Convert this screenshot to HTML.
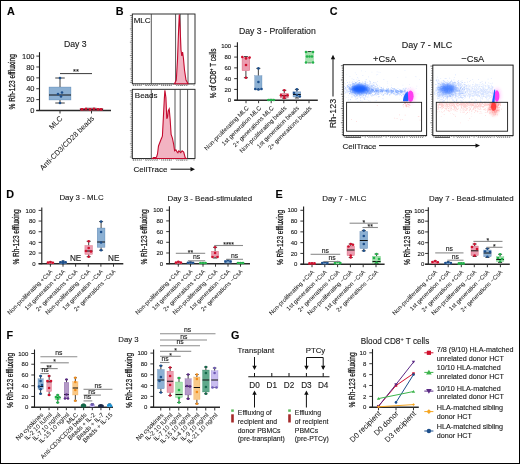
<!DOCTYPE html>
<html><head><meta charset="utf-8"><style>
html,body{margin:0;padding:0;background:#fff;}
svg{display:block;}
svg text{font-family:"Liberation Sans", sans-serif;opacity:0.99;stroke:#161616;stroke-width:0.12px;}
.vl{stroke-width:0.28px;}
.rl{stroke-width:0.04px;}
</style></head><body>
<svg width="520" height="464" viewBox="0 0 520 464">
<rect x="0" y="0" width="520" height="464" fill="#fff"/>
<text x="7" y="14.5" font-size="10.8" text-anchor="start" font-weight="bold" fill="#000" >A</text>
<text x="115.8" y="15" font-size="10.8" text-anchor="start" font-weight="bold" fill="#000" >B</text>
<text x="329.7" y="15" font-size="10.8" text-anchor="start" font-weight="bold" fill="#000" >C</text>
<text x="6.2" y="197.8" font-size="10.8" text-anchor="start" font-weight="bold" fill="#000" >D</text>
<text x="275.6" y="198.3" font-size="10.8" text-anchor="start" font-weight="bold" fill="#000" >E</text>
<text x="6.5" y="339" font-size="10.8" text-anchor="start" font-weight="bold" fill="#000" >F</text>
<text x="231" y="339" font-size="10.8" text-anchor="start" font-weight="bold" fill="#000" >G</text>
<text x="64" y="46.8" font-size="8.7" text-anchor="start" font-weight="normal" fill="#161616" >Day 3</text>
<line x1="39.5" y1="52.2" x2="39.5" y2="111.0" stroke="#1a1a1a" stroke-width="1.1" />
<line x1="36.3" y1="110.5" x2="111" y2="110.5" stroke="#2a2a2a" stroke-width="1.4" />
<line x1="36.3" y1="110.5" x2="39.5" y2="110.5" stroke="#222" stroke-width="0.9" />
<text transform="translate(34.5,113.2) scale(1.0,1)" font-size="7.5" text-anchor="end" fill="#161616">0</text>
<line x1="36.3" y1="99.62" x2="39.5" y2="99.62" stroke="#222" stroke-width="0.9" />
<text transform="translate(34.5,102.32000000000001) scale(1.0,1)" font-size="7.5" text-anchor="end" fill="#161616">20</text>
<line x1="36.3" y1="88.74" x2="39.5" y2="88.74" stroke="#222" stroke-width="0.9" />
<text transform="translate(34.5,91.44) scale(1.0,1)" font-size="7.5" text-anchor="end" fill="#161616">40</text>
<line x1="36.3" y1="77.86" x2="39.5" y2="77.86" stroke="#222" stroke-width="0.9" />
<text transform="translate(34.5,80.56) scale(1.0,1)" font-size="7.5" text-anchor="end" fill="#161616">60</text>
<line x1="36.3" y1="66.97999999999999" x2="39.5" y2="66.97999999999999" stroke="#222" stroke-width="0.9" />
<text transform="translate(34.5,69.67999999999999) scale(1.0,1)" font-size="7.5" text-anchor="end" fill="#161616">80</text>
<line x1="36.3" y1="56.1" x2="39.5" y2="56.1" stroke="#222" stroke-width="0.9" />
<text transform="translate(34.5,58.800000000000004) scale(1.0,1)" font-size="7.5" text-anchor="end" fill="#161616">100</text>
<text class="vl" transform="translate(15.2,81.8) rotate(-90) scale(0.745,1)" font-size="8.8" text-anchor="middle" fill="#161616">% Rh-123 effluxing</text>
<line x1="60" y1="110.5" x2="60" y2="113.5" stroke="#333" stroke-width="1.0" />
<line x1="91.5" y1="110.5" x2="91.5" y2="113.5" stroke="#333" stroke-width="1.0" />
<line x1="60.0" y1="78" x2="60.0" y2="87" stroke="#2a2a2a" stroke-width="0.9" />
<line x1="60.0" y1="100" x2="60.0" y2="103" stroke="#2a2a2a" stroke-width="0.9" />
<line x1="55.25" y1="78" x2="64.75" y2="78" stroke="#2a2a2a" stroke-width="0.9" />
<line x1="55.25" y1="103" x2="64.75" y2="103" stroke="#2a2a2a" stroke-width="0.9" />
<rect x="49" y="87" width="22" height="13" fill="#8cb0d3" stroke="#1d4f8c" stroke-width="0.35" stroke-opacity="0.6"/>
<line x1="49" y1="95" x2="71" y2="95" stroke="#111" stroke-width="1" />
<circle cx="60" cy="78" r="1.3" fill="#1d4f8c"/>
<circle cx="58" cy="94" r="1.3" fill="#1d4f8c"/>
<circle cx="62" cy="92.5" r="1.3" fill="#1d4f8c"/>
<circle cx="61" cy="96.5" r="1.3" fill="#1d4f8c"/>
<circle cx="60" cy="103" r="1.3" fill="#1d4f8c"/>
<rect x="80" y="108.4" width="23" height="2.2" fill="#1a1a1a" stroke="none" stroke-width="1" />
<line x1="91.5" y1="108.3" x2="91.5" y2="108.3" stroke="#2a2a2a" stroke-width="0.9" />
<line x1="91.5" y1="110.3" x2="91.5" y2="110.3" stroke="#2a2a2a" stroke-width="0.9" />
<line x1="86.5" y1="108.3" x2="96.5" y2="108.3" stroke="#2a2a2a" stroke-width="0.9" />
<line x1="86.5" y1="110.3" x2="96.5" y2="110.3" stroke="#2a2a2a" stroke-width="0.9" />
<rect x="80" y="108.3" width="23" height="2.0" fill="#ea9cb0" stroke="#d0102e" stroke-width="0.35" stroke-opacity="0.6"/>
<line x1="80" y1="109.4" x2="103" y2="109.4" stroke="#111" stroke-width="1" />
<circle cx="82" cy="109.3" r="1.3" fill="#d0102e"/>
<circle cx="86" cy="108.8" r="1.3" fill="#d0102e"/>
<circle cx="90" cy="109.4" r="1.3" fill="#d0102e"/>
<circle cx="94" cy="108.8" r="1.3" fill="#d0102e"/>
<circle cx="98" cy="109.3" r="1.3" fill="#d0102e"/>
<circle cx="101" cy="109.4" r="1.3" fill="#d0102e"/>
<line x1="60" y1="73.6" x2="92" y2="73.6" stroke="#222" stroke-width="0.9" />
<text x="76.0" y="74.0" font-size="7.5" text-anchor="middle" font-weight="normal" fill="#161616" >**</text>
<text class="rl" transform="translate(63,119) rotate(-45) scale(1.0,1)" font-size="7.4" text-anchor="end" fill="#161616">MLC</text>
<text class="rl" transform="translate(94.5,119) rotate(-45) scale(1.0,1)" font-size="7.4" text-anchor="end" fill="#161616">Anti-CD3/CD28 beads</text>
<rect x="132.3" y="14" width="62.69999999999999" height="69.8" fill="none" stroke="#1a1a1a" stroke-width="0.9" />
<line x1="151.3" y1="14" x2="151.3" y2="83.8" stroke="#3a3a3a" stroke-width="0.85" />
<line x1="175.6" y1="14" x2="175.6" y2="83.8" stroke="#3a3a3a" stroke-width="0.85" />
<line x1="180.2" y1="14" x2="180.2" y2="83.8" stroke="#3a3a3a" stroke-width="0.85" />
<line x1="188" y1="14" x2="188" y2="83.8" stroke="#3a3a3a" stroke-width="0.85" />
<line x1="129.9" y1="15.5" x2="132.3" y2="15.5" stroke="#333" stroke-width="0.6" />
<line x1="130.70000000000002" y1="17.408571428571427" x2="132.3" y2="17.408571428571427" stroke="#333" stroke-width="0.6" />
<line x1="130.70000000000002" y1="19.31714285714286" x2="132.3" y2="19.31714285714286" stroke="#333" stroke-width="0.6" />
<line x1="130.70000000000002" y1="21.225714285714286" x2="132.3" y2="21.225714285714286" stroke="#333" stroke-width="0.6" />
<line x1="130.70000000000002" y1="23.134285714285713" x2="132.3" y2="23.134285714285713" stroke="#333" stroke-width="0.6" />
<line x1="130.70000000000002" y1="25.042857142857144" x2="132.3" y2="25.042857142857144" stroke="#333" stroke-width="0.6" />
<line x1="130.70000000000002" y1="26.951428571428572" x2="132.3" y2="26.951428571428572" stroke="#333" stroke-width="0.6" />
<line x1="129.9" y1="28.86" x2="132.3" y2="28.86" stroke="#333" stroke-width="0.6" />
<line x1="130.70000000000002" y1="30.768571428571427" x2="132.3" y2="30.768571428571427" stroke="#333" stroke-width="0.6" />
<line x1="130.70000000000002" y1="32.677142857142854" x2="132.3" y2="32.677142857142854" stroke="#333" stroke-width="0.6" />
<line x1="130.70000000000002" y1="34.58571428571429" x2="132.3" y2="34.58571428571429" stroke="#333" stroke-width="0.6" />
<line x1="130.70000000000002" y1="36.49428571428571" x2="132.3" y2="36.49428571428571" stroke="#333" stroke-width="0.6" />
<line x1="130.70000000000002" y1="38.402857142857144" x2="132.3" y2="38.402857142857144" stroke="#333" stroke-width="0.6" />
<line x1="130.70000000000002" y1="40.31142857142857" x2="132.3" y2="40.31142857142857" stroke="#333" stroke-width="0.6" />
<line x1="129.9" y1="42.22" x2="132.3" y2="42.22" stroke="#333" stroke-width="0.6" />
<line x1="130.70000000000002" y1="44.12857142857143" x2="132.3" y2="44.12857142857143" stroke="#333" stroke-width="0.6" />
<line x1="130.70000000000002" y1="46.037142857142854" x2="132.3" y2="46.037142857142854" stroke="#333" stroke-width="0.6" />
<line x1="130.70000000000002" y1="47.94571428571428" x2="132.3" y2="47.94571428571428" stroke="#333" stroke-width="0.6" />
<line x1="130.70000000000002" y1="49.85428571428571" x2="132.3" y2="49.85428571428571" stroke="#333" stroke-width="0.6" />
<line x1="130.70000000000002" y1="51.76285714285714" x2="132.3" y2="51.76285714285714" stroke="#333" stroke-width="0.6" />
<line x1="130.70000000000002" y1="53.67142857142857" x2="132.3" y2="53.67142857142857" stroke="#333" stroke-width="0.6" />
<line x1="129.9" y1="55.58" x2="132.3" y2="55.58" stroke="#333" stroke-width="0.6" />
<line x1="130.70000000000002" y1="57.488571428571426" x2="132.3" y2="57.488571428571426" stroke="#333" stroke-width="0.6" />
<line x1="130.70000000000002" y1="59.39714285714285" x2="132.3" y2="59.39714285714285" stroke="#333" stroke-width="0.6" />
<line x1="130.70000000000002" y1="61.30571428571428" x2="132.3" y2="61.30571428571428" stroke="#333" stroke-width="0.6" />
<line x1="130.70000000000002" y1="63.214285714285715" x2="132.3" y2="63.214285714285715" stroke="#333" stroke-width="0.6" />
<line x1="130.70000000000002" y1="65.12285714285714" x2="132.3" y2="65.12285714285714" stroke="#333" stroke-width="0.6" />
<line x1="130.70000000000002" y1="67.03142857142856" x2="132.3" y2="67.03142857142856" stroke="#333" stroke-width="0.6" />
<line x1="129.9" y1="68.94" x2="132.3" y2="68.94" stroke="#333" stroke-width="0.6" />
<line x1="130.70000000000002" y1="70.84857142857143" x2="132.3" y2="70.84857142857143" stroke="#333" stroke-width="0.6" />
<line x1="130.70000000000002" y1="72.75714285714287" x2="132.3" y2="72.75714285714287" stroke="#333" stroke-width="0.6" />
<line x1="130.70000000000002" y1="74.66571428571427" x2="132.3" y2="74.66571428571427" stroke="#333" stroke-width="0.6" />
<line x1="130.70000000000002" y1="76.57428571428571" x2="132.3" y2="76.57428571428571" stroke="#333" stroke-width="0.6" />
<line x1="130.70000000000002" y1="78.48285714285714" x2="132.3" y2="78.48285714285714" stroke="#333" stroke-width="0.6" />
<line x1="130.70000000000002" y1="80.39142857142856" x2="132.3" y2="80.39142857142856" stroke="#333" stroke-width="0.6" />
<line x1="129.9" y1="82.3" x2="132.3" y2="82.3" stroke="#333" stroke-width="0.6" />
<line x1="133.3" y1="83.8" x2="133.3" y2="86.0" stroke="#444" stroke-width="0.5" />
<line x1="135.32333333333335" y1="83.8" x2="135.32333333333335" y2="85.0" stroke="#444" stroke-width="0.5" />
<line x1="137.34666666666666" y1="83.8" x2="137.34666666666666" y2="85.0" stroke="#444" stroke-width="0.5" />
<line x1="139.37" y1="83.8" x2="139.37" y2="85.0" stroke="#444" stroke-width="0.5" />
<line x1="141.39333333333335" y1="83.8" x2="141.39333333333335" y2="85.0" stroke="#444" stroke-width="0.5" />
<line x1="143.41666666666669" y1="83.8" x2="143.41666666666669" y2="85.0" stroke="#444" stroke-width="0.5" />
<line x1="145.44" y1="83.8" x2="145.44" y2="86.0" stroke="#444" stroke-width="0.5" />
<line x1="147.46333333333334" y1="83.8" x2="147.46333333333334" y2="85.0" stroke="#444" stroke-width="0.5" />
<line x1="149.48666666666668" y1="83.8" x2="149.48666666666668" y2="85.0" stroke="#444" stroke-width="0.5" />
<line x1="151.51000000000002" y1="83.8" x2="151.51000000000002" y2="85.0" stroke="#444" stroke-width="0.5" />
<line x1="153.53333333333333" y1="83.8" x2="153.53333333333333" y2="85.0" stroke="#444" stroke-width="0.5" />
<line x1="155.55666666666667" y1="83.8" x2="155.55666666666667" y2="85.0" stroke="#444" stroke-width="0.5" />
<line x1="157.58" y1="83.8" x2="157.58" y2="86.0" stroke="#444" stroke-width="0.5" />
<line x1="159.60333333333335" y1="83.8" x2="159.60333333333335" y2="85.0" stroke="#444" stroke-width="0.5" />
<line x1="161.62666666666667" y1="83.8" x2="161.62666666666667" y2="85.0" stroke="#444" stroke-width="0.5" />
<line x1="163.65" y1="83.8" x2="163.65" y2="85.0" stroke="#444" stroke-width="0.5" />
<line x1="165.67333333333335" y1="83.8" x2="165.67333333333335" y2="85.0" stroke="#444" stroke-width="0.5" />
<line x1="167.69666666666666" y1="83.8" x2="167.69666666666666" y2="85.0" stroke="#444" stroke-width="0.5" />
<line x1="169.72" y1="83.8" x2="169.72" y2="86.0" stroke="#444" stroke-width="0.5" />
<line x1="171.74333333333334" y1="83.8" x2="171.74333333333334" y2="85.0" stroke="#444" stroke-width="0.5" />
<line x1="173.76666666666668" y1="83.8" x2="173.76666666666668" y2="85.0" stroke="#444" stroke-width="0.5" />
<line x1="175.79000000000002" y1="83.8" x2="175.79000000000002" y2="85.0" stroke="#444" stroke-width="0.5" />
<line x1="177.81333333333333" y1="83.8" x2="177.81333333333333" y2="85.0" stroke="#444" stroke-width="0.5" />
<line x1="179.83666666666667" y1="83.8" x2="179.83666666666667" y2="85.0" stroke="#444" stroke-width="0.5" />
<line x1="181.86" y1="83.8" x2="181.86" y2="86.0" stroke="#444" stroke-width="0.5" />
<line x1="183.88333333333333" y1="83.8" x2="183.88333333333333" y2="85.0" stroke="#444" stroke-width="0.5" />
<line x1="185.90666666666667" y1="83.8" x2="185.90666666666667" y2="85.0" stroke="#444" stroke-width="0.5" />
<line x1="187.93" y1="83.8" x2="187.93" y2="85.0" stroke="#444" stroke-width="0.5" />
<line x1="189.95333333333332" y1="83.8" x2="189.95333333333332" y2="85.0" stroke="#444" stroke-width="0.5" />
<line x1="191.97666666666666" y1="83.8" x2="191.97666666666666" y2="85.0" stroke="#444" stroke-width="0.5" />
<line x1="194.0" y1="83.8" x2="194.0" y2="86.0" stroke="#444" stroke-width="0.5" />
<line x1="132.92700000000002" y1="85.39999999999999" x2="141.705" y2="85.39999999999999" stroke="#777" stroke-width="1.0" stroke-dasharray="1.2,0.7"/>
<line x1="146.094" y1="85.39999999999999" x2="156.75300000000001" y2="85.39999999999999" stroke="#777" stroke-width="1.0" stroke-dasharray="1.2,0.7"/>
<line x1="161.142" y1="85.39999999999999" x2="172.428" y2="85.39999999999999" stroke="#777" stroke-width="1.0" stroke-dasharray="1.2,0.7"/>
<line x1="176.19" y1="85.39999999999999" x2="188.103" y2="85.39999999999999" stroke="#777" stroke-width="1.0" stroke-dasharray="1.2,0.7"/>
<path d="M174.5,83.8 L176.3,80 L177.5,60 L178.6,30 L179.3,14.5 L180.2,30 L181.0,50 L181.8,56 L182.6,52 L183.4,58 L184.5,70 L186,80 L188,83.8 Z" fill="#f2b3c2" stroke="#c40a2e" stroke-width="1.1"/>
<text x="133.7" y="23.3" font-size="8.0" text-anchor="start" font-weight="normal" fill="#111" >MLC</text>
<rect x="132.3" y="89.3" width="62.69999999999999" height="69.2" fill="none" stroke="#1a1a1a" stroke-width="0.9" />
<line x1="151.3" y1="89.3" x2="151.3" y2="158.5" stroke="#3a3a3a" stroke-width="0.85" />
<line x1="175" y1="89.3" x2="175" y2="158.5" stroke="#3a3a3a" stroke-width="0.85" />
<line x1="180.2" y1="89.3" x2="180.2" y2="158.5" stroke="#3a3a3a" stroke-width="0.85" />
<line x1="187.6" y1="89.3" x2="187.6" y2="158.5" stroke="#3a3a3a" stroke-width="0.85" />
<line x1="129.9" y1="90.8" x2="132.3" y2="90.8" stroke="#333" stroke-width="0.6" />
<line x1="130.70000000000002" y1="92.69142857142857" x2="132.3" y2="92.69142857142857" stroke="#333" stroke-width="0.6" />
<line x1="130.70000000000002" y1="94.58285714285714" x2="132.3" y2="94.58285714285714" stroke="#333" stroke-width="0.6" />
<line x1="130.70000000000002" y1="96.47428571428571" x2="132.3" y2="96.47428571428571" stroke="#333" stroke-width="0.6" />
<line x1="130.70000000000002" y1="98.36571428571429" x2="132.3" y2="98.36571428571429" stroke="#333" stroke-width="0.6" />
<line x1="130.70000000000002" y1="100.25714285714285" x2="132.3" y2="100.25714285714285" stroke="#333" stroke-width="0.6" />
<line x1="130.70000000000002" y1="102.14857142857143" x2="132.3" y2="102.14857142857143" stroke="#333" stroke-width="0.6" />
<line x1="129.9" y1="104.03999999999999" x2="132.3" y2="104.03999999999999" stroke="#333" stroke-width="0.6" />
<line x1="130.70000000000002" y1="105.93142857142857" x2="132.3" y2="105.93142857142857" stroke="#333" stroke-width="0.6" />
<line x1="130.70000000000002" y1="107.82285714285715" x2="132.3" y2="107.82285714285715" stroke="#333" stroke-width="0.6" />
<line x1="130.70000000000002" y1="109.71428571428571" x2="132.3" y2="109.71428571428571" stroke="#333" stroke-width="0.6" />
<line x1="130.70000000000002" y1="111.60571428571428" x2="132.3" y2="111.60571428571428" stroke="#333" stroke-width="0.6" />
<line x1="130.70000000000002" y1="113.49714285714286" x2="132.3" y2="113.49714285714286" stroke="#333" stroke-width="0.6" />
<line x1="130.70000000000002" y1="115.38857142857142" x2="132.3" y2="115.38857142857142" stroke="#333" stroke-width="0.6" />
<line x1="129.9" y1="117.28" x2="132.3" y2="117.28" stroke="#333" stroke-width="0.6" />
<line x1="130.70000000000002" y1="119.17142857142856" x2="132.3" y2="119.17142857142856" stroke="#333" stroke-width="0.6" />
<line x1="130.70000000000002" y1="121.06285714285714" x2="132.3" y2="121.06285714285714" stroke="#333" stroke-width="0.6" />
<line x1="130.70000000000002" y1="122.95428571428572" x2="132.3" y2="122.95428571428572" stroke="#333" stroke-width="0.6" />
<line x1="130.70000000000002" y1="124.84571428571428" x2="132.3" y2="124.84571428571428" stroke="#333" stroke-width="0.6" />
<line x1="130.70000000000002" y1="126.73714285714286" x2="132.3" y2="126.73714285714286" stroke="#333" stroke-width="0.6" />
<line x1="130.70000000000002" y1="128.62857142857143" x2="132.3" y2="128.62857142857143" stroke="#333" stroke-width="0.6" />
<line x1="129.9" y1="130.51999999999998" x2="132.3" y2="130.51999999999998" stroke="#333" stroke-width="0.6" />
<line x1="130.70000000000002" y1="132.4114285714286" x2="132.3" y2="132.4114285714286" stroke="#333" stroke-width="0.6" />
<line x1="130.70000000000002" y1="134.30285714285714" x2="132.3" y2="134.30285714285714" stroke="#333" stroke-width="0.6" />
<line x1="130.70000000000002" y1="136.1942857142857" x2="132.3" y2="136.1942857142857" stroke="#333" stroke-width="0.6" />
<line x1="130.70000000000002" y1="138.0857142857143" x2="132.3" y2="138.0857142857143" stroke="#333" stroke-width="0.6" />
<line x1="130.70000000000002" y1="139.97714285714287" x2="132.3" y2="139.97714285714287" stroke="#333" stroke-width="0.6" />
<line x1="130.70000000000002" y1="141.86857142857144" x2="132.3" y2="141.86857142857144" stroke="#333" stroke-width="0.6" />
<line x1="129.9" y1="143.76" x2="132.3" y2="143.76" stroke="#333" stroke-width="0.6" />
<line x1="130.70000000000002" y1="145.65142857142857" x2="132.3" y2="145.65142857142857" stroke="#333" stroke-width="0.6" />
<line x1="130.70000000000002" y1="147.54285714285714" x2="132.3" y2="147.54285714285714" stroke="#333" stroke-width="0.6" />
<line x1="130.70000000000002" y1="149.43428571428572" x2="132.3" y2="149.43428571428572" stroke="#333" stroke-width="0.6" />
<line x1="130.70000000000002" y1="151.3257142857143" x2="132.3" y2="151.3257142857143" stroke="#333" stroke-width="0.6" />
<line x1="130.70000000000002" y1="153.21714285714285" x2="132.3" y2="153.21714285714285" stroke="#333" stroke-width="0.6" />
<line x1="130.70000000000002" y1="155.10857142857145" x2="132.3" y2="155.10857142857145" stroke="#333" stroke-width="0.6" />
<line x1="129.9" y1="157.0" x2="132.3" y2="157.0" stroke="#333" stroke-width="0.6" />
<line x1="133.3" y1="158.5" x2="133.3" y2="160.7" stroke="#444" stroke-width="0.5" />
<line x1="135.32333333333335" y1="158.5" x2="135.32333333333335" y2="159.7" stroke="#444" stroke-width="0.5" />
<line x1="137.34666666666666" y1="158.5" x2="137.34666666666666" y2="159.7" stroke="#444" stroke-width="0.5" />
<line x1="139.37" y1="158.5" x2="139.37" y2="159.7" stroke="#444" stroke-width="0.5" />
<line x1="141.39333333333335" y1="158.5" x2="141.39333333333335" y2="159.7" stroke="#444" stroke-width="0.5" />
<line x1="143.41666666666669" y1="158.5" x2="143.41666666666669" y2="159.7" stroke="#444" stroke-width="0.5" />
<line x1="145.44" y1="158.5" x2="145.44" y2="160.7" stroke="#444" stroke-width="0.5" />
<line x1="147.46333333333334" y1="158.5" x2="147.46333333333334" y2="159.7" stroke="#444" stroke-width="0.5" />
<line x1="149.48666666666668" y1="158.5" x2="149.48666666666668" y2="159.7" stroke="#444" stroke-width="0.5" />
<line x1="151.51000000000002" y1="158.5" x2="151.51000000000002" y2="159.7" stroke="#444" stroke-width="0.5" />
<line x1="153.53333333333333" y1="158.5" x2="153.53333333333333" y2="159.7" stroke="#444" stroke-width="0.5" />
<line x1="155.55666666666667" y1="158.5" x2="155.55666666666667" y2="159.7" stroke="#444" stroke-width="0.5" />
<line x1="157.58" y1="158.5" x2="157.58" y2="160.7" stroke="#444" stroke-width="0.5" />
<line x1="159.60333333333335" y1="158.5" x2="159.60333333333335" y2="159.7" stroke="#444" stroke-width="0.5" />
<line x1="161.62666666666667" y1="158.5" x2="161.62666666666667" y2="159.7" stroke="#444" stroke-width="0.5" />
<line x1="163.65" y1="158.5" x2="163.65" y2="159.7" stroke="#444" stroke-width="0.5" />
<line x1="165.67333333333335" y1="158.5" x2="165.67333333333335" y2="159.7" stroke="#444" stroke-width="0.5" />
<line x1="167.69666666666666" y1="158.5" x2="167.69666666666666" y2="159.7" stroke="#444" stroke-width="0.5" />
<line x1="169.72" y1="158.5" x2="169.72" y2="160.7" stroke="#444" stroke-width="0.5" />
<line x1="171.74333333333334" y1="158.5" x2="171.74333333333334" y2="159.7" stroke="#444" stroke-width="0.5" />
<line x1="173.76666666666668" y1="158.5" x2="173.76666666666668" y2="159.7" stroke="#444" stroke-width="0.5" />
<line x1="175.79000000000002" y1="158.5" x2="175.79000000000002" y2="159.7" stroke="#444" stroke-width="0.5" />
<line x1="177.81333333333333" y1="158.5" x2="177.81333333333333" y2="159.7" stroke="#444" stroke-width="0.5" />
<line x1="179.83666666666667" y1="158.5" x2="179.83666666666667" y2="159.7" stroke="#444" stroke-width="0.5" />
<line x1="181.86" y1="158.5" x2="181.86" y2="160.7" stroke="#444" stroke-width="0.5" />
<line x1="183.88333333333333" y1="158.5" x2="183.88333333333333" y2="159.7" stroke="#444" stroke-width="0.5" />
<line x1="185.90666666666667" y1="158.5" x2="185.90666666666667" y2="159.7" stroke="#444" stroke-width="0.5" />
<line x1="187.93" y1="158.5" x2="187.93" y2="159.7" stroke="#444" stroke-width="0.5" />
<line x1="189.95333333333332" y1="158.5" x2="189.95333333333332" y2="159.7" stroke="#444" stroke-width="0.5" />
<line x1="191.97666666666666" y1="158.5" x2="191.97666666666666" y2="159.7" stroke="#444" stroke-width="0.5" />
<line x1="194.0" y1="158.5" x2="194.0" y2="160.7" stroke="#444" stroke-width="0.5" />
<line x1="132.92700000000002" y1="160.1" x2="141.705" y2="160.1" stroke="#777" stroke-width="1.0" stroke-dasharray="1.2,0.7"/>
<line x1="146.094" y1="160.1" x2="156.75300000000001" y2="160.1" stroke="#777" stroke-width="1.0" stroke-dasharray="1.2,0.7"/>
<line x1="161.142" y1="160.1" x2="172.428" y2="160.1" stroke="#777" stroke-width="1.0" stroke-dasharray="1.2,0.7"/>
<line x1="176.19" y1="160.1" x2="188.103" y2="160.1" stroke="#777" stroke-width="1.0" stroke-dasharray="1.2,0.7"/>
<path d="M152.5,158.5 L153.6,157.6 L156.5,157.2 L157.5,154 L158.5,146 L160.8,140 L162.4,136.2 L163.3,118.8 L164.3,99.4 L164.9,90.2 L165.9,97.5 L166.8,118.8 L167.6,116.8 L168.2,111 L169.2,109 L170.1,118.8 L171.1,134.3 L172.4,138.2 L173.6,144 L174.6,150.8 L175.9,149.8 L176.9,151.7 L177.9,152.7 L178.8,150.8 L180.8,152.7 L182.1,150.8 L183.7,152.1 L185.2,157.6 L186.2,158.5 Z" fill="#f2b3c2" stroke="#c40a2e" stroke-width="1.1"/>
<text x="134.8" y="97.8" font-size="8.0" text-anchor="start" font-weight="normal" fill="#111" >Beads</text>
<text x="133.5" y="171.5" font-size="8.0" text-anchor="start" font-weight="normal" fill="#111" >CellTrace</text>
<line x1="170.6" y1="169.2" x2="192" y2="169.2" stroke="#111" stroke-width="1" />
<path d="M195,169.2 L190.5,167 L190.5,171.4 Z" fill="#111"/>
<text x="239" y="34.4" font-size="8.7" text-anchor="start" font-weight="normal" fill="#161616" >Day 3 - Proliferation</text>
<line x1="237.4" y1="42.2" x2="237.4" y2="100.7" stroke="#1a1a1a" stroke-width="1.1" />
<line x1="234.20000000000002" y1="100.2" x2="317.8" y2="100.2" stroke="#2a2a2a" stroke-width="1.4" />
<line x1="234.20000000000002" y1="100.2" x2="237.4" y2="100.2" stroke="#222" stroke-width="0.9" />
<text transform="translate(231.20000000000002,102.36) scale(1.0,1)" font-size="6.0" text-anchor="end" fill="#161616">0</text>
<line x1="234.20000000000002" y1="89.42" x2="237.4" y2="89.42" stroke="#222" stroke-width="0.9" />
<text transform="translate(231.20000000000002,91.58) scale(1.0,1)" font-size="6.0" text-anchor="end" fill="#161616">20</text>
<line x1="234.20000000000002" y1="78.64" x2="237.4" y2="78.64" stroke="#222" stroke-width="0.9" />
<text transform="translate(231.20000000000002,80.8) scale(1.0,1)" font-size="6.0" text-anchor="end" fill="#161616">40</text>
<line x1="234.20000000000002" y1="67.86" x2="237.4" y2="67.86" stroke="#222" stroke-width="0.9" />
<text transform="translate(231.20000000000002,70.02) scale(1.0,1)" font-size="6.0" text-anchor="end" fill="#161616">60</text>
<line x1="234.20000000000002" y1="57.080000000000005" x2="237.4" y2="57.080000000000005" stroke="#222" stroke-width="0.9" />
<text transform="translate(231.20000000000002,59.24000000000001) scale(1.0,1)" font-size="6.0" text-anchor="end" fill="#161616">80</text>
<line x1="234.20000000000002" y1="46.3" x2="237.4" y2="46.3" stroke="#222" stroke-width="0.9" />
<text transform="translate(231.20000000000002,48.459999999999994) scale(1.0,1)" font-size="6.0" text-anchor="end" fill="#161616">100</text>
<text class="vl" transform="translate(215.5,73.4) rotate(-90) scale(0.745,1)" font-size="8.6" text-anchor="middle" fill="#161616">% of CD8<tspan font-size="5.5" dy="-3">+</tspan><tspan dy="3"> T cells</tspan></text>
<line x1="246" y1="100.2" x2="246" y2="103.2" stroke="#333" stroke-width="1.0" />
<line x1="258.6" y1="100.2" x2="258.6" y2="103.2" stroke="#333" stroke-width="1.0" />
<line x1="271.2" y1="100.2" x2="271.2" y2="103.2" stroke="#333" stroke-width="1.0" />
<line x1="283.8" y1="100.2" x2="283.8" y2="103.2" stroke="#333" stroke-width="1.0" />
<line x1="296.4" y1="100.2" x2="296.4" y2="103.2" stroke="#333" stroke-width="1.0" />
<line x1="309" y1="100.2" x2="309" y2="103.2" stroke="#333" stroke-width="1.0" />
<line x1="245.9" y1="56.6" x2="245.9" y2="57.3" stroke="#2a2a2a" stroke-width="0.9" />
<line x1="245.9" y1="70.7" x2="245.9" y2="77.7" stroke="#2a2a2a" stroke-width="0.9" />
<line x1="243.9" y1="56.6" x2="247.9" y2="56.6" stroke="#2a2a2a" stroke-width="0.9" />
<line x1="243.9" y1="77.7" x2="247.9" y2="77.7" stroke="#2a2a2a" stroke-width="0.9" />
<rect x="242" y="57.3" width="7.800000000000011" height="13.400000000000006" fill="#ea9cb0" stroke="#d0102e" stroke-width="0.35" stroke-opacity="0.6"/>
<circle cx="242.3" cy="57" r="1.3" fill="#d0102e"/>
<circle cx="249.6" cy="57.6" r="1.3" fill="#d0102e"/>
<circle cx="246" cy="58.4" r="1.3" fill="#d0102e"/>
<circle cx="246" cy="65" r="1.3" fill="#d0102e"/>
<circle cx="246" cy="77.7" r="1.3" fill="#d0102e"/>
<line x1="258.35" y1="68.4" x2="258.35" y2="75.7" stroke="#2a2a2a" stroke-width="0.9" />
<line x1="258.35" y1="89.3" x2="258.35" y2="89.6" stroke="#2a2a2a" stroke-width="0.9" />
<line x1="256.35" y1="68.4" x2="260.35" y2="68.4" stroke="#2a2a2a" stroke-width="0.9" />
<line x1="256.35" y1="89.6" x2="260.35" y2="89.6" stroke="#2a2a2a" stroke-width="0.9" />
<rect x="254.7" y="75.7" width="7.300000000000011" height="13.599999999999994" fill="#8cb0d3" stroke="#1d4f8c" stroke-width="0.35" stroke-opacity="0.6"/>
<circle cx="258.4" cy="68.4" r="1.3" fill="#1d4f8c"/>
<circle cx="258.4" cy="82" r="1.3" fill="#1d4f8c"/>
<circle cx="255.3" cy="89" r="1.3" fill="#1d4f8c"/>
<circle cx="258.4" cy="89.4" r="1.3" fill="#1d4f8c"/>
<circle cx="261.5" cy="89" r="1.3" fill="#1d4f8c"/>
<line x1="271.20000000000005" y1="99.4" x2="271.20000000000005" y2="99.4" stroke="#2a2a2a" stroke-width="0.9" />
<line x1="271.20000000000005" y1="100.2" x2="271.20000000000005" y2="100.2" stroke="#2a2a2a" stroke-width="0.9" />
<line x1="269.20000000000005" y1="99.4" x2="273.20000000000005" y2="99.4" stroke="#2a2a2a" stroke-width="0.9" />
<line x1="269.20000000000005" y1="100.2" x2="273.20000000000005" y2="100.2" stroke="#2a2a2a" stroke-width="0.9" />
<rect x="267.3" y="99.4" width="7.800000000000011" height="0.7999999999999972" fill="#a6e2ae" stroke="#22b24a" stroke-width="0.35" stroke-opacity="0.6"/>
<circle cx="268.5" cy="100" r="1.3" fill="#22b24a"/>
<circle cx="271" cy="100" r="1.3" fill="#22b24a"/>
<circle cx="273.8" cy="100" r="1.3" fill="#22b24a"/>
<line x1="284.3" y1="90.3" x2="284.3" y2="93.3" stroke="#2a2a2a" stroke-width="0.9" />
<line x1="284.3" y1="98" x2="284.3" y2="98.3" stroke="#2a2a2a" stroke-width="0.9" />
<line x1="282.3" y1="90.3" x2="286.3" y2="90.3" stroke="#2a2a2a" stroke-width="0.9" />
<line x1="282.3" y1="98.3" x2="286.3" y2="98.3" stroke="#2a2a2a" stroke-width="0.9" />
<rect x="280.3" y="93.3" width="8.0" height="4.700000000000003" fill="#ea9cb0" stroke="#d0102e" stroke-width="0.35" stroke-opacity="0.6"/>
<line x1="280.3" y1="95.7" x2="288.3" y2="95.7" stroke="#111" stroke-width="1" />
<circle cx="284.3" cy="90.3" r="1.3" fill="#d0102e"/>
<circle cx="281" cy="95.2" r="1.3" fill="#d0102e"/>
<circle cx="284.3" cy="96" r="1.3" fill="#d0102e"/>
<circle cx="287.5" cy="95.2" r="1.3" fill="#d0102e"/>
<circle cx="284.3" cy="98" r="1.3" fill="#d0102e"/>
<line x1="296.9" y1="89.4" x2="296.9" y2="91.8" stroke="#2a2a2a" stroke-width="0.9" />
<line x1="296.9" y1="97" x2="296.9" y2="98" stroke="#2a2a2a" stroke-width="0.9" />
<line x1="294.9" y1="89.4" x2="298.9" y2="89.4" stroke="#2a2a2a" stroke-width="0.9" />
<line x1="294.9" y1="98" x2="298.9" y2="98" stroke="#2a2a2a" stroke-width="0.9" />
<rect x="293" y="91.8" width="7.800000000000011" height="5.200000000000003" fill="#8cb0d3" stroke="#1d4f8c" stroke-width="0.35" stroke-opacity="0.6"/>
<line x1="293" y1="94.5" x2="300.8" y2="94.5" stroke="#111" stroke-width="1" />
<circle cx="296.9" cy="89.4" r="1.3" fill="#1d4f8c"/>
<circle cx="294" cy="93" r="1.3" fill="#1d4f8c"/>
<circle cx="296.9" cy="95" r="1.3" fill="#1d4f8c"/>
<circle cx="299.8" cy="96.5" r="1.3" fill="#1d4f8c"/>
<line x1="309.55" y1="51.5" x2="309.55" y2="52" stroke="#2a2a2a" stroke-width="0.9" />
<line x1="309.55" y1="62.5" x2="309.55" y2="62.8" stroke="#2a2a2a" stroke-width="0.9" />
<line x1="307.55" y1="51.5" x2="311.55" y2="51.5" stroke="#2a2a2a" stroke-width="0.9" />
<line x1="307.55" y1="62.8" x2="311.55" y2="62.8" stroke="#2a2a2a" stroke-width="0.9" />
<rect x="305.6" y="52" width="7.899999999999977" height="10.5" fill="#a6e2ae" stroke="#22b24a" stroke-width="0.35" stroke-opacity="0.6"/>
<circle cx="306" cy="52" r="1.3" fill="#22b24a"/>
<circle cx="313" cy="52" r="1.3" fill="#22b24a"/>
<circle cx="309.5" cy="56.5" r="1.3" fill="#22b24a"/>
<circle cx="306" cy="62.5" r="1.3" fill="#22b24a"/>
<circle cx="313" cy="62.5" r="1.3" fill="#22b24a"/>
<circle cx="307" cy="56.5" r="1.3" fill="#22b24a"/>
<circle cx="312" cy="56.5" r="1.3" fill="#22b24a"/>
<text class="rl" transform="translate(249,108.5) rotate(-45) scale(1.0,1)" font-size="6.1" text-anchor="end" fill="#161616">Non-proliferating MLC</text>
<text class="rl" transform="translate(261.6,108.5) rotate(-45) scale(1.0,1)" font-size="6.1" text-anchor="end" fill="#161616">1st generation MLC</text>
<text class="rl" transform="translate(274.2,108.5) rotate(-45) scale(1.0,1)" font-size="6.1" text-anchor="end" fill="#161616">2+ generations MLC</text>
<text class="rl" transform="translate(286.8,108.5) rotate(-45) scale(1.0,1)" font-size="6.1" text-anchor="end" fill="#161616">Non-proliferating beads</text>
<text class="rl" transform="translate(299.4,108.5) rotate(-45) scale(1.0,1)" font-size="6.1" text-anchor="end" fill="#161616">1st generation beads</text>
<text class="rl" transform="translate(312,108.5) rotate(-45) scale(1.0,1)" font-size="6.1" text-anchor="end" fill="#161616">2+ generations beads</text>
<text x="401.8" y="48.3" font-size="9.0" text-anchor="start" font-weight="normal" fill="#161616" >Day 7 - MLC</text>
<text x="384.6" y="61.5" font-size="9.3" text-anchor="middle" font-weight="normal" fill="#161616" >+CsA</text>
<text x="472.8" y="61.5" font-size="9.3" text-anchor="middle" font-weight="normal" fill="#161616" >−CsA</text>
<defs><filter id="bl1" x="-50%" y="-50%" width="200%" height="200%"><feGaussianBlur stdDeviation="1.6"/></filter><filter id="bl2" x="-50%" y="-50%" width="200%" height="200%"><feGaussianBlur stdDeviation="0.7"/></filter></defs>
<rect x="343.3" y="64.7" width="83.30000000000001" height="70.89999999999999" fill="none" stroke="#1a1a1a" stroke-width="1.0" />
<line x1="340.90000000000003" y1="65.7" x2="343.3" y2="65.7" stroke="#333" stroke-width="0.65" />
<line x1="341.8" y1="68.07586206896552" x2="343.3" y2="68.07586206896552" stroke="#333" stroke-width="0.65" />
<line x1="341.8" y1="70.45172413793104" x2="343.3" y2="70.45172413793104" stroke="#333" stroke-width="0.65" />
<line x1="341.8" y1="72.82758620689656" x2="343.3" y2="72.82758620689656" stroke="#333" stroke-width="0.65" />
<line x1="341.8" y1="75.20344827586207" x2="343.3" y2="75.20344827586207" stroke="#333" stroke-width="0.65" />
<line x1="341.8" y1="77.57931034482759" x2="343.3" y2="77.57931034482759" stroke="#333" stroke-width="0.65" />
<line x1="340.90000000000003" y1="79.95517241379311" x2="343.3" y2="79.95517241379311" stroke="#333" stroke-width="0.65" />
<line x1="341.8" y1="82.33103448275862" x2="343.3" y2="82.33103448275862" stroke="#333" stroke-width="0.65" />
<line x1="341.8" y1="84.70689655172414" x2="343.3" y2="84.70689655172414" stroke="#333" stroke-width="0.65" />
<line x1="341.8" y1="87.08275862068966" x2="343.3" y2="87.08275862068966" stroke="#333" stroke-width="0.65" />
<line x1="341.8" y1="89.45862068965516" x2="343.3" y2="89.45862068965516" stroke="#333" stroke-width="0.65" />
<line x1="341.8" y1="91.83448275862068" x2="343.3" y2="91.83448275862068" stroke="#333" stroke-width="0.65" />
<line x1="340.90000000000003" y1="94.21034482758621" x2="343.3" y2="94.21034482758621" stroke="#333" stroke-width="0.65" />
<line x1="341.8" y1="96.58620689655173" x2="343.3" y2="96.58620689655173" stroke="#333" stroke-width="0.65" />
<line x1="341.8" y1="98.96206896551723" x2="343.3" y2="98.96206896551723" stroke="#333" stroke-width="0.65" />
<line x1="341.8" y1="101.33793103448275" x2="343.3" y2="101.33793103448275" stroke="#333" stroke-width="0.65" />
<line x1="341.8" y1="103.71379310344827" x2="343.3" y2="103.71379310344827" stroke="#333" stroke-width="0.65" />
<line x1="341.8" y1="106.08965517241379" x2="343.3" y2="106.08965517241379" stroke="#333" stroke-width="0.65" />
<line x1="340.90000000000003" y1="108.4655172413793" x2="343.3" y2="108.4655172413793" stroke="#333" stroke-width="0.65" />
<line x1="341.8" y1="110.84137931034482" x2="343.3" y2="110.84137931034482" stroke="#333" stroke-width="0.65" />
<line x1="341.8" y1="113.21724137931034" x2="343.3" y2="113.21724137931034" stroke="#333" stroke-width="0.65" />
<line x1="341.8" y1="115.59310344827585" x2="343.3" y2="115.59310344827585" stroke="#333" stroke-width="0.65" />
<line x1="341.8" y1="117.96896551724137" x2="343.3" y2="117.96896551724137" stroke="#333" stroke-width="0.65" />
<line x1="341.8" y1="120.34482758620689" x2="343.3" y2="120.34482758620689" stroke="#333" stroke-width="0.65" />
<line x1="340.90000000000003" y1="122.72068965517241" x2="343.3" y2="122.72068965517241" stroke="#333" stroke-width="0.65" />
<line x1="341.8" y1="125.09655172413792" x2="343.3" y2="125.09655172413792" stroke="#333" stroke-width="0.65" />
<line x1="341.8" y1="127.47241379310344" x2="343.3" y2="127.47241379310344" stroke="#333" stroke-width="0.65" />
<line x1="341.8" y1="129.84827586206896" x2="343.3" y2="129.84827586206896" stroke="#333" stroke-width="0.65" />
<line x1="341.8" y1="132.22413793103448" x2="343.3" y2="132.22413793103448" stroke="#333" stroke-width="0.65" />
<line x1="341.8" y1="134.6" x2="343.3" y2="134.6" stroke="#333" stroke-width="0.65" />
<line x1="344.3" y1="135.6" x2="344.3" y2="137.79999999999998" stroke="#444" stroke-width="0.55" />
<line x1="346.62285714285713" y1="135.6" x2="346.62285714285713" y2="136.9" stroke="#444" stroke-width="0.55" />
<line x1="348.9457142857143" y1="135.6" x2="348.9457142857143" y2="136.9" stroke="#444" stroke-width="0.55" />
<line x1="351.2685714285714" y1="135.6" x2="351.2685714285714" y2="136.9" stroke="#444" stroke-width="0.55" />
<line x1="353.5914285714286" y1="135.6" x2="353.5914285714286" y2="136.9" stroke="#444" stroke-width="0.55" />
<line x1="355.9142857142857" y1="135.6" x2="355.9142857142857" y2="136.9" stroke="#444" stroke-width="0.55" />
<line x1="358.2371428571429" y1="135.6" x2="358.2371428571429" y2="136.9" stroke="#444" stroke-width="0.55" />
<line x1="360.56" y1="135.6" x2="360.56" y2="136.9" stroke="#444" stroke-width="0.55" />
<line x1="362.8828571428572" y1="135.6" x2="362.8828571428572" y2="136.9" stroke="#444" stroke-width="0.55" />
<line x1="365.2057142857143" y1="135.6" x2="365.2057142857143" y2="137.79999999999998" stroke="#444" stroke-width="0.55" />
<line x1="367.52857142857147" y1="135.6" x2="367.52857142857147" y2="136.9" stroke="#444" stroke-width="0.55" />
<line x1="369.8514285714286" y1="135.6" x2="369.8514285714286" y2="136.9" stroke="#444" stroke-width="0.55" />
<line x1="372.1742857142857" y1="135.6" x2="372.1742857142857" y2="136.9" stroke="#444" stroke-width="0.55" />
<line x1="374.4971428571429" y1="135.6" x2="374.4971428571429" y2="136.9" stroke="#444" stroke-width="0.55" />
<line x1="376.82000000000005" y1="135.6" x2="376.82000000000005" y2="136.9" stroke="#444" stroke-width="0.55" />
<line x1="379.14285714285717" y1="135.6" x2="379.14285714285717" y2="136.9" stroke="#444" stroke-width="0.55" />
<line x1="381.4657142857143" y1="135.6" x2="381.4657142857143" y2="136.9" stroke="#444" stroke-width="0.55" />
<line x1="383.78857142857146" y1="135.6" x2="383.78857142857146" y2="136.9" stroke="#444" stroke-width="0.55" />
<line x1="386.1114285714286" y1="135.6" x2="386.1114285714286" y2="137.79999999999998" stroke="#444" stroke-width="0.55" />
<line x1="388.43428571428575" y1="135.6" x2="388.43428571428575" y2="136.9" stroke="#444" stroke-width="0.55" />
<line x1="390.75714285714287" y1="135.6" x2="390.75714285714287" y2="136.9" stroke="#444" stroke-width="0.55" />
<line x1="393.08000000000004" y1="135.6" x2="393.08000000000004" y2="136.9" stroke="#444" stroke-width="0.55" />
<line x1="395.40285714285716" y1="135.6" x2="395.40285714285716" y2="136.9" stroke="#444" stroke-width="0.55" />
<line x1="397.7257142857143" y1="135.6" x2="397.7257142857143" y2="136.9" stroke="#444" stroke-width="0.55" />
<line x1="400.04857142857145" y1="135.6" x2="400.04857142857145" y2="136.9" stroke="#444" stroke-width="0.55" />
<line x1="402.37142857142857" y1="135.6" x2="402.37142857142857" y2="136.9" stroke="#444" stroke-width="0.55" />
<line x1="404.69428571428574" y1="135.6" x2="404.69428571428574" y2="136.9" stroke="#444" stroke-width="0.55" />
<line x1="407.01714285714286" y1="135.6" x2="407.01714285714286" y2="137.79999999999998" stroke="#444" stroke-width="0.55" />
<line x1="409.34000000000003" y1="135.6" x2="409.34000000000003" y2="136.9" stroke="#444" stroke-width="0.55" />
<line x1="411.66285714285715" y1="135.6" x2="411.66285714285715" y2="136.9" stroke="#444" stroke-width="0.55" />
<line x1="413.9857142857143" y1="135.6" x2="413.9857142857143" y2="136.9" stroke="#444" stroke-width="0.55" />
<line x1="416.30857142857144" y1="135.6" x2="416.30857142857144" y2="136.9" stroke="#444" stroke-width="0.55" />
<line x1="418.6314285714286" y1="135.6" x2="418.6314285714286" y2="136.9" stroke="#444" stroke-width="0.55" />
<line x1="420.95428571428573" y1="135.6" x2="420.95428571428573" y2="136.9" stroke="#444" stroke-width="0.55" />
<line x1="423.27714285714285" y1="135.6" x2="423.27714285714285" y2="136.9" stroke="#444" stroke-width="0.55" />
<line x1="425.6" y1="135.6" x2="425.6" y2="136.9" stroke="#444" stroke-width="0.55" />
<line x1="345.3" y1="137.29999999999998" x2="361.127" y2="137.29999999999998" stroke="#333" stroke-width="1.0" />
<line x1="368.29" y1="137.29999999999998" x2="382.451" y2="137.29999999999998" stroke="#777" stroke-width="0.9" stroke-dasharray="1.2,0.8"/>
<line x1="389.94800000000004" y1="137.29999999999998" x2="404.942" y2="137.29999999999998" stroke="#777" stroke-width="0.9" stroke-dasharray="1.2,0.8"/>
<line x1="409.94000000000005" y1="137.29999999999998" x2="424.101" y2="137.29999999999998" stroke="#777" stroke-width="0.9" stroke-dasharray="1.2,0.8"/>
<ellipse cx="359.5" cy="89" rx="8.5" ry="4.3" fill="#1c64ff" filter="url(#bl1)"/>
<path d="M352.4,90.1h0.7v0.7h-0.7zM366.2,87.5h0.7v0.7h-0.7zM351.8,88.8h0.7v0.7h-0.7zM363.0,92.2h0.7v0.7h-0.7zM352.5,85.3h0.7v0.7h-0.7zM364.4,90.4h0.7v0.7h-0.7zM369.5,91.8h0.7v0.7h-0.7zM359.4,88.2h0.7v0.7h-0.7zM375.9,88.2h0.7v0.7h-0.7zM355.1,85.7h0.7v0.7h-0.7zM360.6,89.4h0.7v0.7h-0.7zM357.9,88.8h0.7v0.7h-0.7zM361.7,91.0h0.7v0.7h-0.7zM366.8,89.6h0.7v0.7h-0.7zM348.9,91.0h0.7v0.7h-0.7zM351.2,88.5h0.7v0.7h-0.7zM350.9,89.0h0.7v0.7h-0.7zM355.2,89.6h0.7v0.7h-0.7zM380.5,88.9h0.7v0.7h-0.7zM365.2,85.2h0.7v0.7h-0.7zM358.2,90.9h0.7v0.7h-0.7zM359.4,90.1h0.7v0.7h-0.7zM360.6,86.1h0.7v0.7h-0.7zM363.5,86.6h0.7v0.7h-0.7zM371.6,87.5h0.7v0.7h-0.7zM364.3,89.0h0.7v0.7h-0.7zM365.9,87.3h0.7v0.7h-0.7zM366.2,88.6h0.7v0.7h-0.7zM367.8,90.8h0.7v0.7h-0.7zM360.9,86.7h0.7v0.7h-0.7zM364.8,90.4h0.7v0.7h-0.7zM370.2,87.9h0.7v0.7h-0.7zM363.4,90.5h0.7v0.7h-0.7zM361.8,89.6h0.7v0.7h-0.7zM361.1,87.3h0.7v0.7h-0.7zM353.7,87.9h0.7v0.7h-0.7zM363.7,93.4h0.7v0.7h-0.7zM366.1,92.1h0.7v0.7h-0.7zM364.8,91.0h0.7v0.7h-0.7zM361.1,91.2h0.7v0.7h-0.7zM371.0,88.0h0.7v0.7h-0.7zM355.7,94.7h0.7v0.7h-0.7zM361.5,91.8h0.7v0.7h-0.7zM365.4,85.7h0.7v0.7h-0.7zM375.1,94.1h0.7v0.7h-0.7zM361.1,91.2h0.7v0.7h-0.7zM360.8,86.4h0.7v0.7h-0.7zM359.3,90.1h0.7v0.7h-0.7zM366.9,91.1h0.7v0.7h-0.7zM360.4,92.9h0.7v0.7h-0.7zM355.3,91.3h0.7v0.7h-0.7zM366.9,88.2h0.7v0.7h-0.7zM348.9,86.4h0.7v0.7h-0.7zM361.5,90.5h0.7v0.7h-0.7zM369.6,86.1h0.7v0.7h-0.7zM360.0,90.9h0.7v0.7h-0.7zM359.0,82.1h0.7v0.7h-0.7zM365.0,95.7h0.7v0.7h-0.7zM366.2,86.3h0.7v0.7h-0.7zM357.4,89.6h0.7v0.7h-0.7zM375.4,90.8h0.7v0.7h-0.7zM360.7,93.5h0.7v0.7h-0.7zM359.5,94.4h0.7v0.7h-0.7zM355.8,87.6h0.7v0.7h-0.7zM364.5,93.1h0.7v0.7h-0.7zM364.1,89.9h0.7v0.7h-0.7zM348.7,86.9h0.7v0.7h-0.7zM356.2,87.5h0.7v0.7h-0.7zM363.6,88.0h0.7v0.7h-0.7zM364.9,89.2h0.7v0.7h-0.7zM357.9,89.3h0.7v0.7h-0.7zM362.7,91.5h0.7v0.7h-0.7zM357.0,88.3h0.7v0.7h-0.7zM351.5,93.7h0.7v0.7h-0.7zM369.0,88.5h0.7v0.7h-0.7zM357.0,85.4h0.7v0.7h-0.7zM361.1,89.6h0.7v0.7h-0.7zM373.5,89.7h0.7v0.7h-0.7zM355.2,81.9h0.7v0.7h-0.7zM368.7,89.5h0.7v0.7h-0.7zM350.0,89.5h0.7v0.7h-0.7zM350.0,99.1h0.7v0.7h-0.7zM366.9,90.7h0.7v0.7h-0.7zM358.9,82.8h0.7v0.7h-0.7zM359.2,84.5h0.7v0.7h-0.7zM363.7,82.8h0.7v0.7h-0.7zM354.4,92.5h0.7v0.7h-0.7zM370.2,85.6h0.7v0.7h-0.7zM350.5,91.6h0.7v0.7h-0.7zM365.3,86.1h0.7v0.7h-0.7zM355.7,87.0h0.7v0.7h-0.7zM352.6,87.0h0.7v0.7h-0.7zM367.8,91.0h0.7v0.7h-0.7zM372.8,88.7h0.7v0.7h-0.7zM359.2,86.2h0.7v0.7h-0.7zM359.2,85.2h0.7v0.7h-0.7zM349.0,91.0h0.7v0.7h-0.7zM368.9,91.4h0.7v0.7h-0.7zM368.3,89.7h0.7v0.7h-0.7zM355.5,89.3h0.7v0.7h-0.7zM357.7,85.8h0.7v0.7h-0.7zM349.5,84.7h0.7v0.7h-0.7zM360.0,89.4h0.7v0.7h-0.7zM357.1,93.1h0.7v0.7h-0.7zM361.1,90.7h0.7v0.7h-0.7zM367.6,86.6h0.7v0.7h-0.7zM347.8,91.2h0.7v0.7h-0.7zM355.7,92.8h0.7v0.7h-0.7zM362.1,91.9h0.7v0.7h-0.7zM364.7,83.0h0.7v0.7h-0.7zM364.5,87.0h0.7v0.7h-0.7zM355.3,87.7h0.7v0.7h-0.7zM364.8,91.6h0.7v0.7h-0.7zM366.3,84.2h0.7v0.7h-0.7zM356.3,82.1h0.7v0.7h-0.7zM359.4,90.7h0.7v0.7h-0.7zM355.3,89.7h0.7v0.7h-0.7zM361.4,91.9h0.7v0.7h-0.7zM354.9,86.6h0.7v0.7h-0.7zM355.3,94.1h0.7v0.7h-0.7zM366.8,88.6h0.7v0.7h-0.7zM361.4,89.3h0.7v0.7h-0.7zM361.3,88.4h0.7v0.7h-0.7zM357.9,85.4h0.7v0.7h-0.7zM356.0,93.8h0.7v0.7h-0.7zM363.3,89.2h0.7v0.7h-0.7zM358.7,89.2h0.7v0.7h-0.7zM362.2,87.1h0.7v0.7h-0.7zM361.2,89.7h0.7v0.7h-0.7zM355.4,86.7h0.7v0.7h-0.7zM353.8,85.9h0.7v0.7h-0.7zM365.5,82.2h0.7v0.7h-0.7zM358.3,87.2h0.7v0.7h-0.7zM356.2,89.3h0.7v0.7h-0.7zM367.0,89.2h0.7v0.7h-0.7zM359.1,87.2h0.7v0.7h-0.7zM359.2,91.6h0.7v0.7h-0.7zM357.6,85.7h0.7v0.7h-0.7zM352.2,85.8h0.7v0.7h-0.7zM351.4,92.2h0.7v0.7h-0.7zM362.2,88.3h0.7v0.7h-0.7zM369.0,87.1h0.7v0.7h-0.7zM364.7,91.3h0.7v0.7h-0.7zM350.4,84.5h0.7v0.7h-0.7zM354.2,91.6h0.7v0.7h-0.7zM368.0,85.4h0.7v0.7h-0.7zM366.5,87.9h0.7v0.7h-0.7zM357.6,87.4h0.7v0.7h-0.7zM358.0,83.7h0.7v0.7h-0.7zM353.8,85.4h0.7v0.7h-0.7zM363.0,95.1h0.7v0.7h-0.7zM376.9,88.0h0.7v0.7h-0.7zM349.3,87.8h0.7v0.7h-0.7zM354.2,94.8h0.7v0.7h-0.7zM363.5,86.9h0.7v0.7h-0.7zM365.8,90.6h0.7v0.7h-0.7zM349.9,87.5h0.7v0.7h-0.7zM358.5,89.1h0.7v0.7h-0.7zM360.8,88.0h0.7v0.7h-0.7zM361.2,87.3h0.7v0.7h-0.7zM354.4,93.4h0.7v0.7h-0.7zM362.2,90.3h0.7v0.7h-0.7zM350.1,88.5h0.7v0.7h-0.7zM365.1,85.3h0.7v0.7h-0.7zM366.8,87.9h0.7v0.7h-0.7zM362.5,88.6h0.7v0.7h-0.7zM361.4,92.5h0.7v0.7h-0.7zM357.5,93.5h0.7v0.7h-0.7zM355.2,86.3h0.7v0.7h-0.7zM364.4,85.9h0.7v0.7h-0.7zM357.7,91.6h0.7v0.7h-0.7zM367.5,83.9h0.7v0.7h-0.7zM363.1,94.5h0.7v0.7h-0.7zM367.4,88.3h0.7v0.7h-0.7zM356.3,88.1h0.7v0.7h-0.7zM352.9,88.2h0.7v0.7h-0.7zM358.8,88.6h0.7v0.7h-0.7zM367.3,88.3h0.7v0.7h-0.7zM351.0,92.0h0.7v0.7h-0.7zM353.3,87.7h0.7v0.7h-0.7zM359.2,88.0h0.7v0.7h-0.7zM353.8,88.3h0.7v0.7h-0.7zM373.5,87.2h0.7v0.7h-0.7zM359.2,92.3h0.7v0.7h-0.7zM364.6,91.2h0.7v0.7h-0.7zM365.3,83.3h0.7v0.7h-0.7zM354.6,89.4h0.7v0.7h-0.7zM363.1,92.8h0.7v0.7h-0.7zM362.9,88.3h0.7v0.7h-0.7zM360.2,88.4h0.7v0.7h-0.7zM361.5,91.0h0.7v0.7h-0.7zM357.9,86.6h0.7v0.7h-0.7zM354.7,92.2h0.7v0.7h-0.7zM367.9,91.9h0.7v0.7h-0.7zM365.3,91.4h0.7v0.7h-0.7zM360.0,90.9h0.7v0.7h-0.7zM353.5,88.4h0.7v0.7h-0.7zM355.5,91.1h0.7v0.7h-0.7zM356.4,88.7h0.7v0.7h-0.7zM362.5,92.9h0.7v0.7h-0.7zM355.1,86.3h0.7v0.7h-0.7zM365.1,85.8h0.7v0.7h-0.7zM362.8,87.3h0.7v0.7h-0.7zM359.3,83.7h0.7v0.7h-0.7zM364.4,87.5h0.7v0.7h-0.7zM354.4,95.0h0.7v0.7h-0.7zM364.4,99.2h0.7v0.7h-0.7zM362.5,88.0h0.7v0.7h-0.7zM360.7,93.7h0.7v0.7h-0.7zM359.8,90.3h0.7v0.7h-0.7zM363.2,86.4h0.7v0.7h-0.7zM360.8,87.5h0.7v0.7h-0.7zM352.3,91.5h0.7v0.7h-0.7zM364.1,89.2h0.7v0.7h-0.7zM354.4,83.2h0.7v0.7h-0.7zM363.0,88.7h0.7v0.7h-0.7zM349.6,88.8h0.7v0.7h-0.7zM350.6,88.9h0.7v0.7h-0.7zM360.9,90.0h0.7v0.7h-0.7zM361.3,89.5h0.7v0.7h-0.7zM352.9,87.9h0.7v0.7h-0.7zM356.8,88.3h0.7v0.7h-0.7zM361.7,90.8h0.7v0.7h-0.7zM370.1,81.6h0.7v0.7h-0.7zM362.5,88.4h0.7v0.7h-0.7zM374.1,91.7h0.7v0.7h-0.7zM349.8,90.2h0.7v0.7h-0.7zM356.8,91.9h0.7v0.7h-0.7zM353.5,88.7h0.7v0.7h-0.7zM359.2,88.7h0.7v0.7h-0.7zM356.4,83.7h0.7v0.7h-0.7zM362.9,91.9h0.7v0.7h-0.7zM359.6,86.1h0.7v0.7h-0.7zM361.3,90.6h0.7v0.7h-0.7zM358.9,89.0h0.7v0.7h-0.7zM368.7,85.8h0.7v0.7h-0.7zM356.5,83.5h0.7v0.7h-0.7zM355.7,86.9h0.7v0.7h-0.7zM354.0,87.0h0.7v0.7h-0.7zM371.1,88.4h0.7v0.7h-0.7zM359.3,95.4h0.7v0.7h-0.7zM359.6,84.0h0.7v0.7h-0.7zM362.5,86.3h0.7v0.7h-0.7zM370.2,85.4h0.7v0.7h-0.7zM356.4,84.3h0.7v0.7h-0.7zM360.6,86.1h0.7v0.7h-0.7zM359.6,87.9h0.7v0.7h-0.7zM356.2,91.7h0.7v0.7h-0.7zM365.8,89.2h0.7v0.7h-0.7zM354.4,85.9h0.7v0.7h-0.7zM361.7,95.9h0.7v0.7h-0.7zM357.2,86.7h0.7v0.7h-0.7zM355.7,85.8h0.7v0.7h-0.7zM354.0,88.4h0.7v0.7h-0.7zM368.9,89.0h0.7v0.7h-0.7zM356.8,84.3h0.7v0.7h-0.7zM361.3,88.9h0.7v0.7h-0.7zM352.4,85.8h0.7v0.7h-0.7zM359.7,91.9h0.7v0.7h-0.7zM363.9,89.6h0.7v0.7h-0.7zM358.0,89.9h0.7v0.7h-0.7zM359.9,95.3h0.7v0.7h-0.7zM353.0,87.9h0.7v0.7h-0.7zM367.9,88.2h0.7v0.7h-0.7zM368.8,88.9h0.7v0.7h-0.7zM360.9,87.9h0.7v0.7h-0.7zM351.4,86.2h0.7v0.7h-0.7zM373.7,90.9h0.7v0.7h-0.7zM363.8,91.8h0.7v0.7h-0.7zM363.5,92.0h0.7v0.7h-0.7zM358.4,88.4h0.7v0.7h-0.7zM366.1,88.0h0.7v0.7h-0.7zM351.7,88.3h0.7v0.7h-0.7zM356.6,90.8h0.7v0.7h-0.7zM355.5,85.9h0.7v0.7h-0.7zM357.9,93.5h0.7v0.7h-0.7zM359.7,89.5h0.7v0.7h-0.7zM360.1,89.9h0.7v0.7h-0.7zM365.8,93.0h0.7v0.7h-0.7zM349.8,92.9h0.7v0.7h-0.7zM360.0,88.1h0.7v0.7h-0.7zM374.9,88.5h0.7v0.7h-0.7zM372.1,91.8h0.7v0.7h-0.7zM353.6,90.4h0.7v0.7h-0.7zM364.6,88.6h0.7v0.7h-0.7zM345.6,88.0h0.7v0.7h-0.7zM358.8,85.8h0.7v0.7h-0.7zM371.3,88.3h0.7v0.7h-0.7zM357.6,88.1h0.7v0.7h-0.7zM355.1,86.7h0.7v0.7h-0.7zM360.6,89.9h0.7v0.7h-0.7zM356.9,88.7h0.7v0.7h-0.7zM351.4,90.5h0.7v0.7h-0.7zM355.4,89.6h0.7v0.7h-0.7zM354.4,87.5h0.7v0.7h-0.7zM361.3,85.5h0.7v0.7h-0.7zM375.3,88.9h0.7v0.7h-0.7zM359.5,86.9h0.7v0.7h-0.7zM369.9,93.0h0.7v0.7h-0.7zM361.9,85.0h0.7v0.7h-0.7zM356.9,90.8h0.7v0.7h-0.7zM356.8,85.6h0.7v0.7h-0.7zM352.6,86.8h0.7v0.7h-0.7zM360.1,87.1h0.7v0.7h-0.7zM360.1,97.1h0.7v0.7h-0.7zM371.0,86.0h0.7v0.7h-0.7zM362.1,89.3h0.7v0.7h-0.7zM359.1,92.0h0.7v0.7h-0.7zM357.9,88.1h0.7v0.7h-0.7zM357.7,88.7h0.7v0.7h-0.7zM368.0,91.3h0.7v0.7h-0.7zM351.7,87.7h0.7v0.7h-0.7zM355.1,91.4h0.7v0.7h-0.7zM361.4,91.6h0.7v0.7h-0.7zM359.6,83.5h0.7v0.7h-0.7zM362.8,89.7h0.7v0.7h-0.7zM363.1,85.2h0.7v0.7h-0.7zM360.5,87.0h0.7v0.7h-0.7zM355.7,90.0h0.7v0.7h-0.7zM362.2,86.4h0.7v0.7h-0.7zM349.4,81.8h0.7v0.7h-0.7zM356.4,92.3h0.7v0.7h-0.7zM359.7,82.5h0.7v0.7h-0.7zM354.7,90.2h0.7v0.7h-0.7zM370.4,92.4h0.7v0.7h-0.7zM362.3,89.6h0.7v0.7h-0.7zM353.4,87.7h0.7v0.7h-0.7zM357.9,86.8h0.7v0.7h-0.7zM360.4,87.9h0.7v0.7h-0.7zM362.1,93.2h0.7v0.7h-0.7zM364.6,90.2h0.7v0.7h-0.7zM358.5,84.6h0.7v0.7h-0.7zM359.3,90.6h0.7v0.7h-0.7zM353.7,92.6h0.7v0.7h-0.7zM357.9,90.1h0.7v0.7h-0.7zM358.0,85.4h0.7v0.7h-0.7zM372.8,85.6h0.7v0.7h-0.7zM365.7,87.4h0.7v0.7h-0.7zM361.7,86.7h0.7v0.7h-0.7zM357.4,91.7h0.7v0.7h-0.7zM372.1,86.5h0.7v0.7h-0.7zM360.1,91.7h0.7v0.7h-0.7zM356.1,91.1h0.7v0.7h-0.7zM355.1,90.8h0.7v0.7h-0.7zM362.7,92.5h0.7v0.7h-0.7zM362.3,85.5h0.7v0.7h-0.7zM364.1,85.8h0.7v0.7h-0.7zM364.7,93.4h0.7v0.7h-0.7zM363.7,87.4h0.7v0.7h-0.7zM367.4,89.5h0.7v0.7h-0.7zM352.3,88.0h0.7v0.7h-0.7zM368.8,88.1h0.7v0.7h-0.7zM360.8,88.0h0.7v0.7h-0.7zM349.5,87.5h0.7v0.7h-0.7zM362.2,89.6h0.7v0.7h-0.7zM358.9,82.8h0.7v0.7h-0.7zM367.6,91.1h0.7v0.7h-0.7zM366.3,92.8h0.7v0.7h-0.7zM357.2,87.2h0.7v0.7h-0.7zM361.9,93.9h0.7v0.7h-0.7zM349.5,88.3h0.7v0.7h-0.7zM355.6,90.6h0.7v0.7h-0.7zM369.1,88.1h0.7v0.7h-0.7zM352.3,89.1h0.7v0.7h-0.7zM358.2,84.5h0.7v0.7h-0.7zM365.5,87.5h0.7v0.7h-0.7zM364.2,85.2h0.7v0.7h-0.7zM366.8,84.8h0.7v0.7h-0.7zM366.5,83.7h0.7v0.7h-0.7zM368.6,87.9h0.7v0.7h-0.7zM350.4,88.3h0.7v0.7h-0.7zM362.1,86.1h0.7v0.7h-0.7zM356.9,89.8h0.7v0.7h-0.7zM359.0,80.1h0.7v0.7h-0.7zM357.3,90.2h0.7v0.7h-0.7zM361.8,91.9h0.7v0.7h-0.7zM355.7,96.4h0.7v0.7h-0.7zM365.0,89.9h0.7v0.7h-0.7zM366.7,91.8h0.7v0.7h-0.7zM360.6,87.2h0.7v0.7h-0.7zM366.3,90.2h0.7v0.7h-0.7zM348.3,85.8h0.7v0.7h-0.7zM362.9,89.3h0.7v0.7h-0.7zM361.7,90.9h0.7v0.7h-0.7zM360.9,93.6h0.7v0.7h-0.7zM356.3,87.8h0.7v0.7h-0.7zM362.0,91.2h0.7v0.7h-0.7zM364.9,93.3h0.7v0.7h-0.7zM357.0,92.4h0.7v0.7h-0.7zM362.9,86.0h0.7v0.7h-0.7zM359.1,95.0h0.7v0.7h-0.7zM364.9,87.6h0.7v0.7h-0.7zM345.1,86.9h0.7v0.7h-0.7zM355.6,89.2h0.7v0.7h-0.7zM374.3,91.2h0.7v0.7h-0.7zM361.9,86.3h0.7v0.7h-0.7zM352.6,88.4h0.7v0.7h-0.7zM357.1,97.7h0.7v0.7h-0.7zM357.5,87.2h0.7v0.7h-0.7zM367.0,89.2h0.7v0.7h-0.7zM352.3,92.7h0.7v0.7h-0.7zM358.1,85.1h0.7v0.7h-0.7zM362.0,90.4h0.7v0.7h-0.7zM357.9,91.0h0.7v0.7h-0.7zM365.1,86.4h0.7v0.7h-0.7zM347.2,82.1h0.7v0.7h-0.7zM359.2,92.6h0.7v0.7h-0.7zM366.2,93.0h0.7v0.7h-0.7zM371.5,89.0h0.7v0.7h-0.7zM366.5,84.6h0.7v0.7h-0.7zM364.3,90.1h0.7v0.7h-0.7zM359.4,87.7h0.7v0.7h-0.7zM353.1,89.4h0.7v0.7h-0.7zM367.9,87.9h0.7v0.7h-0.7zM363.3,87.1h0.7v0.7h-0.7zM361.6,86.1h0.7v0.7h-0.7zM362.3,88.4h0.7v0.7h-0.7zM362.0,87.2h0.7v0.7h-0.7zM352.7,88.0h0.7v0.7h-0.7zM366.4,93.6h0.7v0.7h-0.7zM358.0,91.3h0.7v0.7h-0.7zM364.7,90.1h0.7v0.7h-0.7zM350.4,89.9h0.7v0.7h-0.7zM354.0,92.4h0.7v0.7h-0.7zM364.9,90.8h0.7v0.7h-0.7zM344.3,90.8h0.7v0.7h-0.7zM364.3,85.3h0.7v0.7h-0.7zM366.0,89.2h0.7v0.7h-0.7zM358.9,86.9h0.7v0.7h-0.7zM353.7,87.7h0.7v0.7h-0.7zM379.1,89.6h0.7v0.7h-0.7zM361.3,87.1h0.7v0.7h-0.7zM356.2,87.4h0.7v0.7h-0.7zM354.5,91.5h0.7v0.7h-0.7zM358.3,91.5h0.7v0.7h-0.7zM352.8,91.7h0.7v0.7h-0.7zM359.8,90.9h0.7v0.7h-0.7zM359.4,86.4h0.7v0.7h-0.7zM367.5,87.7h0.7v0.7h-0.7zM359.1,86.4h0.7v0.7h-0.7zM361.3,87.9h0.7v0.7h-0.7zM361.7,90.0h0.7v0.7h-0.7zM355.7,84.9h0.7v0.7h-0.7zM362.7,91.7h0.7v0.7h-0.7zM364.3,85.7h0.7v0.7h-0.7zM363.8,90.1h0.7v0.7h-0.7zM361.8,90.2h0.7v0.7h-0.7zM358.0,89.6h0.7v0.7h-0.7zM365.7,87.5h0.7v0.7h-0.7zM351.1,88.7h0.7v0.7h-0.7zM361.2,83.6h0.7v0.7h-0.7zM355.8,90.7h0.7v0.7h-0.7zM359.1,89.3h0.7v0.7h-0.7zM352.2,91.6h0.7v0.7h-0.7zM370.9,88.4h0.7v0.7h-0.7zM355.5,85.6h0.7v0.7h-0.7zM365.5,89.3h0.7v0.7h-0.7zM355.1,92.5h0.7v0.7h-0.7zM364.7,90.7h0.7v0.7h-0.7zM349.1,88.7h0.7v0.7h-0.7zM363.9,85.4h0.7v0.7h-0.7zM365.8,93.1h0.7v0.7h-0.7zM366.4,86.9h0.7v0.7h-0.7zM355.6,91.7h0.7v0.7h-0.7zM366.2,92.6h0.7v0.7h-0.7zM367.4,88.7h0.7v0.7h-0.7zM357.5,83.6h0.7v0.7h-0.7zM364.9,95.6h0.7v0.7h-0.7zM357.1,87.6h0.7v0.7h-0.7zM364.0,90.1h0.7v0.7h-0.7zM351.5,86.9h0.7v0.7h-0.7zM353.2,94.9h0.7v0.7h-0.7zM355.6,91.5h0.7v0.7h-0.7zM371.9,94.5h0.7v0.7h-0.7zM368.8,93.7h0.7v0.7h-0.7zM352.3,88.0h0.7v0.7h-0.7zM355.5,88.2h0.7v0.7h-0.7zM376.3,84.1h0.7v0.7h-0.7zM363.5,85.4h0.7v0.7h-0.7zM368.3,92.8h0.7v0.7h-0.7zM356.8,95.0h0.7v0.7h-0.7zM360.5,92.8h0.7v0.7h-0.7zM361.9,87.4h0.7v0.7h-0.7zM357.6,88.7h0.7v0.7h-0.7zM363.8,89.4h0.7v0.7h-0.7zM374.6,88.4h0.7v0.7h-0.7zM357.1,86.9h0.7v0.7h-0.7zM355.2,84.8h0.7v0.7h-0.7zM353.9,91.6h0.7v0.7h-0.7zM360.4,88.5h0.7v0.7h-0.7zM362.2,92.1h0.7v0.7h-0.7zM363.8,91.2h0.7v0.7h-0.7zM356.5,88.2h0.7v0.7h-0.7zM355.2,88.7h0.7v0.7h-0.7zM354.9,87.9h0.7v0.7h-0.7zM358.9,88.4h0.7v0.7h-0.7zM358.3,87.6h0.7v0.7h-0.7zM368.1,88.0h0.7v0.7h-0.7zM353.7,89.6h0.7v0.7h-0.7zM353.2,85.9h0.7v0.7h-0.7zM360.5,84.2h0.7v0.7h-0.7zM366.4,84.2h0.7v0.7h-0.7zM354.4,90.7h0.7v0.7h-0.7zM347.7,86.5h0.7v0.7h-0.7zM352.5,88.4h0.7v0.7h-0.7zM347.8,91.6h0.7v0.7h-0.7zM359.1,89.9h0.7v0.7h-0.7zM358.0,82.8h0.7v0.7h-0.7zM359.1,85.1h0.7v0.7h-0.7zM360.1,86.5h0.7v0.7h-0.7zM358.0,88.4h0.7v0.7h-0.7zM364.8,91.2h0.7v0.7h-0.7zM353.8,89.0h0.7v0.7h-0.7zM369.0,90.4h0.7v0.7h-0.7zM355.5,88.6h0.7v0.7h-0.7zM357.8,91.7h0.7v0.7h-0.7zM360.2,90.1h0.7v0.7h-0.7zM373.7,85.0h0.7v0.7h-0.7zM353.7,84.0h0.7v0.7h-0.7zM350.1,91.5h0.7v0.7h-0.7zM361.8,93.7h0.7v0.7h-0.7zM347.8,86.4h0.7v0.7h-0.7zM369.0,92.0h0.7v0.7h-0.7zM365.5,91.5h0.7v0.7h-0.7zM360.2,89.0h0.7v0.7h-0.7zM360.2,91.4h0.7v0.7h-0.7zM359.0,89.9h0.7v0.7h-0.7zM369.0,85.7h0.7v0.7h-0.7zM355.3,90.6h0.7v0.7h-0.7zM358.4,88.5h0.7v0.7h-0.7zM373.0,90.2h0.7v0.7h-0.7zM357.4,92.2h0.7v0.7h-0.7zM375.6,85.8h0.7v0.7h-0.7zM355.8,89.3h0.7v0.7h-0.7zM356.1,95.3h0.7v0.7h-0.7zM363.3,87.8h0.7v0.7h-0.7zM363.0,86.7h0.7v0.7h-0.7zM356.2,89.3h0.7v0.7h-0.7zM374.8,82.5h0.7v0.7h-0.7zM362.6,92.9h0.7v0.7h-0.7zM364.6,94.6h0.7v0.7h-0.7zM362.8,89.4h0.7v0.7h-0.7zM359.2,86.5h0.7v0.7h-0.7zM370.1,85.6h0.7v0.7h-0.7zM359.2,87.5h0.7v0.7h-0.7zM355.1,82.6h0.7v0.7h-0.7zM357.6,89.4h0.7v0.7h-0.7zM360.9,91.4h0.7v0.7h-0.7zM359.0,87.1h0.7v0.7h-0.7zM361.9,90.9h0.7v0.7h-0.7zM354.4,84.6h0.7v0.7h-0.7zM353.6,92.1h0.7v0.7h-0.7zM366.2,86.4h0.7v0.7h-0.7zM360.7,91.4h0.7v0.7h-0.7zM368.2,87.1h0.7v0.7h-0.7zM358.5,93.1h0.7v0.7h-0.7zM374.9,93.4h0.7v0.7h-0.7zM352.9,90.3h0.7v0.7h-0.7zM358.1,88.8h0.7v0.7h-0.7zM355.9,87.6h0.7v0.7h-0.7zM359.9,94.2h0.7v0.7h-0.7zM364.3,90.2h0.7v0.7h-0.7zM360.2,86.8h0.7v0.7h-0.7zM358.6,92.6h0.7v0.7h-0.7zM365.1,94.7h0.7v0.7h-0.7zM361.6,88.9h0.7v0.7h-0.7zM350.0,90.2h0.7v0.7h-0.7zM349.3,93.4h0.7v0.7h-0.7zM356.1,89.0h0.7v0.7h-0.7zM351.6,87.6h0.7v0.7h-0.7zM354.2,92.3h0.7v0.7h-0.7zM361.5,85.6h0.7v0.7h-0.7zM348.0,88.8h0.7v0.7h-0.7zM357.0,85.8h0.7v0.7h-0.7zM363.7,88.5h0.7v0.7h-0.7zM360.7,87.3h0.7v0.7h-0.7zM356.5,87.7h0.7v0.7h-0.7zM350.1,90.8h0.7v0.7h-0.7zM362.5,84.0h0.7v0.7h-0.7zM360.6,92.3h0.7v0.7h-0.7zM361.5,92.8h0.7v0.7h-0.7zM358.3,89.0h0.7v0.7h-0.7zM351.9,86.4h0.7v0.7h-0.7zM348.7,86.4h0.7v0.7h-0.7zM361.5,90.5h0.7v0.7h-0.7zM367.2,89.4h0.7v0.7h-0.7zM353.9,90.3h0.7v0.7h-0.7zM359.1,94.2h0.7v0.7h-0.7zM372.1,91.8h0.7v0.7h-0.7zM353.0,87.5h0.7v0.7h-0.7zM361.2,86.9h0.7v0.7h-0.7zM363.2,91.0h0.7v0.7h-0.7zM365.2,89.7h0.7v0.7h-0.7zM354.5,86.6h0.7v0.7h-0.7zM359.2,92.8h0.7v0.7h-0.7zM369.8,91.8h0.7v0.7h-0.7zM362.2,91.0h0.7v0.7h-0.7zM365.1,92.7h0.7v0.7h-0.7zM365.3,84.5h0.7v0.7h-0.7zM365.9,90.1h0.7v0.7h-0.7zM357.1,90.5h0.7v0.7h-0.7zM361.8,88.8h0.7v0.7h-0.7zM349.5,89.3h0.7v0.7h-0.7zM363.5,88.9h0.7v0.7h-0.7zM350.2,90.3h0.7v0.7h-0.7zM364.5,89.5h0.7v0.7h-0.7zM362.6,88.0h0.7v0.7h-0.7zM355.9,90.5h0.7v0.7h-0.7zM357.8,89.5h0.7v0.7h-0.7zM380.2,91.1h0.7v0.7h-0.7zM360.8,84.3h0.7v0.7h-0.7zM360.6,91.2h0.7v0.7h-0.7zM355.6,88.3h0.7v0.7h-0.7zM346.0,90.6h0.7v0.7h-0.7zM356.3,91.0h0.7v0.7h-0.7zM368.5,88.5h0.7v0.7h-0.7zM366.1,89.7h0.7v0.7h-0.7zM358.7,88.2h0.7v0.7h-0.7zM354.7,92.7h0.7v0.7h-0.7zM365.5,86.1h0.7v0.7h-0.7zM365.2,86.9h0.7v0.7h-0.7zM350.7,92.5h0.7v0.7h-0.7zM352.1,92.4h0.7v0.7h-0.7zM361.2,91.6h0.7v0.7h-0.7zM363.2,92.3h0.7v0.7h-0.7zM362.2,90.7h0.7v0.7h-0.7zM361.5,92.2h0.7v0.7h-0.7zM357.6,91.9h0.7v0.7h-0.7zM369.3,88.8h0.7v0.7h-0.7zM362.7,87.5h0.7v0.7h-0.7zM358.2,89.8h0.7v0.7h-0.7zM357.9,86.4h0.7v0.7h-0.7zM359.8,89.6h0.7v0.7h-0.7zM362.0,91.1h0.7v0.7h-0.7zM349.0,93.1h0.7v0.7h-0.7zM358.9,86.8h0.7v0.7h-0.7zM357.7,90.3h0.7v0.7h-0.7zM365.4,87.9h0.7v0.7h-0.7zM361.0,84.4h0.7v0.7h-0.7zM361.1,88.7h0.7v0.7h-0.7zM357.3,91.6h0.7v0.7h-0.7zM371.1,92.0h0.7v0.7h-0.7zM355.2,93.4h0.7v0.7h-0.7zM357.9,88.9h0.7v0.7h-0.7zM356.4,90.3h0.7v0.7h-0.7zM363.4,89.4h0.7v0.7h-0.7zM358.7,88.6h0.7v0.7h-0.7zM357.5,91.8h0.7v0.7h-0.7zM356.8,88.6h0.7v0.7h-0.7zM358.7,86.8h0.7v0.7h-0.7zM358.6,84.8h0.7v0.7h-0.7zM362.5,90.6h0.7v0.7h-0.7zM358.1,93.5h0.7v0.7h-0.7zM354.9,90.6h0.7v0.7h-0.7zM363.0,87.5h0.7v0.7h-0.7zM358.5,91.6h0.7v0.7h-0.7zM360.4,89.8h0.7v0.7h-0.7zM368.6,89.6h0.7v0.7h-0.7zM349.7,86.9h0.7v0.7h-0.7zM365.2,88.6h0.7v0.7h-0.7zM353.3,83.3h0.7v0.7h-0.7zM362.0,93.3h0.7v0.7h-0.7zM352.3,82.7h0.7v0.7h-0.7zM363.1,87.4h0.7v0.7h-0.7zM358.2,88.1h0.7v0.7h-0.7zM354.4,90.3h0.7v0.7h-0.7zM365.7,90.1h0.7v0.7h-0.7zM356.6,92.0h0.7v0.7h-0.7zM359.3,90.7h0.7v0.7h-0.7zM354.2,90.9h0.7v0.7h-0.7zM364.6,92.7h0.7v0.7h-0.7zM360.2,90.3h0.7v0.7h-0.7zM356.5,91.5h0.7v0.7h-0.7zM364.8,92.1h0.7v0.7h-0.7zM357.6,85.5h0.7v0.7h-0.7zM359.6,88.4h0.7v0.7h-0.7zM355.4,90.7h0.7v0.7h-0.7zM365.8,90.1h0.7v0.7h-0.7zM366.8,90.1h0.7v0.7h-0.7zM354.0,87.3h0.7v0.7h-0.7zM357.8,91.0h0.7v0.7h-0.7zM365.7,89.4h0.7v0.7h-0.7zM366.2,86.6h0.7v0.7h-0.7zM359.3,93.3h0.7v0.7h-0.7zM362.7,92.0h0.7v0.7h-0.7zM348.4,84.2h0.7v0.7h-0.7zM354.7,91.9h0.7v0.7h-0.7zM370.0,87.2h0.7v0.7h-0.7zM354.0,86.1h0.7v0.7h-0.7zM354.6,90.6h0.7v0.7h-0.7zM358.1,94.4h0.7v0.7h-0.7zM364.4,87.0h0.7v0.7h-0.7zM361.5,88.6h0.7v0.7h-0.7zM364.8,91.6h0.7v0.7h-0.7zM357.9,91.6h0.7v0.7h-0.7zM363.5,88.8h0.7v0.7h-0.7zM361.6,91.0h0.7v0.7h-0.7zM358.1,87.1h0.7v0.7h-0.7zM367.8,89.0h0.7v0.7h-0.7zM356.4,90.3h0.7v0.7h-0.7zM351.0,89.2h0.7v0.7h-0.7zM351.7,87.8h0.7v0.7h-0.7zM349.1,87.0h0.7v0.7h-0.7zM365.5,88.5h0.7v0.7h-0.7zM352.6,94.0h0.7v0.7h-0.7zM356.2,93.2h0.7v0.7h-0.7zM356.8,84.8h0.7v0.7h-0.7zM371.3,87.8h0.7v0.7h-0.7zM364.7,92.4h0.7v0.7h-0.7zM352.0,89.2h0.7v0.7h-0.7zM356.5,90.7h0.7v0.7h-0.7zM360.0,85.4h0.7v0.7h-0.7zM360.4,91.2h0.7v0.7h-0.7zM358.2,90.6h0.7v0.7h-0.7zM356.8,88.9h0.7v0.7h-0.7zM362.2,89.4h0.7v0.7h-0.7zM367.8,91.7h0.7v0.7h-0.7zM365.2,91.1h0.7v0.7h-0.7zM361.0,85.7h0.7v0.7h-0.7zM366.5,94.0h0.7v0.7h-0.7zM361.4,88.3h0.7v0.7h-0.7zM359.8,92.5h0.7v0.7h-0.7zM361.8,86.2h0.7v0.7h-0.7zM359.0,86.8h0.7v0.7h-0.7zM358.8,86.5h0.7v0.7h-0.7zM354.7,93.2h0.7v0.7h-0.7zM366.4,84.5h0.7v0.7h-0.7zM354.1,87.8h0.7v0.7h-0.7zM357.7,85.1h0.7v0.7h-0.7zM365.4,84.4h0.7v0.7h-0.7zM364.3,91.0h0.7v0.7h-0.7zM357.8,87.2h0.7v0.7h-0.7zM360.4,89.4h0.7v0.7h-0.7zM347.3,85.5h0.7v0.7h-0.7zM363.3,88.7h0.7v0.7h-0.7zM357.5,86.2h0.7v0.7h-0.7zM355.8,86.9h0.7v0.7h-0.7zM377.0,85.5h0.7v0.7h-0.7zM369.3,90.4h0.7v0.7h-0.7zM361.3,89.6h0.7v0.7h-0.7zM357.7,93.6h0.7v0.7h-0.7zM363.1,88.9h0.7v0.7h-0.7zM359.3,89.6h0.7v0.7h-0.7zM353.1,88.1h0.7v0.7h-0.7zM356.3,90.8h0.7v0.7h-0.7zM363.7,83.7h0.7v0.7h-0.7zM358.7,91.8h0.7v0.7h-0.7zM352.2,85.7h0.7v0.7h-0.7zM366.1,88.7h0.7v0.7h-0.7zM357.3,85.6h0.7v0.7h-0.7zM361.1,87.4h0.7v0.7h-0.7zM361.3,90.2h0.7v0.7h-0.7zM364.3,88.1h0.7v0.7h-0.7zM356.9,89.1h0.7v0.7h-0.7zM359.5,89.5h0.7v0.7h-0.7zM356.8,88.4h0.7v0.7h-0.7zM356.5,87.4h0.7v0.7h-0.7zM361.0,92.3h0.7v0.7h-0.7zM356.8,90.7h0.7v0.7h-0.7zM362.1,89.3h0.7v0.7h-0.7zM364.2,87.4h0.7v0.7h-0.7zM363.5,89.9h0.7v0.7h-0.7zM363.7,94.6h0.7v0.7h-0.7zM353.6,89.3h0.7v0.7h-0.7zM362.2,86.3h0.7v0.7h-0.7zM367.3,90.3h0.7v0.7h-0.7zM355.2,85.6h0.7v0.7h-0.7zM357.5,95.8h0.7v0.7h-0.7zM373.1,82.0h0.7v0.7h-0.7zM349.0,90.9h0.7v0.7h-0.7zM359.4,87.2h0.7v0.7h-0.7zM363.7,89.3h0.7v0.7h-0.7zM361.8,89.8h0.7v0.7h-0.7zM353.4,92.8h0.7v0.7h-0.7zM357.3,92.2h0.7v0.7h-0.7zM364.2,89.1h0.7v0.7h-0.7zM360.9,88.9h0.7v0.7h-0.7zM348.9,88.1h0.7v0.7h-0.7zM362.7,84.4h0.7v0.7h-0.7zM351.0,92.1h0.7v0.7h-0.7zM365.0,84.6h0.7v0.7h-0.7zM362.8,88.9h0.7v0.7h-0.7zM366.0,88.1h0.7v0.7h-0.7zM358.7,86.9h0.7v0.7h-0.7zM361.1,88.7h0.7v0.7h-0.7zM356.1,88.0h0.7v0.7h-0.7zM355.5,90.8h0.7v0.7h-0.7zM353.8,84.6h0.7v0.7h-0.7zM354.2,92.1h0.7v0.7h-0.7zM356.9,90.9h0.7v0.7h-0.7zM364.5,87.6h0.7v0.7h-0.7zM364.6,90.5h0.7v0.7h-0.7zM359.8,87.0h0.7v0.7h-0.7zM359.7,85.4h0.7v0.7h-0.7zM358.4,87.4h0.7v0.7h-0.7zM362.7,90.0h0.7v0.7h-0.7zM356.1,91.5h0.7v0.7h-0.7zM367.3,89.2h0.7v0.7h-0.7zM355.5,90.5h0.7v0.7h-0.7zM345.1,87.3h0.7v0.7h-0.7zM363.6,94.7h0.7v0.7h-0.7zM355.5,93.4h0.7v0.7h-0.7zM374.3,94.4h0.7v0.7h-0.7zM345.6,92.2h0.7v0.7h-0.7zM361.2,91.9h0.7v0.7h-0.7zM358.9,87.3h0.7v0.7h-0.7zM358.6,93.3h0.7v0.7h-0.7zM365.2,88.2h0.7v0.7h-0.7zM362.4,91.5h0.7v0.7h-0.7zM363.5,88.9h0.7v0.7h-0.7zM356.0,86.9h0.7v0.7h-0.7zM357.4,87.4h0.7v0.7h-0.7zM350.3,85.0h0.7v0.7h-0.7zM365.4,85.8h0.7v0.7h-0.7zM352.0,88.9h0.7v0.7h-0.7zM368.9,92.6h0.7v0.7h-0.7zM357.5,86.0h0.7v0.7h-0.7zM356.7,86.4h0.7v0.7h-0.7zM356.6,90.4h0.7v0.7h-0.7zM353.5,86.8h0.7v0.7h-0.7zM358.4,88.9h0.7v0.7h-0.7zM355.3,86.7h0.7v0.7h-0.7zM353.1,86.8h0.7v0.7h-0.7zM363.2,88.3h0.7v0.7h-0.7zM359.6,86.5h0.7v0.7h-0.7zM358.4,80.3h0.7v0.7h-0.7zM349.8,92.4h0.7v0.7h-0.7zM373.2,95.3h0.7v0.7h-0.7zM355.5,89.1h0.7v0.7h-0.7zM364.8,85.5h0.7v0.7h-0.7zM370.8,86.9h0.7v0.7h-0.7zM362.2,85.7h0.7v0.7h-0.7zM362.3,89.0h0.7v0.7h-0.7zM366.7,85.7h0.7v0.7h-0.7zM359.9,94.3h0.7v0.7h-0.7zM352.6,90.0h0.7v0.7h-0.7zM362.7,87.6h0.7v0.7h-0.7zM358.4,93.1h0.7v0.7h-0.7zM367.1,90.6h0.7v0.7h-0.7zM361.7,85.7h0.7v0.7h-0.7zM360.6,94.2h0.7v0.7h-0.7zM366.5,85.1h0.7v0.7h-0.7zM347.2,87.1h0.7v0.7h-0.7zM361.0,87.4h0.7v0.7h-0.7zM358.1,90.0h0.7v0.7h-0.7zM365.6,89.6h0.7v0.7h-0.7zM367.8,84.9h0.7v0.7h-0.7zM362.9,90.2h0.7v0.7h-0.7zM350.8,92.6h0.7v0.7h-0.7zM350.1,84.8h0.7v0.7h-0.7zM376.6,92.8h0.7v0.7h-0.7zM362.3,92.9h0.7v0.7h-0.7zM367.1,85.7h0.7v0.7h-0.7zM363.0,93.1h0.7v0.7h-0.7zM359.0,89.2h0.7v0.7h-0.7zM357.1,91.1h0.7v0.7h-0.7zM356.6,87.3h0.7v0.7h-0.7zM352.4,86.3h0.7v0.7h-0.7zM361.4,90.4h0.7v0.7h-0.7zM357.6,86.0h0.7v0.7h-0.7zM362.1,90.0h0.7v0.7h-0.7zM367.9,87.6h0.7v0.7h-0.7zM357.4,90.5h0.7v0.7h-0.7zM369.5,88.9h0.7v0.7h-0.7zM359.5,86.3h0.7v0.7h-0.7zM357.7,91.8h0.7v0.7h-0.7zM365.3,92.3h0.7v0.7h-0.7zM349.8,91.4h0.7v0.7h-0.7zM354.2,90.7h0.7v0.7h-0.7zM345.2,88.7h0.7v0.7h-0.7zM354.5,92.7h0.7v0.7h-0.7zM360.8,92.8h0.7v0.7h-0.7zM357.3,94.7h0.7v0.7h-0.7zM357.2,94.5h0.7v0.7h-0.7zM357.0,86.1h0.7v0.7h-0.7zM365.6,87.8h0.7v0.7h-0.7zM359.6,85.1h0.7v0.7h-0.7zM357.9,89.3h0.7v0.7h-0.7zM355.6,90.1h0.7v0.7h-0.7zM345.6,91.6h0.7v0.7h-0.7zM357.5,93.3h0.7v0.7h-0.7zM357.8,87.1h0.7v0.7h-0.7zM357.2,89.8h0.7v0.7h-0.7zM363.7,87.7h0.7v0.7h-0.7zM355.0,90.3h0.7v0.7h-0.7zM365.2,83.9h0.7v0.7h-0.7zM353.4,87.0h0.7v0.7h-0.7zM370.7,92.6h0.7v0.7h-0.7zM365.0,90.5h0.7v0.7h-0.7zM353.0,92.3h0.7v0.7h-0.7zM357.2,86.7h0.7v0.7h-0.7zM372.1,84.8h0.7v0.7h-0.7zM368.7,89.6h0.7v0.7h-0.7zM354.2,89.5h0.7v0.7h-0.7zM354.7,89.6h0.7v0.7h-0.7zM356.0,85.5h0.7v0.7h-0.7zM376.7,87.5h0.7v0.7h-0.7zM366.2,88.9h0.7v0.7h-0.7zM364.3,85.3h0.7v0.7h-0.7zM353.5,79.4h0.7v0.7h-0.7zM366.3,90.3h0.7v0.7h-0.7zM352.6,91.5h0.7v0.7h-0.7zM363.7,97.6h0.7v0.7h-0.7zM361.5,91.7h0.7v0.7h-0.7zM363.9,91.3h0.7v0.7h-0.7zM359.9,87.8h0.7v0.7h-0.7zM364.5,92.6h0.7v0.7h-0.7zM352.7,85.7h0.7v0.7h-0.7zM359.8,94.3h0.7v0.7h-0.7zM358.7,84.0h0.7v0.7h-0.7zM365.1,91.2h0.7v0.7h-0.7zM372.2,89.6h0.7v0.7h-0.7zM372.4,86.9h0.7v0.7h-0.7zM365.7,89.4h0.7v0.7h-0.7zM352.5,88.2h0.7v0.7h-0.7zM368.4,92.3h0.7v0.7h-0.7zM357.7,92.3h0.7v0.7h-0.7zM365.7,91.6h0.7v0.7h-0.7zM361.8,89.9h0.7v0.7h-0.7zM354.8,88.8h0.7v0.7h-0.7zM360.8,86.8h0.7v0.7h-0.7zM358.2,89.5h0.7v0.7h-0.7zM361.4,92.1h0.7v0.7h-0.7zM353.6,87.9h0.7v0.7h-0.7zM361.7,87.9h0.7v0.7h-0.7zM362.1,87.6h0.7v0.7h-0.7zM367.4,88.3h0.7v0.7h-0.7zM352.9,91.2h0.7v0.7h-0.7zM370.5,83.4h0.7v0.7h-0.7zM359.2,89.2h0.7v0.7h-0.7zM366.5,93.4h0.7v0.7h-0.7zM359.0,84.4h0.7v0.7h-0.7zM364.2,92.0h0.7v0.7h-0.7zM362.9,89.3h0.7v0.7h-0.7zM354.9,96.2h0.7v0.7h-0.7zM352.5,84.6h0.7v0.7h-0.7zM366.2,89.9h0.7v0.7h-0.7zM364.2,90.1h0.7v0.7h-0.7zM370.6,93.2h0.7v0.7h-0.7zM356.6,92.0h0.7v0.7h-0.7zM352.7,84.0h0.7v0.7h-0.7zM367.6,87.8h0.7v0.7h-0.7zM346.6,89.0h0.7v0.7h-0.7zM355.9,90.5h0.7v0.7h-0.7zM359.7,86.8h0.7v0.7h-0.7zM355.6,91.3h0.7v0.7h-0.7zM354.2,89.4h0.7v0.7h-0.7zM353.8,90.3h0.7v0.7h-0.7zM371.2,90.7h0.7v0.7h-0.7zM367.0,90.3h0.7v0.7h-0.7zM354.0,88.1h0.7v0.7h-0.7zM360.5,90.3h0.7v0.7h-0.7zM356.3,90.8h0.7v0.7h-0.7zM355.5,89.2h0.7v0.7h-0.7zM360.0,85.6h0.7v0.7h-0.7zM366.3,89.2h0.7v0.7h-0.7zM360.7,88.9h0.7v0.7h-0.7zM346.9,84.9h0.7v0.7h-0.7zM354.4,91.9h0.7v0.7h-0.7zM356.4,90.8h0.7v0.7h-0.7zM353.6,86.5h0.7v0.7h-0.7zM357.1,92.1h0.7v0.7h-0.7zM349.7,88.5h0.7v0.7h-0.7zM362.6,89.4h0.7v0.7h-0.7zM359.9,91.3h0.7v0.7h-0.7zM361.8,86.1h0.7v0.7h-0.7zM364.0,86.7h0.7v0.7h-0.7zM357.9,93.3h0.7v0.7h-0.7zM375.3,93.3h0.7v0.7h-0.7zM362.7,86.7h0.7v0.7h-0.7zM355.3,93.9h0.7v0.7h-0.7zM362.1,85.0h0.7v0.7h-0.7zM369.9,90.7h0.7v0.7h-0.7zM368.3,90.2h0.7v0.7h-0.7zM346.6,86.9h0.7v0.7h-0.7zM359.2,88.5h0.7v0.7h-0.7zM369.5,87.1h0.7v0.7h-0.7zM359.4,88.9h0.7v0.7h-0.7zM359.5,86.0h0.7v0.7h-0.7zM352.4,81.5h0.7v0.7h-0.7zM362.1,88.4h0.7v0.7h-0.7zM361.3,85.9h0.7v0.7h-0.7zM360.1,86.2h0.7v0.7h-0.7zM353.7,90.0h0.7v0.7h-0.7zM364.0,90.7h0.7v0.7h-0.7zM359.8,87.9h0.7v0.7h-0.7zM368.8,92.7h0.7v0.7h-0.7zM356.1,85.8h0.7v0.7h-0.7zM362.4,90.0h0.7v0.7h-0.7zM354.3,95.7h0.7v0.7h-0.7zM347.0,86.6h0.7v0.7h-0.7zM361.6,91.9h0.7v0.7h-0.7zM348.5,87.7h0.7v0.7h-0.7zM369.0,93.1h0.7v0.7h-0.7zM358.5,89.1h0.7v0.7h-0.7zM354.5,90.2h0.7v0.7h-0.7zM353.5,83.1h0.7v0.7h-0.7zM350.5,89.2h0.7v0.7h-0.7zM351.8,92.3h0.7v0.7h-0.7zM368.1,91.9h0.7v0.7h-0.7zM364.1,92.3h0.7v0.7h-0.7zM361.7,91.6h0.7v0.7h-0.7zM363.0,91.3h0.7v0.7h-0.7zM353.7,87.1h0.7v0.7h-0.7zM353.8,91.4h0.7v0.7h-0.7zM363.2,86.7h0.7v0.7h-0.7zM353.9,87.3h0.7v0.7h-0.7zM365.5,88.7h0.7v0.7h-0.7zM358.5,87.0h0.7v0.7h-0.7zM359.3,93.7h0.7v0.7h-0.7zM355.7,88.0h0.7v0.7h-0.7zM370.6,91.1h0.7v0.7h-0.7zM352.9,92.2h0.7v0.7h-0.7zM352.2,90.6h0.7v0.7h-0.7zM344.3,86.1h0.7v0.7h-0.7zM365.8,87.3h0.7v0.7h-0.7zM355.5,89.2h0.7v0.7h-0.7zM360.1,87.7h0.7v0.7h-0.7zM355.8,94.3h0.7v0.7h-0.7zM369.4,90.0h0.7v0.7h-0.7zM352.9,87.5h0.7v0.7h-0.7zM358.2,90.4h0.7v0.7h-0.7zM370.0,87.5h0.7v0.7h-0.7zM361.0,87.8h0.7v0.7h-0.7zM360.9,87.0h0.7v0.7h-0.7zM362.4,92.4h0.7v0.7h-0.7zM357.6,88.1h0.7v0.7h-0.7zM360.8,85.2h0.7v0.7h-0.7zM371.4,85.1h0.7v0.7h-0.7zM357.8,86.4h0.7v0.7h-0.7zM369.4,87.6h0.7v0.7h-0.7zM356.9,94.5h0.7v0.7h-0.7zM359.3,86.7h0.7v0.7h-0.7zM360.0,89.6h0.7v0.7h-0.7zM355.4,88.5h0.7v0.7h-0.7zM358.7,91.1h0.7v0.7h-0.7zM364.8,91.5h0.7v0.7h-0.7zM359.3,91.4h0.7v0.7h-0.7zM358.7,92.4h0.7v0.7h-0.7zM362.6,87.8h0.7v0.7h-0.7zM367.7,84.6h0.7v0.7h-0.7zM354.0,86.7h0.7v0.7h-0.7zM359.2,85.4h0.7v0.7h-0.7zM352.5,83.5h0.7v0.7h-0.7zM360.8,86.8h0.7v0.7h-0.7zM373.7,91.3h0.7v0.7h-0.7zM352.9,92.9h0.7v0.7h-0.7zM360.7,92.2h0.7v0.7h-0.7zM353.1,92.4h0.7v0.7h-0.7zM366.9,87.8h0.7v0.7h-0.7zM354.7,87.9h0.7v0.7h-0.7zM361.7,96.1h0.7v0.7h-0.7zM371.3,93.4h0.7v0.7h-0.7zM358.7,88.1h0.7v0.7h-0.7zM362.3,88.2h0.7v0.7h-0.7zM357.1,88.4h0.7v0.7h-0.7zM365.3,88.8h0.7v0.7h-0.7zM361.5,88.3h0.7v0.7h-0.7zM358.8,88.1h0.7v0.7h-0.7zM367.9,89.7h0.7v0.7h-0.7zM369.4,88.5h0.7v0.7h-0.7zM366.7,85.0h0.7v0.7h-0.7zM357.5,88.8h0.7v0.7h-0.7zM356.1,88.7h0.7v0.7h-0.7zM354.3,88.5h0.7v0.7h-0.7zM355.9,89.0h0.7v0.7h-0.7zM358.2,86.1h0.7v0.7h-0.7zM357.5,89.1h0.7v0.7h-0.7zM352.1,89.3h0.7v0.7h-0.7zM367.8,88.4h0.7v0.7h-0.7zM363.5,90.8h0.7v0.7h-0.7zM355.1,92.9h0.7v0.7h-0.7zM375.7,86.0h0.7v0.7h-0.7zM373.4,87.0h0.7v0.7h-0.7zM369.1,83.7h0.7v0.7h-0.7zM367.1,89.4h0.7v0.7h-0.7zM352.1,86.6h0.7v0.7h-0.7zM353.5,86.4h0.7v0.7h-0.7zM362.4,88.5h0.7v0.7h-0.7zM344.4,88.1h0.7v0.7h-0.7zM363.0,89.3h0.7v0.7h-0.7zM370.6,83.7h0.7v0.7h-0.7zM361.6,89.1h0.7v0.7h-0.7zM364.5,85.1h0.7v0.7h-0.7zM351.9,88.5h0.7v0.7h-0.7zM360.5,83.7h0.7v0.7h-0.7zM362.3,89.0h0.7v0.7h-0.7zM364.6,81.4h0.7v0.7h-0.7zM363.2,86.4h0.7v0.7h-0.7zM357.1,91.3h0.7v0.7h-0.7zM370.6,89.5h0.7v0.7h-0.7zM359.4,92.8h0.7v0.7h-0.7zM354.5,88.6h0.7v0.7h-0.7zM356.9,86.2h0.7v0.7h-0.7zM361.3,95.0h0.7v0.7h-0.7zM361.6,90.5h0.7v0.7h-0.7zM359.8,92.3h0.7v0.7h-0.7z" fill="#1c64ff" fill-opacity="0.35"/>
<path d="M362.9,85.1h0.7v0.7h-0.7zM362.1,96.8h0.7v0.7h-0.7zM360.2,95.6h0.7v0.7h-0.7zM360.4,99.7h0.7v0.7h-0.7zM363.9,92.8h0.7v0.7h-0.7zM358.2,93.7h0.7v0.7h-0.7zM358.8,82.1h0.7v0.7h-0.7zM364.1,83.5h0.7v0.7h-0.7zM376.0,93.5h0.7v0.7h-0.7zM361.2,93.0h0.7v0.7h-0.7zM354.5,92.9h0.7v0.7h-0.7zM386.9,81.4h0.7v0.7h-0.7zM356.9,91.3h0.7v0.7h-0.7zM365.3,81.0h0.7v0.7h-0.7zM351.7,97.0h0.7v0.7h-0.7zM355.0,92.3h0.7v0.7h-0.7zM347.3,85.0h0.7v0.7h-0.7zM372.7,90.0h0.7v0.7h-0.7zM358.3,90.8h0.7v0.7h-0.7zM365.8,88.1h0.7v0.7h-0.7zM366.7,99.4h0.7v0.7h-0.7zM383.4,86.7h0.7v0.7h-0.7zM348.4,99.2h0.7v0.7h-0.7zM371.0,95.7h0.7v0.7h-0.7zM367.2,88.4h0.7v0.7h-0.7zM370.9,95.2h0.7v0.7h-0.7zM372.9,84.1h0.7v0.7h-0.7zM371.4,87.8h0.7v0.7h-0.7zM357.5,91.3h0.7v0.7h-0.7zM357.6,101.2h0.7v0.7h-0.7zM366.8,90.9h0.7v0.7h-0.7zM359.2,90.8h0.7v0.7h-0.7zM358.8,92.5h0.7v0.7h-0.7zM369.8,93.8h0.7v0.7h-0.7zM348.5,87.9h0.7v0.7h-0.7zM361.9,83.4h0.7v0.7h-0.7zM364.9,88.8h0.7v0.7h-0.7zM361.7,91.5h0.7v0.7h-0.7zM354.8,97.4h0.7v0.7h-0.7zM371.5,86.8h0.7v0.7h-0.7zM365.8,93.3h0.7v0.7h-0.7zM353.4,87.8h0.7v0.7h-0.7zM368.1,76.6h0.7v0.7h-0.7zM347.8,91.2h0.7v0.7h-0.7zM367.3,84.9h0.7v0.7h-0.7zM369.7,100.7h0.7v0.7h-0.7zM363.2,89.3h0.7v0.7h-0.7zM361.8,84.5h0.7v0.7h-0.7zM366.6,90.5h0.7v0.7h-0.7zM368.6,96.7h0.7v0.7h-0.7zM361.5,90.5h0.7v0.7h-0.7zM364.4,98.3h0.7v0.7h-0.7zM346.5,89.5h0.7v0.7h-0.7zM354.8,90.2h0.7v0.7h-0.7zM369.5,89.9h0.7v0.7h-0.7zM368.5,90.5h0.7v0.7h-0.7zM353.9,86.2h0.7v0.7h-0.7zM347.2,90.7h0.7v0.7h-0.7zM357.2,93.8h0.7v0.7h-0.7zM370.8,85.1h0.7v0.7h-0.7zM350.2,92.6h0.7v0.7h-0.7zM352.3,90.6h0.7v0.7h-0.7zM367.2,87.6h0.7v0.7h-0.7zM379.0,85.7h0.7v0.7h-0.7zM365.4,87.5h0.7v0.7h-0.7zM359.5,92.5h0.7v0.7h-0.7zM359.8,85.9h0.7v0.7h-0.7zM355.9,88.0h0.7v0.7h-0.7zM368.7,88.2h0.7v0.7h-0.7zM373.5,93.9h0.7v0.7h-0.7zM353.7,94.7h0.7v0.7h-0.7zM351.3,89.1h0.7v0.7h-0.7zM372.7,89.6h0.7v0.7h-0.7zM359.4,96.0h0.7v0.7h-0.7zM353.5,85.4h0.7v0.7h-0.7zM370.9,92.6h0.7v0.7h-0.7zM346.8,90.3h0.7v0.7h-0.7zM369.0,88.7h0.7v0.7h-0.7zM357.1,90.2h0.7v0.7h-0.7zM363.3,86.0h0.7v0.7h-0.7zM369.5,81.6h0.7v0.7h-0.7zM360.4,100.3h0.7v0.7h-0.7zM350.5,89.4h0.7v0.7h-0.7zM349.5,89.9h0.7v0.7h-0.7zM356.2,98.8h0.7v0.7h-0.7zM351.8,89.4h0.7v0.7h-0.7zM363.3,92.8h0.7v0.7h-0.7zM370.1,81.7h0.7v0.7h-0.7zM383.1,88.0h0.7v0.7h-0.7zM353.9,81.3h0.7v0.7h-0.7zM356.7,80.7h0.7v0.7h-0.7zM363.0,86.5h0.7v0.7h-0.7zM364.4,85.6h0.7v0.7h-0.7zM361.8,100.7h0.7v0.7h-0.7zM372.9,90.4h0.7v0.7h-0.7zM351.2,96.9h0.7v0.7h-0.7zM344.1,82.5h0.7v0.7h-0.7zM374.1,86.5h0.7v0.7h-0.7zM374.6,92.4h0.7v0.7h-0.7zM382.9,98.5h0.7v0.7h-0.7zM367.0,86.4h0.7v0.7h-0.7zM367.0,96.6h0.7v0.7h-0.7zM362.5,75.0h0.7v0.7h-0.7zM357.3,87.7h0.7v0.7h-0.7zM360.5,87.8h0.7v0.7h-0.7zM372.5,83.2h0.7v0.7h-0.7zM365.5,79.6h0.7v0.7h-0.7zM353.5,85.0h0.7v0.7h-0.7zM354.0,92.6h0.7v0.7h-0.7zM366.9,89.9h0.7v0.7h-0.7zM363.0,86.0h0.7v0.7h-0.7zM351.2,82.4h0.7v0.7h-0.7zM356.9,83.8h0.7v0.7h-0.7zM357.8,93.2h0.7v0.7h-0.7zM366.5,96.2h0.7v0.7h-0.7zM351.7,78.5h0.7v0.7h-0.7zM349.9,99.5h0.7v0.7h-0.7zM368.0,87.3h0.7v0.7h-0.7zM374.3,87.4h0.7v0.7h-0.7zM377.8,87.5h0.7v0.7h-0.7zM357.0,93.0h0.7v0.7h-0.7zM349.5,88.7h0.7v0.7h-0.7zM380.4,91.7h0.7v0.7h-0.7zM350.0,88.2h0.7v0.7h-0.7zM360.7,85.7h0.7v0.7h-0.7zM365.1,95.8h0.7v0.7h-0.7zM361.5,93.9h0.7v0.7h-0.7zM364.0,90.2h0.7v0.7h-0.7zM353.5,94.3h0.7v0.7h-0.7zM374.6,87.2h0.7v0.7h-0.7zM352.2,92.1h0.7v0.7h-0.7zM362.0,95.1h0.7v0.7h-0.7zM365.9,88.9h0.7v0.7h-0.7zM347.1,92.6h0.7v0.7h-0.7zM362.0,83.2h0.7v0.7h-0.7zM346.1,80.4h0.7v0.7h-0.7zM367.2,87.3h0.7v0.7h-0.7zM354.6,88.9h0.7v0.7h-0.7zM361.3,87.8h0.7v0.7h-0.7zM368.4,94.6h0.7v0.7h-0.7zM358.7,97.4h0.7v0.7h-0.7zM359.7,85.2h0.7v0.7h-0.7zM362.5,82.3h0.7v0.7h-0.7zM358.0,84.2h0.7v0.7h-0.7zM356.7,90.5h0.7v0.7h-0.7zM363.6,88.4h0.7v0.7h-0.7zM368.1,91.2h0.7v0.7h-0.7zM357.3,84.5h0.7v0.7h-0.7zM368.3,93.3h0.7v0.7h-0.7zM346.2,85.8h0.7v0.7h-0.7zM349.1,93.6h0.7v0.7h-0.7zM355.2,83.2h0.7v0.7h-0.7zM376.1,91.8h0.7v0.7h-0.7zM363.3,90.7h0.7v0.7h-0.7zM359.2,89.7h0.7v0.7h-0.7zM369.9,91.7h0.7v0.7h-0.7zM356.4,90.0h0.7v0.7h-0.7zM379.7,86.7h0.7v0.7h-0.7zM347.7,90.1h0.7v0.7h-0.7zM349.5,102.6h0.7v0.7h-0.7zM367.2,92.4h0.7v0.7h-0.7zM364.6,99.4h0.7v0.7h-0.7zM350.7,89.2h0.7v0.7h-0.7zM344.2,95.7h0.7v0.7h-0.7zM360.2,98.3h0.7v0.7h-0.7zM358.2,84.2h0.7v0.7h-0.7zM353.9,93.5h0.7v0.7h-0.7zM352.7,90.8h0.7v0.7h-0.7zM353.7,85.9h0.7v0.7h-0.7zM355.3,97.6h0.7v0.7h-0.7zM350.1,91.1h0.7v0.7h-0.7zM369.0,85.7h0.7v0.7h-0.7zM345.8,97.0h0.7v0.7h-0.7zM378.4,88.2h0.7v0.7h-0.7zM348.9,93.8h0.7v0.7h-0.7zM360.5,85.3h0.7v0.7h-0.7zM357.0,77.4h0.7v0.7h-0.7zM352.7,83.3h0.7v0.7h-0.7zM347.6,92.4h0.7v0.7h-0.7zM363.6,98.0h0.7v0.7h-0.7zM352.4,96.1h0.7v0.7h-0.7zM371.3,90.0h0.7v0.7h-0.7zM361.8,85.6h0.7v0.7h-0.7zM355.7,87.2h0.7v0.7h-0.7zM368.3,99.9h0.7v0.7h-0.7zM373.3,91.9h0.7v0.7h-0.7zM369.3,80.9h0.7v0.7h-0.7zM350.6,93.7h0.7v0.7h-0.7zM357.0,81.3h0.7v0.7h-0.7zM360.7,82.9h0.7v0.7h-0.7zM360.8,97.3h0.7v0.7h-0.7zM349.4,87.1h0.7v0.7h-0.7zM366.4,89.3h0.7v0.7h-0.7zM362.7,85.2h0.7v0.7h-0.7zM357.4,77.4h0.7v0.7h-0.7zM359.0,95.9h0.7v0.7h-0.7zM349.5,88.5h0.7v0.7h-0.7zM368.0,95.6h0.7v0.7h-0.7zM372.6,84.9h0.7v0.7h-0.7zM356.6,98.3h0.7v0.7h-0.7zM356.1,90.8h0.7v0.7h-0.7zM352.3,86.1h0.7v0.7h-0.7zM350.9,96.2h0.7v0.7h-0.7zM368.5,91.4h0.7v0.7h-0.7zM355.5,82.3h0.7v0.7h-0.7zM365.6,85.2h0.7v0.7h-0.7zM359.6,94.2h0.7v0.7h-0.7zM358.8,89.2h0.7v0.7h-0.7zM350.7,94.7h0.7v0.7h-0.7zM366.1,93.0h0.7v0.7h-0.7zM377.2,81.1h0.7v0.7h-0.7zM361.0,92.6h0.7v0.7h-0.7zM364.1,90.9h0.7v0.7h-0.7zM365.5,81.6h0.7v0.7h-0.7zM360.0,95.3h0.7v0.7h-0.7zM360.2,88.4h0.7v0.7h-0.7zM369.3,80.5h0.7v0.7h-0.7zM364.8,97.1h0.7v0.7h-0.7zM358.2,85.2h0.7v0.7h-0.7zM366.1,87.1h0.7v0.7h-0.7zM352.4,90.2h0.7v0.7h-0.7zM343.9,92.8h0.7v0.7h-0.7zM348.6,86.6h0.7v0.7h-0.7zM368.1,89.2h0.7v0.7h-0.7zM363.4,96.4h0.7v0.7h-0.7zM376.1,100.0h0.7v0.7h-0.7zM355.2,94.0h0.7v0.7h-0.7zM344.0,93.4h0.7v0.7h-0.7zM374.0,85.7h0.7v0.7h-0.7zM365.4,93.6h0.7v0.7h-0.7zM359.1,86.1h0.7v0.7h-0.7zM376.0,82.7h0.7v0.7h-0.7zM362.4,94.2h0.7v0.7h-0.7zM363.1,97.4h0.7v0.7h-0.7zM375.8,91.7h0.7v0.7h-0.7zM378.7,93.2h0.7v0.7h-0.7zM348.3,87.7h0.7v0.7h-0.7zM363.5,90.3h0.7v0.7h-0.7zM344.9,83.6h0.7v0.7h-0.7zM365.3,90.4h0.7v0.7h-0.7zM376.3,90.5h0.7v0.7h-0.7zM364.6,93.1h0.7v0.7h-0.7zM353.3,82.8h0.7v0.7h-0.7zM356.1,94.5h0.7v0.7h-0.7zM357.9,95.7h0.7v0.7h-0.7zM355.2,93.2h0.7v0.7h-0.7zM361.1,93.7h0.7v0.7h-0.7zM360.9,90.4h0.7v0.7h-0.7zM356.0,95.7h0.7v0.7h-0.7zM360.4,91.9h0.7v0.7h-0.7zM367.4,84.9h0.7v0.7h-0.7zM352.4,89.2h0.7v0.7h-0.7zM373.7,84.0h0.7v0.7h-0.7zM350.5,84.4h0.7v0.7h-0.7zM356.8,84.0h0.7v0.7h-0.7zM352.5,92.1h0.7v0.7h-0.7zM349.8,89.4h0.7v0.7h-0.7zM348.9,88.4h0.7v0.7h-0.7zM366.1,79.2h0.7v0.7h-0.7zM361.3,90.5h0.7v0.7h-0.7zM360.2,90.7h0.7v0.7h-0.7zM365.0,82.8h0.7v0.7h-0.7zM359.6,92.7h0.7v0.7h-0.7zM373.9,82.5h0.7v0.7h-0.7zM354.8,82.5h0.7v0.7h-0.7zM360.6,84.0h0.7v0.7h-0.7zM350.9,93.3h0.7v0.7h-0.7zM383.5,79.0h0.7v0.7h-0.7zM377.5,84.8h0.7v0.7h-0.7zM367.7,91.2h0.7v0.7h-0.7zM373.3,88.4h0.7v0.7h-0.7zM352.4,89.1h0.7v0.7h-0.7zM368.8,84.9h0.7v0.7h-0.7zM365.0,89.4h0.7v0.7h-0.7zM362.6,89.5h0.7v0.7h-0.7zM366.9,93.5h0.7v0.7h-0.7zM357.9,87.6h0.7v0.7h-0.7zM345.4,92.8h0.7v0.7h-0.7zM349.9,85.9h0.7v0.7h-0.7zM366.2,94.4h0.7v0.7h-0.7zM373.1,85.1h0.7v0.7h-0.7zM363.3,94.8h0.7v0.7h-0.7zM352.3,88.3h0.7v0.7h-0.7zM348.5,86.2h0.7v0.7h-0.7zM368.0,89.9h0.7v0.7h-0.7zM357.2,86.6h0.7v0.7h-0.7zM376.2,93.2h0.7v0.7h-0.7zM348.3,100.4h0.7v0.7h-0.7zM356.7,88.7h0.7v0.7h-0.7zM355.9,86.5h0.7v0.7h-0.7zM367.3,82.1h0.7v0.7h-0.7zM361.2,87.8h0.7v0.7h-0.7zM378.5,91.4h0.7v0.7h-0.7zM365.3,92.1h0.7v0.7h-0.7zM366.9,90.1h0.7v0.7h-0.7zM357.6,93.0h0.7v0.7h-0.7zM364.0,86.7h0.7v0.7h-0.7zM351.9,84.3h0.7v0.7h-0.7zM363.7,88.9h0.7v0.7h-0.7zM351.9,87.6h0.7v0.7h-0.7zM364.4,86.1h0.7v0.7h-0.7zM359.6,86.4h0.7v0.7h-0.7zM361.5,93.5h0.7v0.7h-0.7zM374.0,85.8h0.7v0.7h-0.7zM366.9,90.8h0.7v0.7h-0.7zM361.7,93.6h0.7v0.7h-0.7zM369.7,83.1h0.7v0.7h-0.7zM375.8,88.6h0.7v0.7h-0.7zM354.2,86.0h0.7v0.7h-0.7zM358.6,83.8h0.7v0.7h-0.7zM371.9,91.6h0.7v0.7h-0.7zM351.8,93.6h0.7v0.7h-0.7zM363.3,89.9h0.7v0.7h-0.7zM370.6,89.0h0.7v0.7h-0.7zM358.3,92.0h0.7v0.7h-0.7zM366.0,94.8h0.7v0.7h-0.7zM344.0,89.5h0.7v0.7h-0.7zM354.2,88.0h0.7v0.7h-0.7zM366.9,97.0h0.7v0.7h-0.7zM378.6,94.2h0.7v0.7h-0.7zM367.3,90.2h0.7v0.7h-0.7zM348.9,83.8h0.7v0.7h-0.7zM362.1,81.5h0.7v0.7h-0.7zM378.7,92.5h0.7v0.7h-0.7zM364.6,91.9h0.7v0.7h-0.7zM363.3,89.8h0.7v0.7h-0.7zM368.0,86.1h0.7v0.7h-0.7zM363.6,90.3h0.7v0.7h-0.7zM368.7,83.9h0.7v0.7h-0.7zM363.4,88.8h0.7v0.7h-0.7zM367.2,92.2h0.7v0.7h-0.7zM362.8,91.8h0.7v0.7h-0.7z" fill="#1c64ff" fill-opacity="0.2"/>
<path d="M371.8,89.7h0.7v0.7h-0.7zM370.7,89.5h0.7v0.7h-0.7zM384.9,90.2h0.7v0.7h-0.7zM386.3,91.8h0.7v0.7h-0.7zM383.7,89.3h0.7v0.7h-0.7zM366.8,91.6h0.7v0.7h-0.7zM388.3,91.7h0.7v0.7h-0.7zM366.1,91.8h0.7v0.7h-0.7zM400.7,90.0h0.7v0.7h-0.7zM385.2,90.0h0.7v0.7h-0.7zM403.1,92.9h0.7v0.7h-0.7zM392.4,92.6h0.7v0.7h-0.7zM378.2,89.6h0.7v0.7h-0.7zM366.9,86.2h0.7v0.7h-0.7zM374.9,89.7h0.7v0.7h-0.7zM395.9,94.4h0.7v0.7h-0.7zM392.0,92.3h0.7v0.7h-0.7zM379.1,90.2h0.7v0.7h-0.7zM399.0,91.6h0.7v0.7h-0.7zM405.0,90.8h0.7v0.7h-0.7zM393.9,92.5h0.7v0.7h-0.7zM387.9,89.7h0.7v0.7h-0.7zM404.0,93.7h0.7v0.7h-0.7zM400.8,90.1h0.7v0.7h-0.7zM406.0,93.3h0.7v0.7h-0.7zM404.1,89.4h0.7v0.7h-0.7zM369.9,88.3h0.7v0.7h-0.7zM369.5,91.7h0.7v0.7h-0.7zM395.7,93.9h0.7v0.7h-0.7zM374.7,91.6h0.7v0.7h-0.7zM376.3,89.6h0.7v0.7h-0.7zM381.2,90.0h0.7v0.7h-0.7zM399.2,93.0h0.7v0.7h-0.7zM378.0,90.6h0.7v0.7h-0.7zM391.8,92.6h0.7v0.7h-0.7zM371.8,93.9h0.7v0.7h-0.7zM385.8,90.9h0.7v0.7h-0.7zM366.0,90.3h0.7v0.7h-0.7zM366.0,89.5h0.7v0.7h-0.7zM405.6,93.1h0.7v0.7h-0.7zM389.3,93.9h0.7v0.7h-0.7zM372.9,91.7h0.7v0.7h-0.7zM382.6,90.2h0.7v0.7h-0.7zM402.9,88.0h0.7v0.7h-0.7zM380.2,90.0h0.7v0.7h-0.7zM375.9,92.3h0.7v0.7h-0.7zM393.9,88.5h0.7v0.7h-0.7zM370.2,91.0h0.7v0.7h-0.7zM395.8,92.6h0.7v0.7h-0.7zM388.4,90.8h0.7v0.7h-0.7zM370.5,92.3h0.7v0.7h-0.7zM371.2,90.8h0.7v0.7h-0.7zM393.5,88.7h0.7v0.7h-0.7zM404.5,90.5h0.7v0.7h-0.7zM367.3,90.7h0.7v0.7h-0.7zM381.7,91.1h0.7v0.7h-0.7zM397.7,90.5h0.7v0.7h-0.7zM399.2,89.3h0.7v0.7h-0.7zM378.2,92.8h0.7v0.7h-0.7zM366.5,92.0h0.7v0.7h-0.7zM372.8,91.6h0.7v0.7h-0.7zM367.5,90.5h0.7v0.7h-0.7zM384.7,92.7h0.7v0.7h-0.7zM397.7,93.3h0.7v0.7h-0.7zM377.1,92.7h0.7v0.7h-0.7zM393.4,93.2h0.7v0.7h-0.7zM400.5,89.2h0.7v0.7h-0.7zM399.5,90.7h0.7v0.7h-0.7zM391.1,92.7h0.7v0.7h-0.7zM395.4,91.1h0.7v0.7h-0.7zM389.1,90.8h0.7v0.7h-0.7zM382.4,90.9h0.7v0.7h-0.7zM374.1,88.7h0.7v0.7h-0.7zM383.8,89.6h0.7v0.7h-0.7zM367.3,92.0h0.7v0.7h-0.7zM391.3,93.1h0.7v0.7h-0.7zM405.5,92.2h0.7v0.7h-0.7zM381.6,89.3h0.7v0.7h-0.7zM383.7,91.5h0.7v0.7h-0.7zM402.2,89.9h0.7v0.7h-0.7zM382.7,89.1h0.7v0.7h-0.7zM377.6,92.0h0.7v0.7h-0.7zM406.0,93.6h0.7v0.7h-0.7zM367.9,90.8h0.7v0.7h-0.7zM391.1,91.8h0.7v0.7h-0.7zM380.3,91.6h0.7v0.7h-0.7zM387.8,91.2h0.7v0.7h-0.7zM375.2,88.5h0.7v0.7h-0.7zM378.0,91.7h0.7v0.7h-0.7zM366.2,89.4h0.7v0.7h-0.7zM400.6,90.6h0.7v0.7h-0.7zM369.7,90.5h0.7v0.7h-0.7zM400.8,91.6h0.7v0.7h-0.7zM391.0,90.5h0.7v0.7h-0.7zM372.3,88.0h0.7v0.7h-0.7zM367.1,91.1h0.7v0.7h-0.7zM402.9,91.1h0.7v0.7h-0.7zM395.7,92.3h0.7v0.7h-0.7zM368.8,93.0h0.7v0.7h-0.7zM382.2,91.5h0.7v0.7h-0.7zM401.3,91.9h0.7v0.7h-0.7zM367.0,89.0h0.7v0.7h-0.7zM387.8,89.5h0.7v0.7h-0.7zM402.0,91.9h0.7v0.7h-0.7zM372.1,90.0h0.7v0.7h-0.7zM402.4,91.1h0.7v0.7h-0.7zM403.6,90.5h0.7v0.7h-0.7zM393.1,90.2h0.7v0.7h-0.7zM401.4,91.8h0.7v0.7h-0.7zM383.6,90.4h0.7v0.7h-0.7zM369.8,85.9h0.7v0.7h-0.7zM399.6,90.2h0.7v0.7h-0.7zM373.5,88.9h0.7v0.7h-0.7zM370.7,89.9h0.7v0.7h-0.7zM394.0,91.4h0.7v0.7h-0.7zM380.1,89.0h0.7v0.7h-0.7zM391.9,90.9h0.7v0.7h-0.7zM369.1,88.2h0.7v0.7h-0.7zM368.4,92.0h0.7v0.7h-0.7zM383.3,94.0h0.7v0.7h-0.7zM389.6,89.9h0.7v0.7h-0.7zM371.0,91.8h0.7v0.7h-0.7zM404.8,91.0h0.7v0.7h-0.7zM392.2,90.6h0.7v0.7h-0.7zM387.6,88.6h0.7v0.7h-0.7zM388.0,89.0h0.7v0.7h-0.7zM400.1,93.5h0.7v0.7h-0.7zM389.8,90.8h0.7v0.7h-0.7zM378.3,89.2h0.7v0.7h-0.7zM389.7,92.1h0.7v0.7h-0.7zM377.4,88.5h0.7v0.7h-0.7zM396.6,94.4h0.7v0.7h-0.7zM391.0,92.2h0.7v0.7h-0.7zM389.5,89.6h0.7v0.7h-0.7zM373.6,90.2h0.7v0.7h-0.7zM396.5,92.2h0.7v0.7h-0.7zM402.3,91.0h0.7v0.7h-0.7zM369.0,92.1h0.7v0.7h-0.7zM369.9,87.8h0.7v0.7h-0.7zM368.0,87.2h0.7v0.7h-0.7zM373.7,90.6h0.7v0.7h-0.7zM400.2,90.2h0.7v0.7h-0.7zM377.5,89.4h0.7v0.7h-0.7zM375.1,90.8h0.7v0.7h-0.7zM380.3,90.2h0.7v0.7h-0.7zM366.6,93.2h0.7v0.7h-0.7zM389.4,91.7h0.7v0.7h-0.7zM371.5,88.8h0.7v0.7h-0.7zM369.1,93.3h0.7v0.7h-0.7zM387.8,92.6h0.7v0.7h-0.7zM366.3,87.8h0.7v0.7h-0.7zM376.2,91.3h0.7v0.7h-0.7zM366.7,88.7h0.7v0.7h-0.7zM404.7,92.6h0.7v0.7h-0.7zM377.7,94.0h0.7v0.7h-0.7zM386.6,89.2h0.7v0.7h-0.7zM369.3,90.6h0.7v0.7h-0.7zM385.8,90.2h0.7v0.7h-0.7zM368.4,91.9h0.7v0.7h-0.7zM370.3,91.4h0.7v0.7h-0.7zM405.6,88.2h0.7v0.7h-0.7zM403.9,89.8h0.7v0.7h-0.7zM394.7,90.0h0.7v0.7h-0.7zM395.6,89.7h0.7v0.7h-0.7zM390.7,92.5h0.7v0.7h-0.7zM379.9,92.7h0.7v0.7h-0.7zM384.1,90.3h0.7v0.7h-0.7zM386.4,88.2h0.7v0.7h-0.7zM396.1,91.8h0.7v0.7h-0.7zM369.9,89.6h0.7v0.7h-0.7zM367.0,92.8h0.7v0.7h-0.7zM375.8,94.7h0.7v0.7h-0.7zM380.9,88.4h0.7v0.7h-0.7zM374.7,91.1h0.7v0.7h-0.7zM395.6,89.6h0.7v0.7h-0.7zM396.8,94.6h0.7v0.7h-0.7zM366.0,89.4h0.7v0.7h-0.7zM400.5,91.3h0.7v0.7h-0.7zM367.6,89.9h0.7v0.7h-0.7zM387.3,94.3h0.7v0.7h-0.7zM390.6,89.2h0.7v0.7h-0.7zM371.9,91.6h0.7v0.7h-0.7zM381.9,90.7h0.7v0.7h-0.7zM368.7,93.2h0.7v0.7h-0.7zM369.7,91.1h0.7v0.7h-0.7zM386.9,93.3h0.7v0.7h-0.7zM366.0,93.8h0.7v0.7h-0.7zM378.5,90.4h0.7v0.7h-0.7zM370.4,92.8h0.7v0.7h-0.7zM371.0,85.8h0.7v0.7h-0.7zM394.6,93.2h0.7v0.7h-0.7zM372.1,86.4h0.7v0.7h-0.7zM369.2,91.0h0.7v0.7h-0.7zM401.3,92.8h0.7v0.7h-0.7zM401.7,90.6h0.7v0.7h-0.7zM377.4,90.8h0.7v0.7h-0.7zM373.3,88.7h0.7v0.7h-0.7zM395.5,88.9h0.7v0.7h-0.7zM380.8,88.7h0.7v0.7h-0.7zM378.1,91.3h0.7v0.7h-0.7zM381.6,89.6h0.7v0.7h-0.7zM376.4,87.9h0.7v0.7h-0.7zM386.2,91.4h0.7v0.7h-0.7zM378.8,91.2h0.7v0.7h-0.7zM377.7,91.4h0.7v0.7h-0.7zM380.4,90.9h0.7v0.7h-0.7zM403.2,91.9h0.7v0.7h-0.7zM376.1,90.2h0.7v0.7h-0.7zM378.1,90.3h0.7v0.7h-0.7zM387.3,92.0h0.7v0.7h-0.7zM398.4,90.6h0.7v0.7h-0.7zM368.7,91.1h0.7v0.7h-0.7zM366.3,90.3h0.7v0.7h-0.7zM393.1,89.9h0.7v0.7h-0.7zM396.2,92.5h0.7v0.7h-0.7zM376.0,91.2h0.7v0.7h-0.7zM395.2,91.2h0.7v0.7h-0.7zM381.4,89.2h0.7v0.7h-0.7zM377.5,87.3h0.7v0.7h-0.7zM374.0,91.1h0.7v0.7h-0.7zM397.1,93.7h0.7v0.7h-0.7zM404.0,90.5h0.7v0.7h-0.7zM403.0,94.5h0.7v0.7h-0.7zM371.8,95.6h0.7v0.7h-0.7zM396.8,92.6h0.7v0.7h-0.7zM381.0,91.9h0.7v0.7h-0.7zM398.4,91.0h0.7v0.7h-0.7zM401.1,90.4h0.7v0.7h-0.7zM399.6,90.9h0.7v0.7h-0.7zM374.9,90.5h0.7v0.7h-0.7zM375.1,86.6h0.7v0.7h-0.7zM387.5,93.3h0.7v0.7h-0.7zM397.5,92.7h0.7v0.7h-0.7zM393.5,91.9h0.7v0.7h-0.7zM377.0,90.7h0.7v0.7h-0.7zM367.1,90.9h0.7v0.7h-0.7zM379.8,88.9h0.7v0.7h-0.7zM386.2,90.5h0.7v0.7h-0.7zM375.1,93.4h0.7v0.7h-0.7zM376.8,90.9h0.7v0.7h-0.7zM383.1,89.8h0.7v0.7h-0.7zM367.1,91.3h0.7v0.7h-0.7zM375.3,90.3h0.7v0.7h-0.7zM366.6,91.1h0.7v0.7h-0.7zM382.6,94.7h0.7v0.7h-0.7zM377.7,91.1h0.7v0.7h-0.7zM381.1,90.4h0.7v0.7h-0.7zM368.6,90.2h0.7v0.7h-0.7zM395.9,89.3h0.7v0.7h-0.7zM377.1,89.9h0.7v0.7h-0.7zM394.4,88.0h0.7v0.7h-0.7zM398.2,91.4h0.7v0.7h-0.7zM401.0,91.2h0.7v0.7h-0.7zM381.8,88.0h0.7v0.7h-0.7zM384.8,88.9h0.7v0.7h-0.7zM397.5,90.4h0.7v0.7h-0.7zM399.3,94.5h0.7v0.7h-0.7zM388.4,92.1h0.7v0.7h-0.7zM387.6,91.6h0.7v0.7h-0.7zM382.4,90.5h0.7v0.7h-0.7zM378.3,91.8h0.7v0.7h-0.7zM386.1,90.6h0.7v0.7h-0.7zM369.9,90.4h0.7v0.7h-0.7zM393.7,89.1h0.7v0.7h-0.7zM375.7,90.8h0.7v0.7h-0.7zM372.7,90.3h0.7v0.7h-0.7zM393.6,93.7h0.7v0.7h-0.7zM374.5,88.3h0.7v0.7h-0.7zM368.0,89.5h0.7v0.7h-0.7zM367.4,87.3h0.7v0.7h-0.7zM402.9,91.2h0.7v0.7h-0.7zM382.6,90.8h0.7v0.7h-0.7zM376.9,93.8h0.7v0.7h-0.7zM402.9,94.1h0.7v0.7h-0.7zM369.3,88.9h0.7v0.7h-0.7zM390.8,91.7h0.7v0.7h-0.7zM368.8,89.3h0.7v0.7h-0.7zM382.3,92.5h0.7v0.7h-0.7zM380.7,87.1h0.7v0.7h-0.7zM402.7,89.1h0.7v0.7h-0.7zM401.6,92.3h0.7v0.7h-0.7zM373.4,89.3h0.7v0.7h-0.7zM381.7,89.2h0.7v0.7h-0.7zM377.3,88.6h0.7v0.7h-0.7zM405.6,91.6h0.7v0.7h-0.7zM368.2,90.6h0.7v0.7h-0.7zM372.1,90.0h0.7v0.7h-0.7zM366.9,86.6h0.7v0.7h-0.7zM373.1,90.6h0.7v0.7h-0.7zM401.1,94.9h0.7v0.7h-0.7zM374.1,94.5h0.7v0.7h-0.7zM404.6,94.7h0.7v0.7h-0.7zM392.8,88.2h0.7v0.7h-0.7zM395.1,91.9h0.7v0.7h-0.7zM383.8,90.6h0.7v0.7h-0.7zM390.4,93.5h0.7v0.7h-0.7zM376.4,89.9h0.7v0.7h-0.7zM404.6,90.9h0.7v0.7h-0.7zM372.2,91.2h0.7v0.7h-0.7zM403.6,96.5h0.7v0.7h-0.7zM402.4,93.7h0.7v0.7h-0.7zM397.6,88.4h0.7v0.7h-0.7zM386.2,93.8h0.7v0.7h-0.7zM398.3,92.9h0.7v0.7h-0.7zM398.3,92.1h0.7v0.7h-0.7zM393.4,91.5h0.7v0.7h-0.7zM382.9,95.4h0.7v0.7h-0.7zM381.2,87.2h0.7v0.7h-0.7zM391.0,89.7h0.7v0.7h-0.7zM378.0,88.2h0.7v0.7h-0.7zM389.4,94.8h0.7v0.7h-0.7zM393.1,93.0h0.7v0.7h-0.7zM396.7,90.2h0.7v0.7h-0.7zM381.4,91.1h0.7v0.7h-0.7zM391.2,90.3h0.7v0.7h-0.7zM366.0,89.9h0.7v0.7h-0.7zM379.2,90.8h0.7v0.7h-0.7zM372.6,91.8h0.7v0.7h-0.7zM380.0,89.3h0.7v0.7h-0.7zM391.0,87.2h0.7v0.7h-0.7zM366.4,92.0h0.7v0.7h-0.7zM393.5,89.4h0.7v0.7h-0.7zM388.3,90.0h0.7v0.7h-0.7zM367.7,91.6h0.7v0.7h-0.7zM390.5,93.9h0.7v0.7h-0.7zM401.8,92.6h0.7v0.7h-0.7zM390.6,88.5h0.7v0.7h-0.7zM404.1,89.6h0.7v0.7h-0.7zM397.2,93.6h0.7v0.7h-0.7zM366.3,90.1h0.7v0.7h-0.7zM388.3,88.6h0.7v0.7h-0.7zM388.2,88.2h0.7v0.7h-0.7zM377.9,94.3h0.7v0.7h-0.7zM388.7,91.2h0.7v0.7h-0.7zM405.3,88.7h0.7v0.7h-0.7zM395.3,89.3h0.7v0.7h-0.7zM405.6,87.8h0.7v0.7h-0.7zM379.2,91.7h0.7v0.7h-0.7zM366.2,89.4h0.7v0.7h-0.7zM405.6,93.4h0.7v0.7h-0.7zM379.1,90.3h0.7v0.7h-0.7zM368.4,93.2h0.7v0.7h-0.7zM375.6,89.8h0.7v0.7h-0.7zM387.6,91.7h0.7v0.7h-0.7zM380.2,91.3h0.7v0.7h-0.7zM404.9,90.1h0.7v0.7h-0.7zM371.6,89.1h0.7v0.7h-0.7zM366.2,89.9h0.7v0.7h-0.7zM375.5,91.8h0.7v0.7h-0.7zM382.9,89.9h0.7v0.7h-0.7zM384.4,90.7h0.7v0.7h-0.7zM367.5,92.6h0.7v0.7h-0.7zM377.3,89.9h0.7v0.7h-0.7zM395.2,94.8h0.7v0.7h-0.7zM392.1,88.1h0.7v0.7h-0.7zM393.9,89.2h0.7v0.7h-0.7zM367.2,92.4h0.7v0.7h-0.7zM398.4,93.8h0.7v0.7h-0.7zM405.5,92.0h0.7v0.7h-0.7zM386.3,89.9h0.7v0.7h-0.7zM388.7,90.3h0.7v0.7h-0.7zM404.5,91.1h0.7v0.7h-0.7zM383.8,90.3h0.7v0.7h-0.7zM378.7,96.0h0.7v0.7h-0.7zM367.6,89.5h0.7v0.7h-0.7zM372.4,89.2h0.7v0.7h-0.7zM375.5,89.3h0.7v0.7h-0.7zM390.5,90.1h0.7v0.7h-0.7zM401.5,95.6h0.7v0.7h-0.7zM402.3,91.4h0.7v0.7h-0.7zM373.7,90.9h0.7v0.7h-0.7zM386.9,90.3h0.7v0.7h-0.7zM367.8,94.0h0.7v0.7h-0.7zM369.4,93.0h0.7v0.7h-0.7zM392.8,91.2h0.7v0.7h-0.7zM396.3,91.4h0.7v0.7h-0.7zM367.4,92.9h0.7v0.7h-0.7zM383.3,88.6h0.7v0.7h-0.7zM381.2,93.7h0.7v0.7h-0.7zM366.8,90.7h0.7v0.7h-0.7zM384.5,93.5h0.7v0.7h-0.7zM369.0,89.0h0.7v0.7h-0.7zM393.0,90.8h0.7v0.7h-0.7zM395.3,89.8h0.7v0.7h-0.7zM386.8,89.0h0.7v0.7h-0.7zM374.5,91.7h0.7v0.7h-0.7zM374.9,91.9h0.7v0.7h-0.7zM395.3,90.2h0.7v0.7h-0.7zM378.0,90.7h0.7v0.7h-0.7zM404.3,91.8h0.7v0.7h-0.7zM394.4,93.9h0.7v0.7h-0.7zM367.4,90.0h0.7v0.7h-0.7zM370.5,92.9h0.7v0.7h-0.7zM388.6,91.9h0.7v0.7h-0.7zM403.9,91.3h0.7v0.7h-0.7zM372.5,91.8h0.7v0.7h-0.7zM370.0,92.5h0.7v0.7h-0.7zM380.1,91.2h0.7v0.7h-0.7zM378.1,92.3h0.7v0.7h-0.7zM397.9,91.0h0.7v0.7h-0.7zM384.8,91.3h0.7v0.7h-0.7zM388.1,91.4h0.7v0.7h-0.7zM400.0,94.4h0.7v0.7h-0.7zM372.9,91.4h0.7v0.7h-0.7zM391.5,92.7h0.7v0.7h-0.7zM373.4,87.8h0.7v0.7h-0.7zM370.3,94.5h0.7v0.7h-0.7zM402.4,90.8h0.7v0.7h-0.7zM385.1,92.7h0.7v0.7h-0.7zM401.7,92.2h0.7v0.7h-0.7zM367.6,90.1h0.7v0.7h-0.7zM400.3,92.1h0.7v0.7h-0.7zM377.5,92.2h0.7v0.7h-0.7zM371.9,91.3h0.7v0.7h-0.7zM380.7,88.7h0.7v0.7h-0.7zM368.4,88.4h0.7v0.7h-0.7zM384.9,92.9h0.7v0.7h-0.7zM397.0,92.1h0.7v0.7h-0.7zM374.0,91.1h0.7v0.7h-0.7zM379.1,89.4h0.7v0.7h-0.7z" fill="#1c64ff" fill-opacity="0.38"/>
<ellipse cx="372" cy="90.4" rx="1.6" ry="1.4" fill="#1c64ff" fill-opacity="0.35" filter="url(#bl2)"/>
<ellipse cx="377" cy="90.6" rx="1.6" ry="1.4" fill="#1c64ff" fill-opacity="0.35" filter="url(#bl2)"/>
<ellipse cx="382" cy="90.8" rx="1.6" ry="1.4" fill="#1c64ff" fill-opacity="0.35" filter="url(#bl2)"/>
<ellipse cx="387" cy="91.0" rx="1.6" ry="1.4" fill="#1c64ff" fill-opacity="0.35" filter="url(#bl2)"/>
<ellipse cx="392" cy="91.2" rx="1.6" ry="1.4" fill="#1c64ff" fill-opacity="0.35" filter="url(#bl2)"/>
<ellipse cx="397" cy="91.4" rx="1.6" ry="1.4" fill="#1c64ff" fill-opacity="0.35" filter="url(#bl2)"/>
<ellipse cx="401" cy="91.6" rx="1.6" ry="1.4" fill="#1c64ff" fill-opacity="0.35" filter="url(#bl2)"/>
<path d="M404.6,70.1h0.7v0.7h-0.7zM387.0,86.6h0.7v0.7h-0.7zM398.9,99.4h0.7v0.7h-0.7zM397.4,76.9h0.7v0.7h-0.7zM360.7,84.9h0.7v0.7h-0.7zM366.8,87.2h0.7v0.7h-0.7zM352.6,91.5h0.7v0.7h-0.7zM376.8,71.5h0.7v0.7h-0.7zM354.9,99.0h0.7v0.7h-0.7zM408.8,97.3h0.7v0.7h-0.7zM374.8,100.5h0.7v0.7h-0.7zM358.6,92.5h0.7v0.7h-0.7zM415.7,76.5h0.7v0.7h-0.7zM346.3,73.9h0.7v0.7h-0.7zM352.2,94.9h0.7v0.7h-0.7zM390.9,84.8h0.7v0.7h-0.7zM354.5,89.9h0.7v0.7h-0.7zM356.1,74.1h0.7v0.7h-0.7zM389.9,89.9h0.7v0.7h-0.7zM405.3,95.6h0.7v0.7h-0.7zM356.2,79.4h0.7v0.7h-0.7zM356.6,85.2h0.7v0.7h-0.7zM348.1,96.9h0.7v0.7h-0.7zM396.4,95.1h0.7v0.7h-0.7zM382.1,98.3h0.7v0.7h-0.7zM407.8,95.7h0.7v0.7h-0.7zM405.6,76.7h0.7v0.7h-0.7zM371.6,71.7h0.7v0.7h-0.7zM402.6,84.7h0.7v0.7h-0.7zM419.0,79.0h0.7v0.7h-0.7zM377.9,96.9h0.7v0.7h-0.7zM417.7,93.5h0.7v0.7h-0.7zM411.3,98.6h0.7v0.7h-0.7zM366.1,89.1h0.7v0.7h-0.7zM350.7,91.0h0.7v0.7h-0.7zM416.5,85.7h0.7v0.7h-0.7zM356.8,87.6h0.7v0.7h-0.7zM350.8,84.3h0.7v0.7h-0.7zM351.9,82.9h0.7v0.7h-0.7zM406.5,92.9h0.7v0.7h-0.7zM409.2,84.2h0.7v0.7h-0.7zM378.6,71.7h0.7v0.7h-0.7zM404.4,87.7h0.7v0.7h-0.7zM376.2,74.5h0.7v0.7h-0.7zM379.9,71.9h0.7v0.7h-0.7zM354.9,72.5h0.7v0.7h-0.7zM377.4,74.3h0.7v0.7h-0.7zM407.2,88.9h0.7v0.7h-0.7zM410.2,87.2h0.7v0.7h-0.7zM357.8,78.6h0.7v0.7h-0.7zM408.1,88.1h0.7v0.7h-0.7zM393.8,89.6h0.7v0.7h-0.7zM349.6,76.2h0.7v0.7h-0.7zM377.9,96.2h0.7v0.7h-0.7zM415.8,88.3h0.7v0.7h-0.7zM365.2,71.4h0.7v0.7h-0.7zM387.4,82.7h0.7v0.7h-0.7zM414.9,76.4h0.7v0.7h-0.7zM361.2,70.5h0.7v0.7h-0.7zM348.1,95.0h0.7v0.7h-0.7z" fill="#1c64ff" fill-opacity="0.15"/>
<ellipse cx="410.5" cy="96" rx="5" ry="7.5" fill="#ff3cf0" fill-opacity="0.22" filter="url(#bl1)"/>
<ellipse cx="410.5" cy="96.2" rx="3.1" ry="5.6" fill="#ff3cf0" filter="url(#bl2)"/>
<path d="M403,101.3 C403,97 405,93 407.8,91.3 L408.3,101.3 Z" fill="#1c64ff" filter="url(#bl2)"/>
<path d="M407.4,102.9h0.7v0.7h-0.7zM409.4,103.7h0.7v0.7h-0.7zM406.6,105.6h0.7v0.7h-0.7zM409.6,102.2h0.7v0.7h-0.7zM405.9,105.5h0.7v0.7h-0.7zM405.6,106.0h0.7v0.7h-0.7zM406.3,106.5h0.7v0.7h-0.7zM404.5,100.7h0.7v0.7h-0.7zM403.4,106.6h0.7v0.7h-0.7zM405.0,102.9h0.7v0.7h-0.7zM405.4,102.5h0.7v0.7h-0.7zM407.0,103.8h0.7v0.7h-0.7zM405.2,102.8h0.7v0.7h-0.7zM409.6,105.0h0.7v0.7h-0.7zM408.8,105.5h0.7v0.7h-0.7zM406.2,104.9h0.7v0.7h-0.7zM410.3,102.3h0.7v0.7h-0.7zM409.6,99.9h0.7v0.7h-0.7zM402.4,101.4h0.7v0.7h-0.7zM404.4,102.1h0.7v0.7h-0.7zM405.5,104.8h0.7v0.7h-0.7zM405.0,103.0h0.7v0.7h-0.7zM403.7,101.2h0.7v0.7h-0.7zM406.2,102.4h0.7v0.7h-0.7zM408.6,103.7h0.7v0.7h-0.7zM402.6,104.7h0.7v0.7h-0.7zM404.0,103.0h0.7v0.7h-0.7zM404.3,102.3h0.7v0.7h-0.7zM405.3,101.8h0.7v0.7h-0.7zM405.0,103.1h0.7v0.7h-0.7zM408.2,104.6h0.7v0.7h-0.7zM410.5,101.1h0.7v0.7h-0.7zM405.7,105.4h0.7v0.7h-0.7zM404.1,103.3h0.7v0.7h-0.7zM408.2,105.9h0.7v0.7h-0.7zM407.9,104.1h0.7v0.7h-0.7zM406.2,104.5h0.7v0.7h-0.7zM406.8,104.1h0.7v0.7h-0.7zM405.2,103.4h0.7v0.7h-0.7zM404.6,101.9h0.7v0.7h-0.7zM404.7,102.3h0.7v0.7h-0.7zM405.1,102.7h0.7v0.7h-0.7zM403.2,104.0h0.7v0.7h-0.7zM407.3,105.9h0.7v0.7h-0.7zM401.4,101.4h0.7v0.7h-0.7zM404.4,102.2h0.7v0.7h-0.7zM406.7,102.3h0.7v0.7h-0.7zM404.9,104.6h0.7v0.7h-0.7zM406.2,101.1h0.7v0.7h-0.7zM408.7,106.9h0.7v0.7h-0.7z" fill="#ff2020" fill-opacity="0.3"/>
<path d="M418.7,116.4h0.7v0.7h-0.7zM419.7,119.8h0.7v0.7h-0.7zM376.9,105.3h0.7v0.7h-0.7zM351.2,119.0h0.7v0.7h-0.7zM400.3,119.6h0.7v0.7h-0.7zM404.8,114.8h0.7v0.7h-0.7zM401.9,119.3h0.7v0.7h-0.7zM394.4,117.8h0.7v0.7h-0.7zM396.7,118.1h0.7v0.7h-0.7zM356.3,121.2h0.7v0.7h-0.7zM399.3,114.6h0.7v0.7h-0.7zM417.9,116.0h0.7v0.7h-0.7z" fill="#ff2020" fill-opacity="0.25"/>
<rect x="346.6" y="102.3" width="75.0" height="28.89999999999999" fill="none" stroke="#1a1a1a" stroke-width="0.9" />
<rect x="432.8" y="65.1" width="80.30000000000001" height="70.5" fill="none" stroke="#1a1a1a" stroke-width="1.0" />
<line x1="430.40000000000003" y1="66.1" x2="432.8" y2="66.1" stroke="#333" stroke-width="0.65" />
<line x1="431.3" y1="68.46206896551723" x2="432.8" y2="68.46206896551723" stroke="#333" stroke-width="0.65" />
<line x1="431.3" y1="70.82413793103447" x2="432.8" y2="70.82413793103447" stroke="#333" stroke-width="0.65" />
<line x1="431.3" y1="73.18620689655172" x2="432.8" y2="73.18620689655172" stroke="#333" stroke-width="0.65" />
<line x1="431.3" y1="75.54827586206896" x2="432.8" y2="75.54827586206896" stroke="#333" stroke-width="0.65" />
<line x1="431.3" y1="77.9103448275862" x2="432.8" y2="77.9103448275862" stroke="#333" stroke-width="0.65" />
<line x1="430.40000000000003" y1="80.27241379310344" x2="432.8" y2="80.27241379310344" stroke="#333" stroke-width="0.65" />
<line x1="431.3" y1="82.63448275862069" x2="432.8" y2="82.63448275862069" stroke="#333" stroke-width="0.65" />
<line x1="431.3" y1="84.99655172413793" x2="432.8" y2="84.99655172413793" stroke="#333" stroke-width="0.65" />
<line x1="431.3" y1="87.35862068965517" x2="432.8" y2="87.35862068965517" stroke="#333" stroke-width="0.65" />
<line x1="431.3" y1="89.72068965517241" x2="432.8" y2="89.72068965517241" stroke="#333" stroke-width="0.65" />
<line x1="431.3" y1="92.08275862068965" x2="432.8" y2="92.08275862068965" stroke="#333" stroke-width="0.65" />
<line x1="430.40000000000003" y1="94.44482758620688" x2="432.8" y2="94.44482758620688" stroke="#333" stroke-width="0.65" />
<line x1="431.3" y1="96.80689655172414" x2="432.8" y2="96.80689655172414" stroke="#333" stroke-width="0.65" />
<line x1="431.3" y1="99.16896551724138" x2="432.8" y2="99.16896551724138" stroke="#333" stroke-width="0.65" />
<line x1="431.3" y1="101.53103448275861" x2="432.8" y2="101.53103448275861" stroke="#333" stroke-width="0.65" />
<line x1="431.3" y1="103.89310344827587" x2="432.8" y2="103.89310344827587" stroke="#333" stroke-width="0.65" />
<line x1="431.3" y1="106.2551724137931" x2="432.8" y2="106.2551724137931" stroke="#333" stroke-width="0.65" />
<line x1="430.40000000000003" y1="108.61724137931034" x2="432.8" y2="108.61724137931034" stroke="#333" stroke-width="0.65" />
<line x1="431.3" y1="110.97931034482758" x2="432.8" y2="110.97931034482758" stroke="#333" stroke-width="0.65" />
<line x1="431.3" y1="113.34137931034482" x2="432.8" y2="113.34137931034482" stroke="#333" stroke-width="0.65" />
<line x1="431.3" y1="115.70344827586206" x2="432.8" y2="115.70344827586206" stroke="#333" stroke-width="0.65" />
<line x1="431.3" y1="118.0655172413793" x2="432.8" y2="118.0655172413793" stroke="#333" stroke-width="0.65" />
<line x1="431.3" y1="120.42758620689655" x2="432.8" y2="120.42758620689655" stroke="#333" stroke-width="0.65" />
<line x1="430.40000000000003" y1="122.78965517241379" x2="432.8" y2="122.78965517241379" stroke="#333" stroke-width="0.65" />
<line x1="431.3" y1="125.15172413793103" x2="432.8" y2="125.15172413793103" stroke="#333" stroke-width="0.65" />
<line x1="431.3" y1="127.51379310344828" x2="432.8" y2="127.51379310344828" stroke="#333" stroke-width="0.65" />
<line x1="431.3" y1="129.87586206896552" x2="432.8" y2="129.87586206896552" stroke="#333" stroke-width="0.65" />
<line x1="431.3" y1="132.23793103448276" x2="432.8" y2="132.23793103448276" stroke="#333" stroke-width="0.65" />
<line x1="431.3" y1="134.6" x2="432.8" y2="134.6" stroke="#333" stroke-width="0.65" />
<line x1="433.8" y1="135.6" x2="433.8" y2="137.79999999999998" stroke="#444" stroke-width="0.55" />
<line x1="436.0371428571429" y1="135.6" x2="436.0371428571429" y2="136.9" stroke="#444" stroke-width="0.55" />
<line x1="438.2742857142857" y1="135.6" x2="438.2742857142857" y2="136.9" stroke="#444" stroke-width="0.55" />
<line x1="440.5114285714286" y1="135.6" x2="440.5114285714286" y2="136.9" stroke="#444" stroke-width="0.55" />
<line x1="442.74857142857144" y1="135.6" x2="442.74857142857144" y2="136.9" stroke="#444" stroke-width="0.55" />
<line x1="444.9857142857143" y1="135.6" x2="444.9857142857143" y2="136.9" stroke="#444" stroke-width="0.55" />
<line x1="447.22285714285715" y1="135.6" x2="447.22285714285715" y2="136.9" stroke="#444" stroke-width="0.55" />
<line x1="449.46000000000004" y1="135.6" x2="449.46000000000004" y2="136.9" stroke="#444" stroke-width="0.55" />
<line x1="451.69714285714286" y1="135.6" x2="451.69714285714286" y2="136.9" stroke="#444" stroke-width="0.55" />
<line x1="453.93428571428575" y1="135.6" x2="453.93428571428575" y2="137.79999999999998" stroke="#444" stroke-width="0.55" />
<line x1="456.1714285714286" y1="135.6" x2="456.1714285714286" y2="136.9" stroke="#444" stroke-width="0.55" />
<line x1="458.40857142857146" y1="135.6" x2="458.40857142857146" y2="136.9" stroke="#444" stroke-width="0.55" />
<line x1="460.6457142857143" y1="135.6" x2="460.6457142857143" y2="136.9" stroke="#444" stroke-width="0.55" />
<line x1="462.8828571428572" y1="135.6" x2="462.8828571428572" y2="136.9" stroke="#444" stroke-width="0.55" />
<line x1="465.12" y1="135.6" x2="465.12" y2="136.9" stroke="#444" stroke-width="0.55" />
<line x1="467.3571428571429" y1="135.6" x2="467.3571428571429" y2="136.9" stroke="#444" stroke-width="0.55" />
<line x1="469.5942857142857" y1="135.6" x2="469.5942857142857" y2="136.9" stroke="#444" stroke-width="0.55" />
<line x1="471.8314285714286" y1="135.6" x2="471.8314285714286" y2="136.9" stroke="#444" stroke-width="0.55" />
<line x1="474.06857142857143" y1="135.6" x2="474.06857142857143" y2="137.79999999999998" stroke="#444" stroke-width="0.55" />
<line x1="476.3057142857143" y1="135.6" x2="476.3057142857143" y2="136.9" stroke="#444" stroke-width="0.55" />
<line x1="478.54285714285714" y1="135.6" x2="478.54285714285714" y2="136.9" stroke="#444" stroke-width="0.55" />
<line x1="480.78000000000003" y1="135.6" x2="480.78000000000003" y2="136.9" stroke="#444" stroke-width="0.55" />
<line x1="483.01714285714286" y1="135.6" x2="483.01714285714286" y2="136.9" stroke="#444" stroke-width="0.55" />
<line x1="485.25428571428574" y1="135.6" x2="485.25428571428574" y2="136.9" stroke="#444" stroke-width="0.55" />
<line x1="487.49142857142857" y1="135.6" x2="487.49142857142857" y2="136.9" stroke="#444" stroke-width="0.55" />
<line x1="489.72857142857146" y1="135.6" x2="489.72857142857146" y2="136.9" stroke="#444" stroke-width="0.55" />
<line x1="491.9657142857143" y1="135.6" x2="491.9657142857143" y2="136.9" stroke="#444" stroke-width="0.55" />
<line x1="494.20285714285717" y1="135.6" x2="494.20285714285717" y2="137.79999999999998" stroke="#444" stroke-width="0.55" />
<line x1="496.44000000000005" y1="135.6" x2="496.44000000000005" y2="136.9" stroke="#444" stroke-width="0.55" />
<line x1="498.6771428571429" y1="135.6" x2="498.6771428571429" y2="136.9" stroke="#444" stroke-width="0.55" />
<line x1="500.9142857142857" y1="135.6" x2="500.9142857142857" y2="136.9" stroke="#444" stroke-width="0.55" />
<line x1="503.1514285714286" y1="135.6" x2="503.1514285714286" y2="136.9" stroke="#444" stroke-width="0.55" />
<line x1="505.3885714285715" y1="135.6" x2="505.3885714285715" y2="136.9" stroke="#444" stroke-width="0.55" />
<line x1="507.6257142857143" y1="135.6" x2="507.6257142857143" y2="136.9" stroke="#444" stroke-width="0.55" />
<line x1="509.86285714285714" y1="135.6" x2="509.86285714285714" y2="136.9" stroke="#444" stroke-width="0.55" />
<line x1="512.1" y1="135.6" x2="512.1" y2="136.9" stroke="#444" stroke-width="0.55" />
<line x1="434.8" y1="137.29999999999998" x2="450.057" y2="137.29999999999998" stroke="#333" stroke-width="1.0" />
<line x1="456.89" y1="137.29999999999998" x2="470.541" y2="137.29999999999998" stroke="#777" stroke-width="0.9" stroke-dasharray="1.2,0.8"/>
<line x1="477.76800000000003" y1="137.29999999999998" x2="492.22200000000004" y2="137.29999999999998" stroke="#777" stroke-width="0.9" stroke-dasharray="1.2,0.8"/>
<line x1="497.04" y1="137.29999999999998" x2="510.69100000000003" y2="137.29999999999998" stroke="#777" stroke-width="0.9" stroke-dasharray="1.2,0.8"/>
<path d="M446.1,106.4h0.7v0.7h-0.7zM446.1,102.8h0.7v0.7h-0.7zM485.9,105.4h0.7v0.7h-0.7zM446.4,108.4h0.7v0.7h-0.7zM465.4,104.3h0.7v0.7h-0.7zM484.2,102.5h0.7v0.7h-0.7zM437.3,111.6h0.7v0.7h-0.7zM461.7,103.8h0.7v0.7h-0.7zM472.1,104.9h0.7v0.7h-0.7zM456.6,103.1h0.7v0.7h-0.7zM461.3,103.9h0.7v0.7h-0.7zM466.7,104.0h0.7v0.7h-0.7zM462.9,109.5h0.7v0.7h-0.7zM470.0,104.9h0.7v0.7h-0.7zM454.8,107.9h0.7v0.7h-0.7zM451.9,104.1h0.7v0.7h-0.7zM467.1,103.4h0.7v0.7h-0.7zM472.6,103.5h0.7v0.7h-0.7zM463.8,103.1h0.7v0.7h-0.7zM449.7,104.9h0.7v0.7h-0.7zM461.1,107.5h0.7v0.7h-0.7zM451.9,105.2h0.7v0.7h-0.7zM471.1,109.9h0.7v0.7h-0.7zM481.2,103.7h0.7v0.7h-0.7zM450.0,107.7h0.7v0.7h-0.7zM455.4,103.3h0.7v0.7h-0.7zM451.0,103.5h0.7v0.7h-0.7zM474.6,106.9h0.7v0.7h-0.7zM451.1,104.6h0.7v0.7h-0.7zM484.9,105.0h0.7v0.7h-0.7zM461.1,107.0h0.7v0.7h-0.7zM465.8,105.7h0.7v0.7h-0.7zM467.1,112.0h0.7v0.7h-0.7zM477.9,106.3h0.7v0.7h-0.7zM442.1,103.2h0.7v0.7h-0.7zM439.9,102.6h0.7v0.7h-0.7zM482.0,102.7h0.7v0.7h-0.7zM446.7,103.5h0.7v0.7h-0.7zM464.2,103.0h0.7v0.7h-0.7zM446.1,103.2h0.7v0.7h-0.7zM437.7,105.9h0.7v0.7h-0.7zM464.0,103.7h0.7v0.7h-0.7zM490.3,107.4h0.7v0.7h-0.7zM469.5,109.1h0.7v0.7h-0.7zM487.1,103.9h0.7v0.7h-0.7zM457.5,105.3h0.7v0.7h-0.7zM463.4,109.9h0.7v0.7h-0.7zM463.6,108.6h0.7v0.7h-0.7zM448.0,110.1h0.7v0.7h-0.7zM452.0,102.9h0.7v0.7h-0.7zM469.3,105.1h0.7v0.7h-0.7zM447.3,104.2h0.7v0.7h-0.7zM464.8,103.7h0.7v0.7h-0.7zM474.9,105.3h0.7v0.7h-0.7zM469.2,102.6h0.7v0.7h-0.7zM455.3,116.3h0.7v0.7h-0.7zM491.8,107.3h0.7v0.7h-0.7zM446.8,103.9h0.7v0.7h-0.7zM441.7,103.7h0.7v0.7h-0.7zM438.9,104.1h0.7v0.7h-0.7zM441.6,105.2h0.7v0.7h-0.7zM451.5,103.2h0.7v0.7h-0.7zM479.2,104.7h0.7v0.7h-0.7zM474.4,103.3h0.7v0.7h-0.7zM491.7,105.8h0.7v0.7h-0.7zM466.6,105.7h0.7v0.7h-0.7zM475.7,106.4h0.7v0.7h-0.7zM450.7,108.8h0.7v0.7h-0.7zM479.9,104.3h0.7v0.7h-0.7zM464.9,103.8h0.7v0.7h-0.7zM447.2,105.7h0.7v0.7h-0.7zM488.9,103.8h0.7v0.7h-0.7zM460.8,106.6h0.7v0.7h-0.7zM461.9,111.8h0.7v0.7h-0.7zM479.3,106.7h0.7v0.7h-0.7zM443.8,102.7h0.7v0.7h-0.7zM473.2,108.1h0.7v0.7h-0.7zM454.4,105.5h0.7v0.7h-0.7zM465.9,105.1h0.7v0.7h-0.7zM479.5,105.8h0.7v0.7h-0.7zM437.4,107.5h0.7v0.7h-0.7zM445.1,103.1h0.7v0.7h-0.7zM477.3,102.6h0.7v0.7h-0.7zM450.6,106.8h0.7v0.7h-0.7zM469.9,108.3h0.7v0.7h-0.7zM460.4,105.2h0.7v0.7h-0.7zM480.1,104.4h0.7v0.7h-0.7zM464.1,103.1h0.7v0.7h-0.7zM450.9,105.5h0.7v0.7h-0.7zM463.4,112.3h0.7v0.7h-0.7zM477.6,105.8h0.7v0.7h-0.7zM443.5,107.4h0.7v0.7h-0.7zM449.2,103.2h0.7v0.7h-0.7zM486.9,103.2h0.7v0.7h-0.7zM490.0,103.0h0.7v0.7h-0.7zM477.4,103.0h0.7v0.7h-0.7zM473.5,109.4h0.7v0.7h-0.7zM440.7,104.5h0.7v0.7h-0.7zM449.8,103.8h0.7v0.7h-0.7zM449.9,109.6h0.7v0.7h-0.7zM465.0,104.3h0.7v0.7h-0.7zM465.9,107.9h0.7v0.7h-0.7zM447.2,105.0h0.7v0.7h-0.7zM465.8,103.6h0.7v0.7h-0.7zM469.8,108.3h0.7v0.7h-0.7zM468.0,104.0h0.7v0.7h-0.7zM472.5,109.3h0.7v0.7h-0.7zM466.2,106.8h0.7v0.7h-0.7zM485.4,110.3h0.7v0.7h-0.7zM479.5,103.2h0.7v0.7h-0.7zM475.0,105.5h0.7v0.7h-0.7zM442.6,103.5h0.7v0.7h-0.7zM473.4,102.6h0.7v0.7h-0.7zM467.2,108.3h0.7v0.7h-0.7zM470.4,105.3h0.7v0.7h-0.7zM453.7,103.8h0.7v0.7h-0.7zM475.3,105.3h0.7v0.7h-0.7zM454.3,104.9h0.7v0.7h-0.7zM461.6,107.9h0.7v0.7h-0.7zM478.6,105.1h0.7v0.7h-0.7zM479.2,104.9h0.7v0.7h-0.7zM490.4,108.8h0.7v0.7h-0.7zM461.7,108.3h0.7v0.7h-0.7zM454.3,104.5h0.7v0.7h-0.7zM482.6,107.2h0.7v0.7h-0.7zM465.6,105.1h0.7v0.7h-0.7zM457.0,105.9h0.7v0.7h-0.7zM463.2,102.7h0.7v0.7h-0.7zM489.3,108.4h0.7v0.7h-0.7zM490.5,109.4h0.7v0.7h-0.7zM480.5,102.7h0.7v0.7h-0.7zM485.4,103.3h0.7v0.7h-0.7zM440.8,105.5h0.7v0.7h-0.7zM474.1,112.0h0.7v0.7h-0.7zM482.3,103.8h0.7v0.7h-0.7zM464.7,104.8h0.7v0.7h-0.7zM442.2,106.1h0.7v0.7h-0.7zM481.9,105.9h0.7v0.7h-0.7zM452.9,103.7h0.7v0.7h-0.7zM451.1,104.5h0.7v0.7h-0.7zM440.2,107.4h0.7v0.7h-0.7zM476.2,105.2h0.7v0.7h-0.7zM460.1,108.7h0.7v0.7h-0.7zM468.3,105.1h0.7v0.7h-0.7zM485.0,104.0h0.7v0.7h-0.7zM467.3,105.7h0.7v0.7h-0.7zM470.0,108.6h0.7v0.7h-0.7zM439.6,104.3h0.7v0.7h-0.7zM488.9,105.3h0.7v0.7h-0.7zM478.9,103.1h0.7v0.7h-0.7zM471.6,105.7h0.7v0.7h-0.7zM451.1,106.7h0.7v0.7h-0.7zM462.9,106.3h0.7v0.7h-0.7zM468.9,103.3h0.7v0.7h-0.7zM445.2,102.5h0.7v0.7h-0.7zM438.5,104.6h0.7v0.7h-0.7zM465.9,102.8h0.7v0.7h-0.7zM486.6,106.8h0.7v0.7h-0.7zM470.5,104.4h0.7v0.7h-0.7zM486.4,105.4h0.7v0.7h-0.7zM456.1,104.3h0.7v0.7h-0.7zM489.4,105.1h0.7v0.7h-0.7zM474.6,105.5h0.7v0.7h-0.7zM445.6,108.6h0.7v0.7h-0.7zM458.2,105.2h0.7v0.7h-0.7zM456.9,105.1h0.7v0.7h-0.7zM445.8,104.0h0.7v0.7h-0.7zM480.8,103.6h0.7v0.7h-0.7zM456.5,103.5h0.7v0.7h-0.7zM490.6,106.8h0.7v0.7h-0.7zM485.4,104.7h0.7v0.7h-0.7zM487.2,110.2h0.7v0.7h-0.7zM488.2,107.3h0.7v0.7h-0.7zM440.8,105.4h0.7v0.7h-0.7zM457.0,105.3h0.7v0.7h-0.7zM437.4,107.7h0.7v0.7h-0.7zM478.5,106.4h0.7v0.7h-0.7zM463.7,104.5h0.7v0.7h-0.7zM483.3,104.1h0.7v0.7h-0.7zM473.7,104.3h0.7v0.7h-0.7zM449.9,105.7h0.7v0.7h-0.7zM489.6,105.4h0.7v0.7h-0.7zM461.7,103.0h0.7v0.7h-0.7zM489.7,106.1h0.7v0.7h-0.7zM456.2,102.7h0.7v0.7h-0.7zM473.9,107.7h0.7v0.7h-0.7zM488.7,105.8h0.7v0.7h-0.7zM476.8,104.3h0.7v0.7h-0.7zM464.2,104.8h0.7v0.7h-0.7zM442.1,108.4h0.7v0.7h-0.7zM439.8,104.1h0.7v0.7h-0.7zM447.0,105.7h0.7v0.7h-0.7zM452.8,103.2h0.7v0.7h-0.7zM465.8,103.1h0.7v0.7h-0.7zM478.7,103.5h0.7v0.7h-0.7zM477.1,104.1h0.7v0.7h-0.7zM441.4,105.6h0.7v0.7h-0.7zM453.3,106.3h0.7v0.7h-0.7zM480.2,107.6h0.7v0.7h-0.7zM457.6,102.7h0.7v0.7h-0.7zM438.5,104.3h0.7v0.7h-0.7zM482.5,106.3h0.7v0.7h-0.7zM442.8,107.3h0.7v0.7h-0.7zM445.5,104.7h0.7v0.7h-0.7zM441.1,111.6h0.7v0.7h-0.7zM492.0,106.4h0.7v0.7h-0.7zM466.9,103.1h0.7v0.7h-0.7zM463.3,108.2h0.7v0.7h-0.7zM446.5,105.4h0.7v0.7h-0.7zM474.3,106.0h0.7v0.7h-0.7zM439.3,103.1h0.7v0.7h-0.7zM479.0,104.5h0.7v0.7h-0.7zM463.4,104.2h0.7v0.7h-0.7zM465.6,109.6h0.7v0.7h-0.7zM453.0,102.7h0.7v0.7h-0.7zM440.3,102.7h0.7v0.7h-0.7zM439.0,110.9h0.7v0.7h-0.7zM466.9,104.5h0.7v0.7h-0.7zM488.8,108.7h0.7v0.7h-0.7zM442.8,104.1h0.7v0.7h-0.7zM461.0,105.8h0.7v0.7h-0.7zM472.9,105.3h0.7v0.7h-0.7zM455.9,104.1h0.7v0.7h-0.7zM463.9,104.9h0.7v0.7h-0.7zM460.5,103.9h0.7v0.7h-0.7zM450.3,102.7h0.7v0.7h-0.7zM476.4,104.9h0.7v0.7h-0.7zM491.7,106.6h0.7v0.7h-0.7zM470.5,103.2h0.7v0.7h-0.7zM490.3,109.7h0.7v0.7h-0.7zM458.3,108.1h0.7v0.7h-0.7zM438.4,106.8h0.7v0.7h-0.7zM462.8,103.2h0.7v0.7h-0.7zM477.3,107.8h0.7v0.7h-0.7zM484.4,108.9h0.7v0.7h-0.7zM441.4,102.8h0.7v0.7h-0.7zM473.3,107.7h0.7v0.7h-0.7zM464.0,105.0h0.7v0.7h-0.7zM465.1,104.7h0.7v0.7h-0.7zM447.9,103.9h0.7v0.7h-0.7zM480.7,103.7h0.7v0.7h-0.7zM470.8,102.6h0.7v0.7h-0.7zM482.7,104.0h0.7v0.7h-0.7zM489.4,104.7h0.7v0.7h-0.7zM447.0,107.2h0.7v0.7h-0.7zM446.1,102.7h0.7v0.7h-0.7zM451.7,103.5h0.7v0.7h-0.7zM439.3,104.8h0.7v0.7h-0.7zM472.5,104.1h0.7v0.7h-0.7zM489.3,105.3h0.7v0.7h-0.7zM460.3,111.8h0.7v0.7h-0.7zM472.7,105.1h0.7v0.7h-0.7zM462.6,102.6h0.7v0.7h-0.7zM453.9,109.4h0.7v0.7h-0.7zM440.8,103.3h0.7v0.7h-0.7zM470.0,109.4h0.7v0.7h-0.7zM443.4,102.6h0.7v0.7h-0.7zM480.9,105.1h0.7v0.7h-0.7zM471.2,103.6h0.7v0.7h-0.7zM457.1,103.8h0.7v0.7h-0.7zM477.3,103.4h0.7v0.7h-0.7zM459.7,103.3h0.7v0.7h-0.7zM483.9,104.6h0.7v0.7h-0.7zM441.5,104.7h0.7v0.7h-0.7zM483.0,106.1h0.7v0.7h-0.7zM448.4,108.0h0.7v0.7h-0.7zM478.3,105.1h0.7v0.7h-0.7zM454.6,102.7h0.7v0.7h-0.7zM489.6,104.9h0.7v0.7h-0.7zM477.4,103.1h0.7v0.7h-0.7zM478.9,102.7h0.7v0.7h-0.7zM484.0,104.2h0.7v0.7h-0.7zM490.4,107.1h0.7v0.7h-0.7zM441.7,105.4h0.7v0.7h-0.7zM477.7,107.2h0.7v0.7h-0.7zM478.8,108.9h0.7v0.7h-0.7zM464.7,107.1h0.7v0.7h-0.7zM461.5,103.2h0.7v0.7h-0.7zM472.0,103.8h0.7v0.7h-0.7zM488.8,107.9h0.7v0.7h-0.7zM451.9,109.4h0.7v0.7h-0.7zM456.0,107.7h0.7v0.7h-0.7zM438.6,107.2h0.7v0.7h-0.7zM489.8,106.0h0.7v0.7h-0.7zM467.7,103.6h0.7v0.7h-0.7zM446.3,109.5h0.7v0.7h-0.7zM473.7,105.2h0.7v0.7h-0.7zM452.1,103.6h0.7v0.7h-0.7zM456.9,103.0h0.7v0.7h-0.7zM454.6,107.8h0.7v0.7h-0.7zM440.0,104.1h0.7v0.7h-0.7zM483.0,109.3h0.7v0.7h-0.7zM480.2,105.6h0.7v0.7h-0.7zM462.4,103.8h0.7v0.7h-0.7zM453.3,103.8h0.7v0.7h-0.7zM437.8,105.0h0.7v0.7h-0.7zM461.8,103.5h0.7v0.7h-0.7zM470.3,102.8h0.7v0.7h-0.7zM470.2,104.0h0.7v0.7h-0.7zM467.8,102.9h0.7v0.7h-0.7zM465.8,103.5h0.7v0.7h-0.7zM445.6,105.3h0.7v0.7h-0.7zM463.6,106.2h0.7v0.7h-0.7zM474.1,106.6h0.7v0.7h-0.7zM452.2,105.0h0.7v0.7h-0.7zM478.0,104.5h0.7v0.7h-0.7zM448.2,108.2h0.7v0.7h-0.7zM481.0,106.3h0.7v0.7h-0.7zM466.2,113.0h0.7v0.7h-0.7zM480.6,109.0h0.7v0.7h-0.7zM456.7,103.1h0.7v0.7h-0.7zM444.1,108.4h0.7v0.7h-0.7zM446.7,107.6h0.7v0.7h-0.7zM458.3,105.9h0.7v0.7h-0.7zM487.7,104.3h0.7v0.7h-0.7zM455.7,107.4h0.7v0.7h-0.7zM454.6,104.4h0.7v0.7h-0.7zM485.0,103.2h0.7v0.7h-0.7zM453.4,114.2h0.7v0.7h-0.7zM457.9,103.1h0.7v0.7h-0.7zM479.6,113.1h0.7v0.7h-0.7zM441.4,105.7h0.7v0.7h-0.7zM463.0,103.1h0.7v0.7h-0.7zM487.5,103.2h0.7v0.7h-0.7zM455.6,103.2h0.7v0.7h-0.7zM441.3,104.0h0.7v0.7h-0.7zM441.8,104.9h0.7v0.7h-0.7zM487.4,112.2h0.7v0.7h-0.7zM466.2,108.6h0.7v0.7h-0.7zM464.9,106.4h0.7v0.7h-0.7zM480.0,106.1h0.7v0.7h-0.7zM446.4,106.6h0.7v0.7h-0.7zM444.9,106.4h0.7v0.7h-0.7zM452.9,104.7h0.7v0.7h-0.7zM489.5,109.3h0.7v0.7h-0.7zM443.6,104.6h0.7v0.7h-0.7zM442.7,105.1h0.7v0.7h-0.7zM469.7,103.9h0.7v0.7h-0.7zM469.2,105.6h0.7v0.7h-0.7zM444.7,104.8h0.7v0.7h-0.7zM475.3,106.4h0.7v0.7h-0.7zM482.0,106.6h0.7v0.7h-0.7zM441.2,106.0h0.7v0.7h-0.7zM488.3,104.3h0.7v0.7h-0.7zM471.2,104.0h0.7v0.7h-0.7zM437.8,106.9h0.7v0.7h-0.7zM465.3,104.6h0.7v0.7h-0.7zM465.0,103.5h0.7v0.7h-0.7zM466.6,103.8h0.7v0.7h-0.7zM454.1,107.9h0.7v0.7h-0.7zM475.6,110.1h0.7v0.7h-0.7zM461.7,105.1h0.7v0.7h-0.7zM446.5,104.0h0.7v0.7h-0.7zM442.2,108.2h0.7v0.7h-0.7zM487.2,103.3h0.7v0.7h-0.7zM441.0,106.7h0.7v0.7h-0.7zM462.1,105.1h0.7v0.7h-0.7zM446.8,103.1h0.7v0.7h-0.7zM467.1,104.0h0.7v0.7h-0.7zM449.1,104.3h0.7v0.7h-0.7zM470.2,102.6h0.7v0.7h-0.7zM475.2,103.5h0.7v0.7h-0.7zM484.8,105.4h0.7v0.7h-0.7zM448.7,110.2h0.7v0.7h-0.7zM454.0,107.2h0.7v0.7h-0.7zM471.4,105.9h0.7v0.7h-0.7zM467.4,102.8h0.7v0.7h-0.7zM441.7,105.6h0.7v0.7h-0.7zM440.2,104.1h0.7v0.7h-0.7zM485.2,103.4h0.7v0.7h-0.7zM489.7,109.1h0.7v0.7h-0.7zM471.3,111.2h0.7v0.7h-0.7zM437.3,105.5h0.7v0.7h-0.7zM454.0,105.2h0.7v0.7h-0.7zM440.7,102.5h0.7v0.7h-0.7zM461.7,103.3h0.7v0.7h-0.7zM463.5,103.6h0.7v0.7h-0.7zM485.7,112.0h0.7v0.7h-0.7zM464.5,103.8h0.7v0.7h-0.7zM478.4,106.2h0.7v0.7h-0.7zM479.8,106.6h0.7v0.7h-0.7zM456.3,108.0h0.7v0.7h-0.7zM446.5,104.3h0.7v0.7h-0.7zM476.5,103.5h0.7v0.7h-0.7zM450.8,110.1h0.7v0.7h-0.7zM469.9,102.6h0.7v0.7h-0.7zM487.0,103.5h0.7v0.7h-0.7zM477.7,108.9h0.7v0.7h-0.7zM475.0,107.4h0.7v0.7h-0.7zM473.3,105.3h0.7v0.7h-0.7zM467.2,112.3h0.7v0.7h-0.7zM453.5,104.6h0.7v0.7h-0.7zM447.5,106.1h0.7v0.7h-0.7zM476.3,102.5h0.7v0.7h-0.7zM472.0,105.4h0.7v0.7h-0.7zM471.1,102.5h0.7v0.7h-0.7zM458.8,104.5h0.7v0.7h-0.7zM443.1,106.8h0.7v0.7h-0.7zM474.9,104.3h0.7v0.7h-0.7zM470.9,102.8h0.7v0.7h-0.7zM470.7,106.3h0.7v0.7h-0.7zM464.9,105.7h0.7v0.7h-0.7zM491.4,105.6h0.7v0.7h-0.7zM481.7,105.7h0.7v0.7h-0.7zM473.7,107.5h0.7v0.7h-0.7zM440.9,116.4h0.7v0.7h-0.7zM448.7,103.4h0.7v0.7h-0.7zM487.8,110.2h0.7v0.7h-0.7zM449.4,111.3h0.7v0.7h-0.7zM476.7,103.3h0.7v0.7h-0.7zM469.3,110.0h0.7v0.7h-0.7zM442.0,108.4h0.7v0.7h-0.7zM490.1,104.0h0.7v0.7h-0.7zM478.4,108.1h0.7v0.7h-0.7zM453.2,105.7h0.7v0.7h-0.7zM480.5,111.1h0.7v0.7h-0.7zM490.7,107.4h0.7v0.7h-0.7zM477.7,105.8h0.7v0.7h-0.7zM489.6,103.0h0.7v0.7h-0.7zM442.5,105.9h0.7v0.7h-0.7zM446.5,102.8h0.7v0.7h-0.7zM454.7,108.0h0.7v0.7h-0.7zM445.2,108.0h0.7v0.7h-0.7zM481.8,105.8h0.7v0.7h-0.7zM443.8,114.2h0.7v0.7h-0.7zM456.8,103.5h0.7v0.7h-0.7zM466.4,102.8h0.7v0.7h-0.7zM485.0,103.4h0.7v0.7h-0.7zM479.6,102.8h0.7v0.7h-0.7zM464.0,106.3h0.7v0.7h-0.7zM488.7,104.1h0.7v0.7h-0.7zM472.2,103.2h0.7v0.7h-0.7zM489.4,104.1h0.7v0.7h-0.7zM462.3,104.7h0.7v0.7h-0.7zM480.4,108.2h0.7v0.7h-0.7zM439.9,104.9h0.7v0.7h-0.7zM448.0,108.3h0.7v0.7h-0.7zM442.0,106.0h0.7v0.7h-0.7zM442.0,104.2h0.7v0.7h-0.7zM455.3,106.5h0.7v0.7h-0.7zM446.4,107.9h0.7v0.7h-0.7zM489.4,105.2h0.7v0.7h-0.7zM471.9,104.4h0.7v0.7h-0.7zM470.9,103.6h0.7v0.7h-0.7zM457.1,105.7h0.7v0.7h-0.7zM470.8,107.2h0.7v0.7h-0.7zM487.3,104.7h0.7v0.7h-0.7zM461.1,103.1h0.7v0.7h-0.7zM441.7,105.3h0.7v0.7h-0.7zM475.4,103.6h0.7v0.7h-0.7zM456.6,111.3h0.7v0.7h-0.7zM443.9,102.9h0.7v0.7h-0.7zM451.8,103.9h0.7v0.7h-0.7zM479.5,102.7h0.7v0.7h-0.7zM476.4,106.8h0.7v0.7h-0.7zM444.1,106.4h0.7v0.7h-0.7zM466.2,105.3h0.7v0.7h-0.7zM461.8,104.4h0.7v0.7h-0.7zM466.9,108.0h0.7v0.7h-0.7zM455.4,110.4h0.7v0.7h-0.7zM456.3,104.2h0.7v0.7h-0.7zM457.2,109.1h0.7v0.7h-0.7zM448.7,104.1h0.7v0.7h-0.7zM483.0,106.6h0.7v0.7h-0.7zM461.1,104.3h0.7v0.7h-0.7zM469.0,106.9h0.7v0.7h-0.7zM451.1,108.2h0.7v0.7h-0.7zM441.6,106.1h0.7v0.7h-0.7zM462.0,102.6h0.7v0.7h-0.7zM455.6,106.0h0.7v0.7h-0.7zM447.9,103.6h0.7v0.7h-0.7zM450.1,103.1h0.7v0.7h-0.7zM451.5,105.8h0.7v0.7h-0.7zM474.8,109.7h0.7v0.7h-0.7zM485.8,104.3h0.7v0.7h-0.7zM454.2,104.5h0.7v0.7h-0.7zM465.0,106.5h0.7v0.7h-0.7zM484.3,109.4h0.7v0.7h-0.7zM438.0,106.2h0.7v0.7h-0.7zM460.6,103.2h0.7v0.7h-0.7zM437.3,103.8h0.7v0.7h-0.7zM485.1,104.3h0.7v0.7h-0.7zM448.6,103.6h0.7v0.7h-0.7zM483.7,104.9h0.7v0.7h-0.7zM443.2,105.3h0.7v0.7h-0.7zM450.5,103.6h0.7v0.7h-0.7zM491.7,104.0h0.7v0.7h-0.7zM456.5,109.2h0.7v0.7h-0.7zM490.8,108.3h0.7v0.7h-0.7zM449.5,103.8h0.7v0.7h-0.7zM439.7,107.2h0.7v0.7h-0.7zM484.5,103.8h0.7v0.7h-0.7zM491.9,103.8h0.7v0.7h-0.7zM491.2,105.4h0.7v0.7h-0.7zM470.7,105.3h0.7v0.7h-0.7zM489.7,103.2h0.7v0.7h-0.7zM480.8,102.9h0.7v0.7h-0.7zM438.3,108.7h0.7v0.7h-0.7zM488.5,104.6h0.7v0.7h-0.7zM466.7,109.4h0.7v0.7h-0.7zM463.9,111.8h0.7v0.7h-0.7zM482.9,104.0h0.7v0.7h-0.7zM458.7,104.1h0.7v0.7h-0.7zM456.2,104.6h0.7v0.7h-0.7zM454.6,106.6h0.7v0.7h-0.7zM437.1,103.7h0.7v0.7h-0.7zM490.3,104.5h0.7v0.7h-0.7zM440.4,106.9h0.7v0.7h-0.7zM451.5,103.0h0.7v0.7h-0.7zM442.2,106.0h0.7v0.7h-0.7zM460.5,104.4h0.7v0.7h-0.7zM457.7,103.5h0.7v0.7h-0.7zM467.6,102.6h0.7v0.7h-0.7zM491.5,106.8h0.7v0.7h-0.7zM451.1,102.5h0.7v0.7h-0.7zM487.3,104.2h0.7v0.7h-0.7zM467.0,106.1h0.7v0.7h-0.7zM485.6,109.3h0.7v0.7h-0.7zM444.1,110.3h0.7v0.7h-0.7zM456.6,109.6h0.7v0.7h-0.7zM480.5,103.5h0.7v0.7h-0.7zM458.3,107.8h0.7v0.7h-0.7zM454.2,105.5h0.7v0.7h-0.7zM489.0,109.2h0.7v0.7h-0.7zM440.8,108.4h0.7v0.7h-0.7zM449.0,105.3h0.7v0.7h-0.7zM438.2,108.2h0.7v0.7h-0.7zM476.2,107.0h0.7v0.7h-0.7zM455.3,109.6h0.7v0.7h-0.7zM442.1,105.4h0.7v0.7h-0.7zM476.8,103.7h0.7v0.7h-0.7zM489.4,107.0h0.7v0.7h-0.7zM471.7,104.6h0.7v0.7h-0.7zM459.4,104.3h0.7v0.7h-0.7zM453.1,109.5h0.7v0.7h-0.7zM491.5,102.6h0.7v0.7h-0.7zM487.1,109.4h0.7v0.7h-0.7zM477.3,111.6h0.7v0.7h-0.7zM477.5,106.1h0.7v0.7h-0.7zM463.9,104.8h0.7v0.7h-0.7zM442.8,105.8h0.7v0.7h-0.7zM450.4,104.9h0.7v0.7h-0.7zM441.5,106.2h0.7v0.7h-0.7zM489.2,103.4h0.7v0.7h-0.7zM471.9,104.7h0.7v0.7h-0.7zM439.7,103.5h0.7v0.7h-0.7zM474.8,106.2h0.7v0.7h-0.7zM464.8,105.7h0.7v0.7h-0.7zM459.6,103.7h0.7v0.7h-0.7zM449.7,103.3h0.7v0.7h-0.7zM480.7,104.0h0.7v0.7h-0.7zM460.8,106.0h0.7v0.7h-0.7zM453.3,102.6h0.7v0.7h-0.7zM467.6,104.4h0.7v0.7h-0.7zM476.3,106.3h0.7v0.7h-0.7zM456.5,108.2h0.7v0.7h-0.7zM471.2,105.4h0.7v0.7h-0.7zM467.8,104.7h0.7v0.7h-0.7zM470.6,103.6h0.7v0.7h-0.7zM466.7,102.8h0.7v0.7h-0.7zM484.6,102.9h0.7v0.7h-0.7zM471.2,105.3h0.7v0.7h-0.7zM449.8,103.8h0.7v0.7h-0.7zM471.4,103.5h0.7v0.7h-0.7zM485.5,103.3h0.7v0.7h-0.7zM485.1,108.1h0.7v0.7h-0.7zM483.7,103.0h0.7v0.7h-0.7zM490.6,106.6h0.7v0.7h-0.7zM488.8,106.3h0.7v0.7h-0.7zM455.8,107.1h0.7v0.7h-0.7zM442.0,104.0h0.7v0.7h-0.7zM471.8,105.2h0.7v0.7h-0.7zM473.0,108.8h0.7v0.7h-0.7zM437.0,109.2h0.7v0.7h-0.7zM448.3,105.8h0.7v0.7h-0.7zM487.3,104.9h0.7v0.7h-0.7zM462.7,103.3h0.7v0.7h-0.7zM456.5,105.0h0.7v0.7h-0.7zM480.9,104.3h0.7v0.7h-0.7zM470.0,109.1h0.7v0.7h-0.7zM473.1,106.4h0.7v0.7h-0.7zM491.2,103.2h0.7v0.7h-0.7zM457.6,105.4h0.7v0.7h-0.7zM469.4,118.3h0.7v0.7h-0.7zM475.3,108.3h0.7v0.7h-0.7zM458.4,103.1h0.7v0.7h-0.7zM452.1,103.3h0.7v0.7h-0.7zM475.2,105.4h0.7v0.7h-0.7zM441.8,106.2h0.7v0.7h-0.7zM491.4,105.9h0.7v0.7h-0.7zM480.0,105.9h0.7v0.7h-0.7zM448.4,108.5h0.7v0.7h-0.7zM465.1,107.6h0.7v0.7h-0.7zM438.8,103.1h0.7v0.7h-0.7zM443.4,105.3h0.7v0.7h-0.7zM463.1,105.2h0.7v0.7h-0.7zM449.0,104.4h0.7v0.7h-0.7zM489.2,103.5h0.7v0.7h-0.7zM491.2,104.4h0.7v0.7h-0.7zM448.1,103.7h0.7v0.7h-0.7zM485.3,104.9h0.7v0.7h-0.7zM472.7,102.7h0.7v0.7h-0.7zM490.0,109.7h0.7v0.7h-0.7zM454.5,106.2h0.7v0.7h-0.7zM477.3,110.8h0.7v0.7h-0.7zM490.4,106.0h0.7v0.7h-0.7zM478.9,104.0h0.7v0.7h-0.7zM460.3,108.9h0.7v0.7h-0.7zM468.5,107.4h0.7v0.7h-0.7zM438.4,104.8h0.7v0.7h-0.7zM461.6,107.0h0.7v0.7h-0.7zM463.5,107.3h0.7v0.7h-0.7zM488.4,102.6h0.7v0.7h-0.7zM475.6,105.5h0.7v0.7h-0.7zM484.8,112.4h0.7v0.7h-0.7zM460.8,102.9h0.7v0.7h-0.7zM483.6,106.2h0.7v0.7h-0.7zM453.7,102.8h0.7v0.7h-0.7zM449.0,106.6h0.7v0.7h-0.7zM472.7,108.8h0.7v0.7h-0.7zM487.0,105.1h0.7v0.7h-0.7zM459.1,104.8h0.7v0.7h-0.7zM480.6,103.5h0.7v0.7h-0.7zM485.0,115.3h0.7v0.7h-0.7zM466.2,103.0h0.7v0.7h-0.7zM465.6,110.2h0.7v0.7h-0.7zM474.4,107.3h0.7v0.7h-0.7zM445.6,108.8h0.7v0.7h-0.7zM438.6,104.6h0.7v0.7h-0.7zM447.4,109.9h0.7v0.7h-0.7zM483.8,102.6h0.7v0.7h-0.7zM445.5,105.0h0.7v0.7h-0.7zM473.2,104.3h0.7v0.7h-0.7zM486.9,104.2h0.7v0.7h-0.7zM448.9,107.6h0.7v0.7h-0.7zM443.6,111.3h0.7v0.7h-0.7zM475.5,111.4h0.7v0.7h-0.7zM461.4,105.4h0.7v0.7h-0.7zM459.7,103.4h0.7v0.7h-0.7zM454.6,110.6h0.7v0.7h-0.7zM487.1,111.1h0.7v0.7h-0.7zM438.0,104.4h0.7v0.7h-0.7zM476.8,106.0h0.7v0.7h-0.7zM469.5,103.6h0.7v0.7h-0.7zM459.8,109.9h0.7v0.7h-0.7zM464.2,105.7h0.7v0.7h-0.7zM481.1,104.9h0.7v0.7h-0.7zM449.6,103.1h0.7v0.7h-0.7zM481.9,103.4h0.7v0.7h-0.7zM457.8,102.6h0.7v0.7h-0.7z" fill="#ff2020" fill-opacity="0.22"/>
<path d="M461.4,109.9h0.7v0.7h-0.7zM452.1,113.4h0.7v0.7h-0.7zM483.8,109.5h0.7v0.7h-0.7zM478.6,111.3h0.7v0.7h-0.7zM441.4,109.2h0.7v0.7h-0.7zM465.9,103.4h0.7v0.7h-0.7zM472.0,104.6h0.7v0.7h-0.7zM469.7,108.6h0.7v0.7h-0.7zM489.1,103.9h0.7v0.7h-0.7zM445.7,106.2h0.7v0.7h-0.7zM454.1,108.6h0.7v0.7h-0.7zM492.4,104.1h0.7v0.7h-0.7zM497.8,104.1h0.7v0.7h-0.7zM483.9,108.4h0.7v0.7h-0.7zM468.6,109.9h0.7v0.7h-0.7zM477.1,104.4h0.7v0.7h-0.7zM480.1,105.0h0.7v0.7h-0.7zM472.8,105.2h0.7v0.7h-0.7zM464.0,107.1h0.7v0.7h-0.7zM450.0,112.9h0.7v0.7h-0.7zM460.3,102.7h0.7v0.7h-0.7zM467.9,119.9h0.7v0.7h-0.7zM465.3,113.9h0.7v0.7h-0.7zM491.1,104.7h0.7v0.7h-0.7zM468.7,106.7h0.7v0.7h-0.7zM442.3,106.8h0.7v0.7h-0.7zM462.2,109.6h0.7v0.7h-0.7zM498.6,104.4h0.7v0.7h-0.7zM470.6,104.2h0.7v0.7h-0.7zM479.8,105.8h0.7v0.7h-0.7zM469.5,108.9h0.7v0.7h-0.7zM462.8,106.4h0.7v0.7h-0.7zM479.7,103.8h0.7v0.7h-0.7zM468.2,103.2h0.7v0.7h-0.7zM452.8,108.8h0.7v0.7h-0.7zM484.9,105.9h0.7v0.7h-0.7zM497.8,102.5h0.7v0.7h-0.7zM469.0,111.7h0.7v0.7h-0.7zM444.1,102.6h0.7v0.7h-0.7zM460.9,106.6h0.7v0.7h-0.7zM473.8,103.3h0.7v0.7h-0.7zM471.4,115.9h0.7v0.7h-0.7zM498.3,109.7h0.7v0.7h-0.7zM457.3,103.1h0.7v0.7h-0.7zM473.2,107.6h0.7v0.7h-0.7zM496.2,109.5h0.7v0.7h-0.7zM464.8,110.0h0.7v0.7h-0.7zM471.9,110.5h0.7v0.7h-0.7zM453.9,106.4h0.7v0.7h-0.7zM441.7,104.4h0.7v0.7h-0.7zM470.9,113.6h0.7v0.7h-0.7zM488.4,109.3h0.7v0.7h-0.7zM475.5,107.8h0.7v0.7h-0.7zM447.4,102.4h0.7v0.7h-0.7zM464.9,106.4h0.7v0.7h-0.7zM498.8,109.7h0.7v0.7h-0.7zM487.4,111.0h0.7v0.7h-0.7zM463.3,104.5h0.7v0.7h-0.7zM494.1,104.2h0.7v0.7h-0.7zM493.8,105.8h0.7v0.7h-0.7zM479.7,109.4h0.7v0.7h-0.7zM463.6,110.9h0.7v0.7h-0.7zM480.7,111.9h0.7v0.7h-0.7zM495.0,102.3h0.7v0.7h-0.7zM493.1,108.9h0.7v0.7h-0.7zM482.0,102.9h0.7v0.7h-0.7zM479.0,108.9h0.7v0.7h-0.7zM454.6,106.7h0.7v0.7h-0.7zM477.8,104.9h0.7v0.7h-0.7zM452.9,107.1h0.7v0.7h-0.7zM454.7,114.8h0.7v0.7h-0.7zM477.4,107.6h0.7v0.7h-0.7zM477.7,102.5h0.7v0.7h-0.7zM464.0,109.0h0.7v0.7h-0.7zM478.0,105.1h0.7v0.7h-0.7zM495.0,113.3h0.7v0.7h-0.7zM492.5,116.3h0.7v0.7h-0.7zM451.1,108.2h0.7v0.7h-0.7zM445.2,106.8h0.7v0.7h-0.7zM448.3,106.3h0.7v0.7h-0.7zM475.3,110.5h0.7v0.7h-0.7zM469.2,104.0h0.7v0.7h-0.7zM475.9,103.9h0.7v0.7h-0.7zM481.5,113.0h0.7v0.7h-0.7zM489.1,111.8h0.7v0.7h-0.7zM444.1,103.9h0.7v0.7h-0.7zM442.1,112.1h0.7v0.7h-0.7zM451.8,105.1h0.7v0.7h-0.7zM497.4,104.0h0.7v0.7h-0.7zM466.5,109.9h0.7v0.7h-0.7zM498.2,105.0h0.7v0.7h-0.7zM477.0,106.4h0.7v0.7h-0.7zM459.8,104.1h0.7v0.7h-0.7zM494.8,105.1h0.7v0.7h-0.7zM464.9,106.6h0.7v0.7h-0.7zM496.0,104.5h0.7v0.7h-0.7zM443.7,102.8h0.7v0.7h-0.7zM470.5,104.4h0.7v0.7h-0.7zM457.5,109.2h0.7v0.7h-0.7zM489.9,104.3h0.7v0.7h-0.7zM438.8,103.8h0.7v0.7h-0.7zM460.3,122.5h0.7v0.7h-0.7zM439.4,102.4h0.7v0.7h-0.7zM470.2,108.6h0.7v0.7h-0.7zM461.0,104.7h0.7v0.7h-0.7zM466.6,109.5h0.7v0.7h-0.7zM448.5,111.1h0.7v0.7h-0.7zM473.1,103.0h0.7v0.7h-0.7zM483.6,106.6h0.7v0.7h-0.7zM496.4,103.4h0.7v0.7h-0.7z" fill="#ff2020" fill-opacity="0.15"/>
<ellipse cx="447.5" cy="88.8" rx="7.5" ry="4.6" fill="#1c64ff" fill-opacity="0.65" filter="url(#bl1)"/>
<path d="M451.9,91.3h0.7v0.7h-0.7zM441.2,91.1h0.7v0.7h-0.7zM450.9,96.7h0.7v0.7h-0.7zM444.6,93.8h0.7v0.7h-0.7zM444.6,87.7h0.7v0.7h-0.7zM444.1,89.9h0.7v0.7h-0.7zM436.6,87.3h0.7v0.7h-0.7zM457.6,81.5h0.7v0.7h-0.7zM453.4,91.9h0.7v0.7h-0.7zM444.1,85.7h0.7v0.7h-0.7zM455.2,87.4h0.7v0.7h-0.7zM449.3,87.9h0.7v0.7h-0.7zM439.2,93.0h0.7v0.7h-0.7zM451.8,85.0h0.7v0.7h-0.7zM454.9,83.8h0.7v0.7h-0.7zM438.1,92.3h0.7v0.7h-0.7zM444.1,88.8h0.7v0.7h-0.7zM458.4,84.4h0.7v0.7h-0.7zM451.5,87.2h0.7v0.7h-0.7zM447.8,87.9h0.7v0.7h-0.7zM441.6,89.0h0.7v0.7h-0.7zM440.6,88.9h0.7v0.7h-0.7zM440.4,87.7h0.7v0.7h-0.7zM448.1,83.2h0.7v0.7h-0.7zM446.7,91.6h0.7v0.7h-0.7zM448.0,92.5h0.7v0.7h-0.7zM440.1,91.2h0.7v0.7h-0.7zM449.4,77.7h0.7v0.7h-0.7zM447.1,92.3h0.7v0.7h-0.7zM446.7,88.9h0.7v0.7h-0.7zM446.2,88.2h0.7v0.7h-0.7zM439.8,86.0h0.7v0.7h-0.7zM447.0,89.7h0.7v0.7h-0.7zM451.6,90.8h0.7v0.7h-0.7zM446.6,82.5h0.7v0.7h-0.7zM438.7,95.6h0.7v0.7h-0.7zM450.1,91.5h0.7v0.7h-0.7zM439.7,86.9h0.7v0.7h-0.7zM449.0,85.7h0.7v0.7h-0.7zM455.6,85.7h0.7v0.7h-0.7zM444.1,84.1h0.7v0.7h-0.7zM449.7,94.0h0.7v0.7h-0.7zM448.6,88.8h0.7v0.7h-0.7zM444.6,92.0h0.7v0.7h-0.7zM447.1,95.9h0.7v0.7h-0.7zM445.3,87.3h0.7v0.7h-0.7zM443.5,81.1h0.7v0.7h-0.7zM448.8,89.3h0.7v0.7h-0.7zM435.9,84.1h0.7v0.7h-0.7zM439.6,87.5h0.7v0.7h-0.7zM440.0,91.9h0.7v0.7h-0.7zM455.5,86.2h0.7v0.7h-0.7zM447.3,84.5h0.7v0.7h-0.7zM456.4,84.4h0.7v0.7h-0.7zM441.6,88.8h0.7v0.7h-0.7zM441.4,99.6h0.7v0.7h-0.7zM445.8,87.8h0.7v0.7h-0.7zM440.2,88.5h0.7v0.7h-0.7zM442.9,87.1h0.7v0.7h-0.7zM454.1,86.4h0.7v0.7h-0.7zM450.1,86.3h0.7v0.7h-0.7zM454.2,85.7h0.7v0.7h-0.7zM440.3,87.8h0.7v0.7h-0.7zM455.9,87.2h0.7v0.7h-0.7zM441.0,88.2h0.7v0.7h-0.7zM442.1,89.8h0.7v0.7h-0.7zM442.3,90.1h0.7v0.7h-0.7zM453.4,90.8h0.7v0.7h-0.7zM457.7,90.0h0.7v0.7h-0.7zM460.1,93.9h0.7v0.7h-0.7zM445.2,91.9h0.7v0.7h-0.7zM442.0,88.0h0.7v0.7h-0.7zM446.5,85.6h0.7v0.7h-0.7zM449.3,88.4h0.7v0.7h-0.7zM461.1,91.9h0.7v0.7h-0.7zM445.4,86.1h0.7v0.7h-0.7zM443.4,86.0h0.7v0.7h-0.7zM441.9,88.8h0.7v0.7h-0.7zM437.7,87.6h0.7v0.7h-0.7zM450.6,86.5h0.7v0.7h-0.7zM439.3,86.8h0.7v0.7h-0.7zM453.1,85.7h0.7v0.7h-0.7zM458.0,82.2h0.7v0.7h-0.7zM441.5,91.2h0.7v0.7h-0.7zM456.5,88.0h0.7v0.7h-0.7zM435.6,87.7h0.7v0.7h-0.7zM440.8,86.1h0.7v0.7h-0.7zM444.5,86.4h0.7v0.7h-0.7zM446.8,89.4h0.7v0.7h-0.7zM445.1,81.7h0.7v0.7h-0.7zM445.9,78.4h0.7v0.7h-0.7zM447.6,87.1h0.7v0.7h-0.7zM440.6,97.1h0.7v0.7h-0.7zM458.7,94.1h0.7v0.7h-0.7zM448.6,86.8h0.7v0.7h-0.7zM450.4,95.3h0.7v0.7h-0.7zM446.5,88.2h0.7v0.7h-0.7zM443.1,88.5h0.7v0.7h-0.7zM453.0,85.2h0.7v0.7h-0.7zM454.5,89.3h0.7v0.7h-0.7zM462.7,89.6h0.7v0.7h-0.7zM456.0,84.9h0.7v0.7h-0.7zM464.0,89.1h0.7v0.7h-0.7zM446.6,94.8h0.7v0.7h-0.7zM448.3,83.9h0.7v0.7h-0.7zM451.4,91.0h0.7v0.7h-0.7zM447.1,87.0h0.7v0.7h-0.7zM435.9,95.5h0.7v0.7h-0.7zM444.1,90.2h0.7v0.7h-0.7zM443.7,86.0h0.7v0.7h-0.7zM449.1,85.3h0.7v0.7h-0.7zM453.7,82.4h0.7v0.7h-0.7zM451.3,93.5h0.7v0.7h-0.7zM444.1,89.7h0.7v0.7h-0.7zM453.0,87.1h0.7v0.7h-0.7zM445.6,88.1h0.7v0.7h-0.7zM466.2,85.6h0.7v0.7h-0.7zM446.0,87.1h0.7v0.7h-0.7zM443.4,85.2h0.7v0.7h-0.7zM442.7,89.5h0.7v0.7h-0.7zM455.3,95.3h0.7v0.7h-0.7zM438.3,85.0h0.7v0.7h-0.7zM447.0,85.0h0.7v0.7h-0.7zM441.8,88.0h0.7v0.7h-0.7zM443.3,85.5h0.7v0.7h-0.7zM448.7,85.8h0.7v0.7h-0.7zM445.4,90.1h0.7v0.7h-0.7zM452.2,89.7h0.7v0.7h-0.7zM454.8,89.4h0.7v0.7h-0.7zM437.0,94.7h0.7v0.7h-0.7zM467.1,92.1h0.7v0.7h-0.7zM458.4,93.2h0.7v0.7h-0.7zM444.2,91.3h0.7v0.7h-0.7zM442.5,86.6h0.7v0.7h-0.7zM451.2,89.2h0.7v0.7h-0.7zM442.7,83.2h0.7v0.7h-0.7zM452.8,88.9h0.7v0.7h-0.7zM448.3,85.4h0.7v0.7h-0.7zM441.9,88.7h0.7v0.7h-0.7zM434.3,93.7h0.7v0.7h-0.7zM447.4,93.2h0.7v0.7h-0.7zM453.9,86.6h0.7v0.7h-0.7zM450.8,84.4h0.7v0.7h-0.7zM440.9,94.2h0.7v0.7h-0.7zM443.6,85.8h0.7v0.7h-0.7zM450.6,89.0h0.7v0.7h-0.7zM454.1,83.8h0.7v0.7h-0.7zM445.5,84.6h0.7v0.7h-0.7zM447.5,87.8h0.7v0.7h-0.7zM440.8,82.0h0.7v0.7h-0.7zM437.9,92.6h0.7v0.7h-0.7zM444.7,84.6h0.7v0.7h-0.7zM448.5,84.4h0.7v0.7h-0.7zM453.7,92.3h0.7v0.7h-0.7zM447.6,86.6h0.7v0.7h-0.7zM434.6,90.8h0.7v0.7h-0.7zM461.4,89.7h0.7v0.7h-0.7zM443.6,92.1h0.7v0.7h-0.7zM444.6,84.0h0.7v0.7h-0.7zM446.5,91.3h0.7v0.7h-0.7zM434.6,93.0h0.7v0.7h-0.7zM458.6,88.8h0.7v0.7h-0.7zM444.0,83.2h0.7v0.7h-0.7zM451.1,87.8h0.7v0.7h-0.7zM455.8,95.1h0.7v0.7h-0.7zM456.0,89.6h0.7v0.7h-0.7zM434.7,94.1h0.7v0.7h-0.7zM444.0,87.0h0.7v0.7h-0.7zM454.8,90.8h0.7v0.7h-0.7zM440.1,87.6h0.7v0.7h-0.7zM445.3,88.3h0.7v0.7h-0.7zM439.1,94.8h0.7v0.7h-0.7zM446.4,91.5h0.7v0.7h-0.7zM454.7,97.5h0.7v0.7h-0.7zM452.4,86.0h0.7v0.7h-0.7zM444.3,92.4h0.7v0.7h-0.7zM458.8,83.1h0.7v0.7h-0.7zM460.7,86.7h0.7v0.7h-0.7zM446.0,87.2h0.7v0.7h-0.7zM451.5,88.1h0.7v0.7h-0.7zM447.1,85.2h0.7v0.7h-0.7zM457.5,90.3h0.7v0.7h-0.7zM447.1,97.4h0.7v0.7h-0.7zM451.9,94.4h0.7v0.7h-0.7zM445.5,89.5h0.7v0.7h-0.7zM446.3,92.4h0.7v0.7h-0.7zM449.4,82.2h0.7v0.7h-0.7zM451.4,88.1h0.7v0.7h-0.7zM449.1,92.8h0.7v0.7h-0.7zM445.5,91.5h0.7v0.7h-0.7zM447.5,88.6h0.7v0.7h-0.7zM443.9,88.5h0.7v0.7h-0.7zM445.2,92.1h0.7v0.7h-0.7zM446.9,84.8h0.7v0.7h-0.7zM452.8,88.8h0.7v0.7h-0.7zM451.3,94.3h0.7v0.7h-0.7zM448.9,82.6h0.7v0.7h-0.7zM436.3,88.7h0.7v0.7h-0.7zM439.0,97.5h0.7v0.7h-0.7zM446.7,81.8h0.7v0.7h-0.7zM444.0,93.4h0.7v0.7h-0.7zM439.3,87.1h0.7v0.7h-0.7zM455.0,82.5h0.7v0.7h-0.7zM452.1,94.7h0.7v0.7h-0.7zM440.5,88.3h0.7v0.7h-0.7zM459.0,94.8h0.7v0.7h-0.7zM458.7,88.6h0.7v0.7h-0.7zM444.9,88.3h0.7v0.7h-0.7zM444.8,92.2h0.7v0.7h-0.7zM453.3,91.0h0.7v0.7h-0.7zM442.7,92.1h0.7v0.7h-0.7zM450.9,89.9h0.7v0.7h-0.7zM456.0,87.5h0.7v0.7h-0.7zM448.3,93.3h0.7v0.7h-0.7zM442.2,92.5h0.7v0.7h-0.7zM452.6,94.9h0.7v0.7h-0.7zM456.5,86.7h0.7v0.7h-0.7zM459.9,87.2h0.7v0.7h-0.7zM439.2,87.9h0.7v0.7h-0.7zM445.1,85.4h0.7v0.7h-0.7zM454.3,91.0h0.7v0.7h-0.7zM451.8,83.5h0.7v0.7h-0.7zM460.2,90.9h0.7v0.7h-0.7zM455.6,90.4h0.7v0.7h-0.7zM450.1,92.0h0.7v0.7h-0.7zM448.7,94.5h0.7v0.7h-0.7zM444.0,80.9h0.7v0.7h-0.7zM445.0,88.9h0.7v0.7h-0.7zM450.4,89.4h0.7v0.7h-0.7zM450.5,90.8h0.7v0.7h-0.7zM446.4,91.2h0.7v0.7h-0.7zM451.4,86.0h0.7v0.7h-0.7zM435.3,89.9h0.7v0.7h-0.7zM451.0,93.3h0.7v0.7h-0.7zM455.3,90.2h0.7v0.7h-0.7zM455.6,86.7h0.7v0.7h-0.7zM444.3,94.4h0.7v0.7h-0.7zM439.3,88.9h0.7v0.7h-0.7zM440.3,84.2h0.7v0.7h-0.7zM462.3,82.0h0.7v0.7h-0.7zM459.9,87.2h0.7v0.7h-0.7zM442.3,82.5h0.7v0.7h-0.7zM449.1,91.5h0.7v0.7h-0.7zM451.6,85.4h0.7v0.7h-0.7zM459.0,89.9h0.7v0.7h-0.7zM451.2,91.4h0.7v0.7h-0.7zM451.5,87.8h0.7v0.7h-0.7zM450.1,86.2h0.7v0.7h-0.7zM449.4,85.2h0.7v0.7h-0.7zM437.7,86.7h0.7v0.7h-0.7zM446.5,86.3h0.7v0.7h-0.7zM445.5,86.9h0.7v0.7h-0.7zM447.9,95.9h0.7v0.7h-0.7zM451.6,92.4h0.7v0.7h-0.7zM454.5,92.5h0.7v0.7h-0.7zM450.5,92.4h0.7v0.7h-0.7zM455.0,88.4h0.7v0.7h-0.7zM445.7,89.0h0.7v0.7h-0.7zM447.2,90.9h0.7v0.7h-0.7zM444.5,87.4h0.7v0.7h-0.7zM449.2,91.0h0.7v0.7h-0.7zM446.9,83.2h0.7v0.7h-0.7zM445.9,92.4h0.7v0.7h-0.7zM446.1,94.0h0.7v0.7h-0.7zM444.1,88.1h0.7v0.7h-0.7zM453.1,93.6h0.7v0.7h-0.7zM445.6,94.8h0.7v0.7h-0.7zM448.9,90.6h0.7v0.7h-0.7zM460.0,92.4h0.7v0.7h-0.7zM446.1,88.8h0.7v0.7h-0.7zM441.4,93.4h0.7v0.7h-0.7zM450.1,96.4h0.7v0.7h-0.7zM456.0,89.2h0.7v0.7h-0.7zM443.5,87.8h0.7v0.7h-0.7zM456.3,88.6h0.7v0.7h-0.7zM455.5,93.9h0.7v0.7h-0.7zM457.9,90.1h0.7v0.7h-0.7zM452.6,84.1h0.7v0.7h-0.7zM450.0,89.2h0.7v0.7h-0.7zM454.0,82.2h0.7v0.7h-0.7zM445.5,98.1h0.7v0.7h-0.7zM448.8,87.2h0.7v0.7h-0.7zM448.4,88.6h0.7v0.7h-0.7zM445.3,91.4h0.7v0.7h-0.7zM449.5,93.6h0.7v0.7h-0.7zM464.9,92.0h0.7v0.7h-0.7zM450.1,94.9h0.7v0.7h-0.7zM438.2,96.2h0.7v0.7h-0.7zM439.9,87.3h0.7v0.7h-0.7zM448.1,83.9h0.7v0.7h-0.7zM443.4,89.8h0.7v0.7h-0.7zM450.5,83.6h0.7v0.7h-0.7zM436.3,90.5h0.7v0.7h-0.7zM450.9,92.2h0.7v0.7h-0.7zM443.8,86.7h0.7v0.7h-0.7zM468.9,88.7h0.7v0.7h-0.7zM440.7,84.0h0.7v0.7h-0.7zM445.9,95.8h0.7v0.7h-0.7zM452.5,85.6h0.7v0.7h-0.7zM438.1,86.7h0.7v0.7h-0.7zM447.5,90.2h0.7v0.7h-0.7zM451.0,93.4h0.7v0.7h-0.7zM438.5,83.0h0.7v0.7h-0.7zM447.0,91.4h0.7v0.7h-0.7zM443.8,90.2h0.7v0.7h-0.7zM447.0,93.6h0.7v0.7h-0.7zM446.2,87.3h0.7v0.7h-0.7zM451.1,93.0h0.7v0.7h-0.7zM443.2,88.7h0.7v0.7h-0.7zM442.7,84.6h0.7v0.7h-0.7zM464.4,86.7h0.7v0.7h-0.7zM445.4,87.8h0.7v0.7h-0.7zM442.0,88.6h0.7v0.7h-0.7zM447.0,90.6h0.7v0.7h-0.7zM443.8,83.5h0.7v0.7h-0.7zM446.7,91.9h0.7v0.7h-0.7zM456.4,88.8h0.7v0.7h-0.7zM445.8,86.2h0.7v0.7h-0.7zM457.9,86.7h0.7v0.7h-0.7zM444.1,88.9h0.7v0.7h-0.7zM446.1,89.3h0.7v0.7h-0.7zM450.5,95.8h0.7v0.7h-0.7zM451.1,90.7h0.7v0.7h-0.7zM437.5,97.8h0.7v0.7h-0.7zM451.2,92.6h0.7v0.7h-0.7zM445.4,88.8h0.7v0.7h-0.7zM445.0,88.4h0.7v0.7h-0.7zM444.9,92.2h0.7v0.7h-0.7zM455.0,88.9h0.7v0.7h-0.7zM445.6,92.4h0.7v0.7h-0.7zM446.2,91.3h0.7v0.7h-0.7zM443.2,94.6h0.7v0.7h-0.7zM444.5,91.3h0.7v0.7h-0.7zM459.5,90.7h0.7v0.7h-0.7zM445.8,92.0h0.7v0.7h-0.7zM458.2,80.4h0.7v0.7h-0.7zM445.0,88.5h0.7v0.7h-0.7zM453.6,83.2h0.7v0.7h-0.7zM453.2,89.4h0.7v0.7h-0.7zM451.6,85.1h0.7v0.7h-0.7zM456.5,99.4h0.7v0.7h-0.7zM448.5,91.5h0.7v0.7h-0.7zM440.4,77.9h0.7v0.7h-0.7zM447.1,88.2h0.7v0.7h-0.7zM452.3,89.4h0.7v0.7h-0.7zM438.5,80.3h0.7v0.7h-0.7zM455.3,92.9h0.7v0.7h-0.7zM446.7,88.1h0.7v0.7h-0.7zM452.5,87.0h0.7v0.7h-0.7zM438.8,94.0h0.7v0.7h-0.7zM438.0,87.5h0.7v0.7h-0.7zM456.6,91.0h0.7v0.7h-0.7zM455.2,95.0h0.7v0.7h-0.7zM449.0,83.3h0.7v0.7h-0.7zM435.8,80.3h0.7v0.7h-0.7zM452.8,83.4h0.7v0.7h-0.7zM446.8,89.5h0.7v0.7h-0.7zM450.0,89.0h0.7v0.7h-0.7zM456.6,90.4h0.7v0.7h-0.7zM455.1,88.8h0.7v0.7h-0.7zM447.8,89.8h0.7v0.7h-0.7zM451.0,92.2h0.7v0.7h-0.7zM444.3,91.6h0.7v0.7h-0.7zM466.9,78.4h0.7v0.7h-0.7zM452.1,88.6h0.7v0.7h-0.7zM446.1,86.7h0.7v0.7h-0.7zM439.5,90.1h0.7v0.7h-0.7zM442.6,95.4h0.7v0.7h-0.7zM449.9,96.1h0.7v0.7h-0.7zM448.5,83.4h0.7v0.7h-0.7zM450.7,89.9h0.7v0.7h-0.7zM453.6,79.5h0.7v0.7h-0.7zM448.2,94.9h0.7v0.7h-0.7zM448.2,80.9h0.7v0.7h-0.7zM450.6,91.0h0.7v0.7h-0.7zM457.4,91.4h0.7v0.7h-0.7zM440.7,93.8h0.7v0.7h-0.7zM452.6,93.9h0.7v0.7h-0.7zM446.4,93.3h0.7v0.7h-0.7zM451.9,95.5h0.7v0.7h-0.7zM451.7,89.8h0.7v0.7h-0.7zM446.5,87.4h0.7v0.7h-0.7zM455.4,82.0h0.7v0.7h-0.7zM449.6,95.1h0.7v0.7h-0.7zM436.0,80.1h0.7v0.7h-0.7zM440.8,89.1h0.7v0.7h-0.7zM451.5,86.8h0.7v0.7h-0.7zM453.2,87.0h0.7v0.7h-0.7zM436.4,93.2h0.7v0.7h-0.7zM447.7,86.4h0.7v0.7h-0.7zM436.2,78.9h0.7v0.7h-0.7zM440.3,92.0h0.7v0.7h-0.7zM441.3,83.7h0.7v0.7h-0.7zM442.2,91.5h0.7v0.7h-0.7zM451.8,94.0h0.7v0.7h-0.7zM441.6,95.2h0.7v0.7h-0.7zM458.9,90.8h0.7v0.7h-0.7zM455.0,95.8h0.7v0.7h-0.7zM450.4,85.6h0.7v0.7h-0.7zM451.4,90.6h0.7v0.7h-0.7zM452.6,99.7h0.7v0.7h-0.7zM448.0,88.2h0.7v0.7h-0.7zM456.4,89.3h0.7v0.7h-0.7zM439.0,90.4h0.7v0.7h-0.7zM454.7,82.6h0.7v0.7h-0.7zM459.7,96.9h0.7v0.7h-0.7zM439.9,90.1h0.7v0.7h-0.7zM450.5,91.4h0.7v0.7h-0.7zM449.7,92.0h0.7v0.7h-0.7zM442.3,88.2h0.7v0.7h-0.7zM447.1,90.9h0.7v0.7h-0.7zM461.5,92.7h0.7v0.7h-0.7zM440.4,90.7h0.7v0.7h-0.7zM461.2,97.4h0.7v0.7h-0.7zM459.7,89.6h0.7v0.7h-0.7zM453.1,89.9h0.7v0.7h-0.7zM439.8,89.4h0.7v0.7h-0.7zM444.9,84.0h0.7v0.7h-0.7zM446.7,87.6h0.7v0.7h-0.7zM446.0,92.1h0.7v0.7h-0.7zM440.3,89.5h0.7v0.7h-0.7zM450.4,90.3h0.7v0.7h-0.7zM449.7,89.5h0.7v0.7h-0.7zM436.6,80.8h0.7v0.7h-0.7zM443.6,87.5h0.7v0.7h-0.7zM441.2,86.0h0.7v0.7h-0.7zM444.9,96.1h0.7v0.7h-0.7zM447.0,92.4h0.7v0.7h-0.7zM452.5,89.8h0.7v0.7h-0.7zM454.6,86.9h0.7v0.7h-0.7zM446.4,84.4h0.7v0.7h-0.7zM446.9,92.7h0.7v0.7h-0.7zM441.5,88.8h0.7v0.7h-0.7zM445.9,88.9h0.7v0.7h-0.7zM444.9,90.3h0.7v0.7h-0.7zM439.0,89.7h0.7v0.7h-0.7zM459.5,84.7h0.7v0.7h-0.7zM453.5,86.3h0.7v0.7h-0.7zM443.7,96.5h0.7v0.7h-0.7zM452.5,91.7h0.7v0.7h-0.7zM459.4,91.8h0.7v0.7h-0.7zM447.0,79.9h0.7v0.7h-0.7zM452.7,96.0h0.7v0.7h-0.7zM444.6,84.3h0.7v0.7h-0.7zM435.6,91.5h0.7v0.7h-0.7zM453.5,87.3h0.7v0.7h-0.7zM440.3,88.0h0.7v0.7h-0.7zM458.7,84.4h0.7v0.7h-0.7zM442.1,91.2h0.7v0.7h-0.7zM443.3,94.4h0.7v0.7h-0.7zM442.5,84.2h0.7v0.7h-0.7zM437.1,88.2h0.7v0.7h-0.7zM455.5,89.2h0.7v0.7h-0.7zM443.6,82.9h0.7v0.7h-0.7zM449.5,86.4h0.7v0.7h-0.7zM464.0,84.3h0.7v0.7h-0.7zM438.1,83.9h0.7v0.7h-0.7zM449.0,91.4h0.7v0.7h-0.7zM449.3,93.8h0.7v0.7h-0.7zM452.6,86.7h0.7v0.7h-0.7zM459.6,85.9h0.7v0.7h-0.7zM449.1,89.3h0.7v0.7h-0.7zM455.7,88.9h0.7v0.7h-0.7zM450.0,81.2h0.7v0.7h-0.7zM447.1,89.7h0.7v0.7h-0.7zM458.3,82.1h0.7v0.7h-0.7zM439.2,92.5h0.7v0.7h-0.7zM464.0,89.7h0.7v0.7h-0.7zM445.0,85.5h0.7v0.7h-0.7zM451.1,93.3h0.7v0.7h-0.7zM453.2,85.3h0.7v0.7h-0.7zM442.7,88.3h0.7v0.7h-0.7zM450.6,91.4h0.7v0.7h-0.7zM444.9,93.3h0.7v0.7h-0.7zM452.7,87.9h0.7v0.7h-0.7zM449.1,95.5h0.7v0.7h-0.7zM452.2,87.9h0.7v0.7h-0.7zM445.3,92.9h0.7v0.7h-0.7zM450.4,89.7h0.7v0.7h-0.7zM442.5,88.0h0.7v0.7h-0.7zM448.8,96.2h0.7v0.7h-0.7zM438.5,89.6h0.7v0.7h-0.7zM441.1,83.5h0.7v0.7h-0.7zM463.8,84.0h0.7v0.7h-0.7zM456.3,93.3h0.7v0.7h-0.7zM451.0,89.3h0.7v0.7h-0.7zM447.4,91.1h0.7v0.7h-0.7zM450.4,91.4h0.7v0.7h-0.7zM452.2,82.5h0.7v0.7h-0.7zM438.7,89.0h0.7v0.7h-0.7zM447.4,83.7h0.7v0.7h-0.7zM454.4,91.1h0.7v0.7h-0.7zM449.8,93.3h0.7v0.7h-0.7zM452.1,88.6h0.7v0.7h-0.7zM443.4,93.7h0.7v0.7h-0.7zM444.3,86.1h0.7v0.7h-0.7zM441.0,91.9h0.7v0.7h-0.7zM449.5,88.5h0.7v0.7h-0.7zM454.4,85.8h0.7v0.7h-0.7zM453.5,87.0h0.7v0.7h-0.7zM446.6,88.3h0.7v0.7h-0.7zM449.2,94.7h0.7v0.7h-0.7zM443.4,93.2h0.7v0.7h-0.7zM456.4,88.5h0.7v0.7h-0.7zM443.1,84.5h0.7v0.7h-0.7zM447.2,100.7h0.7v0.7h-0.7zM446.4,89.6h0.7v0.7h-0.7zM441.0,90.9h0.7v0.7h-0.7zM449.5,93.1h0.7v0.7h-0.7zM462.4,93.2h0.7v0.7h-0.7zM441.8,88.6h0.7v0.7h-0.7zM438.6,87.4h0.7v0.7h-0.7zM437.7,93.7h0.7v0.7h-0.7zM448.6,82.9h0.7v0.7h-0.7zM453.2,94.3h0.7v0.7h-0.7zM460.2,88.1h0.7v0.7h-0.7zM453.0,89.9h0.7v0.7h-0.7zM457.9,89.1h0.7v0.7h-0.7zM455.6,85.0h0.7v0.7h-0.7zM443.0,84.7h0.7v0.7h-0.7zM446.4,84.0h0.7v0.7h-0.7zM448.7,86.8h0.7v0.7h-0.7zM437.8,90.0h0.7v0.7h-0.7zM455.7,91.1h0.7v0.7h-0.7zM450.1,88.1h0.7v0.7h-0.7zM446.4,82.7h0.7v0.7h-0.7zM461.5,82.3h0.7v0.7h-0.7zM441.4,84.9h0.7v0.7h-0.7zM440.1,89.7h0.7v0.7h-0.7zM442.4,86.8h0.7v0.7h-0.7zM450.1,84.2h0.7v0.7h-0.7zM439.8,90.9h0.7v0.7h-0.7zM444.1,81.6h0.7v0.7h-0.7zM451.9,83.2h0.7v0.7h-0.7zM447.5,89.1h0.7v0.7h-0.7zM449.6,90.2h0.7v0.7h-0.7zM444.7,88.9h0.7v0.7h-0.7zM435.9,90.1h0.7v0.7h-0.7zM434.3,92.0h0.7v0.7h-0.7zM442.4,92.6h0.7v0.7h-0.7zM447.2,91.1h0.7v0.7h-0.7zM444.3,88.0h0.7v0.7h-0.7zM451.0,91.7h0.7v0.7h-0.7zM444.8,78.0h0.7v0.7h-0.7zM448.6,91.9h0.7v0.7h-0.7zM456.6,88.0h0.7v0.7h-0.7zM455.1,74.6h0.7v0.7h-0.7zM444.7,86.5h0.7v0.7h-0.7zM462.2,88.0h0.7v0.7h-0.7zM465.9,89.2h0.7v0.7h-0.7zM444.5,86.7h0.7v0.7h-0.7zM441.6,89.5h0.7v0.7h-0.7zM448.6,85.0h0.7v0.7h-0.7zM460.1,93.3h0.7v0.7h-0.7zM445.4,91.2h0.7v0.7h-0.7zM446.3,87.0h0.7v0.7h-0.7zM441.5,86.3h0.7v0.7h-0.7zM460.1,95.9h0.7v0.7h-0.7zM446.7,87.7h0.7v0.7h-0.7zM455.6,85.6h0.7v0.7h-0.7zM452.8,82.8h0.7v0.7h-0.7zM450.4,92.0h0.7v0.7h-0.7zM453.5,95.5h0.7v0.7h-0.7zM456.1,87.3h0.7v0.7h-0.7zM437.8,79.5h0.7v0.7h-0.7zM440.0,88.4h0.7v0.7h-0.7zM443.5,100.5h0.7v0.7h-0.7zM450.8,90.8h0.7v0.7h-0.7zM448.5,88.2h0.7v0.7h-0.7zM450.2,93.6h0.7v0.7h-0.7zM448.1,92.9h0.7v0.7h-0.7zM457.8,89.9h0.7v0.7h-0.7zM452.7,90.5h0.7v0.7h-0.7zM456.2,92.7h0.7v0.7h-0.7zM449.3,94.0h0.7v0.7h-0.7zM456.4,90.1h0.7v0.7h-0.7zM439.1,96.3h0.7v0.7h-0.7zM449.5,92.1h0.7v0.7h-0.7zM449.2,88.0h0.7v0.7h-0.7zM439.4,89.3h0.7v0.7h-0.7zM446.4,91.3h0.7v0.7h-0.7zM445.8,89.0h0.7v0.7h-0.7zM453.2,89.2h0.7v0.7h-0.7zM443.6,91.1h0.7v0.7h-0.7zM445.7,85.0h0.7v0.7h-0.7zM440.3,85.6h0.7v0.7h-0.7zM443.5,80.0h0.7v0.7h-0.7zM437.5,86.7h0.7v0.7h-0.7zM444.9,88.4h0.7v0.7h-0.7zM451.8,84.8h0.7v0.7h-0.7zM458.7,90.6h0.7v0.7h-0.7zM440.6,91.2h0.7v0.7h-0.7zM460.2,83.4h0.7v0.7h-0.7zM448.5,84.7h0.7v0.7h-0.7zM437.1,91.7h0.7v0.7h-0.7zM453.7,86.3h0.7v0.7h-0.7zM444.9,84.1h0.7v0.7h-0.7zM442.9,88.1h0.7v0.7h-0.7zM446.4,92.0h0.7v0.7h-0.7zM449.1,88.9h0.7v0.7h-0.7zM448.4,91.6h0.7v0.7h-0.7zM451.7,83.5h0.7v0.7h-0.7zM446.3,90.8h0.7v0.7h-0.7zM442.1,83.1h0.7v0.7h-0.7zM440.5,84.1h0.7v0.7h-0.7zM446.1,88.4h0.7v0.7h-0.7zM451.5,81.2h0.7v0.7h-0.7zM450.9,92.4h0.7v0.7h-0.7zM466.6,87.9h0.7v0.7h-0.7zM453.0,82.0h0.7v0.7h-0.7zM455.4,95.8h0.7v0.7h-0.7zM449.6,86.6h0.7v0.7h-0.7zM458.4,85.2h0.7v0.7h-0.7zM460.4,84.7h0.7v0.7h-0.7zM451.1,90.3h0.7v0.7h-0.7zM449.0,86.7h0.7v0.7h-0.7zM440.4,94.8h0.7v0.7h-0.7zM450.9,85.5h0.7v0.7h-0.7zM438.3,92.2h0.7v0.7h-0.7zM457.3,88.8h0.7v0.7h-0.7zM444.5,91.4h0.7v0.7h-0.7zM451.2,94.1h0.7v0.7h-0.7zM446.6,86.2h0.7v0.7h-0.7zM447.1,83.6h0.7v0.7h-0.7zM439.8,86.8h0.7v0.7h-0.7zM446.5,89.4h0.7v0.7h-0.7zM437.5,87.6h0.7v0.7h-0.7zM461.8,82.0h0.7v0.7h-0.7zM445.0,87.1h0.7v0.7h-0.7zM452.1,85.8h0.7v0.7h-0.7zM463.9,86.8h0.7v0.7h-0.7zM449.4,89.7h0.7v0.7h-0.7zM457.5,90.8h0.7v0.7h-0.7zM437.7,89.3h0.7v0.7h-0.7zM443.2,93.8h0.7v0.7h-0.7zM451.4,90.5h0.7v0.7h-0.7zM447.0,86.1h0.7v0.7h-0.7zM455.1,92.8h0.7v0.7h-0.7zM463.8,88.0h0.7v0.7h-0.7zM455.7,84.7h0.7v0.7h-0.7zM451.6,89.1h0.7v0.7h-0.7zM440.0,86.6h0.7v0.7h-0.7zM448.4,88.1h0.7v0.7h-0.7zM445.6,87.9h0.7v0.7h-0.7zM447.6,87.3h0.7v0.7h-0.7zM435.5,89.6h0.7v0.7h-0.7zM459.9,88.3h0.7v0.7h-0.7zM448.7,85.7h0.7v0.7h-0.7zM441.9,85.2h0.7v0.7h-0.7zM438.1,89.2h0.7v0.7h-0.7zM441.1,90.3h0.7v0.7h-0.7zM448.3,83.2h0.7v0.7h-0.7zM463.3,87.6h0.7v0.7h-0.7zM448.6,87.2h0.7v0.7h-0.7zM439.3,88.9h0.7v0.7h-0.7zM451.3,80.5h0.7v0.7h-0.7zM447.8,89.5h0.7v0.7h-0.7zM460.6,81.0h0.7v0.7h-0.7zM442.5,93.6h0.7v0.7h-0.7zM442.3,91.6h0.7v0.7h-0.7zM440.5,84.3h0.7v0.7h-0.7zM452.9,86.8h0.7v0.7h-0.7zM439.8,89.2h0.7v0.7h-0.7zM455.9,88.6h0.7v0.7h-0.7zM463.5,83.8h0.7v0.7h-0.7zM459.3,90.2h0.7v0.7h-0.7zM453.8,92.0h0.7v0.7h-0.7zM445.6,87.8h0.7v0.7h-0.7zM438.0,86.1h0.7v0.7h-0.7zM442.5,93.1h0.7v0.7h-0.7zM444.3,90.4h0.7v0.7h-0.7zM447.0,98.5h0.7v0.7h-0.7zM441.8,85.2h0.7v0.7h-0.7zM452.0,81.8h0.7v0.7h-0.7zM447.8,85.0h0.7v0.7h-0.7zM441.5,88.1h0.7v0.7h-0.7zM462.1,92.6h0.7v0.7h-0.7zM453.4,90.9h0.7v0.7h-0.7zM451.1,86.2h0.7v0.7h-0.7zM448.7,88.6h0.7v0.7h-0.7zM452.0,92.5h0.7v0.7h-0.7zM439.3,83.7h0.7v0.7h-0.7zM457.8,84.5h0.7v0.7h-0.7zM456.0,100.4h0.7v0.7h-0.7zM455.0,90.3h0.7v0.7h-0.7zM446.6,89.7h0.7v0.7h-0.7zM454.0,101.2h0.7v0.7h-0.7zM453.8,88.3h0.7v0.7h-0.7zM459.0,89.0h0.7v0.7h-0.7zM456.8,90.1h0.7v0.7h-0.7zM449.1,92.1h0.7v0.7h-0.7zM446.5,86.3h0.7v0.7h-0.7zM447.0,89.3h0.7v0.7h-0.7zM444.9,92.1h0.7v0.7h-0.7zM449.9,90.2h0.7v0.7h-0.7zM445.1,89.9h0.7v0.7h-0.7zM452.5,87.8h0.7v0.7h-0.7zM445.8,90.1h0.7v0.7h-0.7zM449.2,86.6h0.7v0.7h-0.7zM453.5,90.8h0.7v0.7h-0.7zM460.8,84.3h0.7v0.7h-0.7zM438.5,90.1h0.7v0.7h-0.7zM461.1,92.8h0.7v0.7h-0.7zM447.6,86.0h0.7v0.7h-0.7zM449.7,87.0h0.7v0.7h-0.7zM441.8,89.4h0.7v0.7h-0.7zM442.7,87.7h0.7v0.7h-0.7zM442.3,88.2h0.7v0.7h-0.7zM450.9,89.2h0.7v0.7h-0.7zM449.3,84.8h0.7v0.7h-0.7zM437.3,88.5h0.7v0.7h-0.7zM447.3,91.6h0.7v0.7h-0.7zM437.7,92.6h0.7v0.7h-0.7zM446.6,84.6h0.7v0.7h-0.7zM443.3,87.1h0.7v0.7h-0.7zM457.0,87.2h0.7v0.7h-0.7zM449.7,85.4h0.7v0.7h-0.7zM437.8,86.0h0.7v0.7h-0.7zM435.9,87.6h0.7v0.7h-0.7zM445.8,95.9h0.7v0.7h-0.7zM444.0,93.4h0.7v0.7h-0.7zM451.9,92.2h0.7v0.7h-0.7zM448.8,88.4h0.7v0.7h-0.7zM450.8,93.6h0.7v0.7h-0.7zM441.7,83.9h0.7v0.7h-0.7zM443.2,83.1h0.7v0.7h-0.7zM444.3,87.6h0.7v0.7h-0.7zM442.0,88.1h0.7v0.7h-0.7zM455.8,89.2h0.7v0.7h-0.7zM455.2,88.3h0.7v0.7h-0.7zM448.1,83.4h0.7v0.7h-0.7zM456.1,90.2h0.7v0.7h-0.7zM457.7,88.6h0.7v0.7h-0.7zM443.0,97.3h0.7v0.7h-0.7zM439.6,80.9h0.7v0.7h-0.7zM452.9,84.7h0.7v0.7h-0.7zM439.1,90.0h0.7v0.7h-0.7zM441.7,96.1h0.7v0.7h-0.7zM462.2,97.7h0.7v0.7h-0.7zM443.5,92.6h0.7v0.7h-0.7zM442.8,86.8h0.7v0.7h-0.7zM445.7,88.2h0.7v0.7h-0.7zM449.8,87.6h0.7v0.7h-0.7zM457.2,83.3h0.7v0.7h-0.7zM450.2,82.5h0.7v0.7h-0.7zM451.0,93.8h0.7v0.7h-0.7zM458.2,91.5h0.7v0.7h-0.7zM448.6,86.3h0.7v0.7h-0.7zM444.6,89.6h0.7v0.7h-0.7zM442.1,83.6h0.7v0.7h-0.7zM456.5,91.0h0.7v0.7h-0.7zM450.7,87.3h0.7v0.7h-0.7zM452.2,87.2h0.7v0.7h-0.7zM450.4,89.2h0.7v0.7h-0.7zM447.7,86.4h0.7v0.7h-0.7zM452.3,85.7h0.7v0.7h-0.7zM458.7,92.7h0.7v0.7h-0.7zM445.8,90.9h0.7v0.7h-0.7zM453.4,89.1h0.7v0.7h-0.7zM439.5,90.1h0.7v0.7h-0.7zM445.0,88.2h0.7v0.7h-0.7zM462.1,89.1h0.7v0.7h-0.7zM437.5,91.9h0.7v0.7h-0.7zM454.9,85.7h0.7v0.7h-0.7zM447.2,86.2h0.7v0.7h-0.7zM449.5,93.7h0.7v0.7h-0.7zM466.1,88.1h0.7v0.7h-0.7zM448.6,94.6h0.7v0.7h-0.7zM445.9,92.7h0.7v0.7h-0.7zM443.0,101.9h0.7v0.7h-0.7zM441.7,92.0h0.7v0.7h-0.7zM459.1,93.0h0.7v0.7h-0.7zM458.8,92.8h0.7v0.7h-0.7zM447.8,91.9h0.7v0.7h-0.7zM453.8,90.0h0.7v0.7h-0.7zM453.9,88.0h0.7v0.7h-0.7zM441.8,94.7h0.7v0.7h-0.7zM449.0,95.7h0.7v0.7h-0.7zM461.0,87.4h0.7v0.7h-0.7zM459.3,90.7h0.7v0.7h-0.7zM450.5,82.1h0.7v0.7h-0.7zM444.6,88.1h0.7v0.7h-0.7zM443.4,84.3h0.7v0.7h-0.7zM435.6,89.6h0.7v0.7h-0.7zM450.3,92.5h0.7v0.7h-0.7zM437.4,82.7h0.7v0.7h-0.7zM462.1,88.5h0.7v0.7h-0.7zM446.9,93.2h0.7v0.7h-0.7zM439.8,88.3h0.7v0.7h-0.7zM453.4,90.8h0.7v0.7h-0.7zM453.7,87.4h0.7v0.7h-0.7zM458.2,83.2h0.7v0.7h-0.7zM448.5,88.9h0.7v0.7h-0.7zM445.0,92.5h0.7v0.7h-0.7zM455.9,95.7h0.7v0.7h-0.7zM438.9,86.9h0.7v0.7h-0.7zM435.2,84.1h0.7v0.7h-0.7zM438.7,88.5h0.7v0.7h-0.7zM441.5,90.2h0.7v0.7h-0.7zM457.4,87.9h0.7v0.7h-0.7zM444.5,89.1h0.7v0.7h-0.7zM446.2,88.1h0.7v0.7h-0.7zM442.8,89.5h0.7v0.7h-0.7zM443.6,90.8h0.7v0.7h-0.7zM448.7,93.2h0.7v0.7h-0.7zM451.4,91.1h0.7v0.7h-0.7zM446.9,87.2h0.7v0.7h-0.7zM451.6,85.6h0.7v0.7h-0.7zM450.3,95.7h0.7v0.7h-0.7zM442.7,91.7h0.7v0.7h-0.7zM451.9,89.0h0.7v0.7h-0.7zM455.0,87.2h0.7v0.7h-0.7zM438.9,91.1h0.7v0.7h-0.7zM450.9,90.2h0.7v0.7h-0.7zM453.9,84.7h0.7v0.7h-0.7zM441.6,96.2h0.7v0.7h-0.7zM445.5,93.2h0.7v0.7h-0.7zM450.5,81.4h0.7v0.7h-0.7zM443.7,100.1h0.7v0.7h-0.7zM448.9,92.0h0.7v0.7h-0.7zM438.5,88.5h0.7v0.7h-0.7zM439.9,87.9h0.7v0.7h-0.7zM448.5,86.0h0.7v0.7h-0.7zM437.9,91.4h0.7v0.7h-0.7zM451.6,87.1h0.7v0.7h-0.7zM442.7,92.6h0.7v0.7h-0.7zM446.6,93.8h0.7v0.7h-0.7zM452.2,87.9h0.7v0.7h-0.7zM454.6,81.7h0.7v0.7h-0.7zM441.0,89.3h0.7v0.7h-0.7zM454.0,92.4h0.7v0.7h-0.7zM451.3,85.8h0.7v0.7h-0.7zM447.1,96.5h0.7v0.7h-0.7zM452.5,93.3h0.7v0.7h-0.7zM448.4,84.2h0.7v0.7h-0.7zM445.0,94.2h0.7v0.7h-0.7zM442.1,94.1h0.7v0.7h-0.7z" fill="#1c64ff" fill-opacity="0.28"/>
<path d="M480.6,94.0h0.7v0.7h-0.7zM442.6,84.2h0.7v0.7h-0.7zM450.3,88.3h0.7v0.7h-0.7zM486.5,85.9h0.7v0.7h-0.7zM459.7,93.1h0.7v0.7h-0.7zM439.0,92.2h0.7v0.7h-0.7zM465.3,90.9h0.7v0.7h-0.7zM487.4,92.6h0.7v0.7h-0.7zM439.8,87.0h0.7v0.7h-0.7zM473.9,97.8h0.7v0.7h-0.7zM447.5,96.3h0.7v0.7h-0.7zM482.2,90.3h0.7v0.7h-0.7zM458.7,84.7h0.7v0.7h-0.7zM439.5,82.5h0.7v0.7h-0.7zM467.0,81.6h0.7v0.7h-0.7zM469.0,85.1h0.7v0.7h-0.7zM449.8,95.2h0.7v0.7h-0.7zM444.7,95.9h0.7v0.7h-0.7zM454.7,94.3h0.7v0.7h-0.7zM446.8,90.8h0.7v0.7h-0.7zM473.0,81.7h0.7v0.7h-0.7zM453.4,91.3h0.7v0.7h-0.7zM478.3,79.1h0.7v0.7h-0.7zM488.0,98.9h0.7v0.7h-0.7zM446.2,88.0h0.7v0.7h-0.7zM461.4,95.2h0.7v0.7h-0.7zM468.4,90.6h0.7v0.7h-0.7zM471.8,89.1h0.7v0.7h-0.7zM482.2,88.5h0.7v0.7h-0.7zM449.3,93.4h0.7v0.7h-0.7zM469.4,93.8h0.7v0.7h-0.7zM452.0,93.6h0.7v0.7h-0.7zM474.2,91.2h0.7v0.7h-0.7zM443.9,85.9h0.7v0.7h-0.7zM460.9,97.1h0.7v0.7h-0.7zM483.1,91.6h0.7v0.7h-0.7zM443.6,95.1h0.7v0.7h-0.7zM456.8,89.3h0.7v0.7h-0.7zM453.2,86.3h0.7v0.7h-0.7zM442.9,90.4h0.7v0.7h-0.7zM445.3,99.1h0.7v0.7h-0.7zM492.5,92.9h0.7v0.7h-0.7zM437.1,89.2h0.7v0.7h-0.7zM482.3,98.0h0.7v0.7h-0.7zM463.3,93.3h0.7v0.7h-0.7zM458.1,90.8h0.7v0.7h-0.7zM477.8,91.1h0.7v0.7h-0.7zM483.3,95.1h0.7v0.7h-0.7zM483.2,92.4h0.7v0.7h-0.7zM446.4,96.5h0.7v0.7h-0.7zM492.4,97.9h0.7v0.7h-0.7zM492.3,92.3h0.7v0.7h-0.7zM437.4,93.8h0.7v0.7h-0.7zM442.4,86.1h0.7v0.7h-0.7zM478.1,101.6h0.7v0.7h-0.7zM445.5,87.0h0.7v0.7h-0.7zM444.3,94.9h0.7v0.7h-0.7zM439.4,92.9h0.7v0.7h-0.7zM438.5,95.0h0.7v0.7h-0.7zM491.4,96.5h0.7v0.7h-0.7zM459.3,90.7h0.7v0.7h-0.7zM466.2,93.8h0.7v0.7h-0.7zM488.1,87.5h0.7v0.7h-0.7zM490.3,90.5h0.7v0.7h-0.7zM490.3,97.3h0.7v0.7h-0.7zM452.1,96.8h0.7v0.7h-0.7zM473.1,91.2h0.7v0.7h-0.7zM441.2,86.3h0.7v0.7h-0.7zM446.8,95.5h0.7v0.7h-0.7zM491.2,86.9h0.7v0.7h-0.7zM479.5,95.0h0.7v0.7h-0.7zM452.6,89.3h0.7v0.7h-0.7zM479.3,84.5h0.7v0.7h-0.7zM452.9,88.3h0.7v0.7h-0.7zM460.1,96.5h0.7v0.7h-0.7zM461.6,84.6h0.7v0.7h-0.7zM443.6,88.4h0.7v0.7h-0.7zM447.2,95.3h0.7v0.7h-0.7zM446.9,95.4h0.7v0.7h-0.7zM488.7,92.8h0.7v0.7h-0.7zM478.9,96.2h0.7v0.7h-0.7zM451.0,94.4h0.7v0.7h-0.7zM475.1,93.1h0.7v0.7h-0.7zM454.6,94.0h0.7v0.7h-0.7zM452.1,90.6h0.7v0.7h-0.7zM462.8,89.6h0.7v0.7h-0.7zM441.6,94.8h0.7v0.7h-0.7zM463.4,91.5h0.7v0.7h-0.7zM492.0,87.2h0.7v0.7h-0.7zM470.2,88.7h0.7v0.7h-0.7zM450.7,94.8h0.7v0.7h-0.7zM441.2,86.0h0.7v0.7h-0.7zM480.5,92.5h0.7v0.7h-0.7zM440.4,101.1h0.7v0.7h-0.7zM455.2,93.3h0.7v0.7h-0.7zM476.3,94.1h0.7v0.7h-0.7zM445.4,89.0h0.7v0.7h-0.7zM479.6,89.8h0.7v0.7h-0.7zM437.0,96.5h0.7v0.7h-0.7zM467.9,88.6h0.7v0.7h-0.7zM446.2,92.6h0.7v0.7h-0.7zM488.5,94.6h0.7v0.7h-0.7zM452.8,89.2h0.7v0.7h-0.7zM454.0,89.0h0.7v0.7h-0.7zM490.5,95.2h0.7v0.7h-0.7zM437.6,87.8h0.7v0.7h-0.7zM469.6,95.8h0.7v0.7h-0.7zM453.7,90.6h0.7v0.7h-0.7zM444.0,86.8h0.7v0.7h-0.7zM487.5,93.4h0.7v0.7h-0.7zM488.7,98.3h0.7v0.7h-0.7zM445.0,91.8h0.7v0.7h-0.7zM454.5,83.7h0.7v0.7h-0.7zM487.9,95.0h0.7v0.7h-0.7zM491.7,95.7h0.7v0.7h-0.7zM464.6,94.7h0.7v0.7h-0.7zM471.7,88.3h0.7v0.7h-0.7zM462.3,89.7h0.7v0.7h-0.7zM475.9,84.4h0.7v0.7h-0.7zM478.4,93.0h0.7v0.7h-0.7zM480.5,97.9h0.7v0.7h-0.7zM477.6,94.0h0.7v0.7h-0.7zM437.5,96.6h0.7v0.7h-0.7zM491.2,89.5h0.7v0.7h-0.7zM469.1,88.8h0.7v0.7h-0.7zM452.6,84.1h0.7v0.7h-0.7zM484.3,88.7h0.7v0.7h-0.7zM491.9,88.5h0.7v0.7h-0.7zM464.0,86.8h0.7v0.7h-0.7zM444.0,100.7h0.7v0.7h-0.7zM491.4,93.5h0.7v0.7h-0.7zM482.6,93.9h0.7v0.7h-0.7zM446.3,97.3h0.7v0.7h-0.7zM453.1,94.1h0.7v0.7h-0.7zM437.4,81.4h0.7v0.7h-0.7zM479.6,89.8h0.7v0.7h-0.7zM443.8,84.7h0.7v0.7h-0.7zM454.7,91.4h0.7v0.7h-0.7zM445.0,88.5h0.7v0.7h-0.7zM461.9,93.2h0.7v0.7h-0.7zM444.3,94.6h0.7v0.7h-0.7zM447.2,95.2h0.7v0.7h-0.7zM454.0,94.3h0.7v0.7h-0.7zM443.4,93.5h0.7v0.7h-0.7zM440.1,95.6h0.7v0.7h-0.7zM451.7,98.6h0.7v0.7h-0.7zM442.5,93.5h0.7v0.7h-0.7zM461.4,96.0h0.7v0.7h-0.7zM491.4,96.7h0.7v0.7h-0.7zM475.1,94.0h0.7v0.7h-0.7zM444.7,93.0h0.7v0.7h-0.7zM486.0,98.1h0.7v0.7h-0.7zM479.0,95.3h0.7v0.7h-0.7zM482.9,87.3h0.7v0.7h-0.7zM454.7,93.6h0.7v0.7h-0.7zM472.0,84.5h0.7v0.7h-0.7zM459.6,92.2h0.7v0.7h-0.7zM483.4,88.6h0.7v0.7h-0.7zM458.7,89.4h0.7v0.7h-0.7zM448.2,92.7h0.7v0.7h-0.7zM457.5,90.8h0.7v0.7h-0.7zM459.1,89.9h0.7v0.7h-0.7zM473.1,90.2h0.7v0.7h-0.7zM443.1,90.8h0.7v0.7h-0.7zM440.2,95.3h0.7v0.7h-0.7zM492.9,100.5h0.7v0.7h-0.7zM474.0,95.1h0.7v0.7h-0.7zM488.7,86.8h0.7v0.7h-0.7zM460.0,88.4h0.7v0.7h-0.7zM466.0,90.1h0.7v0.7h-0.7zM468.1,94.0h0.7v0.7h-0.7zM480.4,101.2h0.7v0.7h-0.7zM469.2,90.1h0.7v0.7h-0.7zM446.8,89.0h0.7v0.7h-0.7zM484.4,90.5h0.7v0.7h-0.7zM478.1,88.7h0.7v0.7h-0.7zM486.2,94.3h0.7v0.7h-0.7zM459.5,97.4h0.7v0.7h-0.7zM458.7,94.6h0.7v0.7h-0.7zM442.3,93.4h0.7v0.7h-0.7zM446.1,89.1h0.7v0.7h-0.7zM464.8,91.5h0.7v0.7h-0.7zM460.3,95.6h0.7v0.7h-0.7zM488.7,87.5h0.7v0.7h-0.7zM482.7,88.9h0.7v0.7h-0.7zM488.5,92.4h0.7v0.7h-0.7zM481.1,91.0h0.7v0.7h-0.7zM479.3,89.8h0.7v0.7h-0.7zM472.4,84.5h0.7v0.7h-0.7zM446.9,98.8h0.7v0.7h-0.7zM448.7,88.1h0.7v0.7h-0.7zM465.0,92.8h0.7v0.7h-0.7zM470.5,94.5h0.7v0.7h-0.7zM443.5,97.7h0.7v0.7h-0.7zM469.8,91.8h0.7v0.7h-0.7zM487.4,95.3h0.7v0.7h-0.7zM442.4,92.2h0.7v0.7h-0.7zM487.7,92.4h0.7v0.7h-0.7zM461.5,89.1h0.7v0.7h-0.7zM474.2,87.7h0.7v0.7h-0.7zM465.4,88.0h0.7v0.7h-0.7zM447.1,93.9h0.7v0.7h-0.7zM463.6,92.5h0.7v0.7h-0.7zM443.6,94.3h0.7v0.7h-0.7zM437.5,89.0h0.7v0.7h-0.7zM471.6,87.7h0.7v0.7h-0.7zM460.0,85.1h0.7v0.7h-0.7zM487.8,86.8h0.7v0.7h-0.7zM480.5,82.1h0.7v0.7h-0.7zM450.5,88.7h0.7v0.7h-0.7zM470.8,92.8h0.7v0.7h-0.7zM456.8,87.3h0.7v0.7h-0.7zM445.3,92.5h0.7v0.7h-0.7zM468.3,90.9h0.7v0.7h-0.7zM442.9,87.4h0.7v0.7h-0.7zM469.8,87.4h0.7v0.7h-0.7zM482.5,87.5h0.7v0.7h-0.7zM489.4,92.0h0.7v0.7h-0.7zM489.2,85.4h0.7v0.7h-0.7zM466.8,88.5h0.7v0.7h-0.7zM453.1,91.2h0.7v0.7h-0.7zM455.4,91.1h0.7v0.7h-0.7zM445.7,95.1h0.7v0.7h-0.7zM441.6,87.0h0.7v0.7h-0.7zM481.0,89.8h0.7v0.7h-0.7zM476.3,100.4h0.7v0.7h-0.7zM441.9,87.3h0.7v0.7h-0.7zM472.3,93.2h0.7v0.7h-0.7zM443.3,90.7h0.7v0.7h-0.7zM437.8,96.2h0.7v0.7h-0.7zM485.6,101.3h0.7v0.7h-0.7zM443.6,93.6h0.7v0.7h-0.7zM484.8,91.6h0.7v0.7h-0.7zM453.2,87.7h0.7v0.7h-0.7zM458.6,89.7h0.7v0.7h-0.7zM471.0,93.0h0.7v0.7h-0.7zM458.6,90.9h0.7v0.7h-0.7zM475.6,93.0h0.7v0.7h-0.7zM450.8,85.3h0.7v0.7h-0.7zM438.0,92.3h0.7v0.7h-0.7zM486.6,97.2h0.7v0.7h-0.7zM468.3,87.9h0.7v0.7h-0.7zM477.8,89.0h0.7v0.7h-0.7zM491.2,85.1h0.7v0.7h-0.7zM464.9,92.5h0.7v0.7h-0.7zM449.4,93.0h0.7v0.7h-0.7zM458.6,90.5h0.7v0.7h-0.7zM488.3,87.5h0.7v0.7h-0.7zM447.0,89.5h0.7v0.7h-0.7zM455.9,91.4h0.7v0.7h-0.7zM470.1,84.7h0.7v0.7h-0.7zM489.9,89.0h0.7v0.7h-0.7zM470.2,94.2h0.7v0.7h-0.7zM488.7,89.1h0.7v0.7h-0.7zM482.5,82.9h0.7v0.7h-0.7zM437.8,89.3h0.7v0.7h-0.7zM473.7,88.9h0.7v0.7h-0.7zM480.0,92.5h0.7v0.7h-0.7zM455.9,88.7h0.7v0.7h-0.7zM444.3,94.8h0.7v0.7h-0.7zM466.5,85.3h0.7v0.7h-0.7zM465.9,91.1h0.7v0.7h-0.7zM445.5,86.6h0.7v0.7h-0.7zM490.2,92.3h0.7v0.7h-0.7zM466.7,86.3h0.7v0.7h-0.7zM446.9,91.7h0.7v0.7h-0.7zM472.7,93.0h0.7v0.7h-0.7zM481.6,91.3h0.7v0.7h-0.7zM459.3,94.5h0.7v0.7h-0.7zM451.0,91.6h0.7v0.7h-0.7zM449.7,88.1h0.7v0.7h-0.7zM457.7,96.0h0.7v0.7h-0.7zM442.3,86.0h0.7v0.7h-0.7zM443.4,97.8h0.7v0.7h-0.7zM472.1,93.6h0.7v0.7h-0.7zM444.8,89.7h0.7v0.7h-0.7zM439.0,100.1h0.7v0.7h-0.7zM476.7,94.6h0.7v0.7h-0.7zM452.9,85.7h0.7v0.7h-0.7zM477.2,96.6h0.7v0.7h-0.7zM470.2,88.8h0.7v0.7h-0.7zM469.0,102.5h0.7v0.7h-0.7zM472.7,86.3h0.7v0.7h-0.7zM462.4,95.2h0.7v0.7h-0.7zM458.8,95.2h0.7v0.7h-0.7zM473.6,88.2h0.7v0.7h-0.7zM446.5,91.8h0.7v0.7h-0.7zM477.8,84.5h0.7v0.7h-0.7zM446.2,88.2h0.7v0.7h-0.7zM460.0,93.6h0.7v0.7h-0.7zM454.6,93.4h0.7v0.7h-0.7zM450.5,93.5h0.7v0.7h-0.7zM463.9,90.9h0.7v0.7h-0.7zM441.1,93.1h0.7v0.7h-0.7zM484.2,90.1h0.7v0.7h-0.7zM452.8,90.2h0.7v0.7h-0.7zM470.5,93.1h0.7v0.7h-0.7zM440.1,88.8h0.7v0.7h-0.7zM450.5,86.7h0.7v0.7h-0.7zM471.8,91.1h0.7v0.7h-0.7zM487.7,89.9h0.7v0.7h-0.7zM485.4,94.6h0.7v0.7h-0.7zM454.3,81.8h0.7v0.7h-0.7zM442.9,82.4h0.7v0.7h-0.7zM473.6,95.7h0.7v0.7h-0.7zM441.9,91.5h0.7v0.7h-0.7zM460.9,83.3h0.7v0.7h-0.7zM471.8,94.8h0.7v0.7h-0.7zM480.1,88.1h0.7v0.7h-0.7zM467.2,93.4h0.7v0.7h-0.7zM443.8,83.0h0.7v0.7h-0.7zM445.9,87.9h0.7v0.7h-0.7zM451.7,89.3h0.7v0.7h-0.7zM437.0,76.7h0.7v0.7h-0.7zM457.9,97.0h0.7v0.7h-0.7zM447.3,87.3h0.7v0.7h-0.7zM438.0,95.9h0.7v0.7h-0.7zM445.0,87.3h0.7v0.7h-0.7zM474.5,90.8h0.7v0.7h-0.7zM442.9,100.7h0.7v0.7h-0.7zM477.9,95.3h0.7v0.7h-0.7zM471.5,89.2h0.7v0.7h-0.7zM443.9,89.7h0.7v0.7h-0.7zM460.0,89.5h0.7v0.7h-0.7zM463.2,86.9h0.7v0.7h-0.7zM440.5,94.7h0.7v0.7h-0.7zM456.8,90.4h0.7v0.7h-0.7zM481.1,95.6h0.7v0.7h-0.7zM460.3,90.1h0.7v0.7h-0.7zM483.2,89.2h0.7v0.7h-0.7zM447.4,91.7h0.7v0.7h-0.7zM454.0,93.1h0.7v0.7h-0.7zM486.5,91.5h0.7v0.7h-0.7zM482.9,93.3h0.7v0.7h-0.7zM454.6,88.1h0.7v0.7h-0.7zM489.2,96.0h0.7v0.7h-0.7zM455.4,93.0h0.7v0.7h-0.7zM477.4,85.8h0.7v0.7h-0.7zM490.9,78.3h0.7v0.7h-0.7zM469.3,96.8h0.7v0.7h-0.7zM446.9,88.5h0.7v0.7h-0.7zM463.6,90.4h0.7v0.7h-0.7zM480.9,101.3h0.7v0.7h-0.7zM441.6,87.7h0.7v0.7h-0.7zM479.1,86.3h0.7v0.7h-0.7zM443.8,89.6h0.7v0.7h-0.7zM458.9,90.4h0.7v0.7h-0.7zM455.3,88.7h0.7v0.7h-0.7zM464.0,95.1h0.7v0.7h-0.7zM442.0,89.7h0.7v0.7h-0.7zM474.9,91.2h0.7v0.7h-0.7zM438.4,91.1h0.7v0.7h-0.7zM479.7,91.5h0.7v0.7h-0.7zM489.5,91.3h0.7v0.7h-0.7zM461.0,86.5h0.7v0.7h-0.7zM478.1,95.2h0.7v0.7h-0.7zM462.0,93.5h0.7v0.7h-0.7zM445.1,87.5h0.7v0.7h-0.7zM443.4,92.6h0.7v0.7h-0.7zM468.3,89.4h0.7v0.7h-0.7zM465.1,92.4h0.7v0.7h-0.7zM447.9,87.9h0.7v0.7h-0.7zM475.9,89.8h0.7v0.7h-0.7zM468.8,95.6h0.7v0.7h-0.7zM478.3,91.6h0.7v0.7h-0.7zM453.9,92.7h0.7v0.7h-0.7zM488.4,82.6h0.7v0.7h-0.7zM477.9,86.9h0.7v0.7h-0.7zM440.8,93.8h0.7v0.7h-0.7zM451.6,90.9h0.7v0.7h-0.7zM479.9,99.5h0.7v0.7h-0.7zM470.7,91.9h0.7v0.7h-0.7zM471.3,86.7h0.7v0.7h-0.7zM455.0,97.0h0.7v0.7h-0.7zM485.5,92.0h0.7v0.7h-0.7zM463.0,95.1h0.7v0.7h-0.7zM449.4,88.9h0.7v0.7h-0.7zM444.4,88.0h0.7v0.7h-0.7zM441.9,93.1h0.7v0.7h-0.7zM452.6,99.0h0.7v0.7h-0.7zM458.6,89.2h0.7v0.7h-0.7zM448.4,87.5h0.7v0.7h-0.7zM470.0,91.6h0.7v0.7h-0.7zM450.8,86.0h0.7v0.7h-0.7zM450.8,86.2h0.7v0.7h-0.7zM447.7,86.1h0.7v0.7h-0.7zM485.7,89.1h0.7v0.7h-0.7zM481.6,86.4h0.7v0.7h-0.7zM480.1,92.8h0.7v0.7h-0.7zM467.5,94.7h0.7v0.7h-0.7zM442.2,94.5h0.7v0.7h-0.7zM473.1,92.7h0.7v0.7h-0.7zM439.3,85.2h0.7v0.7h-0.7zM457.7,98.3h0.7v0.7h-0.7zM478.0,92.2h0.7v0.7h-0.7zM446.6,91.2h0.7v0.7h-0.7zM443.7,90.1h0.7v0.7h-0.7zM488.5,92.9h0.7v0.7h-0.7zM489.0,97.9h0.7v0.7h-0.7zM478.8,86.9h0.7v0.7h-0.7zM457.6,92.8h0.7v0.7h-0.7zM444.2,92.7h0.7v0.7h-0.7zM478.6,86.2h0.7v0.7h-0.7zM461.9,91.8h0.7v0.7h-0.7zM442.4,95.0h0.7v0.7h-0.7zM476.0,87.1h0.7v0.7h-0.7zM491.5,91.5h0.7v0.7h-0.7zM455.5,89.5h0.7v0.7h-0.7zM450.7,94.0h0.7v0.7h-0.7zM449.1,86.8h0.7v0.7h-0.7zM461.4,91.2h0.7v0.7h-0.7zM483.0,87.9h0.7v0.7h-0.7zM463.8,96.5h0.7v0.7h-0.7zM489.8,82.9h0.7v0.7h-0.7zM455.3,85.6h0.7v0.7h-0.7zM446.2,93.7h0.7v0.7h-0.7zM442.1,99.5h0.7v0.7h-0.7zM451.4,92.4h0.7v0.7h-0.7zM475.0,90.2h0.7v0.7h-0.7zM457.0,93.3h0.7v0.7h-0.7zM484.4,102.2h0.7v0.7h-0.7zM447.2,95.4h0.7v0.7h-0.7zM440.2,95.7h0.7v0.7h-0.7zM489.7,89.7h0.7v0.7h-0.7zM439.3,95.0h0.7v0.7h-0.7zM462.5,89.3h0.7v0.7h-0.7zM474.9,90.6h0.7v0.7h-0.7zM463.9,95.8h0.7v0.7h-0.7zM485.1,82.4h0.7v0.7h-0.7zM459.6,87.8h0.7v0.7h-0.7zM457.8,96.8h0.7v0.7h-0.7zM460.6,91.5h0.7v0.7h-0.7zM441.6,94.1h0.7v0.7h-0.7zM470.9,102.4h0.7v0.7h-0.7zM450.1,84.8h0.7v0.7h-0.7zM446.8,93.3h0.7v0.7h-0.7zM482.1,92.6h0.7v0.7h-0.7zM454.4,89.5h0.7v0.7h-0.7zM474.9,93.7h0.7v0.7h-0.7zM446.1,92.4h0.7v0.7h-0.7zM488.5,91.2h0.7v0.7h-0.7zM458.0,86.5h0.7v0.7h-0.7zM448.5,93.3h0.7v0.7h-0.7zM487.9,85.9h0.7v0.7h-0.7zM485.2,90.8h0.7v0.7h-0.7zM472.5,92.7h0.7v0.7h-0.7zM451.9,89.6h0.7v0.7h-0.7zM447.2,88.0h0.7v0.7h-0.7zM486.7,91.2h0.7v0.7h-0.7zM447.0,88.0h0.7v0.7h-0.7zM452.9,94.4h0.7v0.7h-0.7zM475.4,83.5h0.7v0.7h-0.7zM454.8,91.9h0.7v0.7h-0.7zM483.0,93.8h0.7v0.7h-0.7zM489.1,87.6h0.7v0.7h-0.7zM488.6,92.4h0.7v0.7h-0.7zM485.1,97.1h0.7v0.7h-0.7zM448.1,94.1h0.7v0.7h-0.7zM482.1,88.7h0.7v0.7h-0.7zM456.2,100.2h0.7v0.7h-0.7zM456.3,88.3h0.7v0.7h-0.7zM437.5,87.2h0.7v0.7h-0.7zM451.7,87.5h0.7v0.7h-0.7zM487.8,86.7h0.7v0.7h-0.7zM447.9,94.2h0.7v0.7h-0.7zM476.7,89.0h0.7v0.7h-0.7zM489.3,90.9h0.7v0.7h-0.7zM450.7,96.2h0.7v0.7h-0.7zM458.6,97.0h0.7v0.7h-0.7zM481.1,86.4h0.7v0.7h-0.7zM476.0,94.1h0.7v0.7h-0.7zM485.3,92.6h0.7v0.7h-0.7zM462.0,93.4h0.7v0.7h-0.7zM444.1,92.6h0.7v0.7h-0.7zM455.0,87.6h0.7v0.7h-0.7zM440.7,90.9h0.7v0.7h-0.7zM450.0,95.7h0.7v0.7h-0.7zM447.1,90.1h0.7v0.7h-0.7zM442.6,98.6h0.7v0.7h-0.7zM463.4,90.9h0.7v0.7h-0.7zM482.0,90.7h0.7v0.7h-0.7zM478.3,91.6h0.7v0.7h-0.7zM440.1,93.1h0.7v0.7h-0.7zM485.3,97.4h0.7v0.7h-0.7zM468.1,93.1h0.7v0.7h-0.7zM472.3,86.8h0.7v0.7h-0.7zM461.1,93.1h0.7v0.7h-0.7zM478.2,94.4h0.7v0.7h-0.7zM462.8,93.6h0.7v0.7h-0.7zM458.3,88.1h0.7v0.7h-0.7zM491.0,88.6h0.7v0.7h-0.7zM447.3,92.2h0.7v0.7h-0.7zM481.6,91.1h0.7v0.7h-0.7zM441.6,90.4h0.7v0.7h-0.7zM487.5,96.1h0.7v0.7h-0.7zM443.1,83.6h0.7v0.7h-0.7zM462.4,91.0h0.7v0.7h-0.7zM476.2,99.6h0.7v0.7h-0.7zM449.2,91.5h0.7v0.7h-0.7zM453.3,84.4h0.7v0.7h-0.7zM491.8,89.2h0.7v0.7h-0.7zM483.7,92.7h0.7v0.7h-0.7zM475.5,85.4h0.7v0.7h-0.7zM485.1,92.4h0.7v0.7h-0.7zM447.9,88.9h0.7v0.7h-0.7zM457.8,95.3h0.7v0.7h-0.7zM481.6,90.6h0.7v0.7h-0.7zM451.6,89.1h0.7v0.7h-0.7zM492.3,82.7h0.7v0.7h-0.7zM467.3,89.2h0.7v0.7h-0.7zM483.9,90.0h0.7v0.7h-0.7zM447.1,97.8h0.7v0.7h-0.7zM464.4,97.9h0.7v0.7h-0.7zM460.9,95.2h0.7v0.7h-0.7zM474.0,101.0h0.7v0.7h-0.7zM484.7,87.5h0.7v0.7h-0.7zM463.8,94.8h0.7v0.7h-0.7zM441.1,97.5h0.7v0.7h-0.7zM455.1,92.2h0.7v0.7h-0.7zM483.4,92.0h0.7v0.7h-0.7zM467.5,84.8h0.7v0.7h-0.7zM448.7,85.7h0.7v0.7h-0.7zM449.6,88.2h0.7v0.7h-0.7zM461.1,97.6h0.7v0.7h-0.7zM459.3,94.4h0.7v0.7h-0.7zM447.5,89.5h0.7v0.7h-0.7zM447.5,83.7h0.7v0.7h-0.7zM437.2,81.9h0.7v0.7h-0.7zM440.8,85.9h0.7v0.7h-0.7zM481.0,86.0h0.7v0.7h-0.7zM437.5,87.2h0.7v0.7h-0.7zM457.2,102.0h0.7v0.7h-0.7zM492.3,94.4h0.7v0.7h-0.7zM475.6,85.1h0.7v0.7h-0.7zM443.0,87.2h0.7v0.7h-0.7zM492.0,87.9h0.7v0.7h-0.7zM437.4,94.6h0.7v0.7h-0.7zM440.5,94.2h0.7v0.7h-0.7zM463.3,90.2h0.7v0.7h-0.7zM476.4,90.9h0.7v0.7h-0.7zM474.3,86.7h0.7v0.7h-0.7zM482.9,92.8h0.7v0.7h-0.7zM467.5,95.7h0.7v0.7h-0.7zM474.4,90.5h0.7v0.7h-0.7zM448.9,91.0h0.7v0.7h-0.7zM455.1,95.7h0.7v0.7h-0.7zM450.3,86.9h0.7v0.7h-0.7zM467.0,88.1h0.7v0.7h-0.7zM474.5,102.8h0.7v0.7h-0.7zM485.6,89.7h0.7v0.7h-0.7zM480.1,93.0h0.7v0.7h-0.7zM445.5,96.1h0.7v0.7h-0.7zM484.7,85.3h0.7v0.7h-0.7zM467.3,90.8h0.7v0.7h-0.7zM450.8,90.6h0.7v0.7h-0.7zM442.4,96.6h0.7v0.7h-0.7zM439.6,93.6h0.7v0.7h-0.7zM462.8,93.1h0.7v0.7h-0.7zM480.9,93.9h0.7v0.7h-0.7zM492.2,87.3h0.7v0.7h-0.7zM445.4,86.9h0.7v0.7h-0.7zM458.8,92.8h0.7v0.7h-0.7zM456.2,90.4h0.7v0.7h-0.7zM448.8,91.9h0.7v0.7h-0.7zM476.8,94.0h0.7v0.7h-0.7zM454.0,95.4h0.7v0.7h-0.7zM475.3,91.1h0.7v0.7h-0.7zM455.4,91.7h0.7v0.7h-0.7zM492.0,89.9h0.7v0.7h-0.7zM449.1,91.2h0.7v0.7h-0.7zM437.6,87.5h0.7v0.7h-0.7zM465.4,97.0h0.7v0.7h-0.7zM447.3,97.1h0.7v0.7h-0.7zM439.1,85.7h0.7v0.7h-0.7zM471.4,90.1h0.7v0.7h-0.7zM475.6,100.8h0.7v0.7h-0.7zM481.3,94.5h0.7v0.7h-0.7zM477.6,95.2h0.7v0.7h-0.7zM446.8,91.6h0.7v0.7h-0.7zM485.8,90.9h0.7v0.7h-0.7zM447.0,96.0h0.7v0.7h-0.7zM476.7,95.2h0.7v0.7h-0.7zM478.0,95.0h0.7v0.7h-0.7zM455.3,92.3h0.7v0.7h-0.7zM446.0,96.8h0.7v0.7h-0.7zM476.5,92.8h0.7v0.7h-0.7zM439.1,88.5h0.7v0.7h-0.7zM455.9,100.2h0.7v0.7h-0.7zM490.1,92.1h0.7v0.7h-0.7zM468.5,85.6h0.7v0.7h-0.7zM455.3,90.6h0.7v0.7h-0.7zM465.5,84.9h0.7v0.7h-0.7zM451.7,85.7h0.7v0.7h-0.7zM443.8,90.2h0.7v0.7h-0.7zM452.5,92.0h0.7v0.7h-0.7zM463.7,95.2h0.7v0.7h-0.7zM492.2,86.8h0.7v0.7h-0.7zM479.9,100.8h0.7v0.7h-0.7zM453.5,90.6h0.7v0.7h-0.7zM445.5,89.1h0.7v0.7h-0.7zM457.9,84.5h0.7v0.7h-0.7zM482.1,86.4h0.7v0.7h-0.7zM437.1,84.9h0.7v0.7h-0.7zM483.2,93.9h0.7v0.7h-0.7zM483.2,89.2h0.7v0.7h-0.7zM449.9,96.5h0.7v0.7h-0.7zM482.6,84.6h0.7v0.7h-0.7zM441.2,93.4h0.7v0.7h-0.7zM448.6,96.8h0.7v0.7h-0.7zM456.3,101.1h0.7v0.7h-0.7zM444.6,89.0h0.7v0.7h-0.7zM444.9,92.6h0.7v0.7h-0.7zM437.3,85.8h0.7v0.7h-0.7zM490.6,92.3h0.7v0.7h-0.7zM485.9,93.2h0.7v0.7h-0.7zM482.4,96.3h0.7v0.7h-0.7zM489.5,95.0h0.7v0.7h-0.7zM492.8,98.7h0.7v0.7h-0.7zM489.1,86.8h0.7v0.7h-0.7zM457.4,89.3h0.7v0.7h-0.7zM482.0,82.9h0.7v0.7h-0.7zM468.8,95.5h0.7v0.7h-0.7zM488.2,85.1h0.7v0.7h-0.7zM487.3,93.5h0.7v0.7h-0.7zM454.1,89.4h0.7v0.7h-0.7zM462.8,95.2h0.7v0.7h-0.7zM485.2,91.6h0.7v0.7h-0.7zM491.5,86.1h0.7v0.7h-0.7zM442.0,91.8h0.7v0.7h-0.7zM465.3,95.0h0.7v0.7h-0.7zM472.2,89.9h0.7v0.7h-0.7zM481.8,86.9h0.7v0.7h-0.7zM475.6,92.8h0.7v0.7h-0.7zM445.4,89.8h0.7v0.7h-0.7zM439.7,94.3h0.7v0.7h-0.7zM448.8,95.2h0.7v0.7h-0.7zM457.6,85.0h0.7v0.7h-0.7zM442.1,87.8h0.7v0.7h-0.7zM470.7,91.2h0.7v0.7h-0.7zM484.2,88.9h0.7v0.7h-0.7zM482.4,94.6h0.7v0.7h-0.7zM484.2,90.1h0.7v0.7h-0.7zM488.5,87.7h0.7v0.7h-0.7zM439.7,98.7h0.7v0.7h-0.7zM439.6,91.0h0.7v0.7h-0.7zM444.9,94.5h0.7v0.7h-0.7zM441.4,81.4h0.7v0.7h-0.7zM470.0,95.7h0.7v0.7h-0.7zM488.6,86.3h0.7v0.7h-0.7zM485.5,92.3h0.7v0.7h-0.7zM486.4,93.2h0.7v0.7h-0.7zM449.0,99.5h0.7v0.7h-0.7zM456.7,83.6h0.7v0.7h-0.7zM478.8,92.8h0.7v0.7h-0.7zM442.6,96.7h0.7v0.7h-0.7zM470.5,94.5h0.7v0.7h-0.7zM437.9,95.2h0.7v0.7h-0.7zM491.6,88.4h0.7v0.7h-0.7zM447.9,88.8h0.7v0.7h-0.7zM479.8,85.7h0.7v0.7h-0.7zM438.7,91.8h0.7v0.7h-0.7zM455.5,83.1h0.7v0.7h-0.7zM446.8,93.3h0.7v0.7h-0.7zM439.0,88.4h0.7v0.7h-0.7zM438.5,90.8h0.7v0.7h-0.7zM441.9,86.8h0.7v0.7h-0.7zM450.0,92.1h0.7v0.7h-0.7zM475.1,95.1h0.7v0.7h-0.7zM462.9,92.7h0.7v0.7h-0.7zM448.9,95.5h0.7v0.7h-0.7zM460.6,90.6h0.7v0.7h-0.7zM489.9,88.2h0.7v0.7h-0.7zM461.8,91.1h0.7v0.7h-0.7zM492.5,93.4h0.7v0.7h-0.7zM440.2,88.1h0.7v0.7h-0.7zM488.4,90.9h0.7v0.7h-0.7zM458.6,93.3h0.7v0.7h-0.7zM478.6,85.9h0.7v0.7h-0.7zM489.2,97.4h0.7v0.7h-0.7zM473.2,95.9h0.7v0.7h-0.7zM440.7,87.4h0.7v0.7h-0.7zM473.5,91.2h0.7v0.7h-0.7zM486.7,99.7h0.7v0.7h-0.7zM461.2,91.1h0.7v0.7h-0.7zM467.5,90.1h0.7v0.7h-0.7zM472.4,93.0h0.7v0.7h-0.7zM446.4,90.7h0.7v0.7h-0.7zM478.5,87.8h0.7v0.7h-0.7zM491.2,88.3h0.7v0.7h-0.7zM440.0,93.0h0.7v0.7h-0.7zM448.8,89.9h0.7v0.7h-0.7zM472.3,98.8h0.7v0.7h-0.7zM452.4,93.9h0.7v0.7h-0.7zM480.6,88.7h0.7v0.7h-0.7zM480.3,89.5h0.7v0.7h-0.7zM488.0,92.0h0.7v0.7h-0.7zM459.8,89.6h0.7v0.7h-0.7zM439.9,88.0h0.7v0.7h-0.7zM464.8,92.7h0.7v0.7h-0.7zM484.9,91.2h0.7v0.7h-0.7zM439.4,83.5h0.7v0.7h-0.7zM462.3,85.2h0.7v0.7h-0.7zM486.1,95.1h0.7v0.7h-0.7zM437.3,94.1h0.7v0.7h-0.7zM438.3,88.4h0.7v0.7h-0.7zM470.1,80.3h0.7v0.7h-0.7zM481.0,89.0h0.7v0.7h-0.7zM461.3,93.3h0.7v0.7h-0.7zM464.1,82.2h0.7v0.7h-0.7zM452.9,86.5h0.7v0.7h-0.7zM475.5,84.3h0.7v0.7h-0.7zM470.0,95.3h0.7v0.7h-0.7zM468.9,97.7h0.7v0.7h-0.7zM476.2,90.3h0.7v0.7h-0.7zM449.4,91.8h0.7v0.7h-0.7zM468.5,93.7h0.7v0.7h-0.7zM458.0,94.8h0.7v0.7h-0.7zM443.6,90.5h0.7v0.7h-0.7zM487.6,96.3h0.7v0.7h-0.7zM476.0,95.1h0.7v0.7h-0.7zM481.4,94.2h0.7v0.7h-0.7zM437.0,89.6h0.7v0.7h-0.7zM449.2,84.6h0.7v0.7h-0.7zM437.5,90.0h0.7v0.7h-0.7zM472.7,95.2h0.7v0.7h-0.7zM440.3,95.1h0.7v0.7h-0.7zM438.6,97.7h0.7v0.7h-0.7zM468.6,88.7h0.7v0.7h-0.7zM457.9,94.4h0.7v0.7h-0.7zM454.1,94.2h0.7v0.7h-0.7zM467.2,81.9h0.7v0.7h-0.7zM473.9,92.7h0.7v0.7h-0.7zM461.3,89.7h0.7v0.7h-0.7zM438.0,91.8h0.7v0.7h-0.7zM443.2,82.0h0.7v0.7h-0.7zM458.7,87.5h0.7v0.7h-0.7zM439.3,87.7h0.7v0.7h-0.7zM457.9,88.3h0.7v0.7h-0.7zM486.4,96.7h0.7v0.7h-0.7zM440.4,86.7h0.7v0.7h-0.7zM456.7,90.2h0.7v0.7h-0.7zM446.1,89.3h0.7v0.7h-0.7zM473.3,92.2h0.7v0.7h-0.7zM451.6,93.8h0.7v0.7h-0.7zM447.1,89.1h0.7v0.7h-0.7zM445.9,90.3h0.7v0.7h-0.7zM485.0,83.0h0.7v0.7h-0.7zM464.0,88.8h0.7v0.7h-0.7zM465.2,88.3h0.7v0.7h-0.7zM442.1,94.8h0.7v0.7h-0.7zM462.0,88.1h0.7v0.7h-0.7zM441.6,88.5h0.7v0.7h-0.7zM492.0,91.2h0.7v0.7h-0.7zM440.2,90.4h0.7v0.7h-0.7zM446.6,92.9h0.7v0.7h-0.7zM463.2,97.3h0.7v0.7h-0.7zM468.9,94.1h0.7v0.7h-0.7zM478.8,88.0h0.7v0.7h-0.7zM454.0,96.9h0.7v0.7h-0.7zM474.1,94.3h0.7v0.7h-0.7zM473.7,91.3h0.7v0.7h-0.7zM480.6,91.5h0.7v0.7h-0.7zM463.8,92.9h0.7v0.7h-0.7zM463.7,85.7h0.7v0.7h-0.7zM453.7,86.6h0.7v0.7h-0.7zM481.2,90.7h0.7v0.7h-0.7zM448.2,88.2h0.7v0.7h-0.7zM460.4,97.3h0.7v0.7h-0.7zM464.9,84.3h0.7v0.7h-0.7zM464.8,84.0h0.7v0.7h-0.7zM437.9,91.7h0.7v0.7h-0.7zM475.3,85.7h0.7v0.7h-0.7zM484.1,90.9h0.7v0.7h-0.7zM441.8,80.5h0.7v0.7h-0.7zM448.9,90.7h0.7v0.7h-0.7zM469.9,90.2h0.7v0.7h-0.7zM471.2,99.1h0.7v0.7h-0.7zM443.4,94.2h0.7v0.7h-0.7zM460.0,94.7h0.7v0.7h-0.7zM480.7,96.8h0.7v0.7h-0.7zM441.0,89.5h0.7v0.7h-0.7zM460.8,93.2h0.7v0.7h-0.7zM459.8,90.9h0.7v0.7h-0.7zM450.1,89.6h0.7v0.7h-0.7zM438.8,89.0h0.7v0.7h-0.7zM445.8,86.8h0.7v0.7h-0.7zM483.4,90.8h0.7v0.7h-0.7zM447.2,85.5h0.7v0.7h-0.7zM438.0,83.1h0.7v0.7h-0.7zM462.6,92.7h0.7v0.7h-0.7zM449.6,95.8h0.7v0.7h-0.7zM478.3,90.9h0.7v0.7h-0.7zM451.6,90.0h0.7v0.7h-0.7zM445.1,89.7h0.7v0.7h-0.7zM453.8,87.2h0.7v0.7h-0.7zM468.3,84.4h0.7v0.7h-0.7zM451.1,79.7h0.7v0.7h-0.7zM455.7,86.5h0.7v0.7h-0.7zM442.1,96.3h0.7v0.7h-0.7zM489.9,92.7h0.7v0.7h-0.7zM489.4,90.4h0.7v0.7h-0.7zM456.2,88.4h0.7v0.7h-0.7zM447.2,84.3h0.7v0.7h-0.7zM438.2,94.4h0.7v0.7h-0.7zM464.3,92.9h0.7v0.7h-0.7zM480.2,97.6h0.7v0.7h-0.7zM478.7,86.0h0.7v0.7h-0.7zM437.5,99.4h0.7v0.7h-0.7zM451.6,95.6h0.7v0.7h-0.7zM462.2,97.0h0.7v0.7h-0.7zM469.1,93.5h0.7v0.7h-0.7zM477.8,92.2h0.7v0.7h-0.7zM471.8,95.7h0.7v0.7h-0.7zM468.8,89.2h0.7v0.7h-0.7zM459.1,94.2h0.7v0.7h-0.7zM462.7,88.9h0.7v0.7h-0.7zM480.1,88.2h0.7v0.7h-0.7zM441.4,94.9h0.7v0.7h-0.7zM490.6,86.4h0.7v0.7h-0.7zM444.7,91.5h0.7v0.7h-0.7zM458.0,89.8h0.7v0.7h-0.7zM455.3,93.8h0.7v0.7h-0.7zM454.9,90.4h0.7v0.7h-0.7zM492.6,90.1h0.7v0.7h-0.7zM483.4,96.4h0.7v0.7h-0.7zM476.9,91.8h0.7v0.7h-0.7zM438.7,100.6h0.7v0.7h-0.7zM440.0,84.0h0.7v0.7h-0.7zM453.2,95.1h0.7v0.7h-0.7zM477.0,90.8h0.7v0.7h-0.7zM480.9,96.6h0.7v0.7h-0.7zM453.5,91.6h0.7v0.7h-0.7zM482.3,97.4h0.7v0.7h-0.7zM437.9,94.7h0.7v0.7h-0.7zM469.3,81.3h0.7v0.7h-0.7zM492.2,93.1h0.7v0.7h-0.7zM482.2,90.1h0.7v0.7h-0.7zM468.4,87.3h0.7v0.7h-0.7zM458.8,90.9h0.7v0.7h-0.7zM472.4,79.2h0.7v0.7h-0.7zM443.8,86.2h0.7v0.7h-0.7zM486.7,89.7h0.7v0.7h-0.7zM453.1,86.0h0.7v0.7h-0.7zM469.2,95.7h0.7v0.7h-0.7zM462.8,88.9h0.7v0.7h-0.7zM441.0,89.6h0.7v0.7h-0.7zM459.5,84.4h0.7v0.7h-0.7zM457.3,90.1h0.7v0.7h-0.7zM453.8,101.0h0.7v0.7h-0.7zM447.0,89.0h0.7v0.7h-0.7zM484.1,90.7h0.7v0.7h-0.7zM480.6,92.7h0.7v0.7h-0.7zM464.7,95.9h0.7v0.7h-0.7zM438.7,89.5h0.7v0.7h-0.7zM457.0,90.4h0.7v0.7h-0.7zM472.4,88.4h0.7v0.7h-0.7zM448.0,91.2h0.7v0.7h-0.7zM475.3,90.9h0.7v0.7h-0.7zM446.8,82.5h0.7v0.7h-0.7zM441.7,99.2h0.7v0.7h-0.7zM440.3,99.6h0.7v0.7h-0.7zM467.0,89.9h0.7v0.7h-0.7zM464.6,85.2h0.7v0.7h-0.7zM481.8,93.1h0.7v0.7h-0.7zM443.3,88.2h0.7v0.7h-0.7zM444.4,95.7h0.7v0.7h-0.7zM441.9,83.5h0.7v0.7h-0.7zM481.7,81.3h0.7v0.7h-0.7zM452.8,84.6h0.7v0.7h-0.7zM482.1,102.9h0.7v0.7h-0.7zM468.7,93.6h0.7v0.7h-0.7zM477.7,92.6h0.7v0.7h-0.7zM455.6,90.1h0.7v0.7h-0.7zM473.9,89.2h0.7v0.7h-0.7zM463.9,93.3h0.7v0.7h-0.7zM449.2,93.0h0.7v0.7h-0.7zM457.1,81.0h0.7v0.7h-0.7zM446.0,88.8h0.7v0.7h-0.7zM446.2,88.4h0.7v0.7h-0.7zM437.2,90.9h0.7v0.7h-0.7zM463.5,85.9h0.7v0.7h-0.7zM463.7,94.9h0.7v0.7h-0.7zM440.2,89.7h0.7v0.7h-0.7zM440.3,92.2h0.7v0.7h-0.7zM484.3,100.9h0.7v0.7h-0.7zM476.8,85.3h0.7v0.7h-0.7zM469.7,86.0h0.7v0.7h-0.7zM452.9,91.4h0.7v0.7h-0.7zM485.2,81.8h0.7v0.7h-0.7zM455.3,93.7h0.7v0.7h-0.7zM449.2,87.0h0.7v0.7h-0.7zM462.3,86.1h0.7v0.7h-0.7zM447.6,97.0h0.7v0.7h-0.7zM443.2,94.7h0.7v0.7h-0.7zM483.6,84.5h0.7v0.7h-0.7zM450.3,93.3h0.7v0.7h-0.7zM487.3,92.3h0.7v0.7h-0.7zM477.0,88.3h0.7v0.7h-0.7zM469.2,101.6h0.7v0.7h-0.7zM476.8,84.2h0.7v0.7h-0.7zM451.0,89.3h0.7v0.7h-0.7zM456.2,90.7h0.7v0.7h-0.7zM451.2,90.1h0.7v0.7h-0.7zM446.4,93.0h0.7v0.7h-0.7zM438.0,94.6h0.7v0.7h-0.7zM466.4,85.0h0.7v0.7h-0.7zM490.6,95.0h0.7v0.7h-0.7zM468.8,86.3h0.7v0.7h-0.7zM490.7,83.5h0.7v0.7h-0.7zM459.9,94.6h0.7v0.7h-0.7zM460.9,87.9h0.7v0.7h-0.7zM449.4,91.4h0.7v0.7h-0.7zM452.7,88.1h0.7v0.7h-0.7zM459.9,99.8h0.7v0.7h-0.7zM437.0,92.4h0.7v0.7h-0.7zM443.1,97.7h0.7v0.7h-0.7zM437.8,86.8h0.7v0.7h-0.7zM447.6,90.8h0.7v0.7h-0.7zM448.3,92.0h0.7v0.7h-0.7zM454.4,93.0h0.7v0.7h-0.7zM474.7,91.3h0.7v0.7h-0.7zM447.2,91.0h0.7v0.7h-0.7zM478.0,91.0h0.7v0.7h-0.7zM488.3,102.7h0.7v0.7h-0.7zM484.4,96.1h0.7v0.7h-0.7zM452.4,91.0h0.7v0.7h-0.7zM445.6,91.5h0.7v0.7h-0.7zM439.4,89.6h0.7v0.7h-0.7zM440.0,94.3h0.7v0.7h-0.7zM439.7,92.1h0.7v0.7h-0.7zM443.2,92.9h0.7v0.7h-0.7zM483.1,89.8h0.7v0.7h-0.7zM484.8,92.4h0.7v0.7h-0.7zM445.1,91.7h0.7v0.7h-0.7zM483.1,92.8h0.7v0.7h-0.7zM460.1,86.8h0.7v0.7h-0.7zM484.0,88.9h0.7v0.7h-0.7zM487.0,93.3h0.7v0.7h-0.7zM474.6,86.2h0.7v0.7h-0.7zM447.4,95.0h0.7v0.7h-0.7zM438.0,87.4h0.7v0.7h-0.7zM453.6,95.0h0.7v0.7h-0.7zM442.4,90.3h0.7v0.7h-0.7zM492.1,86.2h0.7v0.7h-0.7zM455.3,94.1h0.7v0.7h-0.7zM449.7,86.9h0.7v0.7h-0.7zM462.5,100.9h0.7v0.7h-0.7zM475.5,89.0h0.7v0.7h-0.7zM487.2,89.3h0.7v0.7h-0.7zM487.9,92.4h0.7v0.7h-0.7zM476.3,92.6h0.7v0.7h-0.7zM444.0,95.0h0.7v0.7h-0.7zM464.0,87.6h0.7v0.7h-0.7zM450.6,87.8h0.7v0.7h-0.7zM437.6,90.2h0.7v0.7h-0.7zM465.1,96.1h0.7v0.7h-0.7zM461.2,86.7h0.7v0.7h-0.7zM483.8,94.5h0.7v0.7h-0.7zM455.6,92.4h0.7v0.7h-0.7zM437.9,98.3h0.7v0.7h-0.7zM461.4,95.8h0.7v0.7h-0.7zM472.1,95.5h0.7v0.7h-0.7zM488.2,100.5h0.7v0.7h-0.7zM454.0,92.8h0.7v0.7h-0.7zM451.1,95.4h0.7v0.7h-0.7zM456.5,88.4h0.7v0.7h-0.7zM486.9,84.5h0.7v0.7h-0.7zM469.8,94.3h0.7v0.7h-0.7zM440.5,85.6h0.7v0.7h-0.7zM445.1,91.7h0.7v0.7h-0.7zM449.7,93.6h0.7v0.7h-0.7zM473.0,91.3h0.7v0.7h-0.7zM465.8,86.6h0.7v0.7h-0.7zM471.4,89.6h0.7v0.7h-0.7zM455.4,87.1h0.7v0.7h-0.7zM464.4,89.4h0.7v0.7h-0.7zM460.8,90.3h0.7v0.7h-0.7zM463.2,91.7h0.7v0.7h-0.7zM490.5,87.8h0.7v0.7h-0.7zM476.2,87.7h0.7v0.7h-0.7zM445.0,87.8h0.7v0.7h-0.7zM454.1,89.6h0.7v0.7h-0.7zM440.2,96.3h0.7v0.7h-0.7zM437.8,92.1h0.7v0.7h-0.7zM451.9,91.5h0.7v0.7h-0.7zM457.6,95.6h0.7v0.7h-0.7zM451.3,91.2h0.7v0.7h-0.7zM462.3,85.1h0.7v0.7h-0.7zM474.2,84.9h0.7v0.7h-0.7zM440.3,99.5h0.7v0.7h-0.7zM441.7,85.8h0.7v0.7h-0.7zM482.0,98.9h0.7v0.7h-0.7zM488.8,87.1h0.7v0.7h-0.7zM452.3,86.4h0.7v0.7h-0.7zM482.8,85.6h0.7v0.7h-0.7zM469.1,96.4h0.7v0.7h-0.7zM456.5,87.1h0.7v0.7h-0.7zM489.7,89.7h0.7v0.7h-0.7zM487.7,92.6h0.7v0.7h-0.7zM455.8,94.1h0.7v0.7h-0.7zM479.7,82.5h0.7v0.7h-0.7zM474.2,89.1h0.7v0.7h-0.7zM457.1,96.3h0.7v0.7h-0.7zM481.3,89.6h0.7v0.7h-0.7zM479.3,96.0h0.7v0.7h-0.7zM442.1,92.8h0.7v0.7h-0.7zM473.5,85.9h0.7v0.7h-0.7zM473.7,91.9h0.7v0.7h-0.7zM470.1,100.9h0.7v0.7h-0.7zM455.0,93.9h0.7v0.7h-0.7zM438.4,93.4h0.7v0.7h-0.7zM451.4,92.2h0.7v0.7h-0.7zM439.2,92.3h0.7v0.7h-0.7zM441.6,91.9h0.7v0.7h-0.7zM452.3,93.5h0.7v0.7h-0.7zM441.8,94.8h0.7v0.7h-0.7zM456.1,96.5h0.7v0.7h-0.7zM473.9,92.3h0.7v0.7h-0.7zM450.9,98.0h0.7v0.7h-0.7zM459.1,91.5h0.7v0.7h-0.7zM492.9,93.5h0.7v0.7h-0.7zM449.6,97.7h0.7v0.7h-0.7zM439.4,91.6h0.7v0.7h-0.7zM441.6,91.9h0.7v0.7h-0.7zM455.9,94.5h0.7v0.7h-0.7zM453.8,88.7h0.7v0.7h-0.7zM456.4,98.8h0.7v0.7h-0.7zM486.9,88.7h0.7v0.7h-0.7zM459.2,82.6h0.7v0.7h-0.7zM453.9,77.1h0.7v0.7h-0.7zM440.4,83.6h0.7v0.7h-0.7zM473.7,94.1h0.7v0.7h-0.7zM442.6,86.4h0.7v0.7h-0.7zM492.9,86.8h0.7v0.7h-0.7zM461.7,100.5h0.7v0.7h-0.7zM442.3,87.8h0.7v0.7h-0.7zM452.4,90.7h0.7v0.7h-0.7zM486.3,96.3h0.7v0.7h-0.7zM472.2,88.1h0.7v0.7h-0.7zM472.7,84.2h0.7v0.7h-0.7zM469.3,93.9h0.7v0.7h-0.7zM492.5,94.6h0.7v0.7h-0.7zM438.5,82.6h0.7v0.7h-0.7zM461.2,93.7h0.7v0.7h-0.7zM440.1,94.6h0.7v0.7h-0.7zM485.0,86.0h0.7v0.7h-0.7zM482.4,93.1h0.7v0.7h-0.7zM479.0,92.3h0.7v0.7h-0.7zM441.5,90.6h0.7v0.7h-0.7zM461.7,80.3h0.7v0.7h-0.7zM454.7,84.8h0.7v0.7h-0.7zM443.3,91.6h0.7v0.7h-0.7zM477.6,93.8h0.7v0.7h-0.7zM465.7,91.5h0.7v0.7h-0.7zM456.5,99.1h0.7v0.7h-0.7zM446.4,98.5h0.7v0.7h-0.7zM482.6,94.9h0.7v0.7h-0.7zM475.4,102.7h0.7v0.7h-0.7zM437.2,88.6h0.7v0.7h-0.7zM443.1,86.1h0.7v0.7h-0.7zM454.8,91.4h0.7v0.7h-0.7zM447.4,90.3h0.7v0.7h-0.7zM458.6,91.0h0.7v0.7h-0.7zM480.8,84.2h0.7v0.7h-0.7zM479.8,90.3h0.7v0.7h-0.7zM463.2,94.6h0.7v0.7h-0.7zM477.1,90.4h0.7v0.7h-0.7zM442.5,101.2h0.7v0.7h-0.7zM448.3,89.4h0.7v0.7h-0.7zM443.0,93.4h0.7v0.7h-0.7zM452.5,97.6h0.7v0.7h-0.7zM465.9,91.8h0.7v0.7h-0.7zM443.6,91.2h0.7v0.7h-0.7zM465.9,86.9h0.7v0.7h-0.7zM485.9,89.3h0.7v0.7h-0.7zM453.7,91.5h0.7v0.7h-0.7zM444.1,94.0h0.7v0.7h-0.7zM440.1,89.4h0.7v0.7h-0.7zM460.3,87.5h0.7v0.7h-0.7zM437.8,98.3h0.7v0.7h-0.7zM447.8,90.6h0.7v0.7h-0.7zM463.9,93.5h0.7v0.7h-0.7zM486.5,96.8h0.7v0.7h-0.7zM437.4,88.7h0.7v0.7h-0.7zM471.1,94.8h0.7v0.7h-0.7zM470.1,96.0h0.7v0.7h-0.7zM489.7,88.4h0.7v0.7h-0.7zM440.8,90.1h0.7v0.7h-0.7zM477.9,89.1h0.7v0.7h-0.7zM465.6,94.6h0.7v0.7h-0.7zM473.1,90.9h0.7v0.7h-0.7zM483.0,91.1h0.7v0.7h-0.7zM472.5,96.1h0.7v0.7h-0.7zM472.3,86.6h0.7v0.7h-0.7zM450.3,85.5h0.7v0.7h-0.7zM452.7,100.1h0.7v0.7h-0.7zM487.5,91.2h0.7v0.7h-0.7zM490.8,96.5h0.7v0.7h-0.7zM471.3,90.9h0.7v0.7h-0.7zM457.1,91.4h0.7v0.7h-0.7zM443.0,80.1h0.7v0.7h-0.7zM449.7,86.5h0.7v0.7h-0.7zM488.7,94.0h0.7v0.7h-0.7zM486.0,90.2h0.7v0.7h-0.7zM475.5,92.7h0.7v0.7h-0.7zM469.7,93.7h0.7v0.7h-0.7zM485.1,89.0h0.7v0.7h-0.7zM471.3,98.8h0.7v0.7h-0.7zM442.8,90.5h0.7v0.7h-0.7zM445.0,87.9h0.7v0.7h-0.7zM460.7,100.4h0.7v0.7h-0.7zM438.4,93.5h0.7v0.7h-0.7zM492.0,100.9h0.7v0.7h-0.7zM468.7,90.7h0.7v0.7h-0.7zM492.2,95.7h0.7v0.7h-0.7zM461.7,92.7h0.7v0.7h-0.7zM444.6,88.3h0.7v0.7h-0.7zM460.1,83.8h0.7v0.7h-0.7zM439.3,87.2h0.7v0.7h-0.7zM492.2,99.3h0.7v0.7h-0.7zM456.6,100.5h0.7v0.7h-0.7zM475.1,92.3h0.7v0.7h-0.7zM438.7,87.2h0.7v0.7h-0.7zM492.4,91.5h0.7v0.7h-0.7zM467.2,95.7h0.7v0.7h-0.7zM454.5,89.5h0.7v0.7h-0.7zM464.8,95.4h0.7v0.7h-0.7zM452.7,93.9h0.7v0.7h-0.7zM445.3,94.6h0.7v0.7h-0.7zM476.0,86.5h0.7v0.7h-0.7zM469.2,92.1h0.7v0.7h-0.7zM445.7,95.1h0.7v0.7h-0.7zM470.6,90.7h0.7v0.7h-0.7zM482.1,93.7h0.7v0.7h-0.7zM442.9,95.5h0.7v0.7h-0.7zM473.3,90.9h0.7v0.7h-0.7zM492.1,91.9h0.7v0.7h-0.7zM453.6,100.7h0.7v0.7h-0.7zM465.2,86.1h0.7v0.7h-0.7zM473.9,93.1h0.7v0.7h-0.7zM478.8,86.5h0.7v0.7h-0.7zM485.4,96.3h0.7v0.7h-0.7zM463.7,86.6h0.7v0.7h-0.7zM445.7,92.4h0.7v0.7h-0.7zM469.4,91.1h0.7v0.7h-0.7zM488.7,95.8h0.7v0.7h-0.7zM451.3,88.2h0.7v0.7h-0.7zM469.1,97.2h0.7v0.7h-0.7zM483.8,94.0h0.7v0.7h-0.7zM445.3,94.0h0.7v0.7h-0.7zM443.5,85.4h0.7v0.7h-0.7zM482.7,96.2h0.7v0.7h-0.7zM446.4,90.8h0.7v0.7h-0.7zM460.4,88.7h0.7v0.7h-0.7zM442.8,92.1h0.7v0.7h-0.7zM475.9,99.7h0.7v0.7h-0.7zM462.8,93.2h0.7v0.7h-0.7zM451.7,90.1h0.7v0.7h-0.7zM473.3,94.9h0.7v0.7h-0.7zM459.0,95.1h0.7v0.7h-0.7zM445.3,90.9h0.7v0.7h-0.7zM465.6,95.0h0.7v0.7h-0.7zM454.0,87.8h0.7v0.7h-0.7zM476.1,89.8h0.7v0.7h-0.7zM485.5,85.1h0.7v0.7h-0.7zM461.1,85.8h0.7v0.7h-0.7zM440.7,93.9h0.7v0.7h-0.7zM440.2,89.7h0.7v0.7h-0.7zM477.6,96.0h0.7v0.7h-0.7zM459.0,94.5h0.7v0.7h-0.7zM439.2,89.4h0.7v0.7h-0.7zM474.8,92.1h0.7v0.7h-0.7zM483.4,86.5h0.7v0.7h-0.7zM457.0,94.3h0.7v0.7h-0.7zM468.8,94.7h0.7v0.7h-0.7zM468.7,90.9h0.7v0.7h-0.7zM437.5,92.8h0.7v0.7h-0.7zM459.0,90.7h0.7v0.7h-0.7zM455.6,88.2h0.7v0.7h-0.7zM445.5,90.5h0.7v0.7h-0.7zM464.7,96.2h0.7v0.7h-0.7zM458.2,80.6h0.7v0.7h-0.7zM448.9,90.5h0.7v0.7h-0.7zM485.3,93.5h0.7v0.7h-0.7zM481.0,97.9h0.7v0.7h-0.7zM462.9,99.1h0.7v0.7h-0.7zM468.5,86.4h0.7v0.7h-0.7zM447.2,86.0h0.7v0.7h-0.7zM454.9,85.5h0.7v0.7h-0.7zM476.2,89.5h0.7v0.7h-0.7zM447.9,93.7h0.7v0.7h-0.7zM458.9,97.9h0.7v0.7h-0.7zM491.5,102.5h0.7v0.7h-0.7zM491.8,88.4h0.7v0.7h-0.7zM486.0,91.9h0.7v0.7h-0.7zM480.7,90.1h0.7v0.7h-0.7zM483.2,92.5h0.7v0.7h-0.7zM487.0,93.4h0.7v0.7h-0.7zM445.2,95.5h0.7v0.7h-0.7zM454.6,92.8h0.7v0.7h-0.7zM452.0,93.4h0.7v0.7h-0.7zM483.4,96.1h0.7v0.7h-0.7zM438.4,80.9h0.7v0.7h-0.7zM481.3,92.9h0.7v0.7h-0.7zM438.1,88.8h0.7v0.7h-0.7zM444.1,90.3h0.7v0.7h-0.7zM437.6,83.8h0.7v0.7h-0.7zM437.6,89.2h0.7v0.7h-0.7zM441.8,95.2h0.7v0.7h-0.7zM487.7,78.7h0.7v0.7h-0.7zM438.9,94.3h0.7v0.7h-0.7zM461.3,101.0h0.7v0.7h-0.7zM486.7,98.9h0.7v0.7h-0.7zM442.2,84.2h0.7v0.7h-0.7zM468.6,101.1h0.7v0.7h-0.7zM457.4,87.6h0.7v0.7h-0.7zM483.5,88.3h0.7v0.7h-0.7zM441.0,82.6h0.7v0.7h-0.7zM438.1,87.0h0.7v0.7h-0.7zM452.5,86.2h0.7v0.7h-0.7zM482.8,94.5h0.7v0.7h-0.7zM465.5,101.1h0.7v0.7h-0.7zM445.8,97.2h0.7v0.7h-0.7zM481.2,93.1h0.7v0.7h-0.7zM472.7,92.9h0.7v0.7h-0.7zM457.4,92.4h0.7v0.7h-0.7zM441.7,90.2h0.7v0.7h-0.7zM440.6,88.9h0.7v0.7h-0.7zM444.6,92.4h0.7v0.7h-0.7zM460.5,92.9h0.7v0.7h-0.7zM457.4,83.7h0.7v0.7h-0.7zM454.5,91.1h0.7v0.7h-0.7zM455.9,98.4h0.7v0.7h-0.7zM475.1,93.9h0.7v0.7h-0.7zM465.8,93.6h0.7v0.7h-0.7zM437.2,98.4h0.7v0.7h-0.7zM459.5,86.3h0.7v0.7h-0.7zM441.4,88.5h0.7v0.7h-0.7zM454.9,94.4h0.7v0.7h-0.7zM459.5,92.5h0.7v0.7h-0.7zM440.3,92.7h0.7v0.7h-0.7zM443.5,93.0h0.7v0.7h-0.7zM443.7,95.9h0.7v0.7h-0.7zM443.7,86.4h0.7v0.7h-0.7zM450.7,88.7h0.7v0.7h-0.7zM475.1,88.5h0.7v0.7h-0.7zM484.6,90.9h0.7v0.7h-0.7zM467.2,94.9h0.7v0.7h-0.7zM438.9,95.6h0.7v0.7h-0.7zM452.3,94.9h0.7v0.7h-0.7zM463.1,88.6h0.7v0.7h-0.7zM438.3,83.0h0.7v0.7h-0.7zM487.5,94.8h0.7v0.7h-0.7zM442.0,90.3h0.7v0.7h-0.7zM482.1,91.6h0.7v0.7h-0.7zM461.8,97.6h0.7v0.7h-0.7zM447.7,95.9h0.7v0.7h-0.7zM458.1,94.4h0.7v0.7h-0.7zM456.1,85.1h0.7v0.7h-0.7zM481.8,93.7h0.7v0.7h-0.7zM487.9,88.1h0.7v0.7h-0.7zM455.0,93.5h0.7v0.7h-0.7zM480.6,100.8h0.7v0.7h-0.7zM447.6,88.9h0.7v0.7h-0.7zM479.0,91.1h0.7v0.7h-0.7zM441.8,101.3h0.7v0.7h-0.7zM455.4,91.2h0.7v0.7h-0.7zM487.6,85.6h0.7v0.7h-0.7zM487.3,93.3h0.7v0.7h-0.7zM437.8,95.4h0.7v0.7h-0.7zM465.4,91.7h0.7v0.7h-0.7zM477.0,92.0h0.7v0.7h-0.7zM437.1,93.1h0.7v0.7h-0.7zM437.1,94.4h0.7v0.7h-0.7zM458.5,101.9h0.7v0.7h-0.7zM450.0,93.5h0.7v0.7h-0.7zM448.8,95.9h0.7v0.7h-0.7zM447.2,87.0h0.7v0.7h-0.7zM491.4,92.8h0.7v0.7h-0.7zM458.7,93.0h0.7v0.7h-0.7zM475.7,91.9h0.7v0.7h-0.7zM464.7,82.0h0.7v0.7h-0.7zM451.7,85.2h0.7v0.7h-0.7zM445.4,82.0h0.7v0.7h-0.7zM486.4,97.4h0.7v0.7h-0.7zM466.9,91.3h0.7v0.7h-0.7zM460.7,87.7h0.7v0.7h-0.7zM447.1,85.1h0.7v0.7h-0.7zM466.6,86.9h0.7v0.7h-0.7zM484.3,92.0h0.7v0.7h-0.7zM475.3,99.4h0.7v0.7h-0.7zM484.8,87.9h0.7v0.7h-0.7zM456.5,90.3h0.7v0.7h-0.7z" fill="#1c64ff" fill-opacity="0.2"/>
<ellipse cx="494" cy="108.5" rx="4.2" ry="7" fill="#ff2020" fill-opacity="0.3" filter="url(#bl1)"/>
<ellipse cx="493.6" cy="106.5" rx="2.5" ry="4.3" fill="#ff2020" fill-opacity="0.75" filter="url(#bl2)"/>
<path d="M493.5,106.5h0.7v0.7h-0.7zM498.3,103.4h0.7v0.7h-0.7zM496.9,102.1h0.7v0.7h-0.7zM489.2,102.7h0.7v0.7h-0.7zM495.3,102.5h0.7v0.7h-0.7zM498.8,110.7h0.7v0.7h-0.7zM492.2,105.8h0.7v0.7h-0.7zM497.3,107.0h0.7v0.7h-0.7zM491.5,104.2h0.7v0.7h-0.7zM495.6,112.1h0.7v0.7h-0.7zM500.2,105.0h0.7v0.7h-0.7zM496.0,106.5h0.7v0.7h-0.7zM493.9,103.9h0.7v0.7h-0.7zM495.3,103.1h0.7v0.7h-0.7zM496.1,102.5h0.7v0.7h-0.7zM492.6,108.5h0.7v0.7h-0.7zM496.8,105.6h0.7v0.7h-0.7zM495.9,106.3h0.7v0.7h-0.7zM495.1,105.4h0.7v0.7h-0.7zM492.5,104.7h0.7v0.7h-0.7zM491.7,106.5h0.7v0.7h-0.7zM498.7,102.9h0.7v0.7h-0.7zM492.1,104.5h0.7v0.7h-0.7zM493.6,109.8h0.7v0.7h-0.7zM500.2,104.2h0.7v0.7h-0.7zM499.3,107.2h0.7v0.7h-0.7zM496.1,104.6h0.7v0.7h-0.7zM493.3,105.8h0.7v0.7h-0.7zM492.6,104.5h0.7v0.7h-0.7zM491.8,102.6h0.7v0.7h-0.7zM486.2,104.6h0.7v0.7h-0.7zM495.2,102.8h0.7v0.7h-0.7zM495.0,105.2h0.7v0.7h-0.7zM499.0,104.4h0.7v0.7h-0.7zM484.2,105.2h0.7v0.7h-0.7zM494.8,102.4h0.7v0.7h-0.7zM496.2,110.9h0.7v0.7h-0.7zM495.0,106.6h0.7v0.7h-0.7zM496.2,105.4h0.7v0.7h-0.7zM490.0,107.4h0.7v0.7h-0.7zM494.2,109.1h0.7v0.7h-0.7zM493.1,104.8h0.7v0.7h-0.7zM487.8,109.0h0.7v0.7h-0.7zM499.7,102.5h0.7v0.7h-0.7zM493.9,103.0h0.7v0.7h-0.7zM485.9,103.4h0.7v0.7h-0.7zM490.0,102.5h0.7v0.7h-0.7zM491.2,106.4h0.7v0.7h-0.7zM492.1,107.3h0.7v0.7h-0.7zM488.1,108.7h0.7v0.7h-0.7zM491.1,107.2h0.7v0.7h-0.7zM496.2,103.3h0.7v0.7h-0.7zM494.3,102.6h0.7v0.7h-0.7zM495.6,104.5h0.7v0.7h-0.7zM493.4,102.1h0.7v0.7h-0.7zM497.0,106.1h0.7v0.7h-0.7zM489.5,113.0h0.7v0.7h-0.7zM493.1,107.5h0.7v0.7h-0.7zM499.9,104.9h0.7v0.7h-0.7zM494.6,106.3h0.7v0.7h-0.7zM494.4,102.6h0.7v0.7h-0.7zM496.6,106.6h0.7v0.7h-0.7zM495.3,102.7h0.7v0.7h-0.7zM496.6,102.8h0.7v0.7h-0.7zM497.7,110.2h0.7v0.7h-0.7zM496.5,111.5h0.7v0.7h-0.7zM492.4,105.0h0.7v0.7h-0.7zM494.9,105.6h0.7v0.7h-0.7zM495.1,102.5h0.7v0.7h-0.7zM495.4,103.1h0.7v0.7h-0.7zM496.1,103.4h0.7v0.7h-0.7zM494.2,107.2h0.7v0.7h-0.7zM497.7,103.2h0.7v0.7h-0.7zM489.3,107.2h0.7v0.7h-0.7zM495.9,107.4h0.7v0.7h-0.7zM488.7,110.2h0.7v0.7h-0.7zM489.7,111.9h0.7v0.7h-0.7zM492.9,102.5h0.7v0.7h-0.7zM496.2,110.3h0.7v0.7h-0.7zM494.6,102.1h0.7v0.7h-0.7zM497.0,109.5h0.7v0.7h-0.7zM494.9,104.6h0.7v0.7h-0.7zM491.2,107.0h0.7v0.7h-0.7zM491.5,104.7h0.7v0.7h-0.7zM488.2,108.2h0.7v0.7h-0.7zM495.8,104.8h0.7v0.7h-0.7zM496.3,102.5h0.7v0.7h-0.7zM492.6,107.3h0.7v0.7h-0.7zM494.5,103.4h0.7v0.7h-0.7zM498.3,106.9h0.7v0.7h-0.7zM491.0,102.5h0.7v0.7h-0.7zM494.1,111.8h0.7v0.7h-0.7zM493.3,103.0h0.7v0.7h-0.7zM491.7,103.4h0.7v0.7h-0.7zM488.2,104.6h0.7v0.7h-0.7zM497.0,114.5h0.7v0.7h-0.7zM490.5,107.4h0.7v0.7h-0.7zM491.9,110.5h0.7v0.7h-0.7zM494.0,106.1h0.7v0.7h-0.7zM492.5,106.3h0.7v0.7h-0.7zM495.4,102.7h0.7v0.7h-0.7zM495.3,103.5h0.7v0.7h-0.7zM495.3,102.5h0.7v0.7h-0.7zM490.8,105.9h0.7v0.7h-0.7zM493.0,102.6h0.7v0.7h-0.7zM494.5,103.0h0.7v0.7h-0.7zM492.2,104.9h0.7v0.7h-0.7zM491.5,103.4h0.7v0.7h-0.7zM496.1,106.6h0.7v0.7h-0.7zM494.9,111.6h0.7v0.7h-0.7zM490.2,102.6h0.7v0.7h-0.7zM495.0,103.0h0.7v0.7h-0.7zM492.6,106.2h0.7v0.7h-0.7zM493.8,103.5h0.7v0.7h-0.7zM491.0,108.9h0.7v0.7h-0.7zM499.5,103.2h0.7v0.7h-0.7zM495.3,104.6h0.7v0.7h-0.7zM497.5,104.6h0.7v0.7h-0.7zM494.7,102.3h0.7v0.7h-0.7zM491.4,103.5h0.7v0.7h-0.7zM495.1,111.6h0.7v0.7h-0.7zM494.4,111.7h0.7v0.7h-0.7zM498.4,102.9h0.7v0.7h-0.7zM495.5,105.9h0.7v0.7h-0.7zM499.2,104.3h0.7v0.7h-0.7zM494.4,102.6h0.7v0.7h-0.7zM491.8,103.7h0.7v0.7h-0.7zM493.2,108.2h0.7v0.7h-0.7zM497.1,110.2h0.7v0.7h-0.7zM495.2,109.1h0.7v0.7h-0.7zM494.8,104.2h0.7v0.7h-0.7zM492.9,107.3h0.7v0.7h-0.7zM499.0,109.6h0.7v0.7h-0.7zM495.3,107.7h0.7v0.7h-0.7zM495.6,105.7h0.7v0.7h-0.7zM497.3,102.4h0.7v0.7h-0.7zM494.2,103.4h0.7v0.7h-0.7zM494.2,102.1h0.7v0.7h-0.7zM496.4,102.8h0.7v0.7h-0.7zM493.6,114.6h0.7v0.7h-0.7zM490.9,102.9h0.7v0.7h-0.7zM501.0,108.7h0.7v0.7h-0.7zM498.1,103.4h0.7v0.7h-0.7zM497.0,105.9h0.7v0.7h-0.7zM490.1,107.3h0.7v0.7h-0.7zM493.2,109.8h0.7v0.7h-0.7zM495.5,107.3h0.7v0.7h-0.7zM493.6,103.9h0.7v0.7h-0.7zM490.0,106.5h0.7v0.7h-0.7zM496.2,102.9h0.7v0.7h-0.7zM496.6,102.2h0.7v0.7h-0.7zM498.3,104.1h0.7v0.7h-0.7zM494.7,106.0h0.7v0.7h-0.7zM495.4,110.1h0.7v0.7h-0.7zM493.3,108.4h0.7v0.7h-0.7zM492.7,109.7h0.7v0.7h-0.7zM495.3,107.0h0.7v0.7h-0.7zM497.6,105.2h0.7v0.7h-0.7zM487.5,108.4h0.7v0.7h-0.7zM491.1,105.6h0.7v0.7h-0.7zM494.9,102.6h0.7v0.7h-0.7zM496.6,106.2h0.7v0.7h-0.7zM492.7,104.2h0.7v0.7h-0.7zM495.4,106.7h0.7v0.7h-0.7zM490.0,103.2h0.7v0.7h-0.7zM495.3,105.0h0.7v0.7h-0.7zM493.2,103.5h0.7v0.7h-0.7zM489.4,107.3h0.7v0.7h-0.7zM497.2,106.5h0.7v0.7h-0.7zM495.0,114.0h0.7v0.7h-0.7zM489.6,107.3h0.7v0.7h-0.7zM494.4,103.7h0.7v0.7h-0.7zM494.5,103.0h0.7v0.7h-0.7zM490.7,103.6h0.7v0.7h-0.7zM496.8,107.7h0.7v0.7h-0.7zM493.5,102.0h0.7v0.7h-0.7zM496.5,105.5h0.7v0.7h-0.7zM497.7,103.7h0.7v0.7h-0.7zM494.8,103.1h0.7v0.7h-0.7zM492.3,108.3h0.7v0.7h-0.7zM496.1,102.0h0.7v0.7h-0.7zM496.3,106.2h0.7v0.7h-0.7zM491.7,102.8h0.7v0.7h-0.7zM492.2,111.9h0.7v0.7h-0.7zM496.8,102.7h0.7v0.7h-0.7zM494.3,108.7h0.7v0.7h-0.7zM490.9,108.4h0.7v0.7h-0.7zM492.7,104.0h0.7v0.7h-0.7zM494.3,106.4h0.7v0.7h-0.7zM490.1,107.8h0.7v0.7h-0.7zM492.9,104.2h0.7v0.7h-0.7zM492.8,103.3h0.7v0.7h-0.7zM493.5,102.3h0.7v0.7h-0.7zM496.3,111.0h0.7v0.7h-0.7zM491.3,105.0h0.7v0.7h-0.7zM495.1,103.7h0.7v0.7h-0.7zM493.8,106.3h0.7v0.7h-0.7zM494.1,107.4h0.7v0.7h-0.7zM496.4,103.0h0.7v0.7h-0.7zM495.3,103.0h0.7v0.7h-0.7zM489.0,108.8h0.7v0.7h-0.7zM492.0,108.3h0.7v0.7h-0.7zM490.7,102.6h0.7v0.7h-0.7zM494.8,105.1h0.7v0.7h-0.7zM495.3,105.0h0.7v0.7h-0.7zM492.6,105.6h0.7v0.7h-0.7zM494.3,105.6h0.7v0.7h-0.7zM491.9,105.1h0.7v0.7h-0.7zM492.8,104.5h0.7v0.7h-0.7zM493.0,105.1h0.7v0.7h-0.7zM495.0,105.9h0.7v0.7h-0.7zM493.5,104.7h0.7v0.7h-0.7zM491.9,103.7h0.7v0.7h-0.7zM492.8,107.0h0.7v0.7h-0.7zM491.2,106.0h0.7v0.7h-0.7zM495.9,103.9h0.7v0.7h-0.7zM495.1,104.8h0.7v0.7h-0.7zM490.0,104.8h0.7v0.7h-0.7zM496.4,102.6h0.7v0.7h-0.7zM492.6,103.7h0.7v0.7h-0.7zM494.0,104.7h0.7v0.7h-0.7zM492.4,103.7h0.7v0.7h-0.7zM492.9,110.2h0.7v0.7h-0.7zM494.9,108.5h0.7v0.7h-0.7zM489.2,109.4h0.7v0.7h-0.7zM488.1,108.7h0.7v0.7h-0.7zM493.3,107.5h0.7v0.7h-0.7zM494.9,103.6h0.7v0.7h-0.7zM489.8,105.0h0.7v0.7h-0.7zM493.4,102.7h0.7v0.7h-0.7zM490.3,109.2h0.7v0.7h-0.7zM491.7,103.8h0.7v0.7h-0.7zM494.0,111.1h0.7v0.7h-0.7zM498.5,104.6h0.7v0.7h-0.7zM493.3,108.2h0.7v0.7h-0.7zM496.5,110.6h0.7v0.7h-0.7zM494.2,105.4h0.7v0.7h-0.7zM497.6,110.6h0.7v0.7h-0.7zM491.9,103.7h0.7v0.7h-0.7zM491.7,105.1h0.7v0.7h-0.7zM496.6,109.9h0.7v0.7h-0.7zM489.7,105.6h0.7v0.7h-0.7zM494.7,106.2h0.7v0.7h-0.7zM495.2,108.2h0.7v0.7h-0.7zM498.2,105.1h0.7v0.7h-0.7zM492.4,106.7h0.7v0.7h-0.7zM495.5,104.6h0.7v0.7h-0.7zM498.2,109.8h0.7v0.7h-0.7zM500.2,102.9h0.7v0.7h-0.7zM493.2,102.8h0.7v0.7h-0.7z" fill="#ff2020" fill-opacity="0.3"/>
<ellipse cx="497" cy="95.5" rx="4" ry="7.5" fill="#ff3cf0" fill-opacity="0.22" filter="url(#bl1)"/>
<ellipse cx="496.9" cy="96" rx="2.5" ry="5.8" fill="#ff3cf0" filter="url(#bl2)"/>
<path d="M492,102 L494.3,89.6 L495.2,89.8 L494.6,102 Z" fill="#1c64ff" filter="url(#bl2)"/>
<rect x="436.3" y="102.3" width="71.30000000000001" height="28.89999999999999" fill="none" stroke="#1a1a1a" stroke-width="0.9" />
<text transform="translate(336.2,113.4) rotate(-90)" font-size="9.0" text-anchor="middle" fill="#161616">Rh-123</text>
<line x1="333" y1="96.5" x2="333" y2="58.5" stroke="#111" stroke-width="1" />
<path d="M333,54.8 L330.8,59.3 L335.2,59.3 Z" fill="#111"/>
<text x="342.6" y="148.6" font-size="8.0" text-anchor="start" font-weight="normal" fill="#161616" >CellTrace</text>
<line x1="379" y1="145.6" x2="476" y2="145.6" stroke="#111" stroke-width="1" />
<path d="M480,145.6 L475.5,143.4 L475.5,147.8 Z" fill="#111"/>
<text x="59.4" y="200.4" font-size="7.9" text-anchor="start" font-weight="normal" fill="#161616" >Day 3 - MLC</text>
<line x1="41.8" y1="207.6" x2="41.8" y2="264.2" stroke="#1a1a1a" stroke-width="1.1" />
<line x1="38.599999999999994" y1="263.7" x2="123.3" y2="263.7" stroke="#2a2a2a" stroke-width="1.4" />
<line x1="38.599999999999994" y1="263.7" x2="41.8" y2="263.7" stroke="#222" stroke-width="0.9" />
<text transform="translate(35.599999999999994,265.86) scale(1.0,1)" font-size="6.0" text-anchor="end" fill="#161616">0</text>
<line x1="38.599999999999994" y1="253.04" x2="41.8" y2="253.04" stroke="#222" stroke-width="0.9" />
<text transform="translate(35.599999999999994,255.2) scale(1.0,1)" font-size="6.0" text-anchor="end" fill="#161616">20</text>
<line x1="38.599999999999994" y1="242.38" x2="41.8" y2="242.38" stroke="#222" stroke-width="0.9" />
<text transform="translate(35.599999999999994,244.54) scale(1.0,1)" font-size="6.0" text-anchor="end" fill="#161616">40</text>
<line x1="38.599999999999994" y1="231.72" x2="41.8" y2="231.72" stroke="#222" stroke-width="0.9" />
<text transform="translate(35.599999999999994,233.88) scale(1.0,1)" font-size="6.0" text-anchor="end" fill="#161616">60</text>
<line x1="38.599999999999994" y1="221.06" x2="41.8" y2="221.06" stroke="#222" stroke-width="0.9" />
<text transform="translate(35.599999999999994,223.22) scale(1.0,1)" font-size="6.0" text-anchor="end" fill="#161616">80</text>
<line x1="38.599999999999994" y1="210.4" x2="41.8" y2="210.4" stroke="#222" stroke-width="0.9" />
<text transform="translate(35.599999999999994,212.56) scale(1.0,1)" font-size="6.0" text-anchor="end" fill="#161616">100</text>
<text class="vl" transform="translate(18.5,237) rotate(-90) scale(0.73,1)" font-size="9.0" text-anchor="middle" fill="#161616">% Rh-123 effluxing</text>
<line x1="50.4" y1="263.7" x2="50.4" y2="266.7" stroke="#333" stroke-width="1.0" />
<line x1="63" y1="263.7" x2="63" y2="266.7" stroke="#333" stroke-width="1.0" />
<line x1="75.6" y1="263.7" x2="75.6" y2="266.7" stroke="#333" stroke-width="1.0" />
<line x1="88.3" y1="263.7" x2="88.3" y2="266.7" stroke="#333" stroke-width="1.0" />
<line x1="100.9" y1="263.7" x2="100.9" y2="266.7" stroke="#333" stroke-width="1.0" />
<line x1="113.5" y1="263.7" x2="113.5" y2="266.7" stroke="#333" stroke-width="1.0" />
<line x1="50.5" y1="262" x2="50.5" y2="262" stroke="#2a2a2a" stroke-width="0.9" />
<line x1="50.5" y1="263.7" x2="50.5" y2="263.7" stroke="#2a2a2a" stroke-width="0.9" />
<line x1="49.0" y1="262" x2="52.0" y2="262" stroke="#2a2a2a" stroke-width="0.9" />
<line x1="49.0" y1="263.7" x2="52.0" y2="263.7" stroke="#2a2a2a" stroke-width="0.9" />
<rect x="47" y="262" width="7" height="1.6999999999999886" fill="#ea9cb0" stroke="#d0102e" stroke-width="0.35" stroke-opacity="0.6"/>
<circle cx="48" cy="262.6" r="1.3" fill="#d0102e"/>
<circle cx="50.4" cy="262" r="1.3" fill="#d0102e"/>
<circle cx="52.8" cy="262.8" r="1.3" fill="#d0102e"/>
<line x1="63.099999999999994" y1="261" x2="63.099999999999994" y2="261.6" stroke="#2a2a2a" stroke-width="0.9" />
<line x1="63.099999999999994" y1="263.7" x2="63.099999999999994" y2="263.7" stroke="#2a2a2a" stroke-width="0.9" />
<line x1="61.599999999999994" y1="261" x2="64.6" y2="261" stroke="#2a2a2a" stroke-width="0.9" />
<line x1="61.599999999999994" y1="263.7" x2="64.6" y2="263.7" stroke="#2a2a2a" stroke-width="0.9" />
<rect x="59.6" y="261.6" width="6.999999999999993" height="2.099999999999966" fill="#8cb0d3" stroke="#1d4f8c" stroke-width="0.35" stroke-opacity="0.6"/>
<circle cx="60.5" cy="262.3" r="1.3" fill="#1d4f8c"/>
<circle cx="63" cy="261.6" r="1.3" fill="#1d4f8c"/>
<circle cx="65.5" cy="262.3" r="1.3" fill="#1d4f8c"/>
<circle cx="63" cy="263" r="1.3" fill="#1d4f8c"/>
<text x="75.6" y="261.4" font-size="8.2" text-anchor="middle" font-weight="normal" fill="#161616" >NE</text>
<line x1="88.7" y1="241.3" x2="88.7" y2="245.5" stroke="#2a2a2a" stroke-width="0.9" />
<line x1="88.7" y1="254.4" x2="88.7" y2="256.7" stroke="#2a2a2a" stroke-width="0.9" />
<line x1="86.7" y1="241.3" x2="90.7" y2="241.3" stroke="#2a2a2a" stroke-width="0.9" />
<line x1="86.7" y1="256.7" x2="90.7" y2="256.7" stroke="#2a2a2a" stroke-width="0.9" />
<rect x="84.9" y="245.5" width="7.599999999999994" height="8.900000000000006" fill="#ea9cb0" stroke="#d0102e" stroke-width="0.35" stroke-opacity="0.6"/>
<line x1="84.9" y1="251" x2="92.5" y2="251" stroke="#111" stroke-width="1" />
<circle cx="88.7" cy="241.3" r="1.3" fill="#d0102e"/>
<circle cx="88.7" cy="248" r="1.3" fill="#d0102e"/>
<circle cx="86" cy="251" r="1.3" fill="#d0102e"/>
<circle cx="91" cy="251.5" r="1.3" fill="#d0102e"/>
<circle cx="88.7" cy="256.7" r="1.3" fill="#d0102e"/>
<line x1="101.1" y1="221.6" x2="101.1" y2="228" stroke="#2a2a2a" stroke-width="0.9" />
<line x1="101.1" y1="247.4" x2="101.1" y2="250.2" stroke="#2a2a2a" stroke-width="0.9" />
<line x1="99.1" y1="221.6" x2="103.1" y2="221.6" stroke="#2a2a2a" stroke-width="0.9" />
<line x1="99.1" y1="250.2" x2="103.1" y2="250.2" stroke="#2a2a2a" stroke-width="0.9" />
<rect x="97.2" y="228" width="7.799999999999997" height="19.400000000000006" fill="#8cb0d3" stroke="#1d4f8c" stroke-width="0.35" stroke-opacity="0.6"/>
<line x1="97.2" y1="242" x2="105" y2="242" stroke="#111" stroke-width="1" />
<circle cx="101.1" cy="221.6" r="1.3" fill="#1d4f8c"/>
<circle cx="101.1" cy="232" r="1.3" fill="#1d4f8c"/>
<circle cx="101.1" cy="242.5" r="1.3" fill="#1d4f8c"/>
<circle cx="101.1" cy="250.2" r="1.3" fill="#1d4f8c"/>
<text x="113.7" y="261.4" font-size="8.2" text-anchor="middle" font-weight="normal" fill="#161616" >NE</text>
<text class="rl" transform="translate(52.9,271.9) rotate(-45) scale(1.0,1)" font-size="6.0" text-anchor="end" fill="#161616">Non-proliferating +CsA</text>
<text class="rl" transform="translate(65.5,271.9) rotate(-45) scale(1.0,1)" font-size="6.0" text-anchor="end" fill="#161616">1st generation +CsA</text>
<text class="rl" transform="translate(78.1,271.9) rotate(-45) scale(1.0,1)" font-size="6.0" text-anchor="end" fill="#161616">2+ generations +CsA</text>
<text class="rl" transform="translate(90.8,271.9) rotate(-45) scale(1.0,1)" font-size="6.0" text-anchor="end" fill="#161616">Non-proliferating −CsA</text>
<text class="rl" transform="translate(103.4,271.9) rotate(-45) scale(1.0,1)" font-size="6.0" text-anchor="end" fill="#161616">1st generation −CsA</text>
<text class="rl" transform="translate(116.0,271.9) rotate(-45) scale(1.0,1)" font-size="6.0" text-anchor="end" fill="#161616">2+ generations −CsA</text>
<text x="167.5" y="200.5" font-size="7.9" text-anchor="start" font-weight="normal" fill="#161616" >Day 3 - Bead-stimulated</text>
<line x1="169.4" y1="206.3" x2="169.4" y2="264.2" stroke="#1a1a1a" stroke-width="1.1" />
<line x1="166.20000000000002" y1="263.7" x2="250" y2="263.7" stroke="#2a2a2a" stroke-width="1.4" />
<line x1="166.20000000000002" y1="263.7" x2="169.4" y2="263.7" stroke="#222" stroke-width="0.9" />
<text transform="translate(163.20000000000002,265.86) scale(1.0,1)" font-size="6.0" text-anchor="end" fill="#161616">0</text>
<line x1="166.20000000000002" y1="253.0" x2="169.4" y2="253.0" stroke="#222" stroke-width="0.9" />
<text transform="translate(163.20000000000002,255.16) scale(1.0,1)" font-size="6.0" text-anchor="end" fill="#161616">20</text>
<line x1="166.20000000000002" y1="242.29999999999998" x2="169.4" y2="242.29999999999998" stroke="#222" stroke-width="0.9" />
<text transform="translate(163.20000000000002,244.45999999999998) scale(1.0,1)" font-size="6.0" text-anchor="end" fill="#161616">40</text>
<line x1="166.20000000000002" y1="231.6" x2="169.4" y2="231.6" stroke="#222" stroke-width="0.9" />
<text transform="translate(163.20000000000002,233.76) scale(1.0,1)" font-size="6.0" text-anchor="end" fill="#161616">60</text>
<line x1="166.20000000000002" y1="220.89999999999998" x2="169.4" y2="220.89999999999998" stroke="#222" stroke-width="0.9" />
<text transform="translate(163.20000000000002,223.05999999999997) scale(1.0,1)" font-size="6.0" text-anchor="end" fill="#161616">80</text>
<line x1="166.20000000000002" y1="210.2" x2="169.4" y2="210.2" stroke="#222" stroke-width="0.9" />
<text transform="translate(163.20000000000002,212.35999999999999) scale(1.0,1)" font-size="6.0" text-anchor="end" fill="#161616">100</text>
<text class="vl" transform="translate(146.5,237) rotate(-90) scale(0.73,1)" font-size="9.0" text-anchor="middle" fill="#161616">% Rh-123 effluxing</text>
<line x1="178.3" y1="263.7" x2="178.3" y2="266.7" stroke="#333" stroke-width="1.0" />
<line x1="190.5" y1="263.7" x2="190.5" y2="266.7" stroke="#333" stroke-width="1.0" />
<line x1="203" y1="263.7" x2="203" y2="266.7" stroke="#333" stroke-width="1.0" />
<line x1="215.5" y1="263.7" x2="215.5" y2="266.7" stroke="#333" stroke-width="1.0" />
<line x1="228" y1="263.7" x2="228" y2="266.7" stroke="#333" stroke-width="1.0" />
<line x1="240.5" y1="263.7" x2="240.5" y2="266.7" stroke="#333" stroke-width="1.0" />
<line x1="178.5" y1="261.8" x2="178.5" y2="262.4" stroke="#2a2a2a" stroke-width="0.9" />
<line x1="178.5" y1="263.7" x2="178.5" y2="263.7" stroke="#2a2a2a" stroke-width="0.9" />
<line x1="177.0" y1="261.8" x2="180.0" y2="261.8" stroke="#2a2a2a" stroke-width="0.9" />
<line x1="177.0" y1="263.7" x2="180.0" y2="263.7" stroke="#2a2a2a" stroke-width="0.9" />
<rect x="175" y="262.4" width="7" height="1.3000000000000114" fill="#ea9cb0" stroke="#d0102e" stroke-width="0.35" stroke-opacity="0.6"/>
<circle cx="176" cy="262.6" r="1.3" fill="#d0102e"/>
<circle cx="178.3" cy="261.8" r="1.3" fill="#d0102e"/>
<circle cx="180.8" cy="262.6" r="1.3" fill="#d0102e"/>
<line x1="190.5" y1="262" x2="190.5" y2="262.2" stroke="#2a2a2a" stroke-width="0.9" />
<line x1="190.5" y1="263.7" x2="190.5" y2="263.7" stroke="#2a2a2a" stroke-width="0.9" />
<line x1="189.0" y1="262" x2="192.0" y2="262" stroke="#2a2a2a" stroke-width="0.9" />
<line x1="189.0" y1="263.7" x2="192.0" y2="263.7" stroke="#2a2a2a" stroke-width="0.9" />
<rect x="187" y="262.2" width="7" height="1.5" fill="#8cb0d3" stroke="#1d4f8c" stroke-width="0.35" stroke-opacity="0.6"/>
<circle cx="188" cy="262.8" r="1.3" fill="#1d4f8c"/>
<circle cx="190.5" cy="262.4" r="1.3" fill="#1d4f8c"/>
<circle cx="193" cy="262.8" r="1.3" fill="#1d4f8c"/>
<line x1="203.0" y1="262.8" x2="203.0" y2="262.8" stroke="#2a2a2a" stroke-width="0.9" />
<line x1="203.0" y1="263.7" x2="203.0" y2="263.7" stroke="#2a2a2a" stroke-width="0.9" />
<line x1="201.5" y1="262.8" x2="204.5" y2="262.8" stroke="#2a2a2a" stroke-width="0.9" />
<line x1="201.5" y1="263.7" x2="204.5" y2="263.7" stroke="#2a2a2a" stroke-width="0.9" />
<rect x="199.5" y="262.8" width="7.0" height="0.8999999999999773" fill="#a6e2ae" stroke="#22b24a" stroke-width="0.35" stroke-opacity="0.6"/>
<circle cx="200.5" cy="263" r="1.3" fill="#22b24a"/>
<circle cx="203" cy="263" r="1.3" fill="#22b24a"/>
<circle cx="205.5" cy="263" r="1.3" fill="#22b24a"/>
<line x1="215.1" y1="247.3" x2="215.1" y2="251.2" stroke="#2a2a2a" stroke-width="0.9" />
<line x1="215.1" y1="257" x2="215.1" y2="258" stroke="#2a2a2a" stroke-width="0.9" />
<line x1="213.1" y1="247.3" x2="217.1" y2="247.3" stroke="#2a2a2a" stroke-width="0.9" />
<line x1="213.1" y1="258" x2="217.1" y2="258" stroke="#2a2a2a" stroke-width="0.9" />
<rect x="211.5" y="251.2" width="7.199999999999989" height="5.800000000000011" fill="#ea9cb0" stroke="#d0102e" stroke-width="0.35" stroke-opacity="0.6"/>
<circle cx="215.1" cy="247.3" r="1.3" fill="#d0102e"/>
<circle cx="215.1" cy="253" r="1.3" fill="#d0102e"/>
<circle cx="212.5" cy="257" r="1.3" fill="#d0102e"/>
<circle cx="217.5" cy="257" r="1.3" fill="#d0102e"/>
<line x1="228.0" y1="259.5" x2="228.0" y2="260.5" stroke="#2a2a2a" stroke-width="0.9" />
<line x1="228.0" y1="263.2" x2="228.0" y2="263.5" stroke="#2a2a2a" stroke-width="0.9" />
<line x1="226.5" y1="259.5" x2="229.5" y2="259.5" stroke="#2a2a2a" stroke-width="0.9" />
<line x1="226.5" y1="263.5" x2="229.5" y2="263.5" stroke="#2a2a2a" stroke-width="0.9" />
<rect x="224.5" y="260.5" width="7.0" height="2.6999999999999886" fill="#8cb0d3" stroke="#1d4f8c" stroke-width="0.35" stroke-opacity="0.6"/>
<circle cx="225.5" cy="261.5" r="1.3" fill="#1d4f8c"/>
<circle cx="228" cy="260.2" r="1.3" fill="#1d4f8c"/>
<circle cx="230.5" cy="261.5" r="1.3" fill="#1d4f8c"/>
<line x1="240.5" y1="262.6" x2="240.5" y2="262.6" stroke="#2a2a2a" stroke-width="0.9" />
<line x1="240.5" y1="263.7" x2="240.5" y2="263.7" stroke="#2a2a2a" stroke-width="0.9" />
<line x1="239.0" y1="262.6" x2="242.0" y2="262.6" stroke="#2a2a2a" stroke-width="0.9" />
<line x1="239.0" y1="263.7" x2="242.0" y2="263.7" stroke="#2a2a2a" stroke-width="0.9" />
<rect x="237" y="262.6" width="7" height="1.099999999999966" fill="#a6e2ae" stroke="#22b24a" stroke-width="0.35" stroke-opacity="0.6"/>
<circle cx="238" cy="263" r="1.3" fill="#22b24a"/>
<circle cx="240.5" cy="263" r="1.3" fill="#22b24a"/>
<circle cx="243" cy="263" r="1.3" fill="#22b24a"/>
<line x1="175.8" y1="253.3" x2="205.2" y2="253.3" stroke="#8c8c8c" stroke-width="1.1" />
<text x="190.5" y="254.9" font-size="6.8" text-anchor="middle" font-weight="normal" fill="#161616" >**</text>
<line x1="187.9" y1="260.8" x2="205.2" y2="260.8" stroke="#8c8c8c" stroke-width="1.1" />
<text x="196.55" y="259.3" font-size="6.8" text-anchor="middle" font-weight="normal" fill="#161616" >ns</text>
<line x1="214.2" y1="245.5" x2="243" y2="245.5" stroke="#8c8c8c" stroke-width="1.1" />
<text x="228.6" y="247.1" font-size="6.8" text-anchor="middle" font-weight="normal" fill="#161616" >****</text>
<line x1="226.3" y1="259.3" x2="243" y2="259.3" stroke="#8c8c8c" stroke-width="1.1" />
<text x="234.65" y="257.8" font-size="6.8" text-anchor="middle" font-weight="normal" fill="#161616" >ns</text>
<text class="rl" transform="translate(180.8,271.9) rotate(-45) scale(1.0,1)" font-size="6.0" text-anchor="end" fill="#161616">Non-proliferating +CsA</text>
<text class="rl" transform="translate(193.0,271.9) rotate(-45) scale(1.0,1)" font-size="6.0" text-anchor="end" fill="#161616">1st generation +CsA</text>
<text class="rl" transform="translate(205.5,271.9) rotate(-45) scale(1.0,1)" font-size="6.0" text-anchor="end" fill="#161616">2+ generations +CsA</text>
<text class="rl" transform="translate(218.0,271.9) rotate(-45) scale(1.0,1)" font-size="6.0" text-anchor="end" fill="#161616">Non-proliferating −CsA</text>
<text class="rl" transform="translate(230.5,271.9) rotate(-45) scale(1.0,1)" font-size="6.0" text-anchor="end" fill="#161616">1st generation −CsA</text>
<text class="rl" transform="translate(243.0,271.9) rotate(-45) scale(1.0,1)" font-size="6.0" text-anchor="end" fill="#161616">2+ generations −CsA</text>
<text x="322.2" y="200.5" font-size="7.9" text-anchor="start" font-weight="normal" fill="#161616" >Day 7 - MLC</text>
<line x1="303.6" y1="206.5" x2="303.6" y2="264.7" stroke="#1a1a1a" stroke-width="1.1" />
<line x1="300.40000000000003" y1="264.2" x2="384.6" y2="264.2" stroke="#2a2a2a" stroke-width="1.4" />
<line x1="300.40000000000003" y1="264.2" x2="303.6" y2="264.2" stroke="#222" stroke-width="0.9" />
<text transform="translate(297.40000000000003,266.36) scale(1.0,1)" font-size="6.0" text-anchor="end" fill="#161616">0</text>
<line x1="300.40000000000003" y1="253.42" x2="303.6" y2="253.42" stroke="#222" stroke-width="0.9" />
<text transform="translate(297.40000000000003,255.57999999999998) scale(1.0,1)" font-size="6.0" text-anchor="end" fill="#161616">20</text>
<line x1="300.40000000000003" y1="242.64" x2="303.6" y2="242.64" stroke="#222" stroke-width="0.9" />
<text transform="translate(297.40000000000003,244.79999999999998) scale(1.0,1)" font-size="6.0" text-anchor="end" fill="#161616">40</text>
<line x1="300.40000000000003" y1="231.86" x2="303.6" y2="231.86" stroke="#222" stroke-width="0.9" />
<text transform="translate(297.40000000000003,234.02) scale(1.0,1)" font-size="6.0" text-anchor="end" fill="#161616">60</text>
<line x1="300.40000000000003" y1="221.08" x2="303.6" y2="221.08" stroke="#222" stroke-width="0.9" />
<text transform="translate(297.40000000000003,223.24) scale(1.0,1)" font-size="6.0" text-anchor="end" fill="#161616">80</text>
<line x1="300.40000000000003" y1="210.3" x2="303.6" y2="210.3" stroke="#222" stroke-width="0.9" />
<text transform="translate(297.40000000000003,212.46) scale(1.0,1)" font-size="6.0" text-anchor="end" fill="#161616">100</text>
<text class="vl" transform="translate(282.5,237.5) rotate(-90) scale(0.73,1)" font-size="9.0" text-anchor="middle" fill="#161616">% Rh-123 effluxing</text>
<line x1="312" y1="264.2" x2="312" y2="267.2" stroke="#333" stroke-width="1.0" />
<line x1="324.8" y1="264.2" x2="324.8" y2="267.2" stroke="#333" stroke-width="1.0" />
<line x1="337.6" y1="264.2" x2="337.6" y2="267.2" stroke="#333" stroke-width="1.0" />
<line x1="350.4" y1="264.2" x2="350.4" y2="267.2" stroke="#333" stroke-width="1.0" />
<line x1="363.2" y1="264.2" x2="363.2" y2="267.2" stroke="#333" stroke-width="1.0" />
<line x1="376" y1="264.2" x2="376" y2="267.2" stroke="#333" stroke-width="1.0" />
<line x1="312.0" y1="263" x2="312.0" y2="263" stroke="#2a2a2a" stroke-width="0.9" />
<line x1="312.0" y1="264.2" x2="312.0" y2="264.2" stroke="#2a2a2a" stroke-width="0.9" />
<line x1="310.5" y1="263" x2="313.5" y2="263" stroke="#2a2a2a" stroke-width="0.9" />
<line x1="310.5" y1="264.2" x2="313.5" y2="264.2" stroke="#2a2a2a" stroke-width="0.9" />
<rect x="308.5" y="263" width="7.0" height="1.1999999999999886" fill="#ea9cb0" stroke="#d0102e" stroke-width="0.35" stroke-opacity="0.6"/>
<circle cx="309.5" cy="263.4" r="1.3" fill="#d0102e"/>
<circle cx="312" cy="263.4" r="1.3" fill="#d0102e"/>
<circle cx="314.5" cy="263.4" r="1.3" fill="#d0102e"/>
<line x1="324.8" y1="262" x2="324.8" y2="262.4" stroke="#2a2a2a" stroke-width="0.9" />
<line x1="324.8" y1="264.2" x2="324.8" y2="264.2" stroke="#2a2a2a" stroke-width="0.9" />
<line x1="323.3" y1="262" x2="326.3" y2="262" stroke="#2a2a2a" stroke-width="0.9" />
<line x1="323.3" y1="264.2" x2="326.3" y2="264.2" stroke="#2a2a2a" stroke-width="0.9" />
<rect x="321.3" y="262.4" width="7.0" height="1.8000000000000114" fill="#8cb0d3" stroke="#1d4f8c" stroke-width="0.35" stroke-opacity="0.6"/>
<circle cx="322.3" cy="263" r="1.3" fill="#1d4f8c"/>
<circle cx="324.8" cy="262.3" r="1.3" fill="#1d4f8c"/>
<circle cx="327.3" cy="263" r="1.3" fill="#1d4f8c"/>
<line x1="337.6" y1="261.5" x2="337.6" y2="262.5" stroke="#2a2a2a" stroke-width="0.9" />
<line x1="337.6" y1="264.2" x2="337.6" y2="264.2" stroke="#2a2a2a" stroke-width="0.9" />
<line x1="336.1" y1="261.5" x2="339.1" y2="261.5" stroke="#2a2a2a" stroke-width="0.9" />
<line x1="336.1" y1="264.2" x2="339.1" y2="264.2" stroke="#2a2a2a" stroke-width="0.9" />
<rect x="334.1" y="262.5" width="7.0" height="1.6999999999999886" fill="#a6e2ae" stroke="#22b24a" stroke-width="0.35" stroke-opacity="0.6"/>
<circle cx="335" cy="263" r="1.3" fill="#22b24a"/>
<circle cx="337.6" cy="262" r="1.3" fill="#22b24a"/>
<circle cx="340.2" cy="263" r="1.3" fill="#22b24a"/>
<line x1="350.75" y1="244" x2="350.75" y2="246" stroke="#2a2a2a" stroke-width="0.9" />
<line x1="350.75" y1="255.6" x2="350.75" y2="257.5" stroke="#2a2a2a" stroke-width="0.9" />
<line x1="348.75" y1="244" x2="352.75" y2="244" stroke="#2a2a2a" stroke-width="0.9" />
<line x1="348.75" y1="257.5" x2="352.75" y2="257.5" stroke="#2a2a2a" stroke-width="0.9" />
<rect x="347" y="246" width="7.5" height="9.599999999999994" fill="#ea9cb0" stroke="#d0102e" stroke-width="0.35" stroke-opacity="0.6"/>
<line x1="347" y1="250" x2="354.5" y2="250" stroke="#111" stroke-width="1" />
<circle cx="350.7" cy="244" r="1.3" fill="#d0102e"/>
<circle cx="353" cy="244.8" r="1.3" fill="#d0102e"/>
<circle cx="348.5" cy="246.5" r="1.3" fill="#d0102e"/>
<circle cx="350.7" cy="255.6" r="1.3" fill="#d0102e"/>
<circle cx="350.7" cy="257.5" r="1.3" fill="#d0102e"/>
<line x1="363.79999999999995" y1="230.6" x2="363.79999999999995" y2="231.4" stroke="#2a2a2a" stroke-width="0.9" />
<line x1="363.79999999999995" y1="248.6" x2="363.79999999999995" y2="250.8" stroke="#2a2a2a" stroke-width="0.9" />
<line x1="361.79999999999995" y1="230.6" x2="365.79999999999995" y2="230.6" stroke="#2a2a2a" stroke-width="0.9" />
<line x1="361.79999999999995" y1="250.8" x2="365.79999999999995" y2="250.8" stroke="#2a2a2a" stroke-width="0.9" />
<rect x="359.9" y="231.4" width="7.800000000000011" height="17.19999999999999" fill="#8cb0d3" stroke="#1d4f8c" stroke-width="0.35" stroke-opacity="0.6"/>
<line x1="359.9" y1="240.5" x2="367.7" y2="240.5" stroke="#111" stroke-width="1" />
<circle cx="363.8" cy="230.6" r="1.3" fill="#1d4f8c"/>
<circle cx="363.8" cy="236" r="1.3" fill="#1d4f8c"/>
<circle cx="363.8" cy="244" r="1.3" fill="#1d4f8c"/>
<circle cx="363.8" cy="250.8" r="1.3" fill="#1d4f8c"/>
<line x1="376.55" y1="254" x2="376.55" y2="256.2" stroke="#2a2a2a" stroke-width="0.9" />
<line x1="376.55" y1="263" x2="376.55" y2="263.5" stroke="#2a2a2a" stroke-width="0.9" />
<line x1="374.55" y1="254" x2="378.55" y2="254" stroke="#2a2a2a" stroke-width="0.9" />
<line x1="374.55" y1="263.5" x2="378.55" y2="263.5" stroke="#2a2a2a" stroke-width="0.9" />
<rect x="372.5" y="256.2" width="8.100000000000023" height="6.800000000000011" fill="#a6e2ae" stroke="#22b24a" stroke-width="0.35" stroke-opacity="0.6"/>
<line x1="372.5" y1="261.5" x2="380.6" y2="261.5" stroke="#111" stroke-width="1" />
<circle cx="376.5" cy="254" r="1.3" fill="#22b24a"/>
<circle cx="374" cy="258" r="1.3" fill="#22b24a"/>
<circle cx="379" cy="259" r="1.3" fill="#22b24a"/>
<circle cx="376.5" cy="262.5" r="1.3" fill="#22b24a"/>
<line x1="349.6" y1="223.2" x2="377.9" y2="223.2" stroke="#8c8c8c" stroke-width="1.1" />
<text x="363.75" y="224.79999999999998" font-size="6.8" text-anchor="middle" font-weight="normal" fill="#161616" >*</text>
<line x1="362.5" y1="227.5" x2="377.9" y2="227.5" stroke="#8c8c8c" stroke-width="1.1" />
<text x="370.2" y="229.1" font-size="6.8" text-anchor="middle" font-weight="normal" fill="#161616" >**</text>
<line x1="310.6" y1="254.3" x2="340.2" y2="254.3" stroke="#8c8c8c" stroke-width="1.1" />
<text x="325.4" y="252.8" font-size="6.8" text-anchor="middle" font-weight="normal" fill="#161616" >ns</text>
<line x1="324" y1="261.5" x2="340.2" y2="261.5" stroke="#8c8c8c" stroke-width="1.1" />
<text x="332.1" y="260.0" font-size="6.8" text-anchor="middle" font-weight="normal" fill="#161616" >ns</text>
<text class="rl" transform="translate(314.5,272.4) rotate(-45) scale(1.0,1)" font-size="6.0" text-anchor="end" fill="#161616">Non-proliferating +CsA</text>
<text class="rl" transform="translate(327.3,272.4) rotate(-45) scale(1.0,1)" font-size="6.0" text-anchor="end" fill="#161616">1st generation +CsA</text>
<text class="rl" transform="translate(340.1,272.4) rotate(-45) scale(1.0,1)" font-size="6.0" text-anchor="end" fill="#161616">2+ generations +CsA</text>
<text class="rl" transform="translate(352.9,272.4) rotate(-45) scale(1.0,1)" font-size="6.0" text-anchor="end" fill="#161616">Non-proliferating −CsA</text>
<text class="rl" transform="translate(365.7,272.4) rotate(-45) scale(1.0,1)" font-size="6.0" text-anchor="end" fill="#161616">1st generation −CsA</text>
<text class="rl" transform="translate(378.5,272.4) rotate(-45) scale(1.0,1)" font-size="6.0" text-anchor="end" fill="#161616">2+ generations −CsA</text>
<text x="429" y="200.5" font-size="7.9" text-anchor="start" font-weight="normal" fill="#161616" >Day 7 - Bead-stimulated</text>
<line x1="428.3" y1="207.2" x2="428.3" y2="264.7" stroke="#1a1a1a" stroke-width="1.1" />
<line x1="425.1" y1="264.2" x2="509.8" y2="264.2" stroke="#2a2a2a" stroke-width="1.4" />
<line x1="425.1" y1="264.2" x2="428.3" y2="264.2" stroke="#222" stroke-width="0.9" />
<text transform="translate(424.3,266.36) scale(1.0,1)" font-size="6.0" text-anchor="end" fill="#161616">0</text>
<line x1="425.1" y1="253.44" x2="428.3" y2="253.44" stroke="#222" stroke-width="0.9" />
<text transform="translate(424.3,255.6) scale(1.0,1)" font-size="6.0" text-anchor="end" fill="#161616">20</text>
<line x1="425.1" y1="242.68" x2="428.3" y2="242.68" stroke="#222" stroke-width="0.9" />
<text transform="translate(424.3,244.84) scale(1.0,1)" font-size="6.0" text-anchor="end" fill="#161616">40</text>
<line x1="425.1" y1="231.92" x2="428.3" y2="231.92" stroke="#222" stroke-width="0.9" />
<text transform="translate(424.3,234.07999999999998) scale(1.0,1)" font-size="6.0" text-anchor="end" fill="#161616">60</text>
<line x1="425.1" y1="221.16" x2="428.3" y2="221.16" stroke="#222" stroke-width="0.9" />
<text transform="translate(424.3,223.32) scale(1.0,1)" font-size="6.0" text-anchor="end" fill="#161616">80</text>
<line x1="425.1" y1="210.4" x2="428.3" y2="210.4" stroke="#222" stroke-width="0.9" />
<text transform="translate(424.3,212.56) scale(1.0,1)" font-size="6.0" text-anchor="end" fill="#161616">100</text>
<text class="vl" transform="translate(410,237.5) rotate(-90) scale(0.73,1)" font-size="9.0" text-anchor="middle" fill="#161616">% Rh-123 effluxing</text>
<line x1="435.2" y1="264.2" x2="435.2" y2="267.2" stroke="#333" stroke-width="1.0" />
<line x1="448.2" y1="264.2" x2="448.2" y2="267.2" stroke="#333" stroke-width="1.0" />
<line x1="461.3" y1="264.2" x2="461.3" y2="267.2" stroke="#333" stroke-width="1.0" />
<line x1="474.3" y1="264.2" x2="474.3" y2="267.2" stroke="#333" stroke-width="1.0" />
<line x1="487.4" y1="264.2" x2="487.4" y2="267.2" stroke="#333" stroke-width="1.0" />
<line x1="500.4" y1="264.2" x2="500.4" y2="267.2" stroke="#333" stroke-width="1.0" />
<line x1="435.2" y1="260.8" x2="435.2" y2="261.2" stroke="#2a2a2a" stroke-width="0.9" />
<line x1="435.2" y1="263.8" x2="435.2" y2="264" stroke="#2a2a2a" stroke-width="0.9" />
<line x1="433.7" y1="260.8" x2="436.7" y2="260.8" stroke="#2a2a2a" stroke-width="0.9" />
<line x1="433.7" y1="264" x2="436.7" y2="264" stroke="#2a2a2a" stroke-width="0.9" />
<rect x="431.7" y="261.2" width="7.0" height="2.6000000000000227" fill="#ea9cb0" stroke="#d0102e" stroke-width="0.35" stroke-opacity="0.6"/>
<circle cx="432.5" cy="262" r="1.3" fill="#d0102e"/>
<circle cx="435.2" cy="261" r="1.3" fill="#d0102e"/>
<circle cx="437.8" cy="262.3" r="1.3" fill="#d0102e"/>
<line x1="448.2" y1="261.8" x2="448.2" y2="262.2" stroke="#2a2a2a" stroke-width="0.9" />
<line x1="448.2" y1="264.2" x2="448.2" y2="264.2" stroke="#2a2a2a" stroke-width="0.9" />
<line x1="446.7" y1="261.8" x2="449.7" y2="261.8" stroke="#2a2a2a" stroke-width="0.9" />
<line x1="446.7" y1="264.2" x2="449.7" y2="264.2" stroke="#2a2a2a" stroke-width="0.9" />
<rect x="444.7" y="262.2" width="7.0" height="2.0" fill="#8cb0d3" stroke="#1d4f8c" stroke-width="0.35" stroke-opacity="0.6"/>
<circle cx="445.5" cy="263" r="1.3" fill="#1d4f8c"/>
<circle cx="448.2" cy="262.2" r="1.3" fill="#1d4f8c"/>
<circle cx="450.9" cy="263" r="1.3" fill="#1d4f8c"/>
<line x1="461.3" y1="263" x2="461.3" y2="263" stroke="#2a2a2a" stroke-width="0.9" />
<line x1="461.3" y1="264.2" x2="461.3" y2="264.2" stroke="#2a2a2a" stroke-width="0.9" />
<line x1="459.8" y1="263" x2="462.8" y2="263" stroke="#2a2a2a" stroke-width="0.9" />
<line x1="459.8" y1="264.2" x2="462.8" y2="264.2" stroke="#2a2a2a" stroke-width="0.9" />
<rect x="457.8" y="263" width="7.0" height="1.1999999999999886" fill="#a6e2ae" stroke="#22b24a" stroke-width="0.35" stroke-opacity="0.6"/>
<circle cx="459" cy="263.4" r="1.3" fill="#22b24a"/>
<circle cx="461.3" cy="263.4" r="1.3" fill="#22b24a"/>
<circle cx="463.6" cy="263.4" r="1.3" fill="#22b24a"/>
<line x1="474.65" y1="244" x2="474.65" y2="246" stroke="#2a2a2a" stroke-width="0.9" />
<line x1="474.65" y1="255.6" x2="474.65" y2="256.5" stroke="#2a2a2a" stroke-width="0.9" />
<line x1="472.65" y1="244" x2="476.65" y2="244" stroke="#2a2a2a" stroke-width="0.9" />
<line x1="472.65" y1="256.5" x2="476.65" y2="256.5" stroke="#2a2a2a" stroke-width="0.9" />
<rect x="471" y="246" width="7.300000000000011" height="9.599999999999994" fill="#ea9cb0" stroke="#d0102e" stroke-width="0.35" stroke-opacity="0.6"/>
<line x1="471" y1="250.8" x2="478.3" y2="250.8" stroke="#111" stroke-width="1" />
<circle cx="474.6" cy="244" r="1.3" fill="#d0102e"/>
<circle cx="472" cy="247" r="1.3" fill="#d0102e"/>
<circle cx="477" cy="249" r="1.3" fill="#d0102e"/>
<circle cx="474.6" cy="255.6" r="1.3" fill="#d0102e"/>
<line x1="487.45" y1="248.6" x2="487.45" y2="250" stroke="#2a2a2a" stroke-width="0.9" />
<line x1="487.45" y1="256.7" x2="487.45" y2="257.5" stroke="#2a2a2a" stroke-width="0.9" />
<line x1="485.45" y1="248.6" x2="489.45" y2="248.6" stroke="#2a2a2a" stroke-width="0.9" />
<line x1="485.45" y1="257.5" x2="489.45" y2="257.5" stroke="#2a2a2a" stroke-width="0.9" />
<rect x="483.7" y="250" width="7.5" height="6.699999999999989" fill="#8cb0d3" stroke="#1d4f8c" stroke-width="0.35" stroke-opacity="0.6"/>
<line x1="483.7" y1="253" x2="491.2" y2="253" stroke="#111" stroke-width="1" />
<circle cx="487.4" cy="248.6" r="1.3" fill="#1d4f8c"/>
<circle cx="485" cy="251.5" r="1.3" fill="#1d4f8c"/>
<circle cx="490" cy="252" r="1.3" fill="#1d4f8c"/>
<circle cx="487.4" cy="256.7" r="1.3" fill="#1d4f8c"/>
<line x1="500.1" y1="254.3" x2="500.1" y2="256.7" stroke="#2a2a2a" stroke-width="0.9" />
<line x1="500.1" y1="261.5" x2="500.1" y2="262.5" stroke="#2a2a2a" stroke-width="0.9" />
<line x1="498.1" y1="254.3" x2="502.1" y2="254.3" stroke="#2a2a2a" stroke-width="0.9" />
<line x1="498.1" y1="262.5" x2="502.1" y2="262.5" stroke="#2a2a2a" stroke-width="0.9" />
<rect x="496.3" y="256.7" width="7.599999999999966" height="4.800000000000011" fill="#a6e2ae" stroke="#22b24a" stroke-width="0.35" stroke-opacity="0.6"/>
<line x1="496.3" y1="259.5" x2="503.9" y2="259.5" stroke="#111" stroke-width="1" />
<circle cx="500.1" cy="254.3" r="1.3" fill="#22b24a"/>
<circle cx="498" cy="258" r="1.3" fill="#22b24a"/>
<circle cx="502" cy="259" r="1.3" fill="#22b24a"/>
<circle cx="500.1" cy="261.5" r="1.3" fill="#22b24a"/>
<line x1="473.4" y1="241.4" x2="502.5" y2="241.4" stroke="#8c8c8c" stroke-width="1.1" />
<text x="487.95" y="243.0" font-size="6.8" text-anchor="middle" font-weight="normal" fill="#161616" >*</text>
<line x1="486.4" y1="247.3" x2="502.5" y2="247.3" stroke="#8c8c8c" stroke-width="1.1" />
<text x="494.45" y="248.9" font-size="6.8" text-anchor="middle" font-weight="normal" fill="#161616" >*</text>
<line x1="435.2" y1="252.9" x2="463.5" y2="252.9" stroke="#8c8c8c" stroke-width="1.1" />
<text x="449.35" y="251.4" font-size="6.8" text-anchor="middle" font-weight="normal" fill="#161616" >ns</text>
<line x1="447.3" y1="260.2" x2="463.5" y2="260.2" stroke="#8c8c8c" stroke-width="1.1" />
<text x="455.4" y="258.7" font-size="6.8" text-anchor="middle" font-weight="normal" fill="#161616" >ns</text>
<text class="rl" transform="translate(437.7,272.4) rotate(-45) scale(1.0,1)" font-size="6.0" text-anchor="end" fill="#161616">Non-proliferating +CsA</text>
<text class="rl" transform="translate(450.7,272.4) rotate(-45) scale(1.0,1)" font-size="6.0" text-anchor="end" fill="#161616">1st generation +CsA</text>
<text class="rl" transform="translate(463.8,272.4) rotate(-45) scale(1.0,1)" font-size="6.0" text-anchor="end" fill="#161616">2+ generations +CsA</text>
<text class="rl" transform="translate(476.8,272.4) rotate(-45) scale(1.0,1)" font-size="6.0" text-anchor="end" fill="#161616">Non-proliferating −CsA</text>
<text class="rl" transform="translate(489.9,272.4) rotate(-45) scale(1.0,1)" font-size="6.0" text-anchor="end" fill="#161616">1st generation −CsA</text>
<text class="rl" transform="translate(502.9,272.4) rotate(-45) scale(1.0,1)" font-size="6.0" text-anchor="end" fill="#161616">2+ generations −CsA</text>
<line x1="34.5" y1="349.5" x2="34.5" y2="407.7" stroke="#1a1a1a" stroke-width="1.1" />
<line x1="31.3" y1="407.2" x2="113" y2="407.2" stroke="#2a2a2a" stroke-width="1.4" />
<line x1="31.3" y1="407.2" x2="34.5" y2="407.2" stroke="#222" stroke-width="0.9" />
<text transform="translate(28.3,409.36) scale(1.0,1)" font-size="6.0" text-anchor="end" fill="#161616">0</text>
<line x1="31.3" y1="396.46" x2="34.5" y2="396.46" stroke="#222" stroke-width="0.9" />
<text transform="translate(28.3,398.62) scale(1.0,1)" font-size="6.0" text-anchor="end" fill="#161616">20</text>
<line x1="31.3" y1="385.71999999999997" x2="34.5" y2="385.71999999999997" stroke="#222" stroke-width="0.9" />
<text transform="translate(28.3,387.88) scale(1.0,1)" font-size="6.0" text-anchor="end" fill="#161616">40</text>
<line x1="31.3" y1="374.98" x2="34.5" y2="374.98" stroke="#222" stroke-width="0.9" />
<text transform="translate(28.3,377.14000000000004) scale(1.0,1)" font-size="6.0" text-anchor="end" fill="#161616">60</text>
<line x1="31.3" y1="364.24" x2="34.5" y2="364.24" stroke="#222" stroke-width="0.9" />
<text transform="translate(28.3,366.40000000000003) scale(1.0,1)" font-size="6.0" text-anchor="end" fill="#161616">80</text>
<line x1="31.3" y1="353.5" x2="34.5" y2="353.5" stroke="#222" stroke-width="0.9" />
<text transform="translate(28.3,355.66) scale(1.0,1)" font-size="6.0" text-anchor="end" fill="#161616">100</text>
<text class="vl" transform="translate(13.0,380.5) rotate(-90) scale(0.73,1)" font-size="9.0" text-anchor="middle" fill="#161616">% Rh-123 effluxing</text>
<line x1="40.4" y1="407.2" x2="40.4" y2="410.2" stroke="#333" stroke-width="1.0" />
<line x1="49.05" y1="407.2" x2="49.05" y2="410.2" stroke="#333" stroke-width="1.0" />
<line x1="57.7" y1="407.2" x2="57.7" y2="410.2" stroke="#333" stroke-width="1.0" />
<line x1="66.35" y1="407.2" x2="66.35" y2="410.2" stroke="#333" stroke-width="1.0" />
<line x1="75.0" y1="407.2" x2="75.0" y2="410.2" stroke="#333" stroke-width="1.0" />
<line x1="83.65" y1="407.2" x2="83.65" y2="410.2" stroke="#333" stroke-width="1.0" />
<line x1="92.30000000000001" y1="407.2" x2="92.30000000000001" y2="410.2" stroke="#333" stroke-width="1.0" />
<line x1="100.95" y1="407.2" x2="100.95" y2="410.2" stroke="#333" stroke-width="1.0" />
<line x1="109.6" y1="407.2" x2="109.6" y2="410.2" stroke="#333" stroke-width="1.0" />
<line x1="40.6" y1="376" x2="40.6" y2="378.8" stroke="#2a2a2a" stroke-width="0.9" />
<line x1="40.6" y1="389.2" x2="40.6" y2="393.8" stroke="#2a2a2a" stroke-width="0.9" />
<line x1="39.1" y1="376" x2="42.1" y2="376" stroke="#2a2a2a" stroke-width="0.9" />
<line x1="39.1" y1="393.8" x2="42.1" y2="393.8" stroke="#2a2a2a" stroke-width="0.9" />
<rect x="38" y="378.8" width="5.200000000000003" height="10.399999999999977" fill="#8cb0d3" stroke="#1d4f8c" stroke-width="0.35" stroke-opacity="0.6"/>
<line x1="38" y1="386.5" x2="43.2" y2="386.5" stroke="#111" stroke-width="1" />
<circle cx="40.6" cy="376" r="1.3" fill="#1d4f8c"/>
<circle cx="40.6" cy="381" r="1.3" fill="#1d4f8c"/>
<circle cx="39" cy="386.5" r="1.3" fill="#1d4f8c"/>
<circle cx="42" cy="385" r="1.3" fill="#1d4f8c"/>
<circle cx="40.6" cy="389.2" r="1.3" fill="#1d4f8c"/>
<circle cx="40.6" cy="393.8" r="1.3" fill="#1d4f8c"/>
<line x1="49.15" y1="376" x2="49.15" y2="380.5" stroke="#2a2a2a" stroke-width="0.9" />
<line x1="49.15" y1="391.5" x2="49.15" y2="395" stroke="#2a2a2a" stroke-width="0.9" />
<line x1="47.65" y1="376" x2="50.65" y2="376" stroke="#2a2a2a" stroke-width="0.9" />
<line x1="47.65" y1="395" x2="50.65" y2="395" stroke="#2a2a2a" stroke-width="0.9" />
<rect x="46.8" y="380.5" width="4.700000000000003" height="11.0" fill="#ea9cb0" stroke="#d0102e" stroke-width="0.35" stroke-opacity="0.6"/>
<line x1="46.8" y1="381.8" x2="51.5" y2="381.8" stroke="#111" stroke-width="1" />
<circle cx="49.1" cy="376" r="1.3" fill="#d0102e"/>
<circle cx="47.5" cy="381" r="1.3" fill="#d0102e"/>
<circle cx="51" cy="381" r="1.3" fill="#d0102e"/>
<circle cx="49.1" cy="388" r="1.3" fill="#d0102e"/>
<circle cx="49.1" cy="395" r="1.3" fill="#d0102e"/>
<line x1="57.75" y1="395" x2="57.75" y2="396.2" stroke="#2a2a2a" stroke-width="0.9" />
<line x1="57.75" y1="399.6" x2="57.75" y2="402.6" stroke="#2a2a2a" stroke-width="0.9" />
<line x1="56.25" y1="395" x2="59.25" y2="395" stroke="#2a2a2a" stroke-width="0.9" />
<line x1="56.25" y1="402.6" x2="59.25" y2="402.6" stroke="#2a2a2a" stroke-width="0.9" />
<rect x="55" y="396.2" width="5.5" height="3.400000000000034" fill="#a6e2ae" stroke="#22b24a" stroke-width="0.35" stroke-opacity="0.6"/>
<line x1="55" y1="397.5" x2="60.5" y2="397.5" stroke="#111" stroke-width="1" />
<circle cx="57.7" cy="395" r="1.3" fill="#22b24a"/>
<circle cx="56" cy="397" r="1.3" fill="#22b24a"/>
<circle cx="59" cy="397.2" r="1.3" fill="#22b24a"/>
<circle cx="57.7" cy="399" r="1.3" fill="#22b24a"/>
<circle cx="57.7" cy="402.6" r="1.3" fill="#22b24a"/>
<line x1="66.5" y1="379.5" x2="66.5" y2="382.3" stroke="#2a2a2a" stroke-width="0.9" />
<line x1="66.5" y1="398.5" x2="66.5" y2="398.5" stroke="#2a2a2a" stroke-width="0.9" />
<line x1="65.0" y1="379.5" x2="68.0" y2="379.5" stroke="#2a2a2a" stroke-width="0.9" />
<line x1="65.0" y1="398.5" x2="68.0" y2="398.5" stroke="#2a2a2a" stroke-width="0.9" />
<rect x="64.2" y="382.3" width="4.599999999999994" height="16.19999999999999" fill="#b49ac8" stroke="#5b2a86" stroke-width="0.35" stroke-opacity="0.6"/>
<line x1="64.2" y1="394.5" x2="68.8" y2="394.5" stroke="#111" stroke-width="1" />
<circle cx="66.5" cy="379.5" r="1.3" fill="#5b2a86"/>
<circle cx="66.5" cy="394.5" r="1.3" fill="#5b2a86"/>
<circle cx="65" cy="398.5" r="1.3" fill="#5b2a86"/>
<circle cx="68" cy="398.5" r="1.3" fill="#5b2a86"/>
<line x1="75.35" y1="377.7" x2="75.35" y2="381.8" stroke="#2a2a2a" stroke-width="0.9" />
<line x1="75.35" y1="395" x2="75.35" y2="400.8" stroke="#2a2a2a" stroke-width="0.9" />
<line x1="73.85" y1="377.7" x2="76.85" y2="377.7" stroke="#2a2a2a" stroke-width="0.9" />
<line x1="73.85" y1="400.8" x2="76.85" y2="400.8" stroke="#2a2a2a" stroke-width="0.9" />
<rect x="72.7" y="381.8" width="5.299999999999997" height="13.199999999999989" fill="#f9c987" stroke="#f28c1a" stroke-width="0.35" stroke-opacity="0.6"/>
<line x1="72.7" y1="388" x2="78" y2="388" stroke="#111" stroke-width="1" />
<circle cx="75.3" cy="377.7" r="1.3" fill="#f28c1a"/>
<circle cx="75.3" cy="382" r="1.3" fill="#f28c1a"/>
<circle cx="75.3" cy="390" r="1.3" fill="#f28c1a"/>
<circle cx="75.3" cy="400.8" r="1.3" fill="#f28c1a"/>
<line x1="83.5" y1="404.2" x2="83.5" y2="404.6" stroke="#2a2a2a" stroke-width="0.9" />
<line x1="83.5" y1="407" x2="83.5" y2="407" stroke="#2a2a2a" stroke-width="0.9" />
<line x1="82.0" y1="404.2" x2="85.0" y2="404.2" stroke="#2a2a2a" stroke-width="0.9" />
<line x1="82.0" y1="407" x2="85.0" y2="407" stroke="#2a2a2a" stroke-width="0.9" />
<rect x="81.2" y="404.6" width="4.599999999999994" height="2.3999999999999773" fill="#5fa88a" stroke="#14694a" stroke-width="0.35" stroke-opacity="0.6"/>
<circle cx="83.5" cy="405.2" r="1.8" fill="#14694a"/>
<circle cx="82.5" cy="405.8" r="1.8" fill="#14694a"/>
<circle cx="84.5" cy="405.8" r="1.8" fill="#14694a"/>
<line x1="92.3" y1="403.8" x2="92.3" y2="404.2" stroke="#2a2a2a" stroke-width="0.9" />
<line x1="92.3" y1="407" x2="92.3" y2="407" stroke="#2a2a2a" stroke-width="0.9" />
<line x1="90.8" y1="403.8" x2="93.8" y2="403.8" stroke="#2a2a2a" stroke-width="0.9" />
<line x1="90.8" y1="407" x2="93.8" y2="407" stroke="#2a2a2a" stroke-width="0.9" />
<rect x="90" y="404.2" width="4.599999999999994" height="2.8000000000000114" fill="#c9bdf0" stroke="#6e5bb5" stroke-width="0.35" stroke-opacity="0.6"/>
<circle cx="92.3" cy="404.5" r="1.6" fill="#6e5bb5"/>
<line x1="100.9" y1="405" x2="100.9" y2="405" stroke="#2a2a2a" stroke-width="0.9" />
<line x1="100.9" y1="407" x2="100.9" y2="407" stroke="#2a2a2a" stroke-width="0.9" />
<line x1="99.4" y1="405" x2="102.4" y2="405" stroke="#2a2a2a" stroke-width="0.9" />
<line x1="99.4" y1="407" x2="102.4" y2="407" stroke="#2a2a2a" stroke-width="0.9" />
<rect x="98.6" y="405" width="4.6000000000000085" height="2" fill="#6b7a99" stroke="#1f2a4a" stroke-width="0.35" stroke-opacity="0.6"/>
<circle cx="100.9" cy="405.6" r="1.5" fill="#1f2a4a"/>
<circle cx="99.5" cy="406" r="1.5" fill="#1f2a4a"/>
<circle cx="102.3" cy="406" r="1.5" fill="#1f2a4a"/>
<line x1="109.6" y1="404" x2="109.6" y2="404.5" stroke="#2a2a2a" stroke-width="0.9" />
<line x1="109.6" y1="407" x2="109.6" y2="407" stroke="#2a2a2a" stroke-width="0.9" />
<line x1="108.1" y1="404" x2="111.1" y2="404" stroke="#2a2a2a" stroke-width="0.9" />
<line x1="108.1" y1="407" x2="111.1" y2="407" stroke="#2a2a2a" stroke-width="0.9" />
<rect x="107.3" y="404.5" width="4.6000000000000085" height="2.5" fill="#8ecdf0" stroke="#1b8fd0" stroke-width="0.35" stroke-opacity="0.6"/>
<circle cx="109.6" cy="404.5" r="1.3" fill="#1b8fd0"/>
<circle cx="108.3" cy="405.5" r="1.3" fill="#1b8fd0"/>
<circle cx="111" cy="406" r="1.3" fill="#1b8fd0"/>
<line x1="40.4" y1="356.7" x2="77.3" y2="356.7" stroke="#8c8c8c" stroke-width="1.1" />
<text x="58.849999999999994" y="355.2" font-size="6.8" text-anchor="middle" font-weight="normal" fill="#161616" >ns</text>
<line x1="40.4" y1="362.8" x2="68.8" y2="362.8" stroke="#8c8c8c" stroke-width="1.1" />
<text x="54.599999999999994" y="364.40000000000003" font-size="6.8" text-anchor="middle" font-weight="normal" fill="#161616" >*</text>
<line x1="40.4" y1="368.6" x2="57.7" y2="368.6" stroke="#8c8c8c" stroke-width="1.1" />
<text x="49.05" y="370.20000000000005" font-size="6.8" text-anchor="middle" font-weight="normal" fill="#161616" >**</text>
<line x1="40.4" y1="373.6" x2="48.9" y2="373.6" stroke="#8c8c8c" stroke-width="1.1" />
<text x="45.2" y="372.1" font-size="6.8" text-anchor="middle" font-weight="normal" fill="#161616" >ns</text>
<line x1="83.5" y1="389.3" x2="112.4" y2="389.3" stroke="#8c8c8c" stroke-width="1.1" />
<text x="98" y="387.8" font-size="6.8" text-anchor="middle" font-weight="normal" fill="#161616" >ns</text>
<line x1="83.5" y1="395.1" x2="100.9" y2="395.1" stroke="#8c8c8c" stroke-width="1.1" />
<text x="91.8" y="393.6" font-size="6.8" text-anchor="middle" font-weight="normal" fill="#161616" >ns</text>
<line x1="83.5" y1="400.9" x2="92.3" y2="400.9" stroke="#8c8c8c" stroke-width="1.1" />
<text x="87.6" y="399.4" font-size="6.8" text-anchor="middle" font-weight="normal" fill="#161616" >ns</text>
<text class="rl" transform="translate(43.8,415.2) rotate(-45) scale(1.0,1)" font-size="6.3" text-anchor="end" fill="#161616">No cytokines</text>
<text class="rl" transform="translate(52.449999999999996,415.2) rotate(-45) scale(1.0,1)" font-size="6.3" text-anchor="end" fill="#161616">IL-2 10 IU/ml</text>
<text class="rl" transform="translate(61.1,415.2) rotate(-45) scale(1.0,1)" font-size="6.3" text-anchor="end" fill="#161616">IL-7 10 ng/ml</text>
<text class="rl" transform="translate(69.75,415.2) rotate(-45) scale(1.0,1)" font-size="6.3" text-anchor="end" fill="#161616">IL-15 10 ng/ml</text>
<text class="rl" transform="translate(78.4,415.2) rotate(-45) scale(1.0,1)" font-size="6.3" text-anchor="end" fill="#161616">MLC</text>
<text class="rl" transform="translate(87.05000000000001,415.2) rotate(-45) scale(1.0,1)" font-size="6.3" text-anchor="end" fill="#161616">Anti-CD3/CD28 beads</text>
<text class="rl" transform="translate(95.70000000000002,415.2) rotate(-45) scale(1.0,1)" font-size="6.3" text-anchor="end" fill="#161616">Beads + IL-2</text>
<text class="rl" transform="translate(104.35000000000001,415.2) rotate(-45) scale(1.0,1)" font-size="6.3" text-anchor="end" fill="#161616">Beads + IL-7</text>
<text class="rl" transform="translate(113.0,415.2) rotate(-45) scale(1.0,1)" font-size="6.3" text-anchor="end" fill="#161616">Beads + IL-15</text>
<text x="118.3" y="341.6" font-size="7.8" text-anchor="start" font-weight="normal" fill="#161616" >Day 3</text>
<line x1="153.6" y1="349.5" x2="153.6" y2="407.7" stroke="#1a1a1a" stroke-width="1.1" />
<line x1="150.4" y1="407.2" x2="220" y2="407.2" stroke="#2a2a2a" stroke-width="1.4" />
<line x1="150.4" y1="407.2" x2="153.6" y2="407.2" stroke="#222" stroke-width="0.9" />
<text transform="translate(147.4,409.36) scale(1.0,1)" font-size="6.0" text-anchor="end" fill="#161616">0</text>
<line x1="150.4" y1="396.38" x2="153.6" y2="396.38" stroke="#222" stroke-width="0.9" />
<text transform="translate(147.4,398.54) scale(1.0,1)" font-size="6.0" text-anchor="end" fill="#161616">20</text>
<line x1="150.4" y1="385.56" x2="153.6" y2="385.56" stroke="#222" stroke-width="0.9" />
<text transform="translate(147.4,387.72) scale(1.0,1)" font-size="6.0" text-anchor="end" fill="#161616">40</text>
<line x1="150.4" y1="374.74" x2="153.6" y2="374.74" stroke="#222" stroke-width="0.9" />
<text transform="translate(147.4,376.90000000000003) scale(1.0,1)" font-size="6.0" text-anchor="end" fill="#161616">60</text>
<line x1="150.4" y1="363.92" x2="153.6" y2="363.92" stroke="#222" stroke-width="0.9" />
<text transform="translate(147.4,366.08000000000004) scale(1.0,1)" font-size="6.0" text-anchor="end" fill="#161616">80</text>
<line x1="150.4" y1="353.1" x2="153.6" y2="353.1" stroke="#222" stroke-width="0.9" />
<text transform="translate(147.4,355.26000000000005) scale(1.0,1)" font-size="6.0" text-anchor="end" fill="#161616">100</text>
<text class="vl" transform="translate(132,380.5) rotate(-90) scale(0.73,1)" font-size="9.0" text-anchor="middle" fill="#161616">% Rh-123 effluxing</text>
<line x1="160.75" y1="407.5" x2="160.75" y2="410.5" stroke="#333" stroke-width="1.0" />
<line x1="169.75" y1="407.5" x2="169.75" y2="410.5" stroke="#333" stroke-width="1.0" />
<line x1="178.75" y1="407.5" x2="178.75" y2="410.5" stroke="#333" stroke-width="1.0" />
<line x1="187.75" y1="407.5" x2="187.75" y2="410.5" stroke="#333" stroke-width="1.0" />
<line x1="196.75" y1="407.5" x2="196.75" y2="410.5" stroke="#333" stroke-width="1.0" />
<line x1="205.75" y1="407.5" x2="205.75" y2="410.5" stroke="#333" stroke-width="1.0" />
<line x1="214.75" y1="407.5" x2="214.75" y2="410.5" stroke="#333" stroke-width="1.0" />
<line x1="160.875" y1="365.75" x2="160.875" y2="369.5" stroke="#2a2a2a" stroke-width="0.9" />
<line x1="160.875" y1="388.75" x2="160.875" y2="392.5" stroke="#2a2a2a" stroke-width="0.9" />
<line x1="159.125" y1="365.75" x2="162.625" y2="365.75" stroke="#2a2a2a" stroke-width="0.9" />
<line x1="159.125" y1="392.5" x2="162.625" y2="392.5" stroke="#2a2a2a" stroke-width="0.9" />
<rect x="157.5" y="369.5" width="6.75" height="19.25" fill="#8cb0d3" stroke="#1d4f8c" stroke-width="0.35" stroke-opacity="0.6"/>
<line x1="157.5" y1="380" x2="164.25" y2="380" stroke="#111" stroke-width="1" />
<circle cx="160.9" cy="365.75" r="1.3" fill="#1d4f8c"/>
<circle cx="160.9" cy="377" r="1.3" fill="#1d4f8c"/>
<circle cx="159.5" cy="381" r="1.3" fill="#1d4f8c"/>
<circle cx="160.9" cy="392.5" r="1.3" fill="#1d4f8c"/>
<line x1="170.125" y1="367.5" x2="170.125" y2="371.25" stroke="#2a2a2a" stroke-width="0.9" />
<line x1="170.125" y1="392.5" x2="170.125" y2="395.5" stroke="#2a2a2a" stroke-width="0.9" />
<line x1="168.375" y1="367.5" x2="171.875" y2="367.5" stroke="#2a2a2a" stroke-width="0.9" />
<line x1="168.375" y1="395.5" x2="171.875" y2="395.5" stroke="#2a2a2a" stroke-width="0.9" />
<rect x="167" y="371.25" width="6.25" height="21.25" fill="#ea9cb0" stroke="#d0102e" stroke-width="0.35" stroke-opacity="0.6"/>
<line x1="167" y1="381.25" x2="173.25" y2="381.25" stroke="#111" stroke-width="1" />
<circle cx="170.1" cy="367.5" r="1.3" fill="#d0102e"/>
<circle cx="170.1" cy="376" r="1.3" fill="#d0102e"/>
<circle cx="170.1" cy="385" r="1.3" fill="#d0102e"/>
<circle cx="170.1" cy="395.5" r="1.3" fill="#d0102e"/>
<line x1="179.0" y1="378" x2="179.0" y2="382" stroke="#2a2a2a" stroke-width="0.9" />
<line x1="179.0" y1="397.5" x2="179.0" y2="402.5" stroke="#2a2a2a" stroke-width="0.9" />
<line x1="177.25" y1="378" x2="180.75" y2="378" stroke="#2a2a2a" stroke-width="0.9" />
<line x1="177.25" y1="402.5" x2="180.75" y2="402.5" stroke="#2a2a2a" stroke-width="0.9" />
<rect x="175.5" y="382" width="7.0" height="15.5" fill="#a6e2ae" stroke="#22b24a" stroke-width="0.35" stroke-opacity="0.6"/>
<line x1="175.5" y1="394.5" x2="182.5" y2="394.5" stroke="#111" stroke-width="1" />
<circle cx="179" cy="378" r="1.3" fill="#22b24a"/>
<circle cx="179" cy="390" r="1.3" fill="#22b24a"/>
<circle cx="179" cy="398" r="1.3" fill="#22b24a"/>
<circle cx="179" cy="402.5" r="1.3" fill="#22b24a"/>
<line x1="188.125" y1="374.5" x2="188.125" y2="378.75" stroke="#2a2a2a" stroke-width="0.9" />
<line x1="188.125" y1="395" x2="188.125" y2="398.75" stroke="#2a2a2a" stroke-width="0.9" />
<line x1="186.375" y1="374.5" x2="189.875" y2="374.5" stroke="#2a2a2a" stroke-width="0.9" />
<line x1="186.375" y1="398.75" x2="189.875" y2="398.75" stroke="#2a2a2a" stroke-width="0.9" />
<rect x="185" y="378.75" width="6.25" height="16.25" fill="#b49ac8" stroke="#5b2a86" stroke-width="0.35" stroke-opacity="0.6"/>
<line x1="185" y1="386.25" x2="191.25" y2="386.25" stroke="#111" stroke-width="1" />
<circle cx="188.1" cy="374.5" r="1.3" fill="#5b2a86"/>
<circle cx="187" cy="386" r="1.3" fill="#5b2a86"/>
<circle cx="190" cy="386.5" r="1.3" fill="#5b2a86"/>
<circle cx="188.1" cy="398.75" r="1.3" fill="#5b2a86"/>
<line x1="196.875" y1="374.5" x2="196.875" y2="377" stroke="#2a2a2a" stroke-width="0.9" />
<line x1="196.875" y1="399.5" x2="196.875" y2="403.75" stroke="#2a2a2a" stroke-width="0.9" />
<line x1="195.125" y1="374.5" x2="198.625" y2="374.5" stroke="#2a2a2a" stroke-width="0.9" />
<line x1="195.125" y1="403.75" x2="198.625" y2="403.75" stroke="#2a2a2a" stroke-width="0.9" />
<rect x="193.75" y="377" width="6.25" height="22.5" fill="#f9c987" stroke="#f28c1a" stroke-width="0.35" stroke-opacity="0.6"/>
<line x1="193.75" y1="387.5" x2="200" y2="387.5" stroke="#111" stroke-width="1" />
<circle cx="196.9" cy="374.5" r="1.3" fill="#f28c1a"/>
<circle cx="196.9" cy="379" r="1.3" fill="#f28c1a"/>
<circle cx="196.9" cy="392" r="1.3" fill="#f28c1a"/>
<circle cx="196.9" cy="403.75" r="1.3" fill="#f28c1a"/>
<line x1="205.875" y1="367" x2="205.875" y2="370" stroke="#2a2a2a" stroke-width="0.9" />
<line x1="205.875" y1="392" x2="205.875" y2="393.75" stroke="#2a2a2a" stroke-width="0.9" />
<line x1="204.125" y1="367" x2="207.625" y2="367" stroke="#2a2a2a" stroke-width="0.9" />
<line x1="204.125" y1="393.75" x2="207.625" y2="393.75" stroke="#2a2a2a" stroke-width="0.9" />
<rect x="202.5" y="370" width="6.75" height="22" fill="#5fa88a" stroke="#14694a" stroke-width="0.35" stroke-opacity="0.6"/>
<line x1="202.5" y1="380" x2="209.25" y2="380" stroke="#111" stroke-width="1" />
<circle cx="205.9" cy="367" r="1.3" fill="#14694a"/>
<circle cx="205.9" cy="373" r="1.3" fill="#14694a"/>
<circle cx="205.9" cy="387" r="1.3" fill="#14694a"/>
<circle cx="205.9" cy="393.75" r="1.3" fill="#14694a"/>
<line x1="214.625" y1="368" x2="214.625" y2="370.75" stroke="#2a2a2a" stroke-width="0.9" />
<line x1="214.625" y1="387.5" x2="214.625" y2="387.5" stroke="#2a2a2a" stroke-width="0.9" />
<line x1="212.875" y1="368" x2="216.375" y2="368" stroke="#2a2a2a" stroke-width="0.9" />
<line x1="212.875" y1="387.5" x2="216.375" y2="387.5" stroke="#2a2a2a" stroke-width="0.9" />
<rect x="211.25" y="370.75" width="6.75" height="16.75" fill="#c9bdf0" stroke="#6e5bb5" stroke-width="0.35" stroke-opacity="0.6"/>
<line x1="211.25" y1="380" x2="218" y2="380" stroke="#111" stroke-width="1" />
<circle cx="214.6" cy="368" r="1.3" fill="#6e5bb5"/>
<circle cx="214.6" cy="373" r="1.3" fill="#6e5bb5"/>
<circle cx="212.5" cy="387.5" r="1.3" fill="#6e5bb5"/>
<circle cx="216.5" cy="387.5" r="1.3" fill="#6e5bb5"/>
<line x1="160" y1="333.8" x2="215.5" y2="333.8" stroke="#8c8c8c" stroke-width="1.1" />
<text x="187.5" y="332.3" font-size="6.8" text-anchor="middle" font-weight="normal" fill="#161616" >ns</text>
<line x1="160" y1="340" x2="207" y2="340" stroke="#8c8c8c" stroke-width="1.1" />
<text x="183.8" y="338.5" font-size="6.8" text-anchor="middle" font-weight="normal" fill="#161616" >ns</text>
<line x1="160" y1="345.8" x2="200" y2="345.8" stroke="#8c8c8c" stroke-width="1.1" />
<text x="180" y="344.3" font-size="6.8" text-anchor="middle" font-weight="normal" fill="#161616" >ns</text>
<line x1="160" y1="351.3" x2="191.25" y2="351.3" stroke="#8c8c8c" stroke-width="1.1" />
<text x="175.5" y="352.90000000000003" font-size="6.8" text-anchor="middle" font-weight="normal" fill="#161616" >*</text>
<line x1="160" y1="356.3" x2="180.75" y2="356.3" stroke="#8c8c8c" stroke-width="1.1" />
<text x="170.5" y="357.90000000000003" font-size="6.8" text-anchor="middle" font-weight="normal" fill="#161616" >*</text>
<line x1="160" y1="362.5" x2="169.5" y2="362.5" stroke="#8c8c8c" stroke-width="1.1" />
<text x="165" y="361.0" font-size="6.8" text-anchor="middle" font-weight="normal" fill="#161616" >ns</text>
<text class="rl" transform="translate(164.05,415.6) rotate(-45) scale(1.0,1)" font-size="6.3" text-anchor="end" fill="#161616">No cytokines</text>
<text class="rl" transform="translate(173.05,415.6) rotate(-45) scale(1.0,1)" font-size="6.3" text-anchor="end" fill="#161616">IL-2 10 IU/ml</text>
<text class="rl" transform="translate(182.05,415.6) rotate(-45) scale(1.0,1)" font-size="6.3" text-anchor="end" fill="#161616">IL-7 10 ng/ml</text>
<text class="rl" transform="translate(191.05,415.6) rotate(-45) scale(1.0,1)" font-size="6.3" text-anchor="end" fill="#161616">IL-15 10 ng/ml</text>
<text class="rl" transform="translate(200.05,415.6) rotate(-45) scale(1.0,1)" font-size="6.3" text-anchor="end" fill="#161616">IL-4 10 ng/ml</text>
<text class="rl" transform="translate(209.05,415.6) rotate(-45) scale(1.0,1)" font-size="6.3" text-anchor="end" fill="#161616">IL-9 10 ng/ml</text>
<text class="rl" transform="translate(218.05,415.6) rotate(-45) scale(1.0,1)" font-size="6.3" text-anchor="end" fill="#161616">IL-21 10 ng/ml</text>
<text x="255.8" y="352.9" font-size="7.8" text-anchor="middle" font-weight="normal" fill="#161616" >Transplant</text>
<text x="315.5" y="352.9" font-size="7.8" text-anchor="middle" font-weight="normal" fill="#161616" >PTCy</text>
<line x1="254.5" y1="357" x2="254.5" y2="367" stroke="#111" stroke-width="1" />
<path d="M254.5,370 L252.3,365.8 L256.7,365.8 Z" fill="#111"/>
<path d="M306.5,369 L306.5,357.5 L323.2,357.5 L323.2,369" fill="none" stroke="#111" stroke-width="1"/>
<path d="M306.5,370 L304.3,365.8 L308.7,365.8 Z M323.2,370 L321,365.8 L325.4,365.8 Z" fill="#111"/>
<line x1="248.3" y1="376.7" x2="329.5" y2="376.7" stroke="#111" stroke-width="1.1" />
<line x1="254.5" y1="373" x2="254.5" y2="376.7" stroke="#111" stroke-width="1" />
<text x="254.5" y="388" font-size="8.2" text-anchor="middle" font-weight="normal" fill="#161616" >D0</text>
<line x1="271.8" y1="373" x2="271.8" y2="376.7" stroke="#111" stroke-width="1" />
<text x="271.8" y="388" font-size="8.2" text-anchor="middle" font-weight="normal" fill="#161616" >D1</text>
<line x1="289" y1="373" x2="289" y2="376.7" stroke="#111" stroke-width="1" />
<text x="289" y="388" font-size="8.2" text-anchor="middle" font-weight="normal" fill="#161616" >D2</text>
<line x1="306.4" y1="373" x2="306.4" y2="376.7" stroke="#111" stroke-width="1" />
<text x="306.4" y="388" font-size="8.2" text-anchor="middle" font-weight="normal" fill="#161616" >D3</text>
<line x1="323.2" y1="373" x2="323.2" y2="376.7" stroke="#111" stroke-width="1" />
<text x="323.2" y="388" font-size="8.2" text-anchor="middle" font-weight="normal" fill="#161616" >D4</text>
<line x1="254.5" y1="407.5" x2="254.5" y2="393.5" stroke="#111" stroke-width="1" />
<path d="M254.5,390.5 L252.3,394.7 L256.7,394.7 Z" fill="#111"/>
<line x1="306.4" y1="407.5" x2="306.4" y2="393.5" stroke="#111" stroke-width="1" />
<path d="M306.4,390.5 L304.2,394.7 L308.59999999999997,394.7 Z" fill="#111"/>
<rect x="231.2" y="409.4" width="2.6" height="2.4" fill="#5cb85c" stroke="none" stroke-width="1" />
<rect x="231.2" y="414.3" width="2.6" height="8.2" fill="#a52a2a" stroke="none" stroke-width="1" />
<text x="0" y="0" font-size="7.4" text-anchor="start" font-weight="normal" fill="#161616" transform="translate(237.8,415.4) scale(0.93,1)" >Effluxing of</text>
<text x="0" y="0" font-size="7.4" text-anchor="start" font-weight="normal" fill="#161616" transform="translate(237.8,424.0) scale(0.93,1)" >recipient and</text>
<text x="0" y="0" font-size="7.4" text-anchor="start" font-weight="normal" fill="#161616" transform="translate(237.8,432.59999999999997) scale(0.93,1)" >donor PBMCs</text>
<text x="0" y="0" font-size="7.4" text-anchor="start" font-weight="normal" fill="#161616" transform="translate(237.8,441.2) scale(0.93,1)" >(pre-transplant)</text>
<rect x="288.2" y="409.4" width="2.6" height="2.4" fill="#5cb85c" stroke="none" stroke-width="1" />
<rect x="288.2" y="414.3" width="2.6" height="8.2" fill="#a52a2a" stroke="none" stroke-width="1" />
<text x="0" y="0" font-size="7.4" text-anchor="start" font-weight="normal" fill="#161616" transform="translate(294.8,415.4) scale(0.93,1)" >Effluxing</text>
<text x="0" y="0" font-size="7.4" text-anchor="start" font-weight="normal" fill="#161616" transform="translate(294.8,424.0) scale(0.93,1)" >of recipient</text>
<text x="0" y="0" font-size="7.4" text-anchor="start" font-weight="normal" fill="#161616" transform="translate(294.8,432.59999999999997) scale(0.93,1)" >PBMCs</text>
<text x="0" y="0" font-size="7.4" text-anchor="start" font-weight="normal" fill="#161616" transform="translate(294.8,441.2) scale(0.93,1)" >(pre-PTCy)</text>
<text x="360.8" y="343.6" font-size="8.2" fill="#161616">Blood CD8<tspan font-size="5.5" dy="-3">+</tspan><tspan dy="3"> T cells</tspan></text>
<line x1="372.5" y1="349.1" x2="372.5" y2="407.8" stroke="#1a1a1a" stroke-width="1.1" />
<line x1="369.3" y1="407.3" x2="418.8" y2="407.3" stroke="#2a2a2a" stroke-width="1.4" />
<line x1="369.3" y1="407.3" x2="372.5" y2="407.3" stroke="#222" stroke-width="0.9" />
<text transform="translate(366.3,409.46000000000004) scale(1.0,1)" font-size="6.0" text-anchor="end" fill="#161616">0</text>
<line x1="369.3" y1="396.40000000000003" x2="372.5" y2="396.40000000000003" stroke="#222" stroke-width="0.9" />
<text transform="translate(366.3,398.56000000000006) scale(1.0,1)" font-size="6.0" text-anchor="end" fill="#161616">2</text>
<line x1="369.3" y1="385.5" x2="372.5" y2="385.5" stroke="#222" stroke-width="0.9" />
<text transform="translate(366.3,387.66) scale(1.0,1)" font-size="6.0" text-anchor="end" fill="#161616">4</text>
<line x1="369.3" y1="374.6" x2="372.5" y2="374.6" stroke="#222" stroke-width="0.9" />
<text transform="translate(366.3,376.76000000000005) scale(1.0,1)" font-size="6.0" text-anchor="end" fill="#161616">6</text>
<line x1="369.3" y1="363.7" x2="372.5" y2="363.7" stroke="#222" stroke-width="0.9" />
<text transform="translate(366.3,365.86) scale(1.0,1)" font-size="6.0" text-anchor="end" fill="#161616">8</text>
<line x1="369.3" y1="352.8" x2="372.5" y2="352.8" stroke="#222" stroke-width="0.9" />
<text transform="translate(366.3,354.96000000000004) scale(1.0,1)" font-size="6.0" text-anchor="end" fill="#161616">10</text>
<text class="vl" transform="translate(355.2,380) rotate(-90) scale(0.73,1)" font-size="9.0" text-anchor="middle" fill="#161616">% Rh-123 effluxing</text>
<line x1="378.5" y1="407.3" x2="378.5" y2="410.3" stroke="#333" stroke-width="1.0" />
<line x1="396" y1="407.3" x2="396" y2="410.3" stroke="#333" stroke-width="1.0" />
<line x1="413.5" y1="407.3" x2="413.5" y2="410.3" stroke="#333" stroke-width="1.0" />
<path d="M378.5,406.2 L396,385.5 L413.5,373.5" fill="none" stroke="#d0102e" stroke-width="1"/>
<rect x="377.24" y="404.95000000000005" width="2.52" height="2.52" fill="#d0102e" stroke="none" stroke-width="1" />
<rect x="394.74" y="384.24" width="2.52" height="2.52" fill="#d0102e" stroke="none" stroke-width="1" />
<rect x="412.24" y="372.25" width="2.52" height="2.52" fill="#d0102e" stroke="none" stroke-width="1" />
<path d="M378.5,406.2 L396,384.4 L413.5,362.1" fill="none" stroke="#5b2a86" stroke-width="1"/>
<path d="M378.5,407.77 L380.18,405.01 L376.82,405.01 Z" fill="#5b2a86"/>
<path d="M396,385.97 L397.68,383.21 L394.32,383.21 Z" fill="#5b2a86"/>
<path d="M413.5,363.62 L415.18,360.87 L411.82,360.87 Z" fill="#5b2a86"/>
<path d="M396,402.4 L413.5,374.6" fill="none" stroke="#1d4f8c" stroke-width="1"/>
<circle cx="396" cy="402.39500000000004" r="1.32" fill="#1d4f8c"/>
<circle cx="413.5" cy="374.6" r="1.32" fill="#1d4f8c"/>
<path d="M378.5,398.6 L413.5,391.5" fill="none" stroke="#3cb44b" stroke-width="1"/>
<path d="M378.5,397.02 L380.18,399.78 L376.82,399.78 Z" fill="#3cb44b"/>
<path d="M413.5,389.94 L415.18,392.69 L411.82,392.69 Z" fill="#3cb44b"/>
<path d="M378.5,406.8 L413.5,404.6" fill="none" stroke="#f5a623" stroke-width="1"/>
<path d="M378.5,405.31 L379.94,406.755 L378.5,408.19 L377.06,406.755 Z" fill="#f5a623"/>
<path d="M413.5,403.13 L414.94,404.575 L413.5,406.01 L412.06,404.575 Z" fill="#f5a623"/>
<text class="rl" transform="translate(381.5,414) rotate(-45) scale(1.0,1)" font-size="7.6" text-anchor="end" fill="#161616">D0 recipient</text>
<text class="rl" transform="translate(399,414) rotate(-45) scale(1.0,1)" font-size="7.6" text-anchor="end" fill="#161616">D0 donor</text>
<text class="rl" transform="translate(416.5,414) rotate(-45) scale(1.0,1)" font-size="7.6" text-anchor="end" fill="#161616">D3 recipient</text>
<line x1="424.3" y1="352.8" x2="433.4" y2="352.8" stroke="#d0102e" stroke-width="1" />
<rect x="426.79999999999995" y="350.7" width="4.2" height="4.2" fill="#d0102e" stroke="none" stroke-width="1" />
<text x="436.8" y="351.70000000000005" font-size="7.2" text-anchor="start" font-weight="normal" fill="#161616" >7/8 (9/10) HLA-matched</text>
<text x="436.8" y="360.6" font-size="7.2" text-anchor="start" font-weight="normal" fill="#161616" >unrelated donor HCT</text>
<line x1="424.3" y1="372.4" x2="433.4" y2="372.4" stroke="#3cb44b" stroke-width="1" />
<path d="M428.9,369.80 L431.70,374.40 L426.10,374.40 Z" fill="#3cb44b"/>
<text x="436.8" y="370.40000000000003" font-size="7.2" text-anchor="start" font-weight="normal" fill="#161616" >10/10 HLA-matched</text>
<text x="436.8" y="379.3" font-size="7.2" text-anchor="start" font-weight="normal" fill="#161616" >unrelated donor HCT</text>
<line x1="424.3" y1="391.1" x2="433.4" y2="391.1" stroke="#5b2a86" stroke-width="1" />
<path d="M428.9,393.70 L431.70,389.10 L426.10,389.10 Z" fill="#5b2a86"/>
<text x="436.8" y="390.5" font-size="7.2" text-anchor="start" font-weight="normal" fill="#161616" >10/10 HLA-matched</text>
<text x="436.8" y="399.4" font-size="7.2" text-anchor="start" font-weight="normal" fill="#161616" >unrelated donor HCT</text>
<line x1="424.3" y1="411.6" x2="433.4" y2="411.6" stroke="#f5a623" stroke-width="1" />
<path d="M428.9,409.20 L431.30,411.6 L428.9,414.00 L426.50,411.6 Z" fill="#f5a623"/>
<text x="436.8" y="410.20000000000005" font-size="7.2" text-anchor="start" font-weight="normal" fill="#161616" >HLA-matched sibling</text>
<text x="436.8" y="419.1" font-size="7.2" text-anchor="start" font-weight="normal" fill="#161616" >donor HCT</text>
<line x1="424.3" y1="431" x2="433.4" y2="431" stroke="#1d4f8c" stroke-width="1" />
<circle cx="428.9" cy="431" r="2.2" fill="#1d4f8c"/>
<text x="436.8" y="429.40000000000003" font-size="7.2" text-anchor="start" font-weight="normal" fill="#161616" >HLA-matched sibling</text>
<text x="436.8" y="438.3" font-size="7.2" text-anchor="start" font-weight="normal" fill="#161616" >donor HCT</text>
<rect x="0.5" y="0.5" width="519" height="463" fill="none" stroke="#000" stroke-width="1"/>
</svg></body></html>
